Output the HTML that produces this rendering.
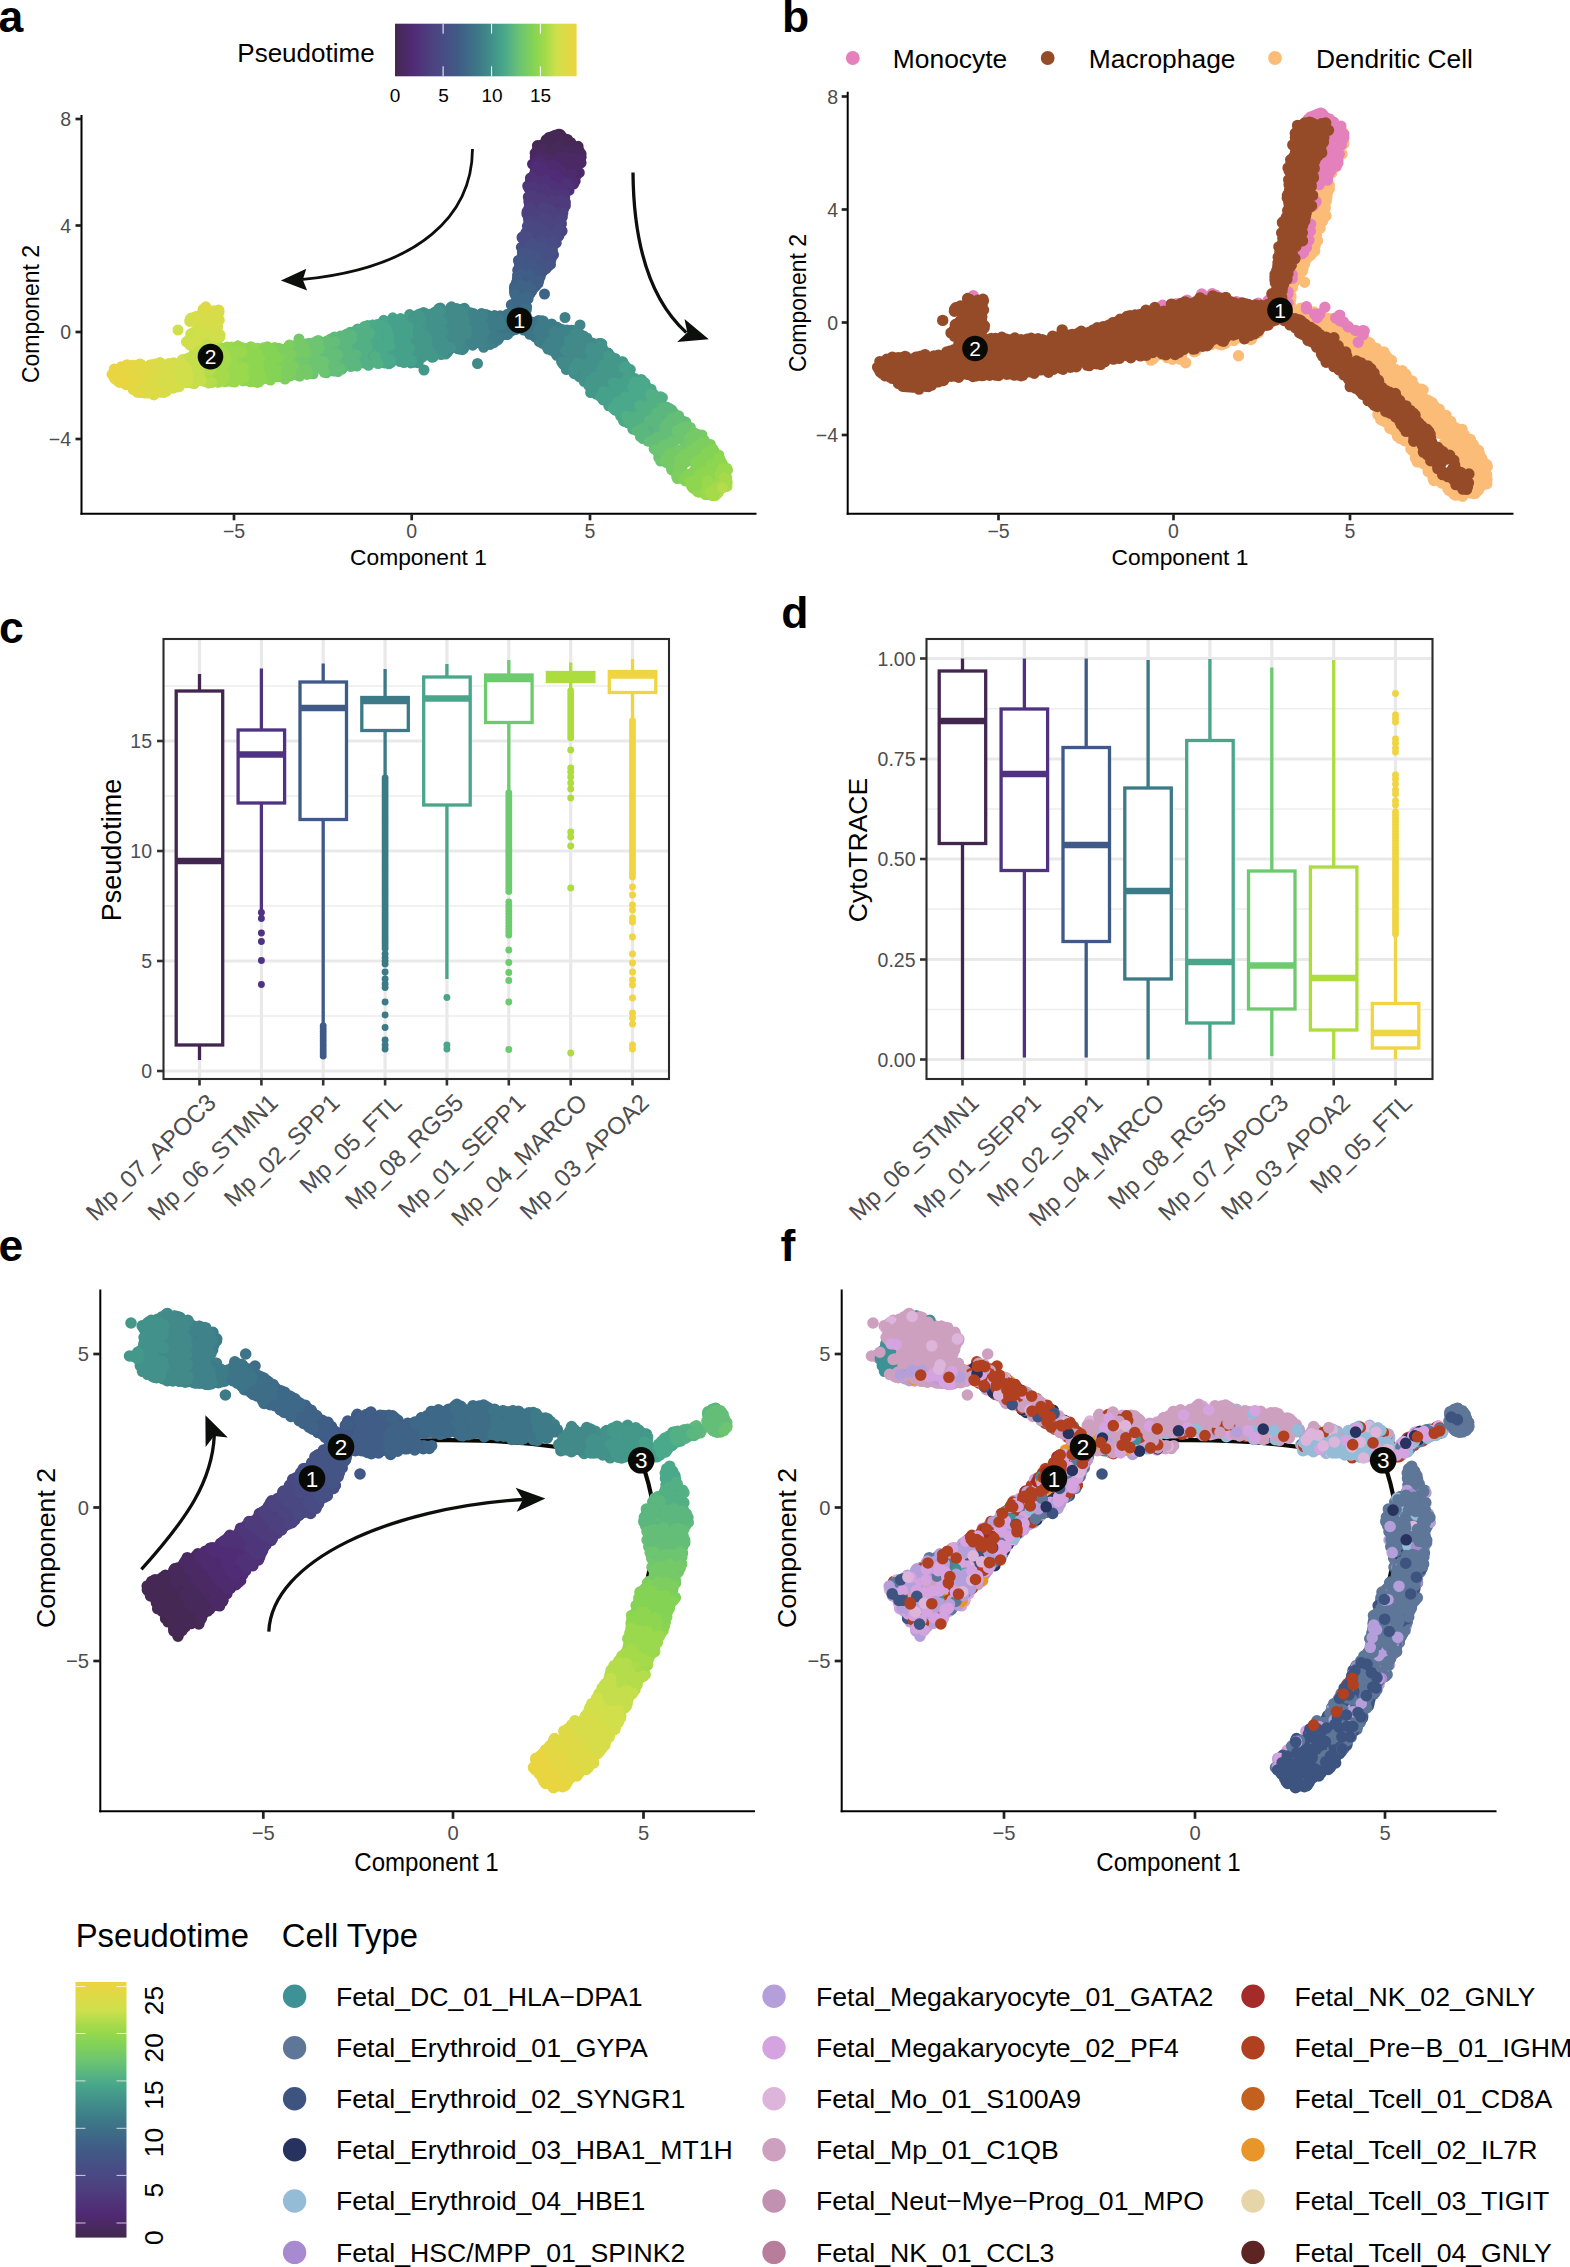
<!DOCTYPE html>
<html lang="en"><head><meta charset="utf-8"><title>Figure</title>
<style>html,body{margin:0;padding:0;background:#fff}svg{display:block}</style></head>
<body>
<svg width="1570" height="2267" viewBox="0 0 1570 2267" font-family="'Liberation Sans', Arial, Helvetica, sans-serif">
<rect width="1570" height="2267" fill="#fff"/>
<text transform="translate(-1.5 32.4)" font-size="44.5" fill="#000" text-anchor="start" font-weight="bold">a</text>
<line x1="81.5" y1="115.0" x2="81.5" y2="514.8" stroke="#000" stroke-width="2"/>
<line x1="80.5" y1="513.8" x2="756.5" y2="513.8" stroke="#000" stroke-width="2"/>
<line x1="75.5" y1="119.0" x2="81.0" y2="119.0" stroke="#222" stroke-width="2.7"/>
<text transform="translate(71.0 126.0)" font-size="19.5" fill="#4D4D4D" text-anchor="end">8</text>
<line x1="75.5" y1="225.5" x2="81.0" y2="225.5" stroke="#222" stroke-width="2.7"/>
<text transform="translate(71.0 232.5)" font-size="19.5" fill="#4D4D4D" text-anchor="end">4</text>
<line x1="75.5" y1="332.0" x2="81.0" y2="332.0" stroke="#222" stroke-width="2.7"/>
<text transform="translate(71.0 339.0)" font-size="19.5" fill="#4D4D4D" text-anchor="end">0</text>
<line x1="75.5" y1="439.0" x2="81.0" y2="439.0" stroke="#222" stroke-width="2.7"/>
<text transform="translate(71.0 446.0)" font-size="19.5" fill="#4D4D4D" text-anchor="end">−4</text>
<line x1="234.0" y1="514.3" x2="234.0" y2="520.3" stroke="#222" stroke-width="2.7"/>
<text transform="translate(234.0 538.0)" font-size="19.5" fill="#4D4D4D" text-anchor="middle">−5</text>
<line x1="411.7" y1="514.3" x2="411.7" y2="520.3" stroke="#222" stroke-width="2.7"/>
<text transform="translate(411.7 538.0)" font-size="19.5" fill="#4D4D4D" text-anchor="middle">0</text>
<line x1="590.0" y1="514.3" x2="590.0" y2="520.3" stroke="#222" stroke-width="2.7"/>
<text transform="translate(590.0 538.0)" font-size="19.5" fill="#4D4D4D" text-anchor="middle">5</text>
<text transform="translate(418.5 565.0)" font-size="22.8" fill="#000" text-anchor="middle">Component 1</text>
<text transform="translate(38.5 314.0) rotate(-90)" font-size="23" fill="#000" text-anchor="middle">Component 2</text>
<text transform="translate(237.3 62.0)" font-size="26" fill="#000" text-anchor="start">Pseudotime</text>
<defs><linearGradient id="gh" x1="0" y1="0" x2="1" y2="0"><stop offset="0.0000" stop-color="#43284E"/><stop offset="0.0950" stop-color="#502A75"/><stop offset="0.2000" stop-color="#4D417F"/><stop offset="0.2650" stop-color="#484C84"/><stop offset="0.3500" stop-color="#3F5C86"/><stop offset="0.4570" stop-color="#3D7888"/><stop offset="0.5500" stop-color="#43968A"/><stop offset="0.6000" stop-color="#48A88B"/><stop offset="0.6900" stop-color="#6CC472"/><stop offset="0.7660" stop-color="#86D453"/><stop offset="0.8300" stop-color="#A5DA4A"/><stop offset="0.8900" stop-color="#CFE04C"/><stop offset="1.0000" stop-color="#ECD43F"/></linearGradient><linearGradient id="gv" x1="0" y1="1" x2="0" y2="0"><stop offset="0.0000" stop-color="#43284E"/><stop offset="0.0950" stop-color="#502A75"/><stop offset="0.2000" stop-color="#4D417F"/><stop offset="0.2650" stop-color="#484C84"/><stop offset="0.3500" stop-color="#3F5C86"/><stop offset="0.4570" stop-color="#3D7888"/><stop offset="0.5500" stop-color="#43968A"/><stop offset="0.6000" stop-color="#48A88B"/><stop offset="0.6900" stop-color="#6CC472"/><stop offset="0.7660" stop-color="#86D453"/><stop offset="0.8300" stop-color="#A5DA4A"/><stop offset="0.8900" stop-color="#CFE04C"/><stop offset="1.0000" stop-color="#ECD43F"/></linearGradient></defs>
<rect x="395" y="23.7" width="181.6" height="52.6" fill="url(#gh)"/>
<line x1="443.1" y1="23.7" x2="443.1" y2="33.7" stroke="#fff" stroke-width="1"/>
<line x1="443.1" y1="66.3" x2="443.1" y2="76.3" stroke="#fff" stroke-width="1"/>
<line x1="491.6" y1="23.7" x2="491.6" y2="33.7" stroke="#fff" stroke-width="1"/>
<line x1="491.6" y1="66.3" x2="491.6" y2="76.3" stroke="#fff" stroke-width="1"/>
<line x1="540.4" y1="23.7" x2="540.4" y2="33.7" stroke="#fff" stroke-width="1"/>
<line x1="540.4" y1="66.3" x2="540.4" y2="76.3" stroke="#fff" stroke-width="1"/>
<text transform="translate(395.0 102.2)" font-size="19" fill="#000" text-anchor="middle">0</text>
<text transform="translate(443.5 102.2)" font-size="19" fill="#000" text-anchor="middle">5</text>
<text transform="translate(492.0 102.2)" font-size="19" fill="#000" text-anchor="middle">10</text>
<text transform="translate(540.5 102.2)" font-size="19" fill="#000" text-anchor="middle">15</text>
<path d="M544.6 143.7h.01M551.5 140.8h.01M558.5 136.3h.01M560.5 139.9h.01M565.9 143.3h.01M561.2 138.9h.01M560.1 137.2h.01M566.1 140.9h.01M563.0 141.4h.01M578.1 146.3h.01M561.6 144.0h.01M558.4 134.2h.01M564.1 138.5h.01M545.1 143.7h.01M552.2 136.4h.01M567.5 139.5h.01" stroke="#452853" stroke-width="11" stroke-linecap="round" fill="none"/>
<path d="M579.2 151.0h.01M537.4 152.8h.01M541.8 149.0h.01M554.5 151.3h.01M540.4 153.5h.01M556.4 154.3h.01M570.6 156.3h.01M555.5 149.4h.01M541.1 145.3h.01M543.2 146.7h.01M579.7 156.2h.01M575.1 155.8h.01M537.9 154.2h.01M557.3 146.2h.01M576.5 154.4h.01M537.6 149.0h.01M540.1 152.1h.01M566.2 150.7h.01M546.1 146.9h.01" stroke="#48295C" stroke-width="11" stroke-linecap="round" fill="none"/>
<path d="M572.4 172.2h.01M556.5 158.5h.01M535.1 153.1h.01M561.5 159.7h.01M557.7 157.5h.01M548.9 159.9h.01M565.3 159.0h.01M541.3 156.0h.01M536.9 152.7h.01M542.6 158.7h.01M562.9 161.0h.01M555.4 165.1h.01M578.2 160.5h.01M535.2 157.3h.01M563.5 161.6h.01M575.3 172.1h.01" stroke="#4B2965" stroke-width="11" stroke-linecap="round" fill="none"/>
<path d="M575.9 176.1h.01M553.1 169.2h.01M546.1 167.0h.01M573.0 176.0h.01M548.7 171.1h.01M564.9 174.9h.01M572.3 173.9h.01M574.1 174.3h.01M563.1 176.6h.01M565.1 176.6h.01M571.1 175.1h.01M557.4 166.3h.01M557.1 164.6h.01M538.2 163.8h.01M572.4 174.1h.01M543.6 160.2h.01M551.1 170.3h.01M540.7 160.8h.01M573.5 179.6h.01" stroke="#4E2A6F" stroke-width="11" stroke-linecap="round" fill="none"/>
<path d="M573.6 184.1h.01M536.6 170.6h.01M536.7 165.7h.01M537.9 166.9h.01M535.6 169.7h.01M559.7 181.3h.01M536.0 175.8h.01M572.2 182.7h.01M541.9 177.6h.01M549.2 172.7h.01M566.8 183.8h.01M564.9 181.7h.01M554.9 176.1h.01M544.5 171.8h.01M557.8 174.6h.01M558.8 181.1h.01M535.6 166.9h.01M548.8 172.2h.01M540.2 177.7h.01M551.1 177.8h.01" stroke="#502C76" stroke-width="11" stroke-linecap="round" fill="none"/>
<path d="M555.5 183.7h.01M561.5 183.3h.01M566.6 185.8h.01M561.9 187.4h.01M550.9 183.1h.01M565.6 185.0h.01M562.9 184.6h.01M569.0 190.4h.01M565.9 189.8h.01M561.9 188.7h.01M531.2 178.1h.01M567.9 188.6h.01M567.3 188.9h.01M548.5 183.3h.01M563.0 185.3h.01" stroke="#4F3178" stroke-width="11" stroke-linecap="round" fill="none"/>
<path d="M539.4 195.8h.01M555.6 192.3h.01M540.9 196.5h.01M540.0 195.5h.01M556.7 191.5h.01M539.1 190.0h.01M555.3 198.8h.01M540.5 188.4h.01M547.4 197.7h.01M542.8 196.0h.01M539.8 190.0h.01M544.3 197.9h.01M535.2 187.0h.01M547.4 194.2h.01M535.6 195.8h.01" stroke="#4E367A" stroke-width="11" stroke-linecap="round" fill="none"/>
<path d="M534.8 201.8h.01M551.2 203.4h.01M536.7 196.7h.01M548.1 207.5h.01M561.1 207.4h.01M545.4 204.8h.01M545.3 202.4h.01M541.2 196.9h.01M559.8 205.2h.01M551.0 204.7h.01M550.6 203.4h.01" stroke="#4E3B7C" stroke-width="11" stroke-linecap="round" fill="none"/>
<path d="M534.1 205.0h.01M555.0 212.9h.01M555.7 216.4h.01M556.1 215.9h.01M548.7 216.0h.01M538.2 214.2h.01M537.2 212.4h.01M533.6 208.8h.01M527.0 212.0h.01M540.9 209.4h.01M535.8 207.7h.01M562.3 217.0h.01M539.4 210.6h.01M561.3 215.3h.01M560.8 210.9h.01M540.8 208.6h.01M561.0 217.9h.01" stroke="#4D407E" stroke-width="11" stroke-linecap="round" fill="none"/>
<path d="M550.2 220.5h.01M537.6 222.5h.01M557.5 228.8h.01M551.5 221.7h.01M541.2 223.2h.01M558.8 221.8h.01M545.4 219.7h.01M547.0 216.9h.01M555.5 219.9h.01M545.4 221.0h.01M559.7 218.9h.01M531.6 217.6h.01M558.7 224.0h.01M539.5 216.8h.01M543.2 218.3h.01M533.0 219.5h.01M555.1 219.8h.01M530.8 219.8h.01M549.0 220.5h.01M547.0 216.9h.01" stroke="#4C4480" stroke-width="11" stroke-linecap="round" fill="none"/>
<path d="M542.9 235.2h.01M549.0 232.7h.01M544.6 235.5h.01M557.3 233.3h.01M558.0 235.3h.01M560.1 232.8h.01M546.1 228.4h.01M558.8 236.0h.01M541.9 231.2h.01M541.9 227.5h.01M526.1 232.3h.01M528.8 224.5h.01M552.8 236.6h.01M557.8 230.8h.01M539.4 229.7h.01M544.1 227.5h.01M556.8 237.7h.01" stroke="#4A4882" stroke-width="11" stroke-linecap="round" fill="none"/>
<path d="M533.6 242.3h.01M556.2 242.9h.01M525.2 234.7h.01M546.6 239.0h.01M553.8 244.5h.01M542.6 244.4h.01M527.6 236.2h.01M529.6 236.2h.01M543.9 236.1h.01M550.5 240.2h.01M543.4 245.1h.01M547.1 244.0h.01M526.1 241.3h.01M539.9 246.8h.01M523.3 239.3h.01" stroke="#484B84" stroke-width="11" stroke-linecap="round" fill="none"/>
<path d="M545.0 253.6h.01M532.7 245.4h.01M537.4 250.0h.01M523.9 251.3h.01M549.2 250.5h.01M532.3 249.1h.01M542.4 254.7h.01M521.3 247.3h.01M550.3 250.0h.01M525.6 241.9h.01M529.8 246.8h.01M548.4 252.1h.01M527.2 247.0h.01M552.4 249.4h.01M527.4 242.7h.01M544.8 254.0h.01M533.2 249.7h.01M531.9 253.5h.01" stroke="#465084" stroke-width="11" stroke-linecap="round" fill="none"/>
<path d="M521.0 258.9h.01M546.9 263.8h.01M548.8 262.2h.01M550.6 258.7h.01M546.9 263.3h.01M539.5 261.0h.01M525.1 255.7h.01M539.2 265.7h.01M530.8 257.4h.01M531.1 258.2h.01M522.4 259.0h.01M546.0 264.8h.01M529.6 260.5h.01" stroke="#445485" stroke-width="11" stroke-linecap="round" fill="none"/>
<path d="M519.5 269.8h.01M539.4 275.9h.01M532.0 271.3h.01M518.4 260.5h.01M526.0 264.0h.01M523.0 271.5h.01M528.4 270.1h.01M532.2 271.8h.01M543.0 271.1h.01M518.8 269.0h.01M531.9 266.2h.01M520.3 265.6h.01M517.7 270.2h.01M536.3 273.6h.01M531.7 270.8h.01" stroke="#415886" stroke-width="11" stroke-linecap="round" fill="none"/>
<path d="M526.4 274.4h.01M536.3 277.4h.01M519.4 271.4h.01M533.8 286.5h.01M524.1 276.7h.01M534.9 285.0h.01M532.3 285.1h.01M521.0 274.8h.01M528.0 281.2h.01M522.1 281.9h.01M535.8 280.2h.01M532.8 287.9h.01" stroke="#3F5D86" stroke-width="11" stroke-linecap="round" fill="none"/>
<path d="M533.3 288.2h.01M524.4 289.0h.01M528.5 290.8h.01M519.7 282.6h.01M524.5 284.0h.01M517.0 289.2h.01M526.0 294.6h.01M514.5 288.9h.01M531.5 289.2h.01M530.2 292.6h.01M514.5 291.8h.01M529.0 292.1h.01M531.9 286.4h.01M528.5 293.6h.01" stroke="#3F6386" stroke-width="11" stroke-linecap="round" fill="none"/>
<path d="M520.2 297.4h.01M522.9 302.9h.01M511.3 304.8h.01M519.0 304.7h.01M522.7 296.7h.01M514.8 302.7h.01M514.4 303.6h.01M526.6 307.0h.01M517.5 297.5h.01M516.5 297.0h.01M518.5 296.4h.01" stroke="#3E6887" stroke-width="11" stroke-linecap="round" fill="none"/>
<path d="M518.3 318.8h.01M515.0 314.6h.01M520.2 317.4h.01M523.6 315.4h.01M513.8 317.1h.01M519.9 324.4h.01M518.0 306.9h.01M518.7 311.0h.01M518.2 308.0h.01M518.9 310.3h.01M524.1 315.6h.01M517.2 321.8h.01M519.5 307.8h.01M517.8 318.0h.01M520.2 313.4h.01M519.2 325.4h.01" stroke="#3E6E87" stroke-width="11" stroke-linecap="round" fill="none"/>
<path d="M522.5 318.3h.01M526.6 325.8h.01M504.4 325.7h.01M534.7 328.3h.01M533.1 335.1h.01M516.5 325.7h.01M527.1 330.9h.01M521.5 325.9h.01M511.1 331.0h.01M531.2 331.9h.01M506.4 327.7h.01M529.1 329.3h.01M525.8 317.7h.01M516.8 327.3h.01M529.7 334.3h.01M526.8 319.7h.01M512.5 316.5h.01" stroke="#3D7488" stroke-width="11" stroke-linecap="round" fill="none"/>
<path d="M542.8 332.3h.01M544.9 326.0h.01M541.4 332.5h.01M497.5 322.6h.01M487.5 317.0h.01M498.6 319.4h.01M498.5 317.4h.01M540.7 330.4h.01M492.7 334.7h.01M493.9 342.7h.01M492.7 320.5h.01M538.1 337.4h.01M494.6 315.4h.01M537.4 330.0h.01M539.3 341.7h.01M496.9 339.2h.01M497.0 316.3h.01M491.3 331.7h.01M542.1 343.2h.01M488.1 333.7h.01M557.2 327.2h.01M534.9 335.3h.01M495.9 336.2h.01M485.5 318.3h.01M489.5 334.6h.01M546.3 341.3h.01M506.0 334.5h.01M493.9 321.7h.01M500.3 315.8h.01M549.6 340.9h.01M539.9 334.7h.01M543.7 340.5h.01M546.5 343.3h.01M487.3 314.9h.01M535.3 337.1h.01M494.4 326.7h.01" stroke="#3E7B88" stroke-width="11" stroke-linecap="round" fill="none"/>
<path d="M487.1 336.2h.01M558.9 333.4h.01M466.9 330.5h.01M483.3 322.2h.01M472.1 331.7h.01M485.5 320.6h.01M476.4 335.0h.01M486.1 332.9h.01M474.9 328.1h.01M561.6 333.2h.01M555.0 337.8h.01M478.6 316.1h.01M559.4 330.7h.01M479.2 318.2h.01M483.6 347.3h.01M551.7 348.8h.01M551.2 348.1h.01M571.4 330.3h.01M560.3 339.1h.01M564.3 332.9h.01M569.1 333.2h.01M560.3 354.3h.01M565.1 331.7h.01M478.9 316.5h.01M472.1 318.8h.01M470.1 314.3h.01M573.0 330.5h.01M478.6 326.4h.01M472.7 345.2h.01M476.0 334.5h.01M553.5 348.5h.01M550.4 338.5h.01M489.2 344.3h.01M554.6 342.9h.01M472.0 342.8h.01M557.7 351.3h.01M556.8 327.7h.01M556.7 355.3h.01M472.2 314.3h.01M486.7 324.1h.01M469.9 321.5h.01M481.3 343.1h.01M566.3 345.8h.01M471.9 323.8h.01M471.7 342.2h.01M555.9 340.1h.01M553.6 349.6h.01M478.7 327.2h.01M559.8 329.5h.01M487.9 336.0h.01M483.6 338.6h.01" stroke="#3F8289" stroke-width="11" stroke-linecap="round" fill="none"/>
<path d="M570.3 363.7h.01M571.2 348.2h.01M467.4 318.3h.01M456.6 334.9h.01M456.1 346.6h.01M576.3 357.6h.01M458.2 343.7h.01M466.6 314.1h.01M584.9 350.0h.01M451.4 319.5h.01M464.2 316.2h.01M580.1 336.0h.01M453.0 311.1h.01M452.7 317.3h.01M458.3 347.3h.01M461.0 325.5h.01M564.1 356.7h.01M442.9 311.0h.01M456.3 310.9h.01M583.2 344.0h.01M561.1 358.3h.01M563.2 351.6h.01M457.0 331.8h.01M575.2 336.0h.01M447.3 329.2h.01M466.5 314.8h.01M461.4 310.5h.01M453.6 338.0h.01M466.9 315.3h.01M569.7 357.0h.01M566.3 369.6h.01M577.8 333.7h.01M463.3 346.1h.01M566.7 349.5h.01M457.1 318.9h.01M580.7 340.7h.01M465.3 328.7h.01M465.9 328.4h.01M457.9 311.4h.01M461.4 333.4h.01M452.6 342.4h.01M449.6 347.4h.01M587.8 340.3h.01M563.5 355.3h.01M579.2 356.9h.01M455.5 337.5h.01M582.7 335.9h.01M450.9 307.7h.01M454.4 341.6h.01M449.8 335.5h.01M460.5 349.3h.01M585.5 339.7h.01M590.6 344.7h.01M477.5 363.5h.01M462.5 349.7h.01M456.4 320.7h.01M460.6 349.2h.01M572.4 357.8h.01" stroke="#418A89" stroke-width="11" stroke-linecap="round" fill="none"/>
<path d="M587.5 376.5h.01M596.7 357.8h.01M600.4 347.5h.01M438.6 308.8h.01M585.7 380.8h.01M435.5 334.5h.01M591.0 361.8h.01M584.6 361.8h.01M602.8 351.3h.01M434.4 355.1h.01M589.6 354.6h.01M450.3 342.2h.01M441.9 350.1h.01M445.6 354.0h.01M426.9 321.0h.01M600.2 343.6h.01M584.3 381.6h.01M581.4 362.3h.01M588.0 369.0h.01M578.6 374.5h.01M598.1 350.9h.01M591.4 359.1h.01M579.2 376.6h.01M423.6 320.2h.01M594.4 346.6h.01M597.2 362.9h.01M589.6 354.8h.01M438.7 323.8h.01M593.5 354.4h.01M441.6 348.3h.01M440.1 323.9h.01M599.2 353.2h.01M438.8 332.8h.01M446.8 352.7h.01M593.2 350.3h.01M597.3 355.2h.01M434.7 320.0h.01M441.5 319.8h.01M601.4 345.4h.01M593.9 350.8h.01M448.8 345.5h.01M598.9 343.4h.01M449.3 345.3h.01M608.1 353.1h.01M597.0 368.4h.01M435.1 311.9h.01M599.7 345.6h.01M597.6 368.4h.01M424.0 314.5h.01M423.8 314.6h.01M584.1 379.9h.01M602.4 347.8h.01M433.3 348.6h.01M440.8 310.7h.01M438.2 334.9h.01M444.7 347.3h.01M442.1 339.2h.01M598.1 364.3h.01M580.9 373.2h.01M436.1 342.4h.01M443.0 334.2h.01M431.9 349.1h.01M441.5 327.0h.01M428.7 315.5h.01M427.6 325.8h.01M599.2 344.4h.01" stroke="#42918A" stroke-width="11" stroke-linecap="round" fill="none"/>
<path d="M427.0 354.7h.01M605.5 369.3h.01M417.3 318.3h.01M418.7 342.8h.01M412.4 351.6h.01M596.5 376.8h.01M416.3 321.0h.01M410.4 321.8h.01M619.2 369.4h.01M415.9 320.2h.01M601.3 372.5h.01M419.2 327.2h.01M433.3 356.9h.01M419.5 314.0h.01M595.1 370.6h.01M424.4 339.9h.01M409.6 314.6h.01M416.6 321.5h.01M418.3 324.6h.01M423.0 343.3h.01M419.5 345.3h.01M605.7 381.2h.01M417.9 324.4h.01M420.7 315.5h.01M408.5 326.0h.01M618.5 369.2h.01M602.9 363.0h.01M604.2 386.4h.01M615.2 374.6h.01M418.7 358.6h.01M595.9 393.1h.01M596.1 394.2h.01M607.5 356.2h.01M601.5 377.4h.01M422.1 318.7h.01M419.7 329.2h.01M591.6 383.8h.01M622.3 364.3h.01M594.2 385.4h.01M413.7 330.9h.01M411.2 323.0h.01M613.9 370.5h.01M600.4 387.6h.01M417.0 329.4h.01M413.1 332.0h.01M419.8 358.7h.01M588.9 385.7h.01M414.7 330.4h.01M592.1 384.4h.01M590.7 384.7h.01M417.1 337.7h.01M418.2 332.0h.01M417.9 318.0h.01M413.5 318.8h.01M608.3 381.0h.01M417.4 360.2h.01M424.9 337.1h.01M608.5 373.2h.01M416.7 317.8h.01M615.2 364.8h.01M411.7 317.7h.01M423.8 326.5h.01M417.7 339.7h.01M410.0 325.0h.01M592.9 385.0h.01M608.4 369.2h.01M420.6 341.8h.01M432.2 356.4h.01M417.0 317.3h.01M410.9 318.6h.01M601.2 365.2h.01M608.6 360.3h.01" stroke="#44988A" stroke-width="11" stroke-linecap="round" fill="none"/>
<path d="M400.3 349.1h.01M401.2 333.4h.01M398.0 322.7h.01M405.8 354.3h.01M602.9 394.3h.01M616.0 377.9h.01M393.6 323.6h.01M621.3 376.5h.01M613.3 393.1h.01M406.9 356.2h.01M402.0 334.2h.01M409.0 342.0h.01M392.4 324.2h.01M404.4 340.7h.01M401.4 328.3h.01M403.5 348.8h.01M600.8 392.6h.01M393.3 349.2h.01M403.8 356.3h.01M411.5 359.3h.01M401.7 349.9h.01M619.1 386.5h.01M604.5 397.0h.01M409.0 340.2h.01M392.5 336.6h.01M609.2 399.8h.01M610.9 403.0h.01M614.7 404.0h.01M601.6 394.4h.01M399.8 324.8h.01M628.3 373.6h.01M404.5 358.7h.01M615.6 401.2h.01M616.1 377.0h.01M405.8 357.4h.01M394.0 352.3h.01M623.2 376.2h.01M397.5 328.0h.01M400.1 361.6h.01M397.9 324.0h.01M609.1 404.4h.01M402.0 321.4h.01M398.6 359.2h.01M401.9 356.9h.01M404.7 338.9h.01M625.2 383.8h.01M401.7 359.0h.01M617.1 398.8h.01M392.4 322.1h.01M408.1 355.9h.01M392.3 338.8h.01M394.5 328.3h.01M631.5 377.2h.01M394.9 321.4h.01M608.8 405.8h.01M620.7 394.2h.01M408.2 320.8h.01M626.0 368.9h.01" stroke="#46A18B" stroke-width="11" stroke-linecap="round" fill="none"/>
<path d="M624.2 401.4h.01M385.0 346.8h.01M378.8 327.6h.01M383.4 357.8h.01M376.2 328.6h.01M379.9 331.4h.01M383.6 324.8h.01M388.1 349.1h.01M630.0 406.8h.01M385.7 337.3h.01M631.8 385.8h.01M378.5 340.3h.01M386.3 327.9h.01M382.3 347.2h.01M635.5 387.3h.01M382.1 361.6h.01M385.1 330.9h.01M638.1 392.2h.01M381.1 337.1h.01M637.1 404.5h.01M626.8 415.3h.01M635.8 382.4h.01M388.4 324.4h.01M388.8 363.8h.01M378.3 339.7h.01M643.4 385.2h.01M627.2 404.5h.01M382.4 352.3h.01M616.1 403.5h.01M623.5 403.4h.01M639.2 384.0h.01M381.8 345.9h.01M636.8 382.1h.01M627.4 407.9h.01M377.2 324.7h.01M621.1 400.1h.01M644.1 382.3h.01M374.0 340.5h.01M383.5 360.1h.01M643.5 382.3h.01M627.6 407.6h.01M646.8 393.6h.01M382.7 354.0h.01M388.1 356.3h.01M629.6 388.9h.01M644.5 398.8h.01M383.5 324.5h.01M384.7 359.0h.01M621.7 412.9h.01M387.6 360.4h.01M643.1 385.1h.01M636.4 383.3h.01M648.5 388.4h.01M629.6 399.4h.01M626.5 391.5h.01M626.4 411.2h.01M388.8 338.2h.01M638.9 381.6h.01M632.3 401.6h.01M624.2 409.1h.01M620.2 409.6h.01M389.2 359.5h.01M382.6 361.0h.01M641.0 390.2h.01M377.1 342.3h.01M627.3 401.3h.01M381.3 352.9h.01" stroke="#49A98A" stroke-width="11" stroke-linecap="round" fill="none"/>
<path d="M659.3 403.2h.01M372.1 359.7h.01M372.5 357.2h.01M364.3 360.1h.01M638.3 406.8h.01M361.3 357.3h.01M648.7 398.3h.01M364.4 354.5h.01M359.9 344.4h.01M656.4 404.5h.01M635.3 426.5h.01M371.1 350.3h.01M362.2 337.6h.01M640.6 405.8h.01M368.0 350.4h.01M363.7 336.7h.01M357.5 349.6h.01M644.9 409.7h.01M656.1 406.6h.01M359.8 354.9h.01M651.1 395.1h.01M366.1 347.3h.01M660.7 396.8h.01M634.5 422.2h.01M650.8 395.5h.01M632.8 429.2h.01M357.0 335.9h.01M633.1 422.4h.01M650.3 402.2h.01M371.9 350.7h.01M641.3 426.4h.01M374.8 356.5h.01M660.4 399.4h.01M641.7 412.9h.01M635.3 423.8h.01M636.6 420.6h.01M362.9 355.8h.01M364.4 348.0h.01M360.1 345.4h.01M624.8 421.6h.01M646.8 413.8h.01M368.4 347.6h.01M651.8 407.3h.01M632.0 419.1h.01M369.5 360.0h.01M364.5 363.2h.01M657.4 397.6h.01M645.1 412.8h.01M657.5 405.6h.01M643.5 407.1h.01M645.7 411.8h.01" stroke="#52B084" stroke-width="11" stroke-linecap="round" fill="none"/>
<path d="M661.1 410.8h.01M657.6 412.3h.01M346.6 358.3h.01M669.0 408.3h.01M650.8 419.9h.01M665.4 408.6h.01M344.5 349.5h.01M645.2 431.8h.01M346.3 364.4h.01M644.4 435.1h.01M346.4 346.6h.01M341.5 342.8h.01M338.5 351.3h.01M349.3 345.6h.01M662.7 409.4h.01M647.8 440.1h.01M660.1 427.0h.01M342.1 355.3h.01M641.7 427.0h.01M350.1 332.3h.01M654.0 413.0h.01M345.3 357.3h.01M654.0 428.1h.01M654.6 431.5h.01M643.2 429.1h.01M345.0 351.8h.01M655.0 413.7h.01M344.4 353.3h.01M651.0 417.3h.01M650.5 437.9h.01M666.9 407.5h.01M354.6 365.6h.01M656.7 427.5h.01M660.9 427.4h.01M339.8 346.2h.01M666.5 418.0h.01M347.3 336.5h.01M340.8 336.9h.01M668.8 409.9h.01M657.2 423.6h.01M646.4 421.4h.01M341.4 361.8h.01M342.0 369.0h.01M649.3 435.1h.01M345.2 346.9h.01M343.5 336.6h.01M663.9 407.6h.01M339.2 352.4h.01M348.4 334.0h.01M346.8 364.3h.01M343.6 351.9h.01" stroke="#5BB77E" stroke-width="11" stroke-linecap="round" fill="none"/>
<path d="M326.9 344.5h.01M323.0 343.9h.01M675.7 420.3h.01M326.9 342.3h.01M652.6 438.2h.01M661.5 444.7h.01M335.7 342.9h.01M336.4 368.1h.01M667.4 437.3h.01M333.2 346.6h.01M670.0 427.8h.01M337.5 350.8h.01M668.5 429.1h.01M682.7 423.7h.01M334.5 356.0h.01M334.0 344.1h.01M329.7 339.7h.01M655.4 441.7h.01M660.0 438.6h.01M667.0 428.9h.01M654.7 442.0h.01M655.2 436.7h.01M655.9 449.7h.01M328.9 351.8h.01M679.4 418.6h.01M328.1 344.1h.01M655.2 441.6h.01M683.2 421.9h.01M656.3 447.2h.01M335.2 360.6h.01M670.1 434.6h.01M324.3 352.3h.01M669.1 435.5h.01M681.5 423.7h.01M336.4 359.0h.01M674.2 419.1h.01M335.6 362.6h.01M340.1 362.0h.01M328.2 371.2h.01M673.0 420.3h.01M683.0 422.9h.01M666.9 438.5h.01M330.6 339.0h.01M677.7 421.8h.01" stroke="#64BE77" stroke-width="11" stroke-linecap="round" fill="none"/>
<path d="M320.4 357.6h.01M318.0 361.6h.01M310.2 349.8h.01M321.0 363.9h.01M305.8 343.9h.01M658.7 457.5h.01M661.8 457.5h.01M314.5 352.3h.01M680.9 436.0h.01M316.2 344.3h.01M313.6 342.8h.01M664.0 448.7h.01M319.0 340.8h.01M321.7 364.0h.01M680.8 432.3h.01M674.2 432.3h.01M318.8 348.9h.01M322.6 349.1h.01M305.9 347.4h.01M673.1 445.1h.01M669.2 441.4h.01M315.8 348.4h.01M683.3 436.0h.01M660.6 461.0h.01M663.9 458.2h.01M658.9 450.0h.01M690.5 430.7h.01M658.5 451.4h.01M683.2 426.0h.01M309.4 359.3h.01M661.6 457.2h.01M672.9 449.3h.01M672.6 444.6h.01M318.3 340.4h.01M658.3 452.7h.01M665.9 454.0h.01M684.1 426.5h.01M311.0 363.4h.01" stroke="#6DC571" stroke-width="11" stroke-linecap="round" fill="none"/>
<path d="M670.5 453.4h.01M692.7 440.4h.01M293.1 366.5h.01M688.7 434.3h.01M298.2 348.3h.01M294.6 352.4h.01M299.9 352.0h.01M692.1 443.9h.01M301.2 371.3h.01M301.0 354.4h.01M302.8 369.3h.01M293.9 360.1h.01M672.2 462.8h.01M299.8 376.2h.01M676.9 454.4h.01M298.8 352.7h.01M305.3 350.4h.01M301.4 360.7h.01M691.0 444.2h.01M300.5 347.8h.01M305.5 362.2h.01M673.2 465.3h.01M300.7 366.3h.01M308.1 359.3h.01M701.9 435.0h.01M303.3 373.9h.01M300.1 363.3h.01M687.5 452.6h.01M308.5 373.5h.01M665.5 460.0h.01M295.3 347.6h.01M671.9 465.2h.01M694.6 438.6h.01M304.2 346.9h.01M296.4 364.3h.01M306.4 344.9h.01M299.3 369.1h.01M686.9 451.5h.01M295.3 353.8h.01M671.6 466.9h.01M667.9 458.4h.01M668.8 455.5h.01M700.4 440.3h.01M302.3 361.8h.01M695.4 443.1h.01M694.3 433.0h.01M307.6 371.9h.01M692.4 443.8h.01M677.5 458.4h.01M299.2 348.4h.01M694.7 436.8h.01M292.3 350.1h.01" stroke="#75C967" stroke-width="11" stroke-linecap="round" fill="none"/>
<path d="M704.0 452.5h.01M284.3 359.5h.01M286.6 367.1h.01M280.4 357.8h.01M289.1 358.7h.01M699.9 440.8h.01M702.8 445.3h.01M693.4 451.0h.01M675.7 467.8h.01M294.3 374.2h.01M290.9 364.9h.01M289.8 353.3h.01M287.8 359.4h.01M284.7 370.9h.01M287.6 373.8h.01M702.5 441.0h.01M282.5 374.6h.01M282.7 349.5h.01M699.5 443.0h.01M285.1 379.0h.01M281.7 375.2h.01M287.7 374.9h.01M699.1 443.4h.01M701.2 453.0h.01M288.8 351.4h.01M707.1 446.6h.01M676.5 472.3h.01M679.3 469.0h.01M282.4 373.4h.01M689.8 451.2h.01M285.8 355.0h.01M682.3 464.9h.01M688.0 458.3h.01M676.5 470.7h.01M290.1 347.2h.01M679.9 474.4h.01M282.0 363.7h.01M684.2 462.5h.01M702.6 454.9h.01M287.0 357.4h.01M288.3 361.7h.01" stroke="#7DCE5E" stroke-width="11" stroke-linecap="round" fill="none"/>
<path d="M267.5 346.8h.01M270.6 380.0h.01M713.6 456.6h.01M278.8 366.5h.01M706.4 455.0h.01M689.6 477.7h.01M269.6 378.2h.01M266.0 368.4h.01M684.2 475.9h.01M705.9 451.0h.01M274.8 365.1h.01M269.6 374.5h.01M708.1 449.6h.01M716.5 456.8h.01M710.1 455.4h.01M704.2 456.2h.01M711.0 450.7h.01M271.0 349.8h.01M274.5 347.4h.01M269.2 377.7h.01M266.1 347.4h.01M701.5 463.1h.01M694.5 471.5h.01M265.6 364.3h.01M695.0 470.3h.01M696.3 466.4h.01M270.7 376.9h.01M706.1 459.0h.01M278.3 375.5h.01M699.6 459.9h.01M278.5 370.5h.01M685.3 480.9h.01M267.7 372.4h.01M263.3 354.5h.01M272.4 366.6h.01M265.3 368.6h.01M715.6 457.0h.01M711.0 458.7h.01M278.4 362.7h.01M267.6 353.4h.01M683.0 479.1h.01M269.6 357.1h.01M269.6 349.2h.01M706.2 454.5h.01M275.6 360.3h.01" stroke="#84D355" stroke-width="11" stroke-linecap="round" fill="none"/>
<path d="M721.5 462.2h.01M697.3 480.6h.01M712.5 474.2h.01M244.2 364.4h.01M245.4 348.5h.01M257.3 382.4h.01M722.4 464.0h.01M690.9 482.8h.01M696.8 490.5h.01M697.3 486.7h.01M260.4 376.4h.01M707.8 468.5h.01M707.7 468.5h.01M244.6 366.0h.01M251.8 352.2h.01M715.8 466.0h.01M245.8 356.6h.01M704.4 469.5h.01M246.4 380.5h.01M695.0 487.0h.01M715.3 458.4h.01M713.4 470.9h.01M712.6 468.0h.01M249.8 362.1h.01M253.1 371.8h.01M694.2 487.3h.01M716.1 472.6h.01M255.0 381.2h.01M713.4 470.1h.01M258.8 353.9h.01M255.2 366.7h.01M698.7 475.0h.01M254.5 377.4h.01M260.7 374.7h.01M257.1 358.3h.01M247.0 358.5h.01M250.3 352.7h.01M715.9 466.3h.01M710.9 475.3h.01M245.9 368.0h.01M254.6 381.5h.01M720.7 466.1h.01M257.4 348.2h.01M702.6 478.7h.01M250.9 346.7h.01M702.5 482.6h.01M694.1 482.8h.01" stroke="#8FD650" stroke-width="11" stroke-linecap="round" fill="none"/>
<path d="M702.0 492.1h.01M231.7 356.0h.01M238.9 363.7h.01M243.3 366.2h.01M228.7 380.5h.01M699.3 492.3h.01M240.2 364.2h.01M227.3 350.5h.01M231.7 353.8h.01M235.4 363.0h.01M724.3 468.2h.01M723.0 470.5h.01M242.8 375.0h.01M227.0 374.7h.01M235.0 365.3h.01M236.6 374.6h.01M240.0 373.3h.01M699.4 487.0h.01M699.6 490.6h.01M233.6 381.2h.01M699.7 492.2h.01M241.9 347.6h.01M231.5 348.2h.01M233.3 372.6h.01M234.7 382.1h.01" stroke="#9AD84D" stroke-width="11" stroke-linecap="round" fill="none"/>
<path d="M213.8 377.9h.01M713.0 492.8h.01M214.6 361.2h.01M220.1 349.0h.01M214.9 356.4h.01M219.9 378.6h.01M214.2 351.2h.01M225.0 362.3h.01M219.9 370.7h.01M222.5 355.5h.01M712.1 495.3h.01M713.0 486.7h.01M214.1 357.5h.01M224.6 375.4h.01M222.7 352.8h.01M719.5 482.6h.01M222.0 377.7h.01M216.8 372.2h.01M718.6 492.1h.01M217.7 355.7h.01M715.9 490.6h.01M219.1 382.0h.01M723.9 479.5h.01M715.1 495.5h.01M222.0 349.1h.01M224.3 363.9h.01M215.4 359.4h.01M219.7 379.3h.01M714.3 488.4h.01M221.9 375.5h.01M214.5 369.7h.01M224.6 362.9h.01M219.7 361.4h.01M718.0 492.8h.01M213.9 351.2h.01M726.8 478.0h.01M221.9 376.5h.01" stroke="#A5DA4A" stroke-width="11" stroke-linecap="round" fill="none"/>
<path d="M208.4 380.2h.01M717.3 493.6h.01M210.3 366.0h.01M204.4 377.8h.01M206.5 359.1h.01M204.7 369.1h.01M204.3 351.8h.01M206.8 369.0h.01M205.9 370.2h.01M208.8 379.2h.01M201.2 355.5h.01M211.1 375.6h.01M208.4 378.4h.01M212.6 372.5h.01M208.7 383.1h.01M211.9 363.1h.01M211.9 378.0h.01M202.8 366.7h.01M212.3 361.8h.01M198.8 355.5h.01" stroke="#B5DC4B" stroke-width="11" stroke-linecap="round" fill="none"/>
<path d="M194.2 383.7h.01M185.8 362.5h.01M215.9 347.4h.01M188.2 362.6h.01M211.0 338.5h.01M196.4 346.6h.01M189.9 381.0h.01M207.8 348.1h.01M194.7 360.9h.01M217.6 345.1h.01M184.8 359.2h.01M194.5 355.7h.01M187.0 365.4h.01M210.2 343.2h.01M199.3 372.5h.01M201.2 346.9h.01M203.4 347.4h.01M193.5 383.4h.01M197.3 372.2h.01M192.0 345.0h.01M200.2 379.0h.01M197.6 364.9h.01M208.6 347.8h.01M192.4 375.2h.01M183.6 359.5h.01M188.1 367.1h.01M209.1 340.0h.01M194.7 359.8h.01M194.6 383.1h.01M189.6 366.9h.01" stroke="#C4DE4C" stroke-width="11" stroke-linecap="round" fill="none"/>
<path d="M180.0 367.7h.01M204.0 328.6h.01M192.6 337.1h.01M178.4 375.2h.01M198.8 339.1h.01M212.6 331.9h.01M198.0 338.9h.01M176.6 380.4h.01M180.5 369.8h.01M217.2 336.3h.01M174.1 374.1h.01M191.9 318.4h.01M181.8 367.3h.01M183.2 371.0h.01M186.4 341.8h.01M173.1 375.3h.01M186.6 375.3h.01M210.5 339.1h.01M180.7 384.3h.01M190.0 319.7h.01M189.7 344.9h.01M177.8 385.1h.01M179.1 386.7h.01M197.3 323.3h.01M172.8 376.6h.01M177.9 386.9h.01M214.2 332.7h.01M176.9 386.2h.01M182.2 359.8h.01" stroke="#D1DF4B" stroke-width="11" stroke-linecap="round" fill="none"/>
<path d="M211.0 326.4h.01M160.3 377.2h.01M158.0 371.3h.01M160.0 362.4h.01M158.4 379.2h.01M155.1 366.9h.01M164.0 374.6h.01M167.8 389.6h.01M157.1 367.4h.01M216.1 332.3h.01M165.4 365.1h.01M165.5 389.8h.01M165.4 381.0h.01M205.0 309.9h.01M214.6 322.5h.01M173.9 385.8h.01M213.1 326.9h.01M170.2 386.0h.01M213.3 327.9h.01M161.8 391.2h.01M203.1 309.3h.01M166.8 365.9h.01M214.4 315.3h.01M204.8 316.2h.01M160.6 392.3h.01M218.6 312.7h.01M163.6 392.5h.01M166.6 391.2h.01M173.2 388.2h.01M169.2 374.7h.01M162.5 382.5h.01M216.0 327.0h.01M205.3 317.0h.01M216.4 329.4h.01M155.9 363.9h.01M167.8 365.7h.01M216.9 316.6h.01M205.4 315.0h.01M171.1 384.1h.01M164.7 383.8h.01M195.8 316.4h.01M165.7 388.4h.01M164.0 388.2h.01M171.4 387.5h.01M163.8 383.3h.01M214.2 311.6h.01M156.6 367.6h.01M216.6 325.7h.01" stroke="#D7DD48" stroke-width="11" stroke-linecap="round" fill="none"/>
<path d="M143.8 390.3h.01M217.4 311.1h.01M143.5 389.2h.01M218.7 310.0h.01M142.2 391.6h.01M155.9 385.7h.01M150.8 364.8h.01M149.5 373.2h.01M140.8 392.6h.01M146.3 378.4h.01M141.0 385.8h.01M147.3 393.1h.01M152.8 365.4h.01M150.2 373.5h.01M151.1 379.3h.01M141.2 389.3h.01M153.0 364.6h.01M141.2 388.5h.01M149.8 374.3h.01" stroke="#DDDA46" stroke-width="11" stroke-linecap="round" fill="none"/>
<path d="M135.8 378.8h.01M132.7 365.2h.01M126.4 384.7h.01M135.9 365.4h.01M133.0 380.6h.01M134.2 386.9h.01M138.4 370.9h.01M139.6 373.0h.01M133.1 378.4h.01M134.3 386.2h.01M132.6 386.7h.01M133.2 389.6h.01M132.9 383.7h.01M139.1 377.3h.01M127.2 376.3h.01M140.5 364.3h.01M136.2 385.1h.01" stroke="#E3D843" stroke-width="11" stroke-linecap="round" fill="none"/>
<path d="M122.4 367.7h.01M113.0 373.8h.01M113.7 376.6h.01M116.7 380.1h.01M121.5 377.6h.01M119.9 374.2h.01M125.7 378.0h.01M116.5 370.4h.01M124.5 383.4h.01M112.0 374.3h.01M118.5 369.9h.01" stroke="#E9D540" stroke-width="11" stroke-linecap="round" fill="none"/>
<path d="M114.9 370.8h.01M119.5 374.1h.01M117.3 373.0h.01M124.9 368.8h.01M128.6 374.1h.01M137.6 365.8h.01M127.0 364.7h.01M130.4 372.1h.01M120.8 381.0h.01M126.1 383.4h.01M118.0 375.1h.01M127.8 373.3h.01M133.2 381.3h.01M126.4 382.3h.01M119.5 382.4h.01M114.3 369.0h.01M127.6 379.4h.01M121.0 369.6h.01M124.0 375.4h.01M134.0 369.3h.01" stroke="#E6D642" stroke-width="11" stroke-linecap="round" fill="none"/>
<path d="M147.3 378.4h.01M151.1 367.2h.01M137.7 379.4h.01M137.4 382.4h.01M133.1 385.0h.01M143.3 372.2h.01M137.6 384.4h.01M144.2 392.9h.01M139.8 364.0h.01M146.8 367.9h.01M140.6 373.1h.01M140.7 364.4h.01M142.9 378.6h.01M146.9 368.2h.01M139.8 372.3h.01M143.7 392.1h.01M145.1 377.9h.01M141.7 374.9h.01M149.8 374.0h.01M143.0 373.0h.01" stroke="#E0D944" stroke-width="11" stroke-linecap="round" fill="none"/>
<path d="M156.0 364.2h.01M207.1 311.4h.01M162.6 383.9h.01M207.9 313.8h.01M219.3 320.1h.01M215.8 311.2h.01M150.0 366.0h.01M155.8 392.1h.01M162.8 369.5h.01M205.6 310.6h.01M161.7 372.2h.01M154.8 371.1h.01M152.5 389.1h.01M158.3 382.4h.01M219.1 311.5h.01M149.5 365.6h.01M153.0 394.1h.01M151.5 366.6h.01M158.2 387.7h.01M150.5 382.0h.01M206.4 311.0h.01M213.8 310.8h.01M145.0 390.0h.01M202.3 313.1h.01M155.2 372.4h.01M153.9 394.9h.01M158.6 371.2h.01M160.9 390.4h.01M161.8 379.1h.01M160.0 386.1h.01" stroke="#DADB47" stroke-width="11" stroke-linecap="round" fill="none"/>
<path d="M217.6 326.7h.01M170.0 364.1h.01M179.4 383.6h.01M215.0 328.9h.01M174.0 364.9h.01M217.0 325.1h.01M189.8 321.4h.01M192.4 318.4h.01M174.2 380.3h.01M202.7 319.7h.01M172.7 386.5h.01M164.9 368.9h.01M180.8 381.8h.01M216.0 321.8h.01M206.7 322.5h.01M171.2 378.4h.01M191.2 333.6h.01M215.7 330.4h.01M167.3 387.3h.01M212.5 337.6h.01M174.8 378.0h.01M204.7 319.1h.01M177.3 365.1h.01M191.1 318.1h.01M177.6 364.8h.01M181.9 379.9h.01M195.5 330.8h.01M180.0 376.2h.01M173.9 381.2h.01M180.6 374.6h.01M216.6 330.9h.01M174.0 373.5h.01M174.4 369.0h.01M166.7 368.7h.01M166.2 366.4h.01M201.8 318.7h.01M207.3 331.8h.01M177.8 367.6h.01M198.1 321.9h.01M197.8 316.3h.01M210.8 325.5h.01M207.4 316.8h.01M177.1 384.2h.01M182.7 379.7h.01M212.1 321.8h.01M179.2 367.0h.01M204.3 332.9h.01M174.3 379.6h.01M207.3 332.5h.01M172.3 369.6h.01M199.2 330.5h.01" stroke="#D4DE4A" stroke-width="11" stroke-linecap="round" fill="none"/>
<path d="M195.8 338.7h.01M191.9 375.5h.01M191.2 380.4h.01M187.8 358.6h.01M207.9 338.6h.01M196.0 378.8h.01M193.3 376.2h.01M203.3 336.0h.01M219.0 335.0h.01M216.5 332.8h.01M218.7 337.3h.01M194.6 347.0h.01M202.7 335.2h.01M183.3 363.2h.01M206.4 347.0h.01M198.8 337.1h.01M186.7 382.8h.01M217.0 337.2h.01M190.7 334.3h.01M189.0 339.7h.01M219.9 337.1h.01M190.5 369.2h.01M183.9 371.2h.01M220.1 335.0h.01M181.8 372.7h.01M190.0 381.8h.01M196.2 338.8h.01M178.6 364.9h.01M214.7 343.0h.01M179.6 364.0h.01M180.2 367.3h.01M216.4 338.5h.01M201.3 346.9h.01M196.2 349.3h.01M179.9 367.1h.01" stroke="#CCE04C" stroke-width="11" stroke-linecap="round" fill="none"/>
<path d="M207.3 378.1h.01M207.6 380.2h.01M198.6 374.8h.01M197.5 360.4h.01M202.6 380.9h.01M209.4 379.1h.01M205.0 374.1h.01M201.1 364.8h.01M207.7 382.3h.01M202.2 362.3h.01M203.6 381.2h.01M199.4 352.6h.01M203.3 376.4h.01M196.1 363.2h.01M203.8 374.6h.01" stroke="#BDDD4B" stroke-width="11" stroke-linecap="round" fill="none"/>
<path d="M214.8 366.8h.01M712.5 492.7h.01M210.4 373.5h.01M217.8 349.8h.01M218.0 350.6h.01M206.5 358.4h.01M716.2 490.0h.01M727.0 486.4h.01M715.6 491.4h.01M214.4 379.8h.01M218.4 349.2h.01M720.2 488.6h.01M210.7 352.9h.01M218.6 379.7h.01M209.5 362.7h.01M217.8 374.8h.01M212.0 360.7h.01M216.4 370.1h.01M218.7 374.5h.01M214.1 380.7h.01M212.5 351.7h.01M214.7 371.1h.01M216.5 362.3h.01M206.9 353.7h.01M215.4 376.8h.01M216.5 369.4h.01M204.7 359.2h.01" stroke="#ADDB4A" stroke-width="11" stroke-linecap="round" fill="none"/>
<path d="M231.0 369.0h.01M221.4 365.3h.01M224.5 353.3h.01M232.1 350.0h.01M225.4 381.8h.01M229.2 352.2h.01M225.1 349.6h.01M222.3 352.2h.01M708.4 489.8h.01M705.4 494.7h.01M234.3 374.1h.01M225.6 354.3h.01M231.8 373.5h.01M225.2 367.7h.01M229.8 366.4h.01M228.3 351.4h.01M231.1 372.5h.01M231.5 347.0h.01M221.5 359.4h.01M230.3 359.8h.01M228.7 355.7h.01M229.7 358.5h.01M226.8 378.3h.01M709.4 494.7h.01M233.5 378.5h.01M220.0 381.1h.01M722.3 477.4h.01M224.6 367.3h.01M226.4 349.2h.01M717.8 482.4h.01M233.7 380.0h.01M230.7 364.3h.01M221.5 362.4h.01M224.1 380.0h.01M227.2 350.3h.01M722.7 476.8h.01M707.3 492.1h.01M710.9 489.1h.01M225.1 356.1h.01M721.7 478.5h.01M233.2 360.8h.01M222.7 348.6h.01M235.6 362.8h.01" stroke="#9FD94C" stroke-width="11" stroke-linecap="round" fill="none"/>
<path d="M726.8 468.4h.01M241.9 362.9h.01M244.5 379.9h.01M243.0 370.8h.01M244.3 374.8h.01M713.2 469.6h.01M245.0 373.5h.01M705.9 477.6h.01M237.0 375.4h.01M251.3 361.1h.01M240.5 376.5h.01M249.7 361.9h.01M244.0 353.4h.01M707.0 485.8h.01M720.9 467.5h.01M244.6 369.3h.01M240.4 369.7h.01M237.4 366.4h.01M710.4 483.7h.01M238.0 346.1h.01M244.2 353.2h.01M243.0 361.8h.01M251.3 381.4h.01M242.5 379.0h.01M250.1 365.5h.01M237.8 345.9h.01M240.3 348.2h.01M709.9 472.0h.01M726.6 468.2h.01M714.7 472.0h.01M245.1 352.4h.01M253.0 374.2h.01M242.0 359.9h.01M701.3 481.5h.01M251.1 353.2h.01M704.7 489.5h.01M253.6 365.9h.01M250.4 363.5h.01M721.4 472.1h.01M703.0 482.6h.01M253.9 348.2h.01M697.6 491.7h.01M235.4 352.2h.01M722.8 471.4h.01M249.7 367.8h.01M699.0 489.9h.01M249.8 360.2h.01M242.9 380.9h.01M695.7 485.7h.01M243.9 350.3h.01" stroke="#94D74F" stroke-width="11" stroke-linecap="round" fill="none"/>
<path d="M697.6 470.9h.01M266.6 360.3h.01M701.9 476.4h.01M258.7 371.0h.01M262.1 378.3h.01M263.2 361.6h.01M258.8 380.8h.01M690.4 482.2h.01M263.4 347.8h.01M693.1 472.3h.01M267.8 353.9h.01M715.6 459.8h.01M714.4 465.9h.01M256.6 362.1h.01M717.4 458.2h.01M698.7 472.8h.01M260.3 362.6h.01M257.2 372.8h.01M255.9 358.9h.01M691.5 486.1h.01M718.7 454.9h.01M269.6 359.6h.01M265.1 348.7h.01M696.4 472.2h.01M269.4 377.2h.01M268.0 378.9h.01M261.7 376.0h.01M271.3 373.6h.01M258.9 370.3h.01M258.9 358.6h.01M714.4 461.6h.01M268.0 375.9h.01M258.7 368.7h.01M690.2 482.6h.01M268.5 354.9h.01M718.2 457.0h.01M704.6 472.4h.01M264.5 354.3h.01M263.0 378.8h.01M262.1 351.3h.01M711.5 467.0h.01M267.3 354.8h.01" stroke="#89D552" stroke-width="11" stroke-linecap="round" fill="none"/>
<path d="M284.6 357.1h.01M278.1 348.6h.01M280.5 363.4h.01M702.7 460.6h.01M681.0 469.3h.01M706.6 444.5h.01M274.2 375.9h.01M684.9 479.6h.01M277.5 376.8h.01M708.6 447.9h.01M704.3 445.5h.01M680.9 469.4h.01M280.1 370.1h.01M275.8 374.0h.01M696.9 454.1h.01M684.9 473.6h.01M701.4 451.9h.01M272.7 355.0h.01M692.9 460.7h.01M698.2 460.9h.01M702.0 451.6h.01M277.6 361.8h.01M277.7 354.3h.01M687.5 474.6h.01M680.5 473.8h.01M705.8 456.0h.01M278.9 350.4h.01M278.8 361.7h.01M282.1 376.9h.01M276.5 358.1h.01M705.6 447.7h.01M279.9 354.5h.01M712.7 452.5h.01M712.2 450.9h.01M677.4 472.8h.01M283.5 354.0h.01M285.1 358.1h.01M279.4 356.4h.01M276.3 348.9h.01M282.5 368.1h.01" stroke="#81D15A" stroke-width="11" stroke-linecap="round" fill="none"/>
<path d="M689.9 442.6h.01M676.3 457.7h.01M679.4 463.5h.01M300.4 374.5h.01M674.2 468.7h.01M293.9 345.7h.01M691.4 457.5h.01M671.7 469.9h.01M297.9 375.4h.01M294.5 346.4h.01M700.2 435.3h.01M685.2 448.1h.01M683.1 464.4h.01M682.3 454.6h.01M297.9 368.6h.01M699.9 443.0h.01M704.3 440.3h.01M297.7 347.8h.01M287.9 348.4h.01M675.0 466.8h.01M289.2 345.7h.01M679.3 457.8h.01M297.6 363.4h.01M293.7 351.6h.01" stroke="#79CC63" stroke-width="11" stroke-linecap="round" fill="none"/>
<path d="M312.8 360.9h.01M316.3 366.4h.01M687.1 437.1h.01M306.2 365.3h.01M669.8 460.4h.01M667.2 448.2h.01M303.2 352.2h.01M687.2 441.8h.01M308.6 371.1h.01M303.1 348.2h.01M301.8 356.1h.01M687.1 443.6h.01M311.4 349.1h.01M679.3 438.7h.01M308.2 348.2h.01M675.2 450.7h.01M669.8 455.2h.01M690.4 427.4h.01M685.3 435.9h.01M684.0 448.0h.01M689.2 429.7h.01M310.2 371.2h.01M666.5 462.5h.01M313.4 343.6h.01M303.4 359.3h.01M680.9 438.4h.01M673.7 454.7h.01M301.4 355.8h.01M311.6 373.5h.01M300.9 355.9h.01M664.5 455.3h.01M672.7 453.8h.01M311.6 371.1h.01M312.3 347.2h.01M305.3 357.3h.01M661.1 458.8h.01M313.6 356.3h.01M668.6 456.9h.01M306.5 358.4h.01M665.3 452.8h.01M689.0 441.6h.01" stroke="#71C76C" stroke-width="11" stroke-linecap="round" fill="none"/>
<path d="M328.2 341.2h.01M658.3 450.7h.01M665.5 440.6h.01M331.2 367.8h.01M675.9 429.2h.01M660.9 453.8h.01M323.2 361.4h.01M319.6 347.3h.01M657.9 450.9h.01M318.7 356.4h.01M654.1 448.8h.01M322.6 360.1h.01M672.2 429.9h.01M671.0 434.3h.01M685.3 423.9h.01M666.5 437.7h.01M326.3 341.3h.01M681.8 429.2h.01M658.8 453.3h.01M660.5 451.4h.01M661.1 444.0h.01M327.2 361.0h.01M326.1 367.9h.01M654.9 444.2h.01M330.6 364.7h.01M671.6 437.7h.01M668.9 441.8h.01M674.4 433.3h.01M321.6 367.5h.01M665.9 447.0h.01M318.8 351.3h.01M322.1 367.6h.01M329.5 370.0h.01M681.4 420.9h.01M318.6 343.0h.01M328.9 342.7h.01M685.7 421.9h.01M328.5 363.5h.01M674.3 433.4h.01" stroke="#69C174" stroke-width="11" stroke-linecap="round" fill="none"/>
<path d="M660.6 428.8h.01M663.1 429.9h.01M651.4 437.8h.01M336.8 367.4h.01M340.0 353.0h.01M677.4 418.5h.01M344.7 356.5h.01M662.2 427.9h.01M335.2 368.9h.01M340.4 347.1h.01M648.4 433.5h.01M332.6 342.4h.01M346.0 355.7h.01M334.5 336.9h.01M344.0 357.7h.01M645.2 436.0h.01M335.6 356.7h.01M681.3 420.2h.01M340.4 336.1h.01M351.3 364.8h.01M341.2 361.1h.01M675.9 420.0h.01M670.6 417.1h.01M668.5 413.2h.01M678.8 417.6h.01M658.3 425.4h.01M333.8 363.2h.01M337.2 362.5h.01M350.9 366.6h.01M647.8 441.0h.01M342.5 337.1h.01M664.2 421.3h.01M678.9 419.5h.01M342.3 355.3h.01M654.6 429.5h.01M663.6 433.1h.01M650.5 435.8h.01M654.3 436.1h.01M670.6 415.3h.01M650.5 434.6h.01M342.8 349.6h.01" stroke="#60BA7B" stroke-width="11" stroke-linecap="round" fill="none"/>
<path d="M644.1 431.6h.01M360.7 355.7h.01M645.6 413.4h.01M650.5 423.7h.01M659.6 397.4h.01M645.0 418.8h.01M654.1 410.5h.01M348.3 334.6h.01M348.2 335.3h.01M356.5 351.6h.01M645.5 415.5h.01M642.8 416.9h.01M347.5 334.0h.01M347.2 339.0h.01M353.2 349.7h.01M366.9 360.8h.01M648.2 426.1h.01M642.5 428.8h.01M347.1 342.8h.01M654.7 412.1h.01M666.5 407.1h.01M648.7 426.8h.01M352.0 350.6h.01M636.7 421.2h.01M354.4 362.7h.01M660.3 407.9h.01M658.6 413.5h.01M644.2 411.4h.01M361.6 339.9h.01M645.3 413.2h.01M662.1 415.4h.01M645.8 421.6h.01M652.5 408.7h.01M660.2 402.4h.01M647.9 422.2h.01M639.1 422.7h.01M358.9 340.9h.01M360.4 359.7h.01M654.9 420.0h.01M636.5 429.4h.01M649.5 430.7h.01M647.2 410.9h.01M651.4 415.2h.01M350.5 341.9h.01M357.0 358.4h.01M361.8 353.5h.01M650.4 424.2h.01M659.5 401.6h.01M355.9 364.8h.01M634.6 422.1h.01M347.0 335.7h.01M641.6 430.5h.01" stroke="#57B381" stroke-width="11" stroke-linecap="round" fill="none"/>
<path d="M638.4 393.8h.01M625.7 409.3h.01M363.8 335.1h.01M378.7 350.8h.01M636.4 399.2h.01M371.1 340.7h.01M380.5 349.4h.01M370.6 363.2h.01M381.3 362.7h.01M635.8 399.7h.01M365.7 329.3h.01M375.5 350.5h.01M375.5 352.4h.01M385.1 361.7h.01M625.3 416.6h.01M646.2 403.8h.01M362.4 339.0h.01M377.4 335.2h.01M644.4 388.6h.01M377.8 324.6h.01M630.3 408.2h.01M382.3 360.3h.01M623.5 420.8h.01M371.5 356.9h.01M364.7 329.7h.01M368.3 362.1h.01M638.4 393.4h.01M372.9 324.9h.01M363.6 336.0h.01M379.3 340.5h.01M376.1 354.3h.01M625.1 412.2h.01M372.4 325.1h.01M367.7 325.5h.01M377.9 359.1h.01M623.8 415.7h.01M362.0 333.4h.01M653.9 394.4h.01M637.4 414.9h.01M372.3 339.7h.01M363.3 335.4h.01M373.8 340.1h.01M651.2 393.9h.01M380.3 354.5h.01M634.8 415.3h.01M371.8 342.0h.01M650.4 391.4h.01M649.5 403.5h.01M367.5 329.9h.01M629.6 401.1h.01M376.0 342.9h.01M378.5 354.3h.01M379.8 335.4h.01M621.5 415.3h.01M627.8 422.8h.01M622.4 415.8h.01M380.6 357.1h.01M629.2 420.0h.01M645.1 406.1h.01M371.0 360.4h.01M623.9 417.2h.01M648.3 390.1h.01M369.6 331.4h.01M363.5 337.4h.01" stroke="#4DAC87" stroke-width="11" stroke-linecap="round" fill="none"/>
<path d="M385.6 338.4h.01M392.6 346.9h.01M619.7 395.5h.01M642.9 383.6h.01M623.1 399.8h.01M626.7 402.9h.01M629.9 379.7h.01M618.1 411.5h.01M620.2 398.8h.01M396.9 326.1h.01M625.8 385.8h.01M387.6 345.7h.01M611.1 395.2h.01M636.8 384.6h.01M389.4 325.3h.01M632.3 381.5h.01M383.7 320.3h.01M626.5 396.2h.01M615.3 408.6h.01M613.2 404.8h.01M633.0 394.4h.01M395.6 322.7h.01M393.7 335.6h.01M393.9 334.3h.01M618.0 408.0h.01M392.9 351.9h.01M634.1 389.7h.01M387.9 325.0h.01M398.7 351.2h.01M641.3 379.4h.01M392.0 334.3h.01M398.7 338.6h.01M614.1 397.7h.01M395.0 333.0h.01M397.0 351.4h.01M397.0 356.4h.01M390.5 343.1h.01M641.2 379.8h.01M389.1 352.8h.01M640.1 382.1h.01M383.8 335.5h.01M396.9 337.7h.01M615.7 394.6h.01M391.2 362.3h.01M625.3 388.8h.01M389.8 353.4h.01M617.5 395.3h.01M379.4 331.5h.01M637.0 388.3h.01M394.0 332.2h.01M629.0 403.6h.01M391.7 359.0h.01M615.1 410.2h.01M644.7 382.9h.01M392.8 317.8h.01M631.3 390.4h.01M382.6 324.7h.01M635.0 385.7h.01M396.1 328.6h.01M392.6 350.7h.01M619.9 399.2h.01" stroke="#47A58B" stroke-width="11" stroke-linecap="round" fill="none"/>
<path d="M597.5 386.4h.01M415.3 351.7h.01M599.5 383.7h.01M418.9 343.4h.01M612.8 387.7h.01M405.0 349.9h.01M421.4 351.7h.01M398.6 323.0h.01M416.6 353.4h.01M417.6 356.8h.01M614.8 379.8h.01M412.8 358.2h.01M406.3 347.0h.01M418.9 355.8h.01M622.8 361.8h.01M608.6 370.7h.01M411.4 335.4h.01M600.1 389.4h.01M625.4 370.2h.01M417.9 336.5h.01M629.9 370.2h.01M600.0 386.1h.01M410.3 317.2h.01M624.6 365.9h.01M413.5 317.3h.01M417.0 357.1h.01M414.0 345.2h.01M608.3 376.4h.01M402.6 323.5h.01M611.1 388.4h.01M620.2 381.9h.01M607.1 376.6h.01M604.6 381.2h.01M601.8 379.4h.01M601.4 379.8h.01M411.0 361.2h.01M619.1 372.7h.01M623.6 376.9h.01M403.6 320.5h.01M603.1 399.9h.01M606.3 388.9h.01M630.3 369.6h.01M626.3 373.4h.01M621.1 368.0h.01M619.6 372.6h.01M412.4 357.3h.01M405.9 336.3h.01M600.2 386.8h.01M415.4 330.0h.01M417.8 356.7h.01M602.1 392.0h.01M400.6 332.9h.01M422.4 357.2h.01M608.0 378.5h.01M604.5 400.2h.01M600.3 387.9h.01M414.5 330.5h.01M417.9 327.4h.01M403.7 360.6h.01M405.9 326.1h.01M410.7 362.9h.01" stroke="#459D8A" stroke-width="11" stroke-linecap="round" fill="none"/>
<path d="M425.5 349.2h.01M583.1 376.9h.01M413.5 318.2h.01M586.0 369.3h.01M430.1 344.6h.01M594.0 387.1h.01M607.9 366.4h.01M612.8 359.8h.01M433.2 353.1h.01M432.9 356.1h.01M606.6 357.2h.01M591.9 386.6h.01M416.4 315.7h.01M425.9 331.5h.01M415.9 317.3h.01M440.3 341.7h.01M425.3 350.2h.01M586.6 379.1h.01M421.5 341.3h.01M424.5 331.9h.01M429.5 348.1h.01M429.8 314.2h.01M430.2 325.8h.01M597.8 360.0h.01M602.1 358.9h.01M597.1 383.8h.01M611.8 358.8h.01M601.0 363.4h.01M435.0 351.1h.01M423.5 320.9h.01M428.6 315.8h.01M593.6 378.2h.01M443.4 352.1h.01M609.8 363.8h.01M589.9 380.5h.01M600.5 359.3h.01M593.0 370.8h.01M433.9 340.4h.01M588.2 380.3h.01M423.5 312.5h.01M426.1 327.2h.01M435.4 329.1h.01M427.3 320.6h.01M601.2 378.0h.01M432.8 347.3h.01M438.7 339.0h.01M432.7 326.1h.01M435.7 324.8h.01M426.6 331.0h.01M427.7 325.0h.01M413.8 317.7h.01M606.9 359.4h.01M426.3 351.7h.01M599.8 351.6h.01M414.7 317.4h.01M611.5 357.0h.01M433.3 316.0h.01M581.2 377.5h.01M600.0 353.8h.01M425.3 347.3h.01M600.7 362.1h.01M600.8 350.1h.01M615.1 358.5h.01M589.3 383.8h.01M434.5 345.1h.01M611.5 359.3h.01M606.3 354.4h.01M425.4 315.1h.01M417.5 327.7h.01M426.6 333.7h.01M614.3 358.9h.01M601.6 360.2h.01M437.1 344.5h.01M584.9 376.5h.01M417.0 323.8h.01M598.9 374.5h.01M596.1 378.4h.01M610.6 358.9h.01M441.1 354.6h.01M601.2 353.5h.01M437.8 345.0h.01M427.4 352.1h.01M584.9 380.6h.01M593.8 382.3h.01" stroke="#43958A" stroke-width="11" stroke-linecap="round" fill="none"/>
<path d="M440.7 312.3h.01M443.1 313.4h.01M450.9 331.2h.01M451.4 338.8h.01M593.0 343.3h.01M456.3 346.7h.01M450.2 333.3h.01M437.5 320.8h.01M433.8 319.1h.01M587.1 363.7h.01M439.3 327.6h.01M582.4 367.1h.01M447.5 338.5h.01M436.2 325.3h.01M447.1 344.8h.01M578.3 373.7h.01M575.6 347.8h.01M453.8 314.2h.01M452.6 322.2h.01M574.1 370.9h.01M569.8 367.2h.01M440.2 316.9h.01M574.0 356.9h.01M573.2 360.1h.01M565.5 366.3h.01M576.3 362.4h.01M436.5 325.4h.01M452.2 338.4h.01M455.7 319.1h.01M568.5 366.1h.01M443.5 347.6h.01M443.9 343.0h.01M591.4 355.8h.01M595.8 354.4h.01M578.7 357.8h.01M450.5 347.0h.01M452.5 312.6h.01M451.1 340.7h.01M586.8 350.6h.01M579.2 349.7h.01M452.8 344.7h.01M586.0 353.1h.01M447.7 344.9h.01M586.1 359.9h.01M456.6 308.6h.01M589.2 350.3h.01M440.0 324.1h.01M583.7 347.7h.01M454.8 309.4h.01M583.7 358.2h.01M574.2 373.7h.01M571.4 357.8h.01M588.4 357.7h.01M445.9 315.5h.01M578.7 374.4h.01M575.9 356.1h.01M599.8 345.5h.01M569.6 365.8h.01M436.5 313.7h.01M575.9 370.2h.01M442.2 326.0h.01M448.1 329.0h.01M565.9 367.3h.01M447.8 351.6h.01M456.5 320.3h.01M582.2 350.3h.01M589.5 349.4h.01M588.1 352.9h.01M571.9 360.1h.01M455.0 311.5h.01M448.0 326.9h.01M450.4 336.8h.01M442.2 341.7h.01" stroke="#418D89" stroke-width="11" stroke-linecap="round" fill="none"/>
<path d="M473.5 330.7h.01M471.7 320.2h.01M462.6 347.1h.01M572.9 347.7h.01M578.0 335.2h.01M461.1 347.2h.01M580.0 325.0h.01M464.5 308.3h.01M558.6 347.2h.01M469.3 330.0h.01M477.7 318.9h.01M461.4 309.2h.01M567.8 340.2h.01M567.7 347.9h.01M466.8 341.8h.01M560.6 342.6h.01M566.9 358.9h.01M461.6 338.4h.01M458.5 312.2h.01M471.6 324.1h.01M569.0 333.4h.01M565.5 334.3h.01M463.5 327.5h.01M472.8 313.2h.01M560.7 358.1h.01M563.1 364.0h.01M458.8 337.1h.01M556.4 346.0h.01M471.3 332.2h.01M464.8 322.6h.01M474.5 343.2h.01M558.5 350.6h.01M476.1 323.4h.01M464.4 346.3h.01M572.9 331.5h.01M464.0 348.0h.01M458.0 348.8h.01M466.7 343.4h.01M464.7 340.3h.01M460.2 340.4h.01M574.7 331.8h.01M468.0 329.6h.01M581.0 335.1h.01M456.4 325.0h.01M571.4 331.3h.01M469.6 312.4h.01M564.3 347.3h.01M456.6 345.4h.01M557.0 347.8h.01M579.4 337.2h.01" stroke="#408689" stroke-width="11" stroke-linecap="round" fill="none"/>
<path d="M485.2 314.5h.01M477.8 342.4h.01M489.4 331.8h.01M495.6 329.5h.01M485.7 323.7h.01M481.5 313.5h.01M478.7 316.9h.01M484.2 317.2h.01M554.3 346.2h.01M490.3 318.0h.01M551.1 350.0h.01M487.8 332.0h.01M548.5 348.1h.01M555.3 327.8h.01M557.0 340.9h.01M487.6 325.7h.01M481.6 335.6h.01M480.1 316.7h.01M547.7 344.5h.01M552.0 331.7h.01M479.1 340.0h.01M555.1 335.8h.01M558.4 336.0h.01M562.0 329.6h.01M548.0 349.0h.01M560.9 335.0h.01M550.1 336.4h.01M560.2 334.2h.01M493.5 338.7h.01M565.0 317.5h.01M545.6 341.4h.01M543.0 343.0h.01M490.9 324.3h.01M554.4 334.2h.01M561.0 330.1h.01M490.1 344.3h.01M548.3 331.5h.01M551.7 347.6h.01M542.0 341.7h.01M562.9 329.8h.01M548.5 342.1h.01M484.7 316.5h.01M482.4 323.0h.01M493.4 323.9h.01M541.2 340.7h.01M490.7 343.9h.01M554.4 327.7h.01" stroke="#3E7F88" stroke-width="11" stroke-linecap="round" fill="none"/>
<path d="M494.3 318.0h.01M538.6 320.4h.01M543.1 324.2h.01M528.6 326.5h.01M529.1 331.2h.01M498.5 338.8h.01M497.5 316.6h.01M497.9 334.7h.01M507.6 334.4h.01M539.2 329.5h.01M498.2 325.6h.01M503.2 326.0h.01M500.1 336.7h.01M504.4 319.8h.01M530.7 331.2h.01M500.4 325.7h.01M529.5 333.3h.01M541.5 321.4h.01M543.6 325.2h.01M503.2 331.5h.01M539.5 327.2h.01M539.1 322.0h.01M504.7 317.2h.01M532.6 326.3h.01M505.8 320.3h.01M537.4 325.4h.01" stroke="#3D7788" stroke-width="11" stroke-linecap="round" fill="none"/>
<path d="M514.5 319.2h.01M513.4 319.2h.01M514.7 319.7h.01M524.2 322.7h.01M521.2 315.2h.01M515.5 329.6h.01M517.3 326.3h.01M515.8 317.0h.01M524.8 317.4h.01M512.7 313.8h.01M532.0 322.1h.01M515.2 327.8h.01M518.3 322.0h.01M521.6 317.5h.01M518.9 325.9h.01M515.7 315.8h.01M513.5 327.4h.01M523.7 330.1h.01M519.0 327.6h.01" stroke="#3D7188" stroke-width="11" stroke-linecap="round" fill="none"/>
<path d="M521.4 311.3h.01M517.3 306.4h.01M523.5 309.1h.01M512.7 310.1h.01M525.0 310.2h.01M524.4 311.6h.01M525.5 309.0h.01M525.7 302.2h.01M523.5 305.1h.01M523.6 303.1h.01M521.9 311.5h.01M521.2 308.4h.01M516.1 313.3h.01" stroke="#3E6B87" stroke-width="11" stroke-linecap="round" fill="none"/>
<path d="M521.8 300.3h.01M524.6 291.0h.01M523.4 295.2h.01M519.0 294.1h.01" stroke="#3E6687" stroke-width="11" stroke-linecap="round" fill="none"/>
<path d="M525.7 279.5h.01M517.1 284.1h.01M519.1 279.5h.01M531.8 289.1h.01M527.7 290.3h.01M519.2 285.0h.01M516.3 282.9h.01M526.7 280.1h.01M517.9 280.1h.01M527.3 283.0h.01M528.3 286.0h.01M514.6 286.4h.01M526.5 284.5h.01M533.6 286.9h.01M517.1 281.5h.01" stroke="#3F6086" stroke-width="11" stroke-linecap="round" fill="none"/>
<path d="M533.7 277.0h.01M538.0 283.4h.01M540.2 276.6h.01M529.3 280.0h.01M536.7 281.1h.01M538.4 280.2h.01M537.2 276.9h.01M529.5 277.5h.01M518.9 276.2h.01M540.1 274.8h.01M531.0 277.7h.01M528.5 279.3h.01M534.6 271.2h.01" stroke="#405A86" stroke-width="11" stroke-linecap="round" fill="none"/>
<path d="M540.7 274.1h.01M538.0 267.0h.01M534.8 259.8h.01M530.1 265.5h.01M545.8 264.0h.01M521.8 265.6h.01M531.2 267.7h.01M534.6 271.5h.01M520.4 264.1h.01M541.1 272.1h.01M542.4 268.6h.01" stroke="#425685" stroke-width="11" stroke-linecap="round" fill="none"/>
<path d="M551.3 254.5h.01M536.0 258.2h.01M549.2 262.8h.01M529.0 251.5h.01M530.0 253.1h.01M523.7 255.4h.01M530.1 256.8h.01M550.5 257.5h.01M551.4 257.9h.01M542.3 260.9h.01M535.9 253.1h.01M526.5 248.2h.01M550.9 259.7h.01M522.4 252.1h.01M535.5 260.1h.01M540.5 250.6h.01" stroke="#455285" stroke-width="11" stroke-linecap="round" fill="none"/>
<path d="M546.2 245.5h.01M535.5 247.2h.01M539.7 251.1h.01M545.4 250.8h.01M522.0 237.5h.01M526.8 244.0h.01M550.0 245.7h.01M539.4 244.2h.01M536.9 241.7h.01M551.0 244.3h.01M543.7 245.1h.01M541.5 246.2h.01M536.5 245.1h.01M553.5 254.7h.01M550.3 252.7h.01M534.3 243.7h.01M534.7 240.8h.01M526.6 241.4h.01M549.7 246.4h.01M544.2 245.7h.01M534.1 248.2h.01M538.5 245.7h.01M552.4 253.0h.01M550.0 246.1h.01" stroke="#474D84" stroke-width="11" stroke-linecap="round" fill="none"/>
<path d="M542.8 236.5h.01M538.7 236.0h.01M543.8 236.8h.01M548.8 233.8h.01M555.6 239.2h.01M542.7 238.1h.01M555.6 240.3h.01M531.4 232.1h.01M542.4 240.4h.01" stroke="#494983" stroke-width="11" stroke-linecap="round" fill="none"/>
<path d="M544.4 225.5h.01M550.6 229.2h.01M552.0 230.2h.01M530.4 222.7h.01M550.1 231.7h.01M540.1 229.3h.01M540.6 226.7h.01M557.7 225.3h.01M528.9 220.9h.01M546.3 231.7h.01M530.4 227.2h.01M560.0 232.1h.01M561.3 223.4h.01M529.4 226.1h.01" stroke="#4B4681" stroke-width="11" stroke-linecap="round" fill="none"/>
<path d="M539.1 217.4h.01M541.6 214.2h.01M542.5 219.3h.01M558.3 221.3h.01M556.3 213.5h.01M545.5 214.5h.01M549.1 221.5h.01M531.7 213.6h.01M545.9 211.8h.01M552.0 217.7h.01M559.6 219.6h.01M541.7 215.8h.01M527.9 210.5h.01M559.7 217.0h.01M526.9 214.2h.01M559.8 221.8h.01M528.5 218.5h.01M557.2 222.9h.01M531.6 217.8h.01M531.7 214.6h.01" stroke="#4D427F" stroke-width="11" stroke-linecap="round" fill="none"/>
<path d="M548.5 204.2h.01M533.5 206.8h.01M529.3 206.6h.01M545.3 210.2h.01M536.8 207.5h.01M530.4 200.5h.01M565.4 205.5h.01M562.8 207.5h.01M554.8 206.0h.01M531.6 207.2h.01M542.9 207.5h.01M533.6 202.5h.01M542.2 209.7h.01M556.3 204.1h.01" stroke="#4E3D7D" stroke-width="11" stroke-linecap="round" fill="none"/>
<path d="M547.5 201.0h.01M551.0 196.0h.01M555.7 197.6h.01M553.2 194.3h.01M563.2 199.2h.01M528.3 197.0h.01M561.5 202.9h.01M559.4 196.2h.01M555.2 201.6h.01M560.9 194.6h.01M550.7 196.6h.01M537.2 197.5h.01" stroke="#4E387B" stroke-width="11" stroke-linecap="round" fill="none"/>
<path d="M553.5 193.1h.01M532.3 185.7h.01M556.2 192.2h.01M546.4 186.5h.01M564.5 192.5h.01M529.9 189.0h.01M532.2 188.8h.01M565.1 192.4h.01M543.2 187.6h.01M532.0 188.5h.01M538.7 183.1h.01M533.2 187.5h.01M557.1 192.4h.01M527.7 185.9h.01M533.9 185.2h.01M531.9 188.8h.01" stroke="#4F3379" stroke-width="11" stroke-linecap="round" fill="none"/>
<path d="M569.8 184.5h.01M535.2 171.3h.01M540.6 178.0h.01M567.5 188.8h.01M565.7 181.4h.01M533.4 177.5h.01M567.4 184.9h.01M552.5 184.2h.01M564.1 184.8h.01M533.6 175.3h.01M535.1 176.2h.01M537.1 170.6h.01M544.7 174.8h.01M547.5 180.2h.01M530.6 180.4h.01M536.8 179.9h.01M538.6 178.4h.01M561.4 180.0h.01M552.1 181.5h.01M547.5 182.9h.01" stroke="#4F2E77" stroke-width="11" stroke-linecap="round" fill="none"/>
<path d="M564.2 177.0h.01M550.4 166.5h.01M548.6 174.8h.01M570.3 183.7h.01M559.7 172.2h.01M545.1 171.0h.01M540.1 167.7h.01M532.5 164.1h.01M538.0 161.5h.01M571.0 183.6h.01M559.5 179.6h.01M538.7 166.1h.01M562.7 178.7h.01M574.7 178.4h.01M568.4 181.6h.01M568.0 178.8h.01M556.3 170.3h.01M568.3 177.7h.01M575.2 181.1h.01M569.1 180.7h.01M570.1 184.5h.01M542.0 165.3h.01M560.5 174.7h.01" stroke="#4F2A73" stroke-width="11" stroke-linecap="round" fill="none"/>
<path d="M546.7 165.3h.01M544.5 159.4h.01M570.6 168.1h.01M535.5 156.4h.01M537.8 159.6h.01M571.2 176.0h.01M562.3 166.7h.01M553.8 165.7h.01M563.9 171.4h.01M579.3 172.6h.01M562.7 171.1h.01M555.3 165.4h.01M557.4 165.9h.01M561.0 165.5h.01M536.0 159.7h.01M539.9 156.0h.01M541.1 154.1h.01M560.8 168.6h.01" stroke="#4C296A" stroke-width="11" stroke-linecap="round" fill="none"/>
<path d="M552.9 159.6h.01M543.9 158.6h.01M554.7 152.8h.01M576.5 152.6h.01M538.2 150.2h.01M540.4 150.2h.01M568.6 157.1h.01M550.1 156.3h.01" stroke="#492961" stroke-width="11" stroke-linecap="round" fill="none"/>
<path d="M553.0 143.9h.01M556.9 146.6h.01M549.3 142.6h.01M556.9 150.6h.01M543.5 144.4h.01M569.8 144.2h.01M558.4 150.4h.01M542.2 149.7h.01M577.8 149.7h.01M537.4 145.6h.01M567.3 140.6h.01M577.1 148.2h.01M551.6 149.0h.01M551.6 141.6h.01M546.1 149.9h.01M566.9 147.2h.01M564.0 147.8h.01M554.3 151.9h.01M549.4 148.4h.01" stroke="#462857" stroke-width="11" stroke-linecap="round" fill="none"/>
<path d="M556.0 139.2h.01M560.2 136.8h.01M559.7 134.2h.01M557.8 135.5h.01M559.4 137.8h.01" stroke="#43284E" stroke-width="11" stroke-linecap="round" fill="none"/>
<path d="M550.5 137.9h.01M567.3 140.0h.01M547.8 140.4h.01M549.4 138.2h.01M548.7 137.6h.01M558.7 138.4h.01M549.2 140.9h.01M546.1 139.8h.01M560.9 135.4h.01M544.7 143.2h.01M545.8 146.2h.01M550.7 142.8h.01M555.0 135.3h.01M569.6 143.5h.01M558.5 136.5h.01M561.5 145.7h.01M558.5 139.7h.01M570.7 142.5h.01" stroke="#452853" stroke-width="11" stroke-linecap="round" fill="none"/>
<path d="M579.0 154.1h.01M558.7 146.4h.01M540.6 152.6h.01M538.5 151.2h.01M553.4 151.6h.01M578.1 155.0h.01M568.6 150.2h.01M571.9 151.4h.01M581.2 157.1h.01M538.4 152.3h.01M549.2 154.7h.01M557.9 147.6h.01M541.4 153.9h.01M581.1 153.9h.01M568.3 151.6h.01M542.9 147.7h.01M573.9 149.3h.01M536.5 153.0h.01M544.1 152.5h.01M576.4 155.9h.01" stroke="#48295C" stroke-width="11" stroke-linecap="round" fill="none"/>
<path d="M579.7 159.3h.01M572.2 157.7h.01M540.3 156.6h.01M545.6 159.5h.01M543.5 157.8h.01M561.1 158.3h.01M568.8 167.5h.01M568.3 159.4h.01M578.4 159.0h.01M581.1 162.8h.01M545.4 161.0h.01M576.5 172.8h.01M563.9 157.2h.01M562.7 157.8h.01M549.9 159.3h.01M552.1 160.3h.01M578.5 164.0h.01M574.5 171.0h.01M560.1 157.3h.01" stroke="#4B2965" stroke-width="11" stroke-linecap="round" fill="none"/>
<path d="M571.8 173.7h.01M539.4 160.6h.01M537.0 163.4h.01M552.9 165.9h.01M556.1 174.5h.01M555.1 166.6h.01M547.9 165.5h.01M573.4 180.9h.01M561.8 171.4h.01M571.8 174.3h.01M555.4 165.4h.01M545.8 170.5h.01M553.4 165.1h.01M542.9 165.8h.01" stroke="#4E2A6F" stroke-width="11" stroke-linecap="round" fill="none"/>
<path d="M536.6 165.8h.01M541.8 171.5h.01M545.6 173.8h.01M554.6 174.7h.01M548.5 176.2h.01M556.6 181.4h.01M559.4 181.2h.01M555.1 178.3h.01M570.2 184.2h.01M542.5 168.5h.01M561.9 180.2h.01M566.1 183.4h.01M554.7 179.5h.01M553.4 175.1h.01" stroke="#502C76" stroke-width="11" stroke-linecap="round" fill="none"/>
<path d="M531.0 183.1h.01M536.5 183.1h.01M531.7 177.4h.01M558.5 187.9h.01M563.1 189.7h.01M536.6 180.4h.01M544.7 183.3h.01M565.6 187.8h.01M530.5 185.0h.01M568.1 185.8h.01M537.0 186.3h.01M545.1 179.7h.01M548.9 184.0h.01M534.3 179.7h.01M567.0 183.7h.01M530.4 178.1h.01M554.2 186.3h.01M534.3 183.0h.01" stroke="#4F3178" stroke-width="11" stroke-linecap="round" fill="none"/>
<path d="M533.8 186.9h.01M542.9 195.3h.01M564.7 197.4h.01M547.3 196.1h.01M559.3 196.8h.01M533.5 188.1h.01M564.5 194.4h.01M545.4 190.9h.01M543.9 188.7h.01M547.3 194.3h.01M533.7 187.1h.01M528.8 188.3h.01M553.4 195.1h.01M556.2 193.7h.01" stroke="#4E367A" stroke-width="11" stroke-linecap="round" fill="none"/>
<path d="M531.7 202.8h.01M545.0 205.5h.01M533.9 199.3h.01M542.3 206.1h.01M565.4 202.1h.01M542.1 199.0h.01M563.6 208.9h.01M534.1 201.9h.01M564.4 204.5h.01M551.8 200.3h.01M546.0 206.0h.01M537.9 203.8h.01M562.2 200.0h.01M541.1 206.3h.01M528.8 201.5h.01M531.2 195.8h.01M534.1 197.3h.01M551.1 201.8h.01" stroke="#4E3B7C" stroke-width="11" stroke-linecap="round" fill="none"/>
<path d="M543.3 207.8h.01M548.0 208.4h.01M537.6 214.3h.01M529.2 213.1h.01M541.0 213.1h.01M542.4 208.4h.01M530.3 210.6h.01M531.6 211.5h.01M543.6 210.3h.01M530.5 208.0h.01M548.0 214.6h.01M562.9 213.1h.01M552.5 211.8h.01M529.3 211.1h.01M547.8 214.0h.01" stroke="#4D407E" stroke-width="11" stroke-linecap="round" fill="none"/>
<path d="M531.4 220.0h.01M544.5 222.9h.01M559.4 222.5h.01M562.1 231.0h.01M558.7 222.0h.01M561.2 224.0h.01M538.2 222.4h.01M552.2 224.1h.01M547.2 218.6h.01M560.0 220.0h.01M543.9 218.3h.01M559.8 225.7h.01M550.3 222.7h.01M541.0 220.1h.01M559.4 220.9h.01" stroke="#4C4480" stroke-width="11" stroke-linecap="round" fill="none"/>
<path d="M528.2 229.8h.01M548.9 236.0h.01M532.4 234.3h.01M544.1 233.0h.01M538.1 234.3h.01M555.8 234.0h.01M538.8 235.1h.01M550.7 236.4h.01M527.4 226.1h.01M545.4 231.6h.01M558.1 229.1h.01M542.2 230.8h.01M538.3 231.0h.01M538.4 227.7h.01M539.6 229.9h.01M541.1 233.1h.01M530.4 225.0h.01M555.2 237.6h.01M557.0 237.0h.01" stroke="#4A4882" stroke-width="11" stroke-linecap="round" fill="none"/>
<path d="M542.1 241.0h.01M528.7 240.3h.01M550.3 243.8h.01M524.0 239.3h.01M538.9 244.4h.01M527.3 235.7h.01M523.2 236.3h.01M553.0 241.7h.01M552.7 243.4h.01M551.3 246.9h.01M552.6 240.7h.01M552.0 245.8h.01" stroke="#484B84" stroke-width="11" stroke-linecap="round" fill="none"/>
<path d="M532.4 243.6h.01M550.2 254.1h.01M546.4 255.2h.01M533.0 247.0h.01M530.5 245.3h.01M549.9 253.3h.01M551.5 250.6h.01M534.8 249.8h.01M533.9 244.5h.01M542.1 247.1h.01M528.8 253.9h.01" stroke="#465084" stroke-width="11" stroke-linecap="round" fill="none"/>
<path d="M536.3 257.2h.01M522.4 255.9h.01M521.0 259.7h.01M523.0 257.1h.01M522.6 252.5h.01M532.9 260.7h.01M545.2 267.8h.01M541.8 269.4h.01M520.5 260.0h.01M525.9 253.4h.01M550.5 264.4h.01M548.1 266.4h.01M546.1 268.7h.01M527.7 260.0h.01M524.3 257.8h.01M530.7 255.3h.01" stroke="#445485" stroke-width="11" stroke-linecap="round" fill="none"/>
<path d="M526.9 270.7h.01M528.9 265.9h.01M521.6 268.8h.01M531.8 265.1h.01M533.0 273.4h.01M539.2 276.9h.01M518.9 268.9h.01M519.5 265.1h.01M537.7 273.0h.01M534.8 276.1h.01M520.6 259.7h.01" stroke="#415886" stroke-width="11" stroke-linecap="round" fill="none"/>
<path d="M538.8 280.5h.01M535.4 286.3h.01M535.3 284.6h.01M520.4 273.9h.01M529.9 274.8h.01M517.3 278.6h.01M517.5 275.4h.01M517.8 276.7h.01M536.0 285.5h.01M531.3 284.6h.01M532.5 283.9h.01" stroke="#3F5D86" stroke-width="11" stroke-linecap="round" fill="none"/>
<path d="M527.9 286.7h.01M544.5 294.0h.01M526.8 295.0h.01M524.4 290.8h.01M531.4 288.7h.01M514.8 289.4h.01M527.3 287.3h.01M523.9 293.7h.01M527.6 285.7h.01M526.5 291.0h.01M519.8 288.6h.01M520.0 284.5h.01M517.9 290.4h.01M530.0 293.6h.01M527.8 291.0h.01M531.8 291.2h.01" stroke="#3F6386" stroke-width="11" stroke-linecap="round" fill="none"/>
<path d="M521.9 298.4h.01M527.5 297.1h.01M518.5 303.5h.01M514.9 294.3h.01M528.1 298.8h.01M520.5 298.4h.01M519.9 302.0h.01M519.0 301.6h.01M521.4 302.5h.01" stroke="#3E6887" stroke-width="11" stroke-linecap="round" fill="none"/>
<path d="M525.5 309.4h.01M521.5 314.5h.01M513.7 316.1h.01M522.9 310.4h.01M526.2 315.8h.01M526.3 310.0h.01M515.7 320.7h.01M518.8 319.3h.01" stroke="#3E6E87" stroke-width="11" stroke-linecap="round" fill="none"/>
<path d="M527.8 324.0h.01M524.8 319.5h.01M507.2 314.9h.01M534.7 333.6h.01M525.3 328.1h.01M535.0 325.7h.01M501.8 322.8h.01M523.0 324.9h.01M535.4 325.9h.01M510.6 320.7h.01M505.3 328.0h.01M515.6 319.4h.01M513.6 329.5h.01M525.4 322.8h.01M507.5 314.2h.01M501.5 317.1h.01M522.9 326.1h.01M530.1 322.9h.01M502.9 320.4h.01M526.6 327.3h.01M532.5 334.1h.01M507.6 319.2h.01M511.0 322.2h.01M515.3 326.5h.01M534.8 334.2h.01" stroke="#3D7488" stroke-width="11" stroke-linecap="round" fill="none"/>
<path d="M491.1 331.5h.01M538.3 330.8h.01M551.2 336.6h.01M548.7 339.7h.01M497.5 338.0h.01M544.7 341.0h.01M554.4 327.9h.01M488.6 317.0h.01M551.4 328.6h.01M544.3 341.2h.01M494.2 320.9h.01M542.4 334.8h.01M542.3 320.8h.01M553.5 327.8h.01M499.7 323.8h.01M496.6 317.3h.01M497.9 319.8h.01M551.5 327.9h.01M498.5 319.7h.01M540.3 334.9h.01M492.5 328.5h.01M489.6 332.1h.01M497.7 322.6h.01M491.3 326.6h.01M493.6 321.5h.01M498.5 319.2h.01M489.1 317.4h.01M543.2 320.9h.01M540.3 326.8h.01M547.9 339.5h.01M545.1 333.6h.01M501.1 324.3h.01M543.3 322.9h.01M493.1 325.8h.01M551.7 324.0h.01M497.5 340.0h.01M489.2 335.4h.01M491.3 326.6h.01M497.0 339.9h.01M553.4 327.9h.01M548.6 328.9h.01M553.2 327.3h.01M553.0 326.3h.01M494.5 325.9h.01" stroke="#3E7B88" stroke-width="11" stroke-linecap="round" fill="none"/>
<path d="M562.6 331.3h.01M469.3 337.7h.01M475.3 315.1h.01M474.8 319.9h.01M553.1 350.8h.01M482.2 337.6h.01M478.2 318.3h.01M476.9 341.2h.01M566.9 330.0h.01M480.1 317.3h.01M478.7 317.1h.01M554.8 352.0h.01M483.2 325.3h.01M483.0 316.0h.01M470.5 325.1h.01M565.8 343.9h.01M554.1 338.8h.01M552.0 350.2h.01M467.7 328.1h.01M471.6 333.5h.01M571.0 339.2h.01M479.7 319.3h.01M563.7 337.7h.01M480.6 337.4h.01M481.2 333.4h.01M471.5 316.7h.01M481.7 334.8h.01M469.8 333.6h.01M472.4 343.8h.01M557.5 354.2h.01M479.2 331.6h.01M550.0 342.5h.01M472.4 315.2h.01M480.4 335.2h.01M567.5 331.6h.01M469.5 324.1h.01M571.0 333.9h.01M556.2 352.9h.01M558.8 335.5h.01M479.2 341.6h.01M476.5 317.8h.01M554.2 331.3h.01M478.3 318.1h.01M547.1 346.8h.01M470.4 315.3h.01M482.7 343.4h.01M549.9 345.5h.01M471.9 331.7h.01M484.6 331.9h.01M472.9 329.9h.01M559.9 343.5h.01M471.7 342.8h.01" stroke="#3F8289" stroke-width="11" stroke-linecap="round" fill="none"/>
<path d="M465.2 327.6h.01M451.5 306.8h.01M451.2 311.6h.01M450.3 345.8h.01M456.6 313.4h.01M451.3 340.6h.01M458.2 347.5h.01M590.0 342.8h.01M580.6 335.2h.01M577.7 344.8h.01M456.7 332.0h.01M581.5 352.5h.01M457.8 328.0h.01M565.6 350.6h.01M584.5 349.2h.01M462.5 313.9h.01M569.6 339.9h.01M458.4 339.6h.01M583.9 345.4h.01M586.7 339.5h.01M579.9 336.5h.01M461.0 331.1h.01M457.8 310.8h.01M449.7 349.1h.01M570.4 366.7h.01M453.2 340.1h.01M453.6 346.1h.01M574.7 334.3h.01M453.7 313.5h.01M577.2 334.2h.01M464.3 319.4h.01M466.1 328.4h.01M561.6 361.8h.01M565.6 362.9h.01M578.4 354.1h.01M460.2 315.2h.01M580.9 338.4h.01M585.5 340.0h.01M574.1 366.9h.01M459.9 340.3h.01M450.1 343.4h.01M453.8 308.8h.01M452.8 347.8h.01M450.3 322.3h.01M586.8 337.9h.01M567.6 365.0h.01M463.2 326.0h.01M440.3 307.9h.01M459.1 315.8h.01M463.4 312.1h.01M569.2 367.3h.01M452.2 310.8h.01M452.7 319.6h.01M462.1 312.7h.01M570.1 360.6h.01M575.3 337.5h.01M457.5 344.0h.01M451.7 323.4h.01M449.7 336.2h.01M583.6 336.0h.01M568.3 362.9h.01M455.0 327.3h.01M584.0 349.6h.01M466.4 333.8h.01M457.9 329.2h.01M569.4 351.7h.01M458.1 322.4h.01M565.5 363.0h.01M462.1 327.9h.01M443.7 320.3h.01M574.2 346.5h.01M457.9 345.1h.01M569.7 342.8h.01M582.0 337.5h.01M584.0 344.4h.01M456.4 315.3h.01" stroke="#418A89" stroke-width="11" stroke-linecap="round" fill="none"/>
<path d="M436.1 331.7h.01M601.8 343.8h.01M424.4 315.9h.01M600.2 347.1h.01M439.8 333.0h.01M596.2 367.2h.01M585.2 375.9h.01M577.3 363.3h.01M585.6 370.8h.01M599.3 357.4h.01M573.6 367.9h.01M433.9 348.9h.01M450.7 347.6h.01M441.9 321.2h.01M608.2 353.2h.01M436.3 325.2h.01M436.3 327.3h.01M587.5 378.9h.01M426.1 314.0h.01M591.0 361.1h.01M573.6 369.5h.01M436.2 325.5h.01M433.2 313.6h.01M591.1 347.7h.01M437.4 328.5h.01M446.9 346.4h.01M439.7 311.5h.01M442.0 349.6h.01M437.9 326.4h.01M436.5 341.0h.01M434.9 349.9h.01M433.6 328.8h.01M445.3 347.2h.01M430.8 344.0h.01M585.6 377.5h.01M588.5 374.0h.01M443.0 331.8h.01M598.6 365.3h.01M434.2 315.6h.01M588.0 369.8h.01M443.7 350.9h.01M597.8 366.3h.01M425.6 313.8h.01M599.3 364.8h.01M580.6 364.7h.01M423.0 313.9h.01M433.9 331.6h.01M592.2 370.4h.01M600.0 362.1h.01M591.1 363.1h.01M601.0 348.8h.01M442.7 340.9h.01M428.9 316.4h.01M581.0 364.8h.01M431.8 325.0h.01M439.2 310.4h.01M590.4 350.4h.01M599.0 352.5h.01M577.3 363.3h.01" stroke="#42918A" stroke-width="11" stroke-linecap="round" fill="none"/>
<path d="M590.4 381.1h.01M589.7 384.1h.01M592.2 382.2h.01M611.3 377.9h.01M431.8 357.2h.01M418.2 362.8h.01M419.3 317.5h.01M600.7 385.3h.01M608.6 356.1h.01M425.6 336.1h.01M418.4 331.7h.01M413.9 361.7h.01M421.1 318.1h.01M416.8 354.1h.01M595.0 387.9h.01M432.2 354.3h.01M590.6 392.6h.01M429.3 355.1h.01M611.7 375.7h.01M596.5 388.4h.01M419.2 319.4h.01M426.6 339.3h.01M426.8 342.0h.01M417.1 323.6h.01M613.1 365.6h.01M597.7 389.0h.01M609.9 384.6h.01M416.1 343.0h.01M601.1 383.1h.01M624.1 364.6h.01M601.5 370.2h.01M603.1 389.6h.01M597.5 377.1h.01M598.6 394.1h.01M598.9 391.2h.01M418.0 315.0h.01M419.3 338.2h.01M596.7 385.4h.01M416.1 324.7h.01M607.0 376.7h.01M595.1 377.5h.01M610.2 363.5h.01M411.7 348.8h.01M617.2 363.6h.01M595.0 377.1h.01M417.5 332.0h.01M417.5 345.6h.01M413.3 362.3h.01M417.7 357.4h.01M610.5 375.1h.01M608.4 373.2h.01M593.9 382.3h.01M617.7 373.1h.01M416.5 358.2h.01M420.2 355.1h.01M599.0 387.9h.01M614.2 362.1h.01M426.6 346.0h.01M603.6 386.3h.01M426.4 342.4h.01M603.5 364.6h.01M416.4 322.7h.01M427.2 338.2h.01M615.3 359.1h.01M421.4 339.0h.01M432.5 355.9h.01M594.3 380.3h.01M416.2 356.9h.01M595.6 386.5h.01M622.0 362.1h.01M611.8 357.5h.01M599.7 392.9h.01M415.3 325.9h.01M418.1 319.2h.01M618.2 363.6h.01M424.0 370.0h.01M603.2 371.3h.01M412.7 320.9h.01M429.5 350.6h.01" stroke="#44988A" stroke-width="11" stroke-linecap="round" fill="none"/>
<path d="M619.4 387.6h.01M634.6 379.1h.01M629.6 385.2h.01M398.1 320.6h.01M616.7 390.7h.01M396.0 353.5h.01M621.9 394.7h.01M390.7 332.1h.01M398.6 340.9h.01M609.0 400.6h.01M626.0 382.8h.01M610.9 398.5h.01M613.8 404.1h.01M395.8 358.9h.01M633.6 378.9h.01M622.5 393.4h.01M618.6 390.7h.01M390.5 329.6h.01M626.0 366.9h.01M409.7 348.4h.01M404.3 325.2h.01M630.1 382.5h.01M407.4 332.4h.01M615.6 383.3h.01M395.3 326.6h.01M400.6 318.6h.01M624.2 367.6h.01M398.9 336.3h.01M398.2 322.9h.01M622.2 385.0h.01M401.6 330.3h.01M397.6 329.7h.01M408.2 327.4h.01M405.4 361.4h.01M609.6 404.3h.01M397.6 354.0h.01M625.4 366.3h.01M609.7 392.5h.01M400.3 321.7h.01M392.6 345.6h.01M406.8 353.5h.01M411.7 360.7h.01M634.9 378.6h.01M392.0 346.8h.01M404.0 362.6h.01M398.8 348.6h.01M625.2 391.1h.01M405.7 342.4h.01M600.7 396.8h.01M401.2 334.4h.01M402.6 324.0h.01M405.3 360.4h.01M401.2 331.2h.01M613.3 382.7h.01M395.3 330.9h.01M611.0 402.7h.01M391.8 326.0h.01M612.2 405.8h.01M625.6 383.9h.01M620.6 395.1h.01M628.6 376.9h.01M603.1 391.6h.01M393.6 320.6h.01M632.3 380.0h.01" stroke="#46A18B" stroke-width="11" stroke-linecap="round" fill="none"/>
<path d="M641.6 382.5h.01M389.8 346.1h.01M635.3 392.7h.01M624.7 408.5h.01M622.4 412.4h.01M651.1 389.2h.01M621.8 413.4h.01M628.2 399.3h.01M386.3 328.1h.01M380.2 326.2h.01M381.4 343.2h.01M625.0 396.8h.01M636.7 405.5h.01M387.4 359.5h.01M620.7 410.0h.01M622.7 402.9h.01M630.6 397.9h.01M639.3 383.2h.01M632.7 387.3h.01M633.9 405.8h.01M623.6 408.4h.01M634.8 382.3h.01M379.8 355.5h.01M379.2 326.2h.01M384.2 327.0h.01M639.3 385.1h.01M387.6 332.2h.01M621.9 412.8h.01M632.1 395.5h.01M642.3 394.8h.01M381.9 347.5h.01M635.1 395.9h.01M635.5 385.4h.01M638.0 403.4h.01M623.0 403.1h.01M375.5 355.3h.01M650.8 390.3h.01M376.8 334.2h.01M378.7 354.4h.01M618.0 409.1h.01M620.7 416.2h.01M380.0 345.6h.01M617.4 401.8h.01M372.6 328.6h.01M384.4 362.9h.01M639.2 381.9h.01M627.8 406.7h.01M381.6 325.5h.01M385.1 359.7h.01M625.9 397.5h.01M382.3 350.3h.01M373.1 335.1h.01M389.3 337.6h.01M390.7 360.4h.01M383.8 359.0h.01M377.5 338.2h.01M645.1 383.7h.01M613.2 408.3h.01M639.7 393.3h.01" stroke="#49A98A" stroke-width="11" stroke-linecap="round" fill="none"/>
<path d="M378.1 363.6h.01M652.5 396.2h.01M654.8 412.3h.01M637.1 429.4h.01M364.5 326.4h.01M362.6 351.9h.01M361.7 347.3h.01M358.3 344.8h.01M367.1 348.2h.01M356.8 340.7h.01M641.5 408.7h.01M649.9 404.4h.01M645.8 414.6h.01M636.6 424.9h.01M662.4 397.7h.01M629.9 419.4h.01M650.1 415.1h.01M369.9 332.8h.01M638.3 417.9h.01M634.7 425.7h.01M354.4 331.5h.01M654.4 396.6h.01M633.1 422.6h.01M626.7 416.1h.01M362.3 340.4h.01M645.2 418.8h.01M646.1 408.1h.01M652.0 412.3h.01M375.2 356.2h.01M638.3 415.9h.01M365.8 345.7h.01M365.7 333.3h.01M639.9 405.7h.01M659.8 399.2h.01M354.9 334.1h.01M650.7 394.6h.01M627.5 416.5h.01M369.1 333.9h.01M363.5 359.2h.01M631.8 421.3h.01M360.9 350.5h.01M633.3 424.3h.01M368.5 365.3h.01M640.6 414.3h.01M628.5 420.3h.01M368.1 335.8h.01M364.6 341.0h.01M654.0 395.5h.01M357.6 328.9h.01M653.3 412.7h.01M365.8 331.5h.01M631.4 417.8h.01M643.4 411.5h.01M355.6 336.9h.01M654.3 410.2h.01" stroke="#52B084" stroke-width="11" stroke-linecap="round" fill="none"/>
<path d="M343.2 350.0h.01M649.4 420.3h.01M347.9 336.9h.01M639.7 430.7h.01M338.3 349.3h.01M642.7 428.2h.01M646.3 438.4h.01M662.8 407.9h.01M670.8 412.1h.01M345.8 344.0h.01M648.6 437.2h.01M673.7 417.7h.01M345.0 357.5h.01M351.7 359.4h.01M345.5 357.4h.01M350.5 337.8h.01M642.8 438.5h.01M341.8 344.1h.01M640.4 436.7h.01M348.4 364.4h.01M356.8 366.0h.01M664.4 425.0h.01M640.0 431.8h.01M665.9 421.7h.01M658.4 428.6h.01M662.1 410.3h.01M336.9 344.7h.01M355.6 364.4h.01M355.9 354.9h.01M642.3 433.2h.01M350.3 334.5h.01M345.8 365.1h.01M351.8 339.1h.01M346.0 353.0h.01M657.4 424.3h.01M673.8 412.9h.01M342.0 338.0h.01M637.1 430.9h.01M669.4 419.0h.01M642.8 433.1h.01M350.2 364.5h.01M664.5 411.0h.01M351.7 335.5h.01M345.6 334.7h.01M647.4 435.0h.01M645.8 435.6h.01M641.7 431.9h.01M341.1 339.3h.01M346.5 341.4h.01M666.0 409.4h.01M347.1 348.8h.01M668.9 408.8h.01M336.3 340.0h.01M664.4 408.4h.01M654.4 417.7h.01M656.3 419.5h.01M657.0 412.7h.01M671.7 409.8h.01M347.2 353.8h.01M337.4 340.3h.01M348.9 358.7h.01M348.3 361.0h.01M342.1 339.2h.01M343.2 339.0h.01M654.3 420.8h.01" stroke="#5BB77E" stroke-width="11" stroke-linecap="round" fill="none"/>
<path d="M672.6 417.4h.01M331.4 363.8h.01M655.6 438.4h.01M664.8 437.1h.01M680.5 422.4h.01M334.8 370.6h.01M664.7 426.4h.01M655.0 444.4h.01M338.0 371.6h.01M649.3 441.2h.01M656.5 437.4h.01M334.1 353.3h.01M668.0 425.4h.01M340.4 368.7h.01M676.5 432.5h.01M334.9 365.7h.01M337.5 355.0h.01M336.3 353.8h.01M655.2 439.9h.01M658.6 437.4h.01M663.6 440.9h.01M656.9 446.5h.01M670.3 432.5h.01M656.1 447.9h.01M328.1 348.4h.01M332.8 369.8h.01M334.9 341.6h.01M333.7 371.0h.01M663.8 442.6h.01M325.7 342.3h.01M324.9 358.3h.01M667.5 423.4h.01M667.2 437.6h.01M670.2 435.2h.01M665.3 431.4h.01M668.2 432.9h.01M326.3 372.8h.01M678.0 416.6h.01M665.1 439.6h.01M677.4 419.5h.01M320.4 342.2h.01M332.8 365.8h.01M328.5 342.1h.01M663.5 439.4h.01M678.6 415.7h.01" stroke="#64BE77" stroke-width="11" stroke-linecap="round" fill="none"/>
<path d="M685.2 426.7h.01M312.1 344.7h.01M657.7 450.1h.01M669.0 449.6h.01M663.9 445.1h.01M313.2 373.8h.01M316.9 345.8h.01M309.1 343.3h.01M316.9 341.2h.01M679.0 438.5h.01M655.6 449.9h.01M324.2 372.3h.01M671.4 448.6h.01M680.3 430.1h.01M678.9 430.1h.01M314.0 360.1h.01M322.6 369.0h.01M323.5 361.7h.01M666.8 452.1h.01M679.5 429.6h.01M324.4 371.3h.01M311.3 371.2h.01M312.0 347.7h.01M321.8 361.0h.01M317.6 341.9h.01M314.5 353.0h.01M310.7 344.8h.01M672.0 441.4h.01M316.8 363.1h.01M306.5 350.4h.01M677.0 431.3h.01M664.8 454.6h.01M310.9 366.7h.01M681.0 428.2h.01M319.3 347.8h.01M670.3 445.4h.01" stroke="#6DC571" stroke-width="11" stroke-linecap="round" fill="none"/>
<path d="M694.3 435.7h.01M698.3 438.3h.01M297.8 374.6h.01M700.7 438.8h.01M669.9 459.7h.01M677.6 456.6h.01M665.5 460.0h.01M695.8 434.1h.01M306.1 371.7h.01M307.6 374.1h.01M671.5 456.9h.01M294.4 351.1h.01M695.7 439.4h.01M697.0 434.2h.01M698.9 436.8h.01M694.6 438.1h.01M296.5 352.7h.01M674.7 453.2h.01M690.2 445.9h.01M293.7 351.1h.01M300.6 346.1h.01M297.1 373.2h.01M295.6 364.5h.01M305.7 352.0h.01M684.5 454.2h.01M305.8 352.7h.01M669.6 453.2h.01M305.4 372.6h.01M681.8 458.1h.01M689.3 438.8h.01M300.0 374.1h.01M303.8 346.0h.01M306.6 369.2h.01M679.0 449.9h.01M295.5 372.7h.01M694.4 434.7h.01M672.2 467.4h.01M303.8 346.6h.01M307.2 371.2h.01M305.6 372.4h.01M298.5 346.5h.01M671.6 467.7h.01M299.0 339.0h.01M681.2 452.2h.01M679.4 453.6h.01M307.1 374.4h.01M695.6 436.6h.01" stroke="#75C967" stroke-width="11" stroke-linecap="round" fill="none"/>
<path d="M289.9 364.2h.01M289.8 373.4h.01M278.7 348.2h.01M289.1 366.7h.01M705.2 443.5h.01M290.1 376.1h.01M677.4 478.6h.01M701.9 442.9h.01M290.6 372.1h.01M710.4 444.5h.01M691.2 450.7h.01M287.3 363.2h.01M679.5 470.2h.01M289.3 345.1h.01M682.7 471.9h.01M684.2 454.8h.01M292.9 366.1h.01M291.0 354.8h.01M676.4 475.1h.01M279.2 360.5h.01M282.4 376.5h.01M679.3 465.1h.01M281.0 376.4h.01M677.8 475.2h.01M696.2 452.6h.01M687.6 461.3h.01M283.4 349.6h.01M282.6 365.8h.01M702.9 442.3h.01M676.8 477.3h.01M695.9 447.0h.01M682.1 461.2h.01M690.2 454.3h.01M680.3 459.1h.01" stroke="#7DCE5E" stroke-width="11" stroke-linecap="round" fill="none"/>
<path d="M264.0 372.4h.01M270.4 371.6h.01M706.6 458.1h.01M271.1 353.9h.01M715.1 456.3h.01M277.9 358.1h.01M707.2 452.7h.01M275.3 375.3h.01M696.5 475.8h.01M710.9 455.7h.01M266.2 368.2h.01M276.9 369.4h.01M273.7 374.6h.01M695.6 462.3h.01M273.1 367.8h.01M276.5 375.6h.01M706.3 453.4h.01M688.8 477.8h.01M265.0 349.1h.01M710.2 451.3h.01M708.8 456.5h.01M264.5 366.1h.01M265.4 373.8h.01M702.0 458.8h.01M270.7 366.1h.01M691.3 477.7h.01M699.8 460.1h.01M688.4 477.8h.01M272.2 349.8h.01M688.2 474.8h.01M704.9 461.3h.01M695.1 469.3h.01M273.2 374.2h.01M266.0 348.8h.01M713.0 449.2h.01M265.4 373.5h.01M713.9 451.0h.01M684.4 479.4h.01M688.1 474.9h.01M698.7 460.8h.01M272.3 356.9h.01M267.2 353.2h.01M269.2 350.1h.01M269.7 363.6h.01" stroke="#84D355" stroke-width="11" stroke-linecap="round" fill="none"/>
<path d="M705.7 471.2h.01M711.9 475.0h.01M702.6 473.8h.01M719.5 464.8h.01M711.4 464.6h.01M258.1 381.0h.01M246.5 373.2h.01M260.5 376.1h.01M693.3 484.3h.01M254.1 358.1h.01M700.2 473.7h.01M253.4 381.2h.01M694.7 479.9h.01M258.5 380.7h.01M251.4 357.1h.01M709.7 474.7h.01M714.9 471.1h.01M690.1 481.4h.01M693.4 486.4h.01M259.5 377.1h.01M246.8 361.8h.01M257.1 353.5h.01M250.6 369.2h.01M255.7 373.1h.01M247.4 359.2h.01M697.7 485.3h.01M256.5 376.7h.01M249.2 349.6h.01M257.3 379.1h.01M247.0 367.3h.01M692.1 483.1h.01M695.4 485.3h.01M711.6 471.4h.01M250.5 381.8h.01M246.4 361.6h.01M257.0 381.8h.01M255.6 358.9h.01M255.3 370.0h.01M693.0 488.1h.01M246.5 354.1h.01M258.1 356.3h.01M259.3 372.7h.01M259.0 381.8h.01M257.4 367.3h.01M697.4 486.5h.01M259.3 357.7h.01M714.8 466.7h.01M258.5 364.8h.01M695.0 484.3h.01M719.6 458.3h.01M261.4 378.8h.01M255.4 373.5h.01M253.2 371.7h.01M719.5 466.1h.01" stroke="#8FD650" stroke-width="11" stroke-linecap="round" fill="none"/>
<path d="M715.6 485.4h.01M243.9 378.0h.01M230.6 362.9h.01M707.5 485.2h.01M706.5 493.4h.01M227.2 347.0h.01M241.6 377.4h.01M706.9 491.1h.01M234.1 367.0h.01M228.8 363.1h.01M231.4 353.4h.01M233.4 364.7h.01M243.3 367.7h.01M239.6 375.6h.01M227.7 353.9h.01M238.1 367.5h.01M724.9 470.2h.01M709.4 487.5h.01M235.7 351.5h.01M232.4 360.3h.01M229.3 360.5h.01M231.7 381.7h.01M243.1 377.9h.01M233.1 369.3h.01M707.7 480.5h.01M228.4 372.2h.01M234.0 379.5h.01M720.2 474.5h.01M705.4 492.4h.01M243.5 368.4h.01M242.0 377.4h.01M241.7 351.9h.01M722.2 469.0h.01M727.5 470.1h.01M228.2 355.2h.01M234.9 376.9h.01M241.2 379.7h.01" stroke="#9AD84D" stroke-width="11" stroke-linecap="round" fill="none"/>
<path d="M225.3 355.5h.01M224.8 375.3h.01M218.1 348.6h.01M716.0 491.2h.01M714.3 488.9h.01M224.4 364.0h.01M720.2 485.6h.01M213.1 367.6h.01M217.6 359.8h.01M216.8 364.1h.01M222.8 360.0h.01M724.4 477.3h.01M213.5 368.5h.01M215.2 364.0h.01M727.2 482.5h.01M713.4 495.6h.01M226.3 359.2h.01M225.1 356.8h.01M217.1 350.6h.01M218.1 379.9h.01M223.4 374.2h.01M217.6 382.2h.01M710.0 492.1h.01M223.0 351.8h.01M710.6 493.2h.01M223.1 380.7h.01M722.2 487.1h.01M218.2 351.5h.01M217.6 378.7h.01M724.6 481.0h.01M220.5 355.2h.01" stroke="#A5DA4A" stroke-width="11" stroke-linecap="round" fill="none"/>
<path d="M211.7 382.5h.01M209.8 370.0h.01M203.1 352.9h.01M198.8 360.3h.01M206.3 352.7h.01M204.5 350.8h.01M722.5 487.8h.01M210.5 369.2h.01" stroke="#B5DC4B" stroke-width="11" stroke-linecap="round" fill="none"/>
<path d="M207.7 349.1h.01M200.6 379.3h.01M190.9 367.0h.01M213.6 347.4h.01M197.0 378.6h.01M194.3 352.7h.01M194.2 381.8h.01M191.9 383.0h.01M194.6 366.5h.01M203.4 346.1h.01M186.0 361.7h.01M196.7 369.3h.01M205.0 351.9h.01M199.2 345.1h.01M201.3 380.6h.01M203.1 345.6h.01M208.8 338.4h.01M197.5 371.7h.01M189.3 358.5h.01M195.6 348.4h.01M198.0 366.0h.01M189.5 357.6h.01M198.8 344.4h.01M198.7 368.2h.01M195.4 371.0h.01M191.8 360.1h.01M198.2 366.4h.01M193.2 369.0h.01M197.0 368.3h.01M199.5 378.3h.01M209.5 342.3h.01M190.0 377.9h.01M191.1 365.3h.01" stroke="#C4DE4C" stroke-width="11" stroke-linecap="round" fill="none"/>
<path d="M186.4 368.7h.01M182.5 374.9h.01M177.2 365.5h.01M184.6 367.1h.01M172.9 366.3h.01M175.7 381.8h.01M182.0 363.9h.01M173.7 362.8h.01M176.7 385.5h.01M178.0 330.0h.01M177.9 370.6h.01M180.3 384.1h.01M188.5 380.3h.01M213.6 334.3h.01M176.4 364.0h.01M214.4 335.9h.01M190.7 344.9h.01M197.8 339.8h.01M188.4 380.6h.01M176.0 365.3h.01M205.7 333.2h.01M217.3 330.8h.01M173.8 363.9h.01M172.9 364.3h.01M208.4 327.0h.01M175.1 371.6h.01M177.9 379.8h.01M214.3 336.2h.01M187.2 375.1h.01M184.7 379.7h.01M174.5 374.1h.01M187.6 374.9h.01M203.8 331.9h.01M201.5 324.8h.01M178.5 368.0h.01" stroke="#D1DF4B" stroke-width="11" stroke-linecap="round" fill="none"/>
<path d="M163.2 366.0h.01M170.9 375.3h.01M203.9 321.9h.01M172.3 385.5h.01M216.7 326.1h.01M157.5 384.6h.01M160.2 367.0h.01M200.6 315.9h.01M167.2 384.4h.01M200.7 321.7h.01M168.9 363.6h.01M201.2 316.4h.01M199.3 317.4h.01M173.5 384.6h.01M167.6 379.9h.01M159.4 369.8h.01M162.1 364.2h.01M161.2 388.6h.01M197.6 319.0h.01M159.7 374.4h.01M163.5 373.8h.01M217.9 316.9h.01M212.1 322.1h.01M210.7 313.0h.01" stroke="#D7DD48" stroke-width="11" stroke-linecap="round" fill="none"/>
<path d="M152.2 370.0h.01M151.0 387.0h.01M153.0 368.8h.01M145.9 368.5h.01M205.8 306.8h.01M146.4 385.5h.01M148.0 366.4h.01M153.1 367.2h.01M148.4 366.7h.01M156.0 390.9h.01M148.9 375.4h.01M150.6 371.3h.01M140.7 388.7h.01M138.8 390.5h.01" stroke="#DDDA46" stroke-width="11" stroke-linecap="round" fill="none"/>
<path d="M128.7 383.9h.01M135.6 373.9h.01M139.9 372.8h.01M140.9 367.1h.01M132.5 375.9h.01M129.1 379.9h.01M139.2 380.1h.01M128.6 373.2h.01M132.6 385.0h.01M129.3 384.8h.01M140.5 366.2h.01M127.7 381.4h.01M137.4 392.3h.01M132.9 385.5h.01M138.6 368.9h.01M136.8 378.5h.01M130.0 384.2h.01" stroke="#E3D843" stroke-width="11" stroke-linecap="round" fill="none"/>
<path d="M125.7 381.3h.01M125.5 383.2h.01M114.2 371.0h.01M121.3 366.7h.01M121.7 381.8h.01M113.8 375.4h.01M125.8 384.2h.01M127.2 379.6h.01M123.4 366.9h.01M117.0 378.6h.01M119.3 368.8h.01M126.6 381.6h.01M114.8 378.7h.01M115.3 370.2h.01" stroke="#E9D540" stroke-width="11" stroke-linecap="round" fill="none"/>
<path d="M472.5 149C472 215 420 268 302.8 279.4" stroke="#0D0F0D" stroke-width="2.8" fill="none"/>
<path d="M280.9 280.5L306.3 268.7L302.8 279.7L307.1 290.5Z" fill="#0D0F0D"/>
<path d="M633 172.4C633.5 235 646 296 686.3 332.6" stroke="#0D0F0D" stroke-width="3.3" fill="none"/>
<path d="M708.8 339.3L677.2 341.9L687.3 332.5L684.5 319.0Z" fill="#0D0F0D"/>
<circle cx="519.4" cy="320.4" r="12.8" fill="#0A0A05"/>
<text transform="translate(519.4 327.9)" font-size="21" fill="#fff" text-anchor="middle">1</text>
<circle cx="210.5" cy="356.6" r="12.8" fill="#0A0A05"/>
<text transform="translate(210.5 364.1)" font-size="21" fill="#fff" text-anchor="middle">2</text>
<text transform="translate(782.0 31.8)" font-size="44.5" fill="#000" text-anchor="start" font-weight="bold">b</text>
<line x1="847.7" y1="91.7" x2="847.7" y2="514.8" stroke="#000" stroke-width="2"/>
<line x1="846.7" y1="513.8" x2="1513.5" y2="513.8" stroke="#000" stroke-width="2"/>
<line x1="841.7" y1="96.5" x2="847.2" y2="96.5" stroke="#222" stroke-width="2.7"/>
<text transform="translate(838.0 103.5)" font-size="19.5" fill="#4D4D4D" text-anchor="end">8</text>
<line x1="841.7" y1="209.5" x2="847.2" y2="209.5" stroke="#222" stroke-width="2.7"/>
<text transform="translate(838.0 216.5)" font-size="19.5" fill="#4D4D4D" text-anchor="end">4</text>
<line x1="841.7" y1="322.5" x2="847.2" y2="322.5" stroke="#222" stroke-width="2.7"/>
<text transform="translate(838.0 329.5)" font-size="19.5" fill="#4D4D4D" text-anchor="end">0</text>
<line x1="841.7" y1="435.0" x2="847.2" y2="435.0" stroke="#222" stroke-width="2.7"/>
<text transform="translate(838.0 442.0)" font-size="19.5" fill="#4D4D4D" text-anchor="end">−4</text>
<line x1="998.5" y1="514.3" x2="998.5" y2="520.3" stroke="#222" stroke-width="2.7"/>
<text transform="translate(998.5 538.0)" font-size="19.5" fill="#4D4D4D" text-anchor="middle">−5</text>
<line x1="1173.5" y1="514.3" x2="1173.5" y2="520.3" stroke="#222" stroke-width="2.7"/>
<text transform="translate(1173.5 538.0)" font-size="19.5" fill="#4D4D4D" text-anchor="middle">0</text>
<line x1="1350.0" y1="514.3" x2="1350.0" y2="520.3" stroke="#222" stroke-width="2.7"/>
<text transform="translate(1350.0 538.0)" font-size="19.5" fill="#4D4D4D" text-anchor="middle">5</text>
<text transform="translate(1180.0 565.0)" font-size="22.8" fill="#000" text-anchor="middle">Component 1</text>
<text transform="translate(805.5 303.0) rotate(-90)" font-size="23" fill="#000" text-anchor="middle">Component 2</text>
<circle cx="852.8" cy="58" r="6.9" fill="#E480BB"/>
<text transform="translate(892.8 67.5)" font-size="26.4" fill="#000" text-anchor="start">Monocyte</text>
<circle cx="1047.7" cy="58" r="6.9" fill="#964B28"/>
<text transform="translate(1088.8 67.5)" font-size="26.4" fill="#000" text-anchor="start">Macrophage</text>
<circle cx="1275.0" cy="58" r="6.9" fill="#FBBC78"/>
<text transform="translate(1316.0 67.5)" font-size="26.4" fill="#000" text-anchor="start">Dendritic Cell</text>
<path d="M1358.2 347.8h.01M1481.4 458.1h.01M1421.8 403.8h.01M1300.5 264.8h.01M1477.2 491.3h.01M1418.3 405.4h.01M1366.9 360.0h.01M1309.1 239.6h.01M1458.1 494.8h.01M1473.6 452.2h.01M1420.0 395.8h.01M1338.7 157.6h.01M1320.8 322.0h.01M1284.9 306.0h.01M1321.5 213.4h.01M1464.2 447.9h.01M1307.0 314.2h.01M1429.6 401.2h.01M1311.0 250.4h.01M1322.8 206.0h.01M1341.8 131.1h.01M1472.5 470.9h.01M1313.1 217.5h.01M1415.4 458.2h.01M1418.5 458.2h.01M1426.0 401.5h.01M1313.2 236.3h.01M1329.5 167.9h.01M1217.3 341.9h.01M1453.0 435.1h.01M1320.1 228.3h.01M1466.5 450.5h.01M1312.9 248.7h.01M1441.3 430.4h.01M1323.6 321.8h.01M1449.0 428.7h.01M1352.5 352.0h.01M1303.6 263.1h.01M1316.9 326.7h.01M1401.3 434.6h.01M1436.2 413.8h.01M1377.2 369.1h.01M1460.1 435.5h.01M1314.6 245.0h.01M1321.3 218.1h.01M1463.0 440.3h.01M1453.7 446.4h.01M1319.0 196.5h.01M1382.4 367.5h.01M1346.5 339.5h.01M1380.4 360.1h.01M1321.4 319.1h.01M1364.2 340.9h.01M1452.4 438.9h.01M1409.4 437.8h.01M1319.7 200.2h.01M1473.0 490.6h.01M1455.5 495.1h.01M1311.0 249.9h.01M1297.6 276.2h.01M1466.0 446.3h.01M1409.5 390.6h.01M1432.2 469.1h.01M1287.3 291.7h.01M1321.9 220.3h.01M1333.1 318.7h.01M1195.9 351.0h.01M1351.2 344.4h.01M1320.1 199.7h.01M1482.3 460.1h.01M1441.2 426.5h.01M1447.2 484.9h.01M1341.8 324.7h.01M1434.7 426.6h.01M1453.0 493.2h.01M1392.8 377.4h.01M1324.0 217.6h.01M1453.5 489.1h.01M1292.8 278.9h.01M1303.7 247.4h.01M1423.3 402.4h.01M1322.2 328.0h.01M1417.1 397.2h.01M1404.6 439.8h.01M1288.0 304.9h.01M1219.5 342.7h.01M1392.3 425.5h.01M1298.1 274.3h.01M1396.5 379.0h.01M1325.1 190.7h.01M1430.5 421.8h.01M1326.2 321.4h.01M1467.9 464.8h.01M1319.5 204.0h.01M1467.7 464.9h.01M1330.9 321.7h.01M1429.1 423.2h.01M1468.1 444.8h.01M1476.4 452.4h.01M1399.1 384.2h.01M1470.2 451.0h.01M1359.5 340.5h.01M1464.3 451.9h.01M1314.4 235.8h.01M1326.9 320.2h.01M1471.1 446.1h.01M1317.8 229.9h.01M1475.8 462.2h.01M1344.9 333.2h.01M1352.9 349.2h.01M1379.7 359.8h.01M1299.2 272.8h.01M1383.9 413.6h.01M1472.1 493.2h.01M1173.3 355.4h.01M1473.0 484.1h.01M1396.7 373.8h.01M1306.7 229.9h.01M1331.8 172.8h.01M1451.3 439.1h.01M1364.3 353.3h.01M1443.1 417.5h.01M1484.1 464.6h.01M1482.9 467.0h.01M1405.8 402.7h.01M1464.5 465.9h.01M1376.4 365.5h.01M1150.9 360.1h.01M1416.8 399.4h.01M1334.8 319.0h.01M1355.9 335.9h.01M1462.7 435.7h.01M1296.6 272.9h.01M1337.0 324.7h.01M1411.9 387.2h.01M1404.3 376.8h.01M1443.7 430.5h.01M1417.3 461.9h.01M1421.4 389.1h.01M1429.7 466.5h.01M1391.5 420.9h.01M1368.8 346.1h.01M1420.6 458.9h.01M1411.6 387.7h.01M1358.7 353.2h.01M1351.2 344.6h.01M1479.4 479.7h.01M1451.3 489.4h.01M1389.8 428.3h.01M1312.5 238.0h.01M1412.2 441.5h.01M1400.1 375.5h.01M1461.6 459.2h.01M1427.6 423.0h.01M1233.7 340.5h.01M1390.1 421.1h.01M1355.0 344.2h.01M1411.1 394.8h.01M1383.4 354.6h.01M1411.5 441.8h.01M1459.6 437.9h.01M1414.7 406.2h.01M1314.6 225.4h.01M1397.8 373.5h.01M1478.6 489.8h.01M1462.0 429.4h.01M1375.2 361.2h.01M1475.2 454.1h.01M1455.6 489.4h.01M1475.9 488.2h.01M1307.1 258.1h.01M1412.6 450.0h.01M1447.8 448.0h.01M1360.7 342.9h.01M1415.6 450.3h.01M1287.1 285.2h.01M1389.4 364.4h.01M1354.7 339.9h.01M1450.7 424.9h.01M1483.7 476.5h.01M1358.7 345.0h.01M1405.0 373.7h.01M1377.3 368.1h.01M1167.7 353.4h.01M1455.7 493.2h.01M1459.3 438.3h.01M1421.1 391.8h.01M1475.1 493.4h.01M1473.4 467.4h.01M1466.1 454.8h.01M1415.7 406.9h.01M1342.4 329.7h.01M1323.7 202.9h.01M1181.5 354.7h.01M1290.4 282.9h.01M1472.6 464.3h.01M1316.5 235.2h.01M1326.3 200.9h.01M1322.7 221.0h.01M1461.3 448.5h.01M1233.1 338.0h.01M1407.3 437.4h.01M1415.2 451.7h.01M1427.5 400.3h.01M1467.2 441.7h.01M1362.8 334.7h.01M1384.4 367.3h.01M1404.4 373.7h.01M1392.3 422.6h.01M1407.6 385.6h.01M1422.1 460.9h.01M1432.9 473.9h.01M1319.2 315.4h.01M1322.6 208.3h.01M1355.4 340.4h.01M1450.4 489.7h.01M1210.1 340.8h.01M1428.4 466.4h.01M1311.2 229.5h.01M1295.8 277.3h.01M1476.1 469.2h.01M1421.5 421.4h.01M1360.4 332.5h.01M1439.8 412.1h.01M1210.6 340.6h.01M1349.4 329.2h.01M1427.1 411.5h.01M1390.7 380.6h.01M1405.3 391.2h.01M1369.5 342.8h.01M1325.2 199.1h.01M1323.8 188.4h.01M1473.4 466.5h.01M1324.7 194.4h.01M1459.7 455.8h.01M1163.9 352.9h.01M1441.6 483.0h.01M1443.6 419.9h.01M1361.1 334.9h.01M1386.4 375.3h.01M1294.5 280.9h.01M1454.8 433.2h.01M1381.9 420.3h.01M1339.2 134.7h.01M1378.9 411.1h.01M1288.2 305.4h.01M1359.1 359.0h.01M1418.3 457.9h.01M1149.7 356.5h.01M1443.6 415.5h.01M1315.1 187.9h.01M1319.1 203.9h.01M1412.6 400.2h.01M1404.0 376.6h.01M1363.8 337.2h.01M1455.9 494.9h.01M1290.9 296.0h.01M1288.5 305.1h.01M1429.4 402.8h.01M1389.0 417.7h.01M1170.0 351.8h.01M1450.1 446.6h.01M1344.3 324.6h.01M1413.0 447.3h.01M1293.3 280.3h.01M1296.2 274.3h.01M1474.3 485.9h.01M1397.3 374.8h.01M1376.5 355.2h.01M1430.7 429.0h.01M1475.9 462.5h.01M1409.3 380.2h.01M1447.3 446.9h.01M1417.9 417.4h.01M1475.6 452.7h.01M1324.9 201.9h.01M1433.0 472.1h.01M1428.1 468.2h.01M1300.1 267.8h.01M1424.5 459.2h.01M1387.6 383.5h.01M1316.8 221.6h.01M1471.0 454.5h.01M1460.5 435.0h.01M1221.7 344.8h.01M1321.8 215.5h.01M1436.4 476.1h.01M1455.6 438.0h.01M1392.5 368.4h.01M1352.1 333.9h.01M1238.5 355.8h.01M1441.9 417.5h.01M1289.1 307.5h.01M1415.0 453.1h.01M1406.1 434.5h.01M1369.7 359.8h.01M1399.8 372.9h.01M1310.1 251.4h.01M1300.5 260.7h.01M1434.7 412.6h.01M1377.4 407.6h.01M1359.5 354.7h.01M1480.6 462.4h.01M1297.1 275.9h.01M1292.8 281.9h.01M1418.1 389.9h.01M1406.0 406.0h.01M1454.5 427.3h.01M1424.5 400.5h.01M1418.2 398.4h.01M1478.0 490.5h.01M1452.6 438.8h.01M1439.3 481.0h.01M1433.5 413.9h.01M1444.4 420.5h.01M1443.3 416.7h.01M1454.9 431.3h.01M1321.8 317.9h.01M1320.7 222.7h.01M1466.2 450.0h.01M1404.3 399.9h.01M1462.7 450.5h.01M1401.9 382.0h.01M1387.1 359.5h.01M1450.3 485.0h.01M1362.6 355.6h.01M1438.1 415.5h.01M1486.6 474.9h.01M1369.9 350.5h.01M1399.4 385.8h.01M1415.0 451.0h.01M1298.0 264.4h.01M1302.3 271.1h.01M1486.7 464.7h.01M1238.8 337.5h.01M1450.2 437.4h.01M1401.0 430.8h.01M1462.9 456.5h.01M1315.4 240.6h.01M1436.3 423.3h.01M1472.5 490.4h.01M1466.7 439.5h.01M1369.2 356.9h.01M1408.2 437.4h.01M1287.9 298.2h.01M1322.3 205.5h.01M1300.8 308.2h.01M1417.6 454.3h.01M1420.3 389.6h.01M1305.2 312.3h.01M1304.4 263.9h.01M1374.1 349.9h.01M1403.8 375.1h.01M1194.7 348.8h.01M1473.2 466.0h.01M1368.0 347.1h.01M1430.7 470.1h.01M1441.3 481.6h.01M1391.0 370.9h.01M1334.7 337.1h.01M1320.3 197.2h.01M1414.9 403.5h.01M1414.6 451.2h.01M1337.4 337.2h.01M1304.9 261.2h.01M1437.8 412.0h.01M1330.3 171.1h.01M1447.5 431.6h.01M1339.7 323.9h.01M1289.4 299.5h.01M1428.2 471.4h.01M1468.6 443.0h.01M1464.4 440.5h.01M1314.7 213.8h.01M1301.0 268.7h.01M1288.7 300.9h.01M1410.9 449.0h.01M1396.8 392.1h.01M1386.9 377.4h.01M1313.3 249.4h.01M1422.8 421.9h.01M1432.7 424.0h.01M1457.1 449.6h.01M1397.7 376.1h.01M1476.2 487.6h.01M1426.4 461.3h.01M1382.4 414.9h.01M1407.0 396.4h.01M1302.6 267.8h.01M1317.3 316.0h.01M1283.6 302.7h.01M1339.3 132.8h.01M1465.5 492.5h.01M1301.5 264.3h.01M1334.0 157.5h.01M1289.9 298.2h.01M1461.5 447.3h.01M1405.3 380.3h.01M1290.0 291.0h.01M1453.1 456.6h.01M1486.8 483.8h.01M1312.9 218.6h.01M1446.7 484.3h.01M1475.5 489.1h.01M1393.4 372.9h.01M1309.5 236.7h.01M1458.4 456.8h.01M1383.9 352.0h.01M1316.0 214.9h.01M1380.7 419.4h.01M1431.5 428.7h.01M1370.0 361.4h.01M1445.6 417.7h.01M1296.1 277.1h.01M1386.5 360.9h.01M1359.3 350.1h.01M1415.4 405.2h.01M1480.8 463.8h.01M1363.5 349.0h.01M1391.0 360.9h.01M1329.6 329.2h.01M1475.5 455.7h.01M1460.3 429.8h.01M1322.5 331.8h.01M1447.5 436.6h.01M1394.0 386.5h.01M1319.6 224.4h.01M1399.3 385.5h.01M1353.0 345.7h.01M1385.8 356.3h.01M1445.6 443.3h.01M1474.4 462.1h.01M1373.1 348.8h.01M1314.0 231.2h.01M1402.1 435.5h.01M1442.2 423.2h.01M1178.8 353.1h.01M1477.4 453.9h.01M1427.0 399.9h.01M1362.4 353.7h.01M1330.8 321.9h.01M1196.5 346.7h.01M1314.1 216.4h.01M1462.2 446.9h.01M1415.5 453.8h.01M1480.1 486.1h.01M1319.6 225.5h.01M1441.7 413.8h.01M1447.8 488.5h.01M1342.0 153.9h.01M1417.1 451.8h.01M1294.3 310.0h.01M1327.4 322.9h.01M1447.4 438.5h.01M1326.1 182.0h.01M1439.7 433.4h.01M1395.1 381.5h.01M1314.1 320.2h.01M1371.1 354.1h.01M1321.6 209.7h.01M1304.3 262.0h.01M1361.9 349.4h.01M1317.1 324.5h.01M1436.4 413.6h.01M1381.4 373.2h.01M1348.4 340.2h.01M1320.4 324.8h.01M1340.9 339.2h.01M1402.2 370.6h.01M1323.9 318.0h.01M1436.9 475.5h.01M1309.9 250.6h.01M1421.0 400.8h.01M1419.3 406.7h.01M1381.0 414.1h.01M1405.1 404.4h.01M1450.7 421.4h.01M1445.7 430.3h.01M1347.6 342.8h.01M1478.6 450.5h.01M1209.0 340.1h.01M1315.1 229.8h.01M1322.8 323.6h.01M1444.4 443.2h.01M1307.8 230.6h.01M1422.7 408.7h.01M1286.0 307.2h.01M1314.5 243.7h.01M1350.8 339.9h.01M1411.6 444.1h.01M1414.7 386.5h.01M1465.9 451.6h.01M1172.8 357.3h.01M1380.3 363.6h.01M1325.4 186.0h.01M1431.2 410.5h.01M1413.3 401.6h.01M1429.0 406.4h.01M1449.5 423.8h.01M1420.9 395.0h.01M1286.4 300.8h.01M1384.7 368.0h.01M1439.2 411.0h.01M1412.0 385.9h.01M1345.3 337.1h.01M1368.2 349.4h.01M1423.1 463.5h.01M1322.1 322.8h.01M1402.1 371.0h.01M1469.4 492.5h.01M1315.4 244.1h.01M1329.3 188.7h.01M1470.0 468.5h.01M1486.5 464.5h.01M1254.2 333.6h.01M1345.3 348.2h.01M1361.2 341.2h.01M1401.1 373.4h.01M1323.6 203.6h.01M1303.7 309.3h.01M1292.6 273.9h.01M1474.7 468.6h.01M1441.3 433.0h.01M1153.3 358.6h.01M1460.1 437.9h.01M1465.7 442.8h.01M1305.7 313.3h.01M1350.0 347.7h.01M1340.5 129.7h.01M1482.2 474.2h.01M1474.4 457.6h.01M1464.4 435.0h.01M1317.5 240.7h.01M1225.1 343.4h.01M1415.6 413.5h.01M1314.3 238.7h.01M1219.2 344.3h.01M1372.8 347.0h.01M1393.4 428.5h.01M1361.3 334.8h.01M1386.4 380.5h.01M1391.4 360.3h.01M1339.8 128.1h.01M1387.4 364.3h.01M1421.2 455.9h.01M1411.2 383.3h.01M1410.3 396.1h.01M1382.2 358.6h.01M1316.4 322.8h.01M1431.5 468.1h.01M1380.8 363.4h.01M1322.9 318.4h.01M1472.8 447.9h.01M1361.4 343.5h.01M1301.7 315.4h.01M1472.2 446.2h.01M1362.2 352.3h.01M1310.4 216.4h.01M1397.9 380.1h.01M1446.5 484.8h.01M1297.9 274.8h.01M1362.3 339.6h.01M1376.4 348.5h.01M1326.7 190.8h.01M1477.8 479.6h.01M1318.8 189.3h.01M1250.9 339.5h.01M1336.4 320.3h.01M1404.7 440.7h.01M1434.9 427.7h.01M1481.3 468.7h.01M1323.6 200.9h.01M1478.1 452.7h.01M1310.3 320.0h.01M1323.7 206.0h.01M1342.6 323.7h.01M1313.8 232.0h.01M1424.9 414.9h.01M1439.3 413.0h.01M1305.3 259.1h.01M1453.8 494.3h.01M1372.8 349.4h.01M1367.7 344.2h.01M1301.3 309.9h.01M1153.7 355.1h.01M1333.2 319.8h.01M1315.0 246.0h.01M1378.7 413.6h.01M1407.3 435.3h.01M1369.3 369.7h.01M1323.9 216.9h.01M1384.9 421.5h.01M1324.8 318.2h.01M1379.6 414.1h.01M1294.9 314.4h.01M1417.7 459.6h.01M1405.6 374.3h.01M1433.9 474.4h.01M1464.7 469.0h.01M1375.5 349.0h.01M1363.0 350.3h.01M1386.2 418.5h.01M1325.2 207.6h.01M1298.9 258.2h.01M1482.7 467.9h.01M1343.8 339.9h.01M1392.3 382.3h.01M1351.0 338.9h.01M1482.6 473.7h.01M1455.2 492.5h.01M1371.9 348.9h.01M1431.1 408.6h.01M1420.2 394.1h.01M1396.0 377.3h.01M1349.7 342.6h.01M1405.9 398.8h.01M1463.4 494.8h.01M1391.5 420.8h.01M1441.8 414.6h.01M1316.4 239.0h.01M1332.9 166.5h.01M1362.6 343.2h.01M1470.9 486.6h.01M1451.9 488.0h.01M1471.5 463.3h.01M1398.5 429.7h.01M1321.2 207.1h.01M1481.6 475.4h.01M1381.1 415.6h.01M1446.1 415.5h.01M1217.8 340.7h.01M1299.6 313.5h.01M1449.3 436.4h.01M1306.6 255.5h.01M1409.1 381.9h.01M1320.3 187.3h.01M1251.5 339.1h.01M1434.8 427.7h.01M1316.4 315.9h.01M1172.5 359.2h.01M1314.0 231.6h.01M1341.1 326.0h.01M1402.5 373.9h.01M1395.6 370.3h.01M1433.1 410.8h.01M1475.5 482.7h.01M1390.7 376.8h.01M1334.6 155.1h.01M1290.1 312.0h.01M1396.6 429.9h.01M1454.6 430.1h.01M1458.5 432.9h.01M1465.8 467.7h.01M1289.9 298.6h.01M1445.6 420.7h.01M1324.5 319.8h.01M1413.3 388.3h.01M1361.6 336.5h.01M1372.6 369.1h.01M1415.5 405.4h.01M1466.6 453.9h.01M1179.9 359.1h.01M1313.2 325.3h.01M1285.9 304.0h.01M1357.6 357.8h.01M1396.3 384.7h.01M1471.9 471.7h.01M1313.0 221.0h.01M1403.2 438.0h.01M1291.9 285.6h.01M1341.7 134.4h.01M1394.0 428.5h.01M1369.9 345.9h.01M1476.0 488.9h.01M1423.4 400.8h.01M1479.4 461.0h.01M1379.6 410.5h.01M1474.3 486.4h.01M1387.1 374.2h.01M1471.4 460.8h.01M1411.9 380.9h.01M1475.1 451.9h.01M1211.6 341.1h.01M1323.3 206.7h.01M1314.2 240.1h.01M1431.3 405.2h.01M1449.5 486.5h.01M1314.4 229.2h.01M1467.3 448.1h.01M1465.3 438.4h.01M1258.3 332.8h.01M1303.0 268.1h.01M1157.8 355.0h.01M1394.6 370.1h.01M1414.4 450.4h.01M1379.0 411.6h.01M1433.9 480.5h.01M1440.9 416.1h.01M1316.4 316.2h.01M1328.8 318.4h.01M1471.0 451.3h.01M1329.3 185.2h.01M1360.7 347.3h.01M1175.7 357.9h.01M1219.4 342.9h.01M1460.8 433.4h.01M1462.1 437.8h.01M1410.7 397.1h.01M1304.6 282.3h.01M1405.4 436.8h.01M1434.2 411.2h.01M1313.4 316.9h.01M1287.2 307.3h.01M1426.4 460.5h.01M1310.5 241.3h.01M1351.6 331.9h.01M1393.5 423.7h.01M1299.7 274.2h.01M1193.7 350.1h.01M1470.4 439.5h.01M1425.3 420.3h.01M1399.7 438.2h.01M1480.1 483.0h.01M1423.1 390.0h.01M1299.5 272.4h.01M1327.5 192.4h.01M1462.6 496.2h.01M1387.1 357.4h.01M1369.5 342.9h.01M1339.4 334.1h.01M1386.9 417.9h.01M1410.9 408.4h.01M1451.5 446.0h.01M1343.2 342.2h.01M1291.1 283.4h.01M1397.4 436.3h.01M1326.0 215.7h.01M1327.7 333.1h.01M1391.2 373.9h.01M1149.5 355.6h.01M1463.0 493.7h.01M1328.3 187.6h.01M1319.7 218.9h.01M1297.2 313.9h.01M1469.8 471.4h.01M1391.7 424.6h.01M1422.1 460.9h.01M1425.0 418.8h.01M1374.4 356.0h.01M1474.8 467.6h.01M1400.2 374.6h.01M1346.1 338.7h.01M1393.7 379.0h.01M1446.4 483.5h.01M1466.4 448.9h.01M1331.4 328.9h.01M1396.9 431.0h.01M1304.4 308.7h.01M1449.7 488.8h.01M1315.5 316.1h.01M1315.9 183.2h.01M1385.3 358.2h.01M1426.5 415.3h.01M1439.5 433.1h.01M1385.3 354.9h.01M1415.1 388.8h.01M1345.5 334.7h.01M1390.2 421.3h.01M1292.4 287.4h.01M1348.3 328.4h.01M1406.2 441.0h.01M1332.8 328.1h.01M1341.6 325.3h.01M1395.8 373.7h.01M1352.5 351.3h.01M1456.0 428.5h.01M1412.3 450.2h.01M1295.7 276.7h.01M1322.7 206.1h.01M1422.8 403.3h.01M1314.0 239.2h.01M1428.6 419.3h.01M1436.9 426.8h.01M1383.4 376.6h.01M1211.0 344.6h.01M1440.8 424.2h.01M1439.3 424.2h.01M1445.1 479.7h.01M1432.9 476.8h.01M1287.3 299.6h.01M1399.1 432.5h.01M1297.6 314.1h.01M1290.6 305.4h.01M1470.3 446.6h.01M1290.7 299.2h.01M1214.9 341.4h.01M1352.6 337.2h.01M1455.9 434.1h.01M1484.7 466.7h.01M1457.2 428.6h.01M1407.0 400.9h.01M1468.9 452.1h.01M1309.3 254.6h.01M1315.5 236.4h.01M1336.4 322.9h.01M1371.5 353.8h.01M1167.2 357.6h.01M1459.1 431.3h.01M1454.8 432.7h.01M1412.8 405.4h.01M1411.9 439.6h.01M1386.5 356.7h.01M1314.7 221.4h.01M1434.3 406.1h.01M1325.1 208.3h.01M1400.2 376.6h.01M1413.6 446.6h.01M1484.2 474.1h.01M1196.4 345.5h.01M1450.5 440.9h.01M1439.9 423.8h.01M1430.9 426.8h.01M1378.5 354.0h.01M1297.3 260.5h.01M1412.8 448.0h.01M1325.6 326.6h.01M1379.0 411.0h.01M1394.1 430.1h.01M1487.0 479.6h.01M1393.2 387.6h.01M1429.9 412.5h.01M1462.1 454.6h.01M1342.6 327.2h.01M1448.3 485.3h.01M1347.2 328.9h.01M1451.7 487.6h.01M1471.6 467.9h.01M1399.7 432.4h.01M1420.5 391.5h.01M1403.2 386.9h.01M1395.9 369.8h.01M1473.4 493.5h.01M1460.0 455.9h.01M1317.0 227.0h.01M1434.2 477.0h.01M1341.1 139.6h.01M1322.0 213.7h.01M1316.7 228.8h.01M1482.4 485.2h.01M1386.3 383.0h.01M1411.5 386.7h.01M1425.2 404.1h.01M1179.4 353.3h.01M1396.1 388.0h.01M1371.8 366.0h.01M1348.4 326.8h.01M1444.7 479.7h.01M1396.5 377.0h.01M1316.2 208.4h.01M1306.0 256.3h.01M1302.5 315.0h.01M1315.3 232.5h.01M1456.4 448.0h.01M1369.8 364.1h.01M1378.9 364.0h.01M1388.8 419.9h.01M1360.0 355.7h.01M1343.8 143.6h.01M1449.2 490.5h.01M1314.6 251.0h.01M1325.1 182.9h.01M1390.3 423.1h.01M1402.6 435.0h.01M1181.9 350.9h.01M1328.9 165.4h.01M1480.1 471.2h.01M1323.9 204.0h.01M1329.3 320.1h.01M1398.6 431.1h.01M1312.1 253.2h.01M1375.5 352.3h.01M1359.2 356.8h.01M1411.6 382.1h.01M1332.8 322.6h.01M1461.5 495.1h.01M1465.0 457.3h.01M1364.9 355.0h.01M1360.7 355.2h.01M1453.6 488.9h.01M1313.7 312.0h.01M1337.0 326.3h.01M1474.8 463.0h.01M1449.6 433.4h.01M1377.9 414.6h.01M1320.8 324.2h.01M1428.1 417.1h.01M1376.5 349.2h.01M1463.0 437.2h.01M1194.1 351.8h.01M1385.6 418.9h.01M1386.7 375.4h.01M1451.3 486.6h.01M1361.4 352.4h.01M1310.2 255.5h.01M1292.4 310.9h.01M1479.5 454.1h.01M1352.6 353.4h.01M1362.4 338.2h.01M1454.7 429.1h.01M1425.9 425.6h.01M1428.7 468.7h.01M1470.1 489.8h.01M1303.4 264.2h.01M1426.6 402.3h.01M1345.3 324.7h.01M1294.3 281.9h.01M1400.1 373.3h.01M1414.8 387.7h.01M1429.5 401.8h.01M1470.7 491.0h.01M1473.0 444.4h.01M1482.1 465.3h.01M1487.3 466.5h.01M1482.1 484.5h.01M1323.8 210.1h.01M1345.7 339.1h.01M1326.8 196.8h.01M1438.5 409.9h.01M1473.9 446.4h.01M1425.0 401.3h.01M1440.8 481.3h.01M1437.9 413.0h.01M1383.1 352.3h.01M1243.6 338.6h.01M1414.1 405.9h.01M1147.2 355.8h.01M1373.1 347.5h.01M1389.6 368.0h.01M1301.9 260.1h.01M1310.7 317.2h.01M1428.1 469.0h.01M1316.6 226.0h.01M1292.1 279.1h.01M1433.3 479.2h.01M1315.2 315.5h.01M1417.7 405.8h.01M1432.2 402.7h.01M1458.9 456.7h.01M1323.3 205.0h.01M1299.0 263.4h.01M1456.1 442.1h.01M1315.0 314.5h.01M1351.9 340.0h.01M1437.5 425.5h.01M1379.4 353.9h.01M1185.6 362.7h.01M1393.3 371.3h.01M1300.2 273.3h.01M1296.1 279.3h.01M1331.5 331.9h.01M1316.0 231.3h.01M1343.6 326.3h.01M1415.0 403.2h.01M1364.5 362.1h.01M1360.4 342.2h.01M1406.0 375.1h.01M1295.6 272.3h.01M1296.7 271.6h.01M1345.6 333.6h.01M1400.6 385.4h.01M1450.4 449.9h.01M1455.8 431.1h.01M1441.4 422.3h.01M1319.2 222.7h.01M1479.4 462.3h.01M1321.0 222.0h.01M1484.5 478.1h.01M1439.1 409.1h.01" stroke="#FBBC78" stroke-width="11.4" stroke-linecap="round" fill="none"/>
<path d="M1362.8 334.9h.01M1318.5 165.7h.01M1179.1 305.0h.01M1160.0 309.7h.01M1324.4 165.2h.01M1335.2 153.6h.01M1318.6 174.7h.01M1324.8 169.6h.01M1336.4 166.1h.01M1313.5 120.4h.01M1320.4 115.6h.01M1227.7 300.6h.01M1335.8 157.5h.01M1239.5 302.7h.01M1177.6 307.0h.01M1319.7 173.9h.01M1310.7 224.2h.01M1225.3 302.8h.01M1327.8 156.4h.01M1335.1 155.3h.01M1328.4 167.0h.01M1214.2 297.4h.01M1362.7 330.7h.01M1336.8 155.7h.01M1318.3 181.6h.01M1322.4 119.4h.01M1303.4 252.4h.01M1333.4 136.7h.01M1328.2 139.6h.01M1217.5 297.2h.01M1239.8 303.1h.01M1326.0 158.1h.01M1325.8 166.6h.01M1183.7 305.4h.01M1327.9 158.2h.01M1333.9 156.6h.01M1328.7 172.2h.01M1323.1 118.3h.01M1322.7 163.1h.01M1324.8 170.9h.01M1322.0 116.5h.01M1307.5 230.6h.01M1334.9 164.6h.01M1342.4 136.6h.01M1340.6 320.3h.01M1337.8 136.2h.01M1329.6 165.7h.01M1327.9 120.4h.01M1335.2 155.5h.01M1319.8 314.0h.01M1327.8 163.5h.01M1324.9 120.9h.01M1185.6 301.0h.01M1185.5 301.1h.01M1175.3 305.5h.01M1340.8 126.1h.01M1308.9 240.1h.01M1330.7 170.8h.01M1330.1 171.2h.01M1173.5 304.4h.01M1320.4 113.3h.01M1212.2 293.8h.01M1326.0 117.8h.01M1321.8 163.0h.01M1340.9 141.2h.01M1348.1 326.7h.01M1336.3 161.4h.01M1178.7 303.9h.01M1338.1 153.4h.01M1314.2 115.6h.01M1361.6 331.6h.01M1325.9 167.4h.01M1329.3 118.9h.01M1332.6 166.5h.01M1175.3 304.9h.01M1355.6 330.5h.01M1333.4 149.1h.01M1310.3 231.1h.01M1316.5 175.6h.01M1177.6 304.0h.01M1327.1 158.6h.01M1328.5 163.3h.01M1330.3 167.0h.01M1160.6 310.0h.01M1302.2 253.7h.01M1318.7 180.4h.01M973.0 299.9h.01M1339.7 315.1h.01M1325.2 147.7h.01M1287.9 294.1h.01M1318.0 118.7h.01M1288.1 303.1h.01M1333.1 165.7h.01M1258.2 303.2h.01M1319.2 174.7h.01M1241.1 303.3h.01M1292.1 278.4h.01M1358.2 342.2h.01M1219.7 298.5h.01M1288.0 291.9h.01M1175.3 304.0h.01M1322.1 116.1h.01M1327.4 174.9h.01M1327.0 166.8h.01M1326.8 152.7h.01M1325.6 152.3h.01M1313.2 205.6h.01M1333.8 165.6h.01M1322.4 161.3h.01M1328.0 174.9h.01M1325.6 160.4h.01M1332.6 123.9h.01M1331.5 137.6h.01M1316.0 201.6h.01M1216.0 295.6h.01M1337.5 160.0h.01M1306.5 247.3h.01M1165.5 307.3h.01M1331.2 163.4h.01M1324.9 307.2h.01M1322.3 178.9h.01M1330.8 160.5h.01M1335.7 318.0h.01M969.7 302.5h.01M1329.1 120.1h.01M1194.8 302.6h.01M1319.2 184.6h.01M1331.1 159.3h.01M1321.6 113.4h.01M1320.1 174.9h.01M1323.9 177.2h.01M1313.7 121.2h.01M1329.8 127.1h.01M1337.9 162.9h.01M1326.9 127.7h.01M1331.9 162.5h.01M1187.0 301.6h.01M1324.3 161.8h.01M1308.3 231.2h.01M1319.8 114.7h.01M1321.4 117.1h.01M1216.2 297.9h.01M1323.4 156.1h.01M1342.4 139.9h.01M1335.0 138.1h.01M1312.6 117.2h.01M1364.2 331.0h.01M1160.0 307.4h.01M1329.2 119.5h.01M1309.9 119.9h.01M1186.0 302.4h.01M1236.3 301.6h.01M1181.0 304.2h.01M1311.5 117.6h.01M1310.8 116.9h.01M1292.2 274.6h.01M1320.6 117.8h.01M1343.3 321.9h.01M1311.3 120.4h.01M1327.5 180.1h.01M1180.9 306.2h.01M1322.2 179.6h.01M1308.2 119.2h.01M1340.8 135.3h.01M1162.6 305.3h.01M1319.6 163.2h.01M1322.3 163.0h.01M1257.3 303.9h.01M1321.5 170.1h.01M1336.2 162.7h.01M1160.2 309.9h.01M1219.0 297.1h.01M1334.7 131.5h.01M1343.8 137.5h.01M1314.6 314.1h.01M973.2 295.8h.01M1326.0 172.0h.01M1340.0 320.8h.01M1291.6 275.2h.01M1333.0 166.2h.01M1322.8 114.6h.01M1331.6 148.5h.01M1331.1 139.9h.01M1327.4 177.0h.01M1334.6 155.7h.01M1215.1 294.9h.01M1306.4 306.8h.01M1317.0 114.5h.01M1332.4 123.2h.01M1268.1 300.7h.01M1201.7 294.0h.01M1306.5 308.9h.01M1328.5 170.0h.01M1324.8 162.0h.01M1320.4 115.8h.01M1343.8 134.1h.01M1339.2 154.2h.01M1331.1 131.7h.01M1187.2 300.3h.01M1330.9 167.9h.01M1329.8 165.7h.01M1336.7 129.3h.01M1317.2 317.8h.01M1190.4 303.0h.01M1316.4 314.1h.01M1341.2 144.9h.01M1320.4 119.2h.01M1179.8 306.0h.01M1337.2 152.2h.01M1339.1 136.2h.01M1333.5 122.1h.01M1319.2 176.3h.01" stroke="#E480BB" stroke-width="11.4" stroke-linecap="round" fill="none"/>
<path d="M1162.3 340.6h.01M1347.1 369.6h.01M1089.8 335.7h.01M1188.6 346.5h.01M1383.3 395.9h.01M1330.1 356.1h.01M1310.2 204.6h.01M1297.8 206.7h.01M1286.7 261.6h.01M1302.9 322.8h.01M972.8 373.4h.01M1085.9 335.1h.01M1281.4 245.1h.01M1031.2 338.2h.01M944.7 360.2h.01M1034.2 373.3h.01M1280.0 256.7h.01M975.3 316.5h.01M1163.2 323.9h.01M968.4 318.9h.01M1247.9 327.0h.01M1109.2 350.4h.01M958.7 377.2h.01M995.8 347.9h.01M1180.4 333.9h.01M1293.9 227.7h.01M1134.4 351.8h.01M1047.7 351.6h.01M925.3 370.2h.01M1050.0 359.7h.01M1311.5 205.8h.01M1331.0 339.7h.01M1228.0 320.9h.01M1174.2 343.3h.01M1244.2 312.2h.01M1083.3 349.5h.01M1303.1 220.1h.01M1080.9 353.8h.01M1073.3 341.3h.01M1002.8 356.1h.01M1083.9 356.3h.01M1356.0 369.9h.01M1200.0 297.9h.01M909.0 384.1h.01M1293.0 231.0h.01M1297.6 235.8h.01M1409.6 415.5h.01M1455.5 479.6h.01M1228.5 308.0h.01M1301.4 207.5h.01M974.6 358.5h.01M1043.9 349.8h.01M1233.1 322.1h.01M968.8 371.0h.01M923.0 364.1h.01M1294.4 188.2h.01M1299.6 178.4h.01M925.0 354.6h.01M1345.3 374.1h.01M1284.3 237.1h.01M1008.1 356.8h.01M1068.9 335.1h.01M1278.7 308.6h.01M1280.6 285.9h.01M1429.0 450.8h.01M1316.5 139.0h.01M1178.0 310.8h.01M1301.1 179.2h.01M1077.5 343.9h.01M950.4 354.8h.01M1246.3 310.4h.01M981.6 300.4h.01M957.2 327.9h.01M1107.1 341.0h.01M1292.6 234.9h.01M1217.8 325.6h.01M1300.2 178.1h.01M1042.3 359.0h.01M943.1 368.1h.01M901.0 371.9h.01M1404.1 428.0h.01M1167.7 346.1h.01M1108.9 356.7h.01M1304.8 123.4h.01M923.4 372.4h.01M1237.4 325.6h.01M1313.1 150.3h.01M1247.0 323.5h.01M920.1 359.4h.01M980.1 338.8h.01M963.3 330.1h.01M952.8 354.9h.01M1295.0 184.9h.01M1147.1 338.1h.01M1362.3 388.4h.01M1310.9 165.0h.01M1297.6 133.0h.01M1056.4 358.9h.01M1197.0 325.2h.01M1235.9 318.3h.01M1141.0 317.9h.01M1145.6 349.7h.01M1301.5 323.1h.01M1258.2 312.5h.01M1007.2 358.6h.01M978.1 371.0h.01M1079.2 335.5h.01M908.7 383.0h.01M1138.5 318.9h.01M1248.3 306.7h.01M1259.4 309.2h.01M1052.5 350.8h.01M1447.9 476.6h.01M1076.7 334.0h.01M1287.0 316.0h.01M928.9 367.6h.01M1279.9 258.4h.01M1304.8 220.5h.01M898.0 357.6h.01M1302.0 129.0h.01M1172.2 311.7h.01M1259.2 307.1h.01M1306.2 148.0h.01M1109.0 337.9h.01M992.8 373.7h.01M891.8 378.2h.01M1134.8 349.2h.01M1336.0 349.6h.01M976.9 322.4h.01M1219.4 334.9h.01M1422.6 445.9h.01M1275.5 304.1h.01M1009.3 340.0h.01M1311.2 186.5h.01M1061.5 339.8h.01M1295.3 133.3h.01M1292.2 258.3h.01M1300.9 320.8h.01M1253.5 325.3h.01M1126.7 352.2h.01M1397.2 401.6h.01M1082.0 331.8h.01M1254.7 333.8h.01M1104.2 333.9h.01M1033.2 371.4h.01M1155.6 313.7h.01M1305.5 203.8h.01M1142.1 321.9h.01M1029.6 360.9h.01M932.7 383.4h.01M1265.0 315.8h.01M1057.8 344.1h.01M1145.8 314.9h.01M1150.2 340.6h.01M1063.1 343.6h.01M962.5 329.8h.01M1021.0 375.8h.01M1089.8 333.3h.01M1344.2 354.1h.01M922.1 359.9h.01M1308.8 152.3h.01M1123.8 349.2h.01M1372.6 387.1h.01M1442.6 474.6h.01M1285.5 219.6h.01M1064.4 364.0h.01M1302.5 240.7h.01M975.4 329.4h.01M1212.7 309.3h.01M1168.7 348.1h.01M960.9 337.9h.01M978.9 353.4h.01M1389.1 401.6h.01M1163.9 324.8h.01M1064.2 346.2h.01M1084.6 356.3h.01M1038.3 357.5h.01M984.3 340.5h.01M1147.8 328.1h.01M1281.7 232.9h.01M1360.8 365.3h.01M1321.4 140.3h.01M1066.0 362.0h.01M1307.1 200.8h.01M1296.9 179.4h.01M1004.2 356.5h.01M1101.2 342.9h.01M1240.1 307.9h.01M1180.9 317.5h.01M1244.5 338.7h.01M980.4 322.8h.01M1057.6 367.1h.01M1311.7 340.2h.01M954.5 374.4h.01M1170.8 333.1h.01M1311.2 339.5h.01M972.2 339.5h.01M983.0 299.2h.01M1194.8 348.9h.01M1057.2 352.2h.01M930.3 357.5h.01M1420.1 441.7h.01M1154.5 314.3h.01M887.9 360.3h.01M959.2 353.1h.01M1430.7 460.8h.01M1111.9 336.9h.01M1181.2 303.4h.01M1278.9 246.9h.01M979.2 348.3h.01M1211.7 333.3h.01M878.6 366.7h.01M907.4 385.5h.01M1166.3 331.7h.01M1354.6 363.4h.01M941.4 373.7h.01M1314.5 131.4h.01M879.2 369.7h.01M920.9 379.3h.01M1098.4 334.1h.01M1284.7 277.0h.01M1295.0 318.6h.01M1063.0 369.3h.01M970.9 351.2h.01M1203.3 341.6h.01M1163.3 318.6h.01M1126.8 346.3h.01M1140.8 331.3h.01M1206.9 345.8h.01M1280.7 307.0h.01M1308.8 199.9h.01M1099.2 360.7h.01M1253.5 310.4h.01M991.4 342.1h.01M1188.5 310.8h.01M1299.3 172.3h.01M1148.4 318.2h.01M1024.1 369.4h.01M1214.0 306.9h.01M1186.1 330.9h.01M1122.3 335.7h.01M1171.4 304.1h.01M1178.4 311.4h.01M1308.2 190.8h.01M1426.0 433.9h.01M1165.4 340.3h.01M1096.0 338.0h.01M1180.1 314.7h.01M1081.8 340.4h.01M1343.9 375.0h.01M1435.3 451.9h.01M984.1 371.8h.01M1062.0 344.4h.01M1033.2 367.4h.01M1144.5 338.6h.01M882.2 373.4h.01M1293.4 325.8h.01M901.2 357.8h.01M1133.4 341.9h.01M1298.4 197.9h.01M1222.2 315.6h.01M1286.4 250.6h.01M1085.5 340.6h.01M915.8 357.2h.01M1124.7 328.4h.01M969.1 361.7h.01M1341.1 354.5h.01M1298.3 328.2h.01M1323.9 348.6h.01M981.9 336.4h.01M1300.5 133.8h.01M1255.3 304.9h.01M1316.4 134.6h.01M1300.7 170.6h.01M1068.4 342.0h.01M1297.6 320.3h.01M945.2 362.5h.01M1347.6 361.6h.01M1284.5 264.0h.01M1277.0 315.8h.01M1317.6 138.0h.01M1184.7 334.5h.01M978.5 342.8h.01M1299.5 332.8h.01M1144.2 353.8h.01M1054.2 357.3h.01M1287.4 321.3h.01M1053.1 345.1h.01M1309.0 140.5h.01M968.7 343.5h.01M1181.2 336.6h.01M1100.2 342.3h.01M1399.6 400.5h.01M930.4 383.6h.01M914.6 366.1h.01M1307.5 180.5h.01M1130.4 342.0h.01M1285.4 241.8h.01M906.0 386.6h.01M1051.2 351.5h.01M989.2 354.5h.01M898.3 373.9h.01M1365.1 374.6h.01M1257.6 330.1h.01M886.9 370.7h.01M1008.5 358.5h.01M1360.3 386.5h.01M1280.1 270.3h.01M1257.7 305.9h.01M981.5 327.0h.01M938.9 367.0h.01M1147.3 321.3h.01M1338.3 367.4h.01M949.4 351.3h.01M1204.3 300.3h.01M1155.3 340.7h.01M1252.1 322.2h.01M1069.0 338.7h.01M995.7 345.5h.01M984.1 363.5h.01M1179.7 314.4h.01M1320.2 346.0h.01M1048.1 363.7h.01M1296.8 151.8h.01M1281.9 316.1h.01M1271.7 321.4h.01M1302.9 178.7h.01M1283.4 258.5h.01M1143.3 327.9h.01M911.4 371.6h.01M1126.1 327.5h.01M1182.4 305.0h.01M1170.3 316.1h.01M1325.7 123.0h.01M930.3 374.3h.01M1418.8 423.0h.01M1431.6 442.1h.01M1015.6 343.8h.01M1271.9 293.7h.01M1034.6 341.3h.01M899.5 380.6h.01M1396.0 399.2h.01M1321.0 350.3h.01M1165.7 348.2h.01M999.4 355.3h.01M986.7 347.4h.01M1233.1 308.6h.01M1297.4 196.0h.01M1051.0 366.7h.01M1064.6 352.8h.01M1104.8 347.1h.01M1400.6 423.0h.01M1150.5 314.5h.01M1296.9 146.7h.01M959.1 347.6h.01M1120.0 341.1h.01M1338.9 369.6h.01M1009.6 348.5h.01M1286.0 227.2h.01M1302.2 334.3h.01M1363.6 380.0h.01M1112.7 322.8h.01M951.7 357.8h.01M971.2 361.7h.01M1163.7 341.5h.01M1427.7 438.2h.01M1231.2 303.8h.01M1185.3 310.0h.01M1006.7 368.0h.01M1298.1 147.9h.01M1180.5 350.7h.01M1323.1 343.2h.01M969.4 299.2h.01M1218.3 322.3h.01M1378.3 380.2h.01M978.4 349.5h.01M1078.8 339.8h.01M1122.2 346.7h.01M1239.6 316.6h.01M1305.5 205.2h.01M1140.5 330.6h.01M1363.8 391.3h.01M1128.5 338.7h.01M1063.7 339.2h.01M974.5 334.3h.01M906.2 379.4h.01M1038.0 338.8h.01M903.6 363.6h.01M1355.4 387.1h.01M963.8 365.3h.01M970.3 362.9h.01M1290.2 232.4h.01M1288.0 221.2h.01M988.7 368.4h.01M1386.3 399.2h.01M1355.5 388.3h.01M1032.8 370.8h.01M1068.6 354.4h.01M1295.8 150.9h.01M986.9 344.5h.01M978.9 312.5h.01M912.4 387.1h.01M1097.2 347.9h.01M1315.5 129.4h.01M1096.8 335.3h.01M1010.3 373.8h.01M1301.4 136.4h.01M938.7 379.4h.01M1170.9 331.1h.01M1144.6 343.9h.01M977.4 317.1h.01M1274.3 306.7h.01M956.5 308.1h.01M1360.9 370.5h.01M1375.3 398.1h.01M935.0 379.6h.01M904.9 365.9h.01M1208.7 319.5h.01M1181.4 319.5h.01M946.5 359.8h.01M1293.9 192.2h.01M1063.9 358.7h.01M1092.6 330.6h.01M965.7 338.3h.01M1119.5 326.7h.01M967.9 338.8h.01M1382.6 398.0h.01M1045.9 367.6h.01M1154.5 327.3h.01M1317.3 147.3h.01M977.6 318.1h.01M947.8 363.7h.01M1029.8 338.8h.01M1368.5 394.2h.01M951.0 332.9h.01M1289.9 221.2h.01M1418.7 435.2h.01M1200.2 313.8h.01M1046.1 341.0h.01M1288.7 257.0h.01M1351.1 377.3h.01M937.9 368.3h.01M1305.5 188.0h.01M1280.3 314.5h.01M951.3 368.3h.01M958.1 376.8h.01M1452.8 470.0h.01M1029.3 356.7h.01M885.4 367.1h.01M917.8 357.8h.01M1144.0 337.2h.01M973.1 372.4h.01M1292.5 258.9h.01M1227.6 304.3h.01M986.2 370.9h.01M926.8 385.1h.01M1453.2 468.8h.01M1222.5 299.8h.01M1071.2 351.3h.01M1237.0 325.1h.01M1214.9 328.8h.01M981.1 365.0h.01M1301.3 125.1h.01M1304.1 221.1h.01M1287.4 195.6h.01M1048.5 372.2h.01M1297.1 132.9h.01M1296.2 157.3h.01M1353.7 379.0h.01M1281.4 262.0h.01M1303.3 126.6h.01M974.8 330.0h.01M1313.5 339.9h.01M967.6 298.5h.01M1291.1 243.6h.01M1279.5 293.6h.01M1228.0 304.8h.01M1454.6 464.7h.01M1175.5 321.3h.01M1173.0 313.0h.01M1134.2 342.3h.01M1107.9 349.3h.01M991.1 367.7h.01M999.0 357.7h.01M1317.1 145.4h.01M891.1 371.2h.01M1203.1 339.7h.01M1000.7 367.5h.01M1306.2 213.0h.01M1066.5 366.8h.01M1412.8 424.1h.01M961.8 365.0h.01M1278.5 295.9h.01M982.0 347.6h.01M1201.6 313.9h.01M1288.3 268.8h.01M956.6 336.3h.01M1249.0 324.3h.01M1370.2 397.6h.01M1284.9 271.7h.01M1359.8 381.3h.01M1004.0 366.1h.01M1305.4 185.4h.01M931.7 358.3h.01M1386.5 402.7h.01M1374.0 398.6h.01M1329.5 348.9h.01M1310.5 329.4h.01M1361.0 388.5h.01M945.4 377.8h.01M978.7 304.8h.01M1287.6 232.7h.01M1326.1 362.3h.01M964.7 372.2h.01M1282.5 269.6h.01M1300.0 172.3h.01M1291.4 244.5h.01M915.3 366.4h.01M983.3 375.4h.01M1161.8 314.9h.01M965.7 347.4h.01M1413.9 433.2h.01M1139.4 314.8h.01M1178.7 319.7h.01M1279.1 300.3h.01M1277.5 277.2h.01M1045.1 368.2h.01M1063.3 355.6h.01M1298.4 144.6h.01M1278.6 297.2h.01M1304.4 180.7h.01M1282.8 245.3h.01M898.4 371.5h.01M1200.2 323.3h.01M1302.1 159.2h.01M1413.4 427.8h.01M1380.3 394.5h.01M1208.1 344.4h.01M1166.4 350.7h.01M1374.9 395.7h.01M1051.1 367.8h.01M1309.3 154.0h.01M1400.2 422.3h.01M1250.0 335.5h.01M882.0 363.1h.01M1224.5 337.4h.01M969.2 305.8h.01M1196.2 309.8h.01M1291.5 159.7h.01M1137.1 348.4h.01M1298.1 134.4h.01M1326.6 341.0h.01M1301.1 192.9h.01M1291.5 322.4h.01M1295.5 169.1h.01M1034.3 370.0h.01M1402.1 425.2h.01M899.6 379.8h.01M1301.4 179.6h.01M1136.3 331.5h.01M1203.0 309.5h.01M1218.3 308.7h.01M1174.8 322.5h.01M1107.7 343.4h.01M1296.0 191.1h.01M954.6 309.5h.01M1107.0 345.0h.01M925.5 386.2h.01M1156.1 344.0h.01M1226.5 319.0h.01M1400.6 408.0h.01M1227.0 318.7h.01M1409.8 412.8h.01M1275.3 291.5h.01M1145.7 352.2h.01M1219.1 300.7h.01M1302.7 139.2h.01M1291.9 201.6h.01M1071.6 366.4h.01M1348.5 379.3h.01M1052.1 343.0h.01M1314.6 334.0h.01M962.1 357.3h.01M986.1 340.6h.01M1299.6 194.1h.01M982.8 302.1h.01M1159.5 318.3h.01M1386.7 402.5h.01M1302.1 215.9h.01M897.9 380.4h.01M1013.7 354.3h.01M1091.7 343.4h.01M1299.6 200.6h.01M1016.9 364.6h.01M1317.7 342.9h.01M1222.6 324.0h.01M1176.5 320.8h.01M1117.2 358.0h.01M1295.1 325.9h.01M1351.6 377.9h.01M1144.9 345.8h.01M1150.2 348.2h.01M975.4 368.6h.01M1350.3 378.2h.01M928.5 386.5h.01M1058.5 339.0h.01M972.8 371.5h.01M1415.4 423.5h.01M916.1 372.5h.01M954.3 336.1h.01M1267.0 318.0h.01M1303.4 202.2h.01M1275.0 277.0h.01M1395.6 416.2h.01M942.5 378.7h.01M931.5 385.1h.01M1256.6 327.0h.01M1213.9 333.5h.01M1041.7 368.5h.01M1125.3 347.7h.01M1162.1 353.8h.01M1102.5 337.5h.01M1302.1 212.0h.01M1289.4 319.6h.01M1210.9 338.8h.01M1316.6 347.1h.01M1233.2 303.8h.01M1279.3 299.6h.01M1247.6 314.1h.01M938.0 381.9h.01M1159.8 314.0h.01M1368.4 399.1h.01M1317.3 126.0h.01M1279.2 255.8h.01M988.4 356.3h.01M1018.7 374.6h.01M1163.9 311.3h.01M1322.8 141.7h.01M1109.9 327.2h.01M1160.5 351.2h.01M1323.4 347.1h.01M1126.8 339.5h.01M1246.3 308.1h.01M1166.6 329.8h.01M1303.7 140.8h.01M1356.4 361.0h.01M1042.0 363.2h.01M1022.6 345.6h.01M1196.6 301.2h.01M1231.0 311.4h.01M1031.3 365.2h.01M1019.0 359.2h.01M1178.8 328.5h.01M1145.7 314.6h.01M943.8 380.3h.01M1307.4 176.7h.01M997.7 374.5h.01M1287.7 228.1h.01M1179.9 322.5h.01M1274.9 292.5h.01M1072.5 351.4h.01M1242.2 334.2h.01M1103.5 327.7h.01M1146.8 351.1h.01M1338.8 348.8h.01M972.9 339.2h.01M957.0 368.2h.01M1027.0 346.3h.01M1122.6 336.7h.01M1456.8 473.7h.01M1216.8 328.3h.01M934.1 367.6h.01M1018.3 370.5h.01M1179.7 307.7h.01M1024.4 367.7h.01M889.9 376.9h.01M1293.2 203.5h.01M1091.0 335.3h.01M1163.6 351.0h.01M1413.9 438.4h.01M979.7 351.4h.01M1376.3 393.1h.01M1321.5 123.7h.01M1036.0 359.1h.01M927.5 375.9h.01M1405.7 409.0h.01M980.3 317.2h.01M1367.6 374.4h.01M1326.1 337.1h.01M1343.7 373.1h.01M969.7 306.6h.01M1292.2 252.9h.01M1275.0 280.0h.01M1437.7 467.4h.01M1179.1 352.3h.01M1029.0 361.2h.01M1020.8 350.3h.01M1130.8 339.0h.01M948.3 351.6h.01M1297.8 129.0h.01M906.4 383.1h.01M1067.3 338.2h.01M976.9 365.3h.01M1010.8 350.5h.01M877.6 367.3h.01M1286.5 217.1h.01M1186.5 327.9h.01M980.7 319.8h.01M898.5 383.4h.01M961.8 313.3h.01M1194.9 340.0h.01M921.0 356.3h.01M1286.4 226.6h.01M1367.9 366.0h.01M1311.1 151.5h.01M1314.9 157.6h.01M1300.8 141.5h.01M1277.3 317.6h.01M898.2 377.2h.01M973.0 376.5h.01M1059.7 356.6h.01M1154.5 312.1h.01M932.7 358.2h.01M1232.9 313.9h.01M983.9 372.6h.01M1202.2 299.9h.01M1278.0 286.0h.01M981.2 306.3h.01M1045.9 366.2h.01M1277.6 311.7h.01M1300.9 192.0h.01M1289.1 208.9h.01M1300.1 232.4h.01M1097.9 352.7h.01M1178.4 307.5h.01M969.8 304.5h.01M1280.7 252.2h.01M904.3 370.4h.01M935.9 377.6h.01M1014.1 344.3h.01M986.1 368.5h.01M1280.0 296.9h.01M1131.9 352.1h.01M1049.2 346.9h.01M1440.7 463.0h.01M1250.4 325.3h.01M1069.5 336.1h.01M1291.1 203.9h.01M1306.4 332.3h.01M1062.5 361.8h.01M1005.8 339.0h.01M937.7 369.7h.01M1446.3 456.1h.01M1058.6 345.6h.01M1468.9 474.0h.01M1278.3 307.7h.01M929.7 377.2h.01M1388.7 393.8h.01M1185.5 316.6h.01M1405.2 417.1h.01M1315.4 146.0h.01M1215.6 332.6h.01M1232.7 333.3h.01M1427.3 453.1h.01M1304.6 153.1h.01M1154.3 329.7h.01M1087.2 344.0h.01M1427.7 431.9h.01M1317.8 156.0h.01M1431.4 446.6h.01M1179.4 330.6h.01M1211.1 326.2h.01M1053.4 338.5h.01M1266.6 325.2h.01M1104.1 354.0h.01M952.8 359.6h.01M976.2 355.3h.01M1300.3 132.2h.01M1156.6 318.6h.01M1065.5 354.0h.01M1431.1 441.6h.01M1171.8 315.1h.01M1254.7 311.6h.01M1261.0 305.4h.01M1295.8 178.4h.01M1315.9 331.1h.01M1295.8 147.9h.01M978.8 362.3h.01M1278.2 257.2h.01M1280.6 302.8h.01M1308.9 153.5h.01M973.5 330.9h.01M1104.7 361.6h.01M1385.5 406.2h.01M918.0 357.0h.01M1290.0 324.9h.01M1276.9 285.5h.01M1279.6 315.5h.01M1045.5 356.0h.01M1308.6 165.2h.01M1352.4 378.6h.01M960.4 306.0h.01M892.6 369.3h.01M1309.7 331.9h.01M1081.3 331.3h.01M1309.1 204.6h.01M1300.4 159.3h.01M1199.7 325.6h.01M1300.1 325.4h.01M1150.9 329.0h.01M959.3 351.8h.01M1223.6 341.2h.01M1303.9 331.5h.01M976.2 371.2h.01M1206.1 338.7h.01M942.6 380.6h.01M905.7 356.7h.01M1299.6 214.3h.01M906.4 382.2h.01M930.6 382.2h.01M1326.0 130.8h.01M1424.5 451.6h.01M928.9 381.9h.01M936.2 381.2h.01M995.6 339.7h.01M1156.9 311.2h.01M1203.5 330.1h.01M1126.9 355.5h.01M1305.2 123.4h.01M1009.8 360.5h.01M1368.1 400.6h.01M1391.3 396.1h.01M1379.8 388.3h.01M1293.4 235.5h.01M1306.6 334.4h.01M1295.4 137.8h.01M914.9 367.2h.01M1283.7 224.4h.01M884.0 362.6h.01M1279.0 284.9h.01M1041.9 354.9h.01M997.4 365.4h.01M1031.2 345.1h.01M1383.3 404.1h.01M978.5 323.2h.01M1170.0 310.6h.01M1099.1 351.1h.01M1098.4 354.9h.01M967.3 359.2h.01M1018.4 374.8h.01M928.7 376.7h.01M1248.2 304.4h.01M976.6 354.0h.01M1151.2 351.6h.01M1292.2 239.4h.01M988.7 355.1h.01M941.6 379.8h.01M1107.9 338.3h.01M1291.9 257.8h.01M1182.2 332.9h.01M1311.1 159.5h.01M1304.3 212.0h.01M1106.1 327.4h.01M1021.2 339.7h.01M1340.6 366.1h.01M1102.8 354.2h.01M1070.7 364.7h.01M998.7 375.5h.01M1101.9 344.1h.01M1193.7 348.3h.01M1144.7 353.1h.01M1197.6 333.4h.01M1307.1 200.8h.01M1204.4 324.9h.01M1091.1 363.9h.01M901.4 378.7h.01M1313.6 341.1h.01M1442.5 460.5h.01M1460.7 477.7h.01M1310.7 186.5h.01M1111.0 324.6h.01M1193.5 340.6h.01M983.9 353.6h.01M1217.6 310.6h.01M1273.0 306.1h.01M1109.4 356.6h.01M1202.9 317.2h.01M1323.4 142.3h.01M946.9 351.9h.01M1435.9 456.1h.01M1221.8 340.7h.01M978.4 301.0h.01M1033.2 349.0h.01M1239.7 317.4h.01M1306.2 126.8h.01M1014.8 338.0h.01M1074.0 355.8h.01M1033.1 340.7h.01M978.2 342.8h.01M1062.4 339.9h.01M1460.6 481.7h.01M1289.9 246.8h.01M1295.6 327.9h.01M1332.2 349.8h.01M1255.2 316.8h.01M1039.1 352.4h.01M1248.7 326.7h.01M1190.3 305.1h.01M1425.5 435.1h.01M1189.2 315.9h.01M1244.5 329.5h.01M1172.7 308.3h.01M1106.2 343.6h.01M959.1 376.5h.01M954.2 359.4h.01M1093.4 329.9h.01M1139.3 333.4h.01M921.6 360.2h.01M1386.4 395.7h.01M980.9 315.9h.01M1050.4 349.3h.01M1404.5 406.9h.01M1051.7 353.9h.01M986.1 369.5h.01M963.3 347.3h.01M1055.6 341.6h.01M1143.5 344.6h.01M1234.5 321.2h.01M1147.8 329.3h.01M1232.7 310.0h.01M1223.8 338.5h.01M1048.0 349.0h.01M1187.2 340.7h.01M981.8 316.9h.01M1041.6 340.0h.01M1306.8 146.3h.01M1091.1 332.2h.01M1202.1 301.7h.01M880.4 363.5h.01M1075.8 353.1h.01M995.1 361.6h.01M1356.9 380.1h.01M1384.8 404.3h.01M1455.8 469.4h.01M1204.5 302.8h.01M1246.1 304.0h.01M1044.0 355.7h.01M1212.2 321.6h.01M1030.2 352.4h.01M1212.7 329.7h.01M1281.8 300.6h.01M1304.6 140.0h.01M1342.8 370.0h.01M1250.3 322.3h.01M1177.1 343.3h.01M1005.8 355.1h.01M1299.3 201.3h.01M1295.5 152.6h.01M1359.0 377.2h.01M1424.1 437.3h.01M1217.6 338.1h.01M979.1 359.3h.01M1419.3 424.8h.01M1277.8 295.5h.01M1286.0 267.0h.01M1211.6 323.9h.01M1303.0 221.6h.01M1301.8 197.9h.01M1123.1 347.5h.01M1298.9 221.0h.01M1094.0 360.3h.01M1126.2 325.8h.01M1434.8 455.4h.01M1256.4 319.9h.01M1277.6 271.8h.01M960.3 329.6h.01M1199.0 310.7h.01M1345.6 361.9h.01M1404.4 408.6h.01M1302.7 203.3h.01M1304.5 209.9h.01M1180.6 334.5h.01M885.0 367.0h.01M1191.7 335.8h.01M1307.6 184.0h.01M1353.5 380.7h.01M1421.8 426.0h.01M1154.6 338.2h.01M921.0 356.6h.01M1195.3 308.8h.01M1437.8 461.6h.01M912.4 371.6h.01M1439.4 467.7h.01M1409.3 419.5h.01M985.6 357.8h.01M1308.6 187.4h.01M1255.1 307.6h.01M971.5 300.8h.01M1275.0 309.0h.01M1246.6 313.7h.01M1346.7 356.1h.01M1140.9 342.4h.01M1099.6 360.0h.01M1378.8 389.7h.01M956.4 368.5h.01M1395.3 393.5h.01M934.8 356.5h.01M882.8 365.9h.01M1008.4 373.2h.01M1300.8 159.7h.01M974.7 366.3h.01M1289.0 316.7h.01M1403.8 414.3h.01M1460.0 475.2h.01M1102.7 344.7h.01M1200.7 317.8h.01M1342.0 359.6h.01M1296.3 244.5h.01M927.5 377.4h.01M1382.2 394.2h.01M1289.6 267.5h.01M1311.0 178.7h.01M982.1 341.4h.01M982.2 342.1h.01M890.3 361.4h.01M1006.9 363.5h.01M955.7 373.7h.01M970.9 350.4h.01M1385.8 397.4h.01M1194.4 348.0h.01M1133.4 331.7h.01M1008.2 367.7h.01M1063.6 367.4h.01M1242.4 302.9h.01M1372.0 381.4h.01M1037.7 368.9h.01M944.2 377.1h.01M1273.9 309.0h.01M1208.8 329.4h.01M1166.9 341.4h.01M1022.5 363.8h.01M979.3 319.2h.01M1086.1 353.6h.01M1197.7 315.5h.01M1208.5 336.0h.01M972.3 303.3h.01M1008.9 366.4h.01M1295.7 232.8h.01M1313.1 123.6h.01M952.4 350.6h.01M1110.9 325.2h.01M1057.2 337.0h.01M1082.5 338.7h.01M972.2 329.5h.01M1377.3 406.5h.01M1142.7 340.9h.01M1040.9 369.9h.01M1132.9 355.5h.01M938.8 357.2h.01M983.5 310.0h.01M981.3 315.2h.01M1338.0 366.6h.01M1239.7 306.5h.01M980.0 300.6h.01M1351.5 380.2h.01M1178.2 305.3h.01M1110.8 326.0h.01M1025.8 371.4h.01M988.6 345.1h.01M1026.9 353.8h.01M1079.3 358.9h.01M960.5 372.0h.01M1107.4 348.4h.01M894.0 367.0h.01M1215.0 303.7h.01M1187.6 322.0h.01M957.8 369.3h.01M1304.0 221.8h.01M954.4 311.3h.01M1273.2 299.3h.01M1379.3 393.2h.01M957.0 308.1h.01M996.2 341.6h.01M1158.9 316.3h.01M1119.0 343.2h.01M1081.7 348.3h.01M1213.9 312.1h.01M1449.7 455.2h.01M1201.7 332.8h.01M1245.1 306.8h.01M1293.7 159.1h.01M1143.5 355.0h.01M1022.5 374.1h.01M939.0 373.5h.01M989.6 375.2h.01M915.1 358.5h.01M1314.3 337.5h.01M967.7 326.8h.01M1464.0 476.5h.01M1295.8 136.8h.01M1183.1 343.3h.01M993.3 343.9h.01M1439.3 467.8h.01M989.2 341.1h.01M1275.2 309.5h.01M1186.9 341.8h.01M1069.3 357.7h.01M1043.5 362.8h.01M1404.4 410.8h.01M1128.1 319.6h.01M1039.3 367.0h.01M1149.7 337.0h.01M967.1 309.5h.01M971.7 371.3h.01M1001.0 368.4h.01M1333.8 363.6h.01M1137.7 342.0h.01M1085.6 352.2h.01M1370.4 389.4h.01M920.8 386.1h.01M1137.8 344.1h.01M937.5 380.2h.01M1147.3 353.9h.01M1251.1 307.7h.01M1178.4 345.2h.01M927.7 362.2h.01M1401.7 412.2h.01M1098.0 361.5h.01M1311.2 341.5h.01M986.5 343.9h.01M1248.6 322.5h.01M1015.2 353.3h.01M1293.8 190.1h.01M1466.5 489.4h.01M1346.2 372.3h.01M1312.9 140.2h.01M1304.0 139.2h.01M1183.1 332.3h.01M1110.1 324.6h.01M1004.5 369.6h.01M1329.6 359.7h.01M916.2 359.7h.01M1201.6 306.5h.01M1103.1 338.4h.01M1314.7 133.0h.01M1179.3 348.8h.01M1284.6 312.6h.01M1282.2 289.0h.01M1109.9 329.9h.01M1308.6 339.6h.01M972.0 373.5h.01M1333.7 348.9h.01M1124.8 329.9h.01M1013.5 354.1h.01M1299.9 236.9h.01M1139.7 325.9h.01M1289.4 321.6h.01M1222.3 338.5h.01M1115.7 341.2h.01M1305.7 198.2h.01M1374.0 373.0h.01M1298.0 140.2h.01M1425.7 445.4h.01M1443.2 472.2h.01M1259.2 329.7h.01M1289.8 264.8h.01M1174.6 350.2h.01M903.0 372.6h.01M926.7 365.1h.01M1310.4 147.5h.01M1225.7 297.4h.01M902.7 375.8h.01M1151.4 315.4h.01M1332.9 352.3h.01M1036.2 346.8h.01M1186.2 322.4h.01M1168.2 338.3h.01M1129.2 353.0h.01M1140.0 314.6h.01M1180.6 347.7h.01M1061.1 368.4h.01M1318.6 338.6h.01M1279.6 267.0h.01M1007.9 345.1h.01M1407.0 422.0h.01M929.8 361.5h.01M998.4 367.0h.01M1325.4 358.7h.01M1276.0 320.0h.01M1230.4 320.3h.01M1336.0 354.6h.01M1198.0 315.6h.01M945.6 375.2h.01M898.4 378.5h.01M902.9 358.3h.01M1027.0 339.2h.01M1213.5 329.2h.01M989.7 346.1h.01M919.9 363.9h.01M1389.3 403.1h.01M1277.8 316.5h.01M1191.1 339.5h.01M1144.5 352.4h.01M1057.8 337.7h.01M1451.3 470.9h.01M1191.4 303.7h.01M1308.7 156.2h.01M1173.2 326.1h.01M1276.3 306.6h.01M1359.5 383.2h.01M1289.3 237.3h.01M892.4 357.1h.01M1312.5 166.2h.01M1401.4 424.8h.01M995.9 366.4h.01M1031.4 345.7h.01M1133.8 348.8h.01M1290.7 207.0h.01M1465.1 485.2h.01M1295.0 246.2h.01M895.7 364.9h.01M1238.6 308.6h.01M1066.3 343.9h.01M983.2 325.7h.01M1425.1 434.2h.01M1216.9 308.8h.01M1145.9 310.2h.01M1385.6 390.4h.01M1191.7 316.0h.01M989.3 360.3h.01M1179.6 327.3h.01M1317.0 332.0h.01M1374.5 403.5h.01M917.6 382.9h.01M1292.6 167.8h.01M1328.3 358.6h.01M1282.4 222.5h.01M1109.7 333.9h.01M1127.1 320.1h.01M1372.4 399.5h.01M980.2 311.7h.01M1222.6 298.4h.01M1248.4 315.8h.01M1089.2 332.3h.01M1407.3 429.8h.01M1359.5 379.7h.01M1327.6 339.3h.01M1095.4 333.5h.01M1204.9 339.0h.01M1242.5 326.3h.01M993.9 358.9h.01M1285.0 279.2h.01M1319.6 153.5h.01M1108.7 347.5h.01M980.7 323.4h.01M1227.9 332.8h.01M1172.1 306.8h.01M971.1 312.4h.01M1130.6 354.3h.01M1289.6 189.9h.01M1356.6 377.2h.01M992.5 343.0h.01M1313.8 146.6h.01M936.0 371.6h.01M1097.2 327.7h.01M923.3 375.8h.01M1205.3 334.1h.01M1258.7 325.4h.01M983.0 328.1h.01M1287.1 229.5h.01M886.3 374.3h.01M995.2 365.3h.01M1302.8 223.2h.01M1326.8 350.9h.01M1008.5 361.9h.01M1135.2 315.0h.01M959.1 338.4h.01M1305.3 152.3h.01M1279.4 263.5h.01M1126.0 326.7h.01M1222.7 329.3h.01M1273.2 303.2h.01M1106.7 349.7h.01M1141.5 331.5h.01M963.1 367.8h.01M891.5 376.8h.01M1071.7 363.9h.01M995.6 338.4h.01M1232.6 314.2h.01M978.7 373.1h.01M1138.4 346.1h.01M1338.4 349.7h.01M1020.3 354.3h.01M1306.5 168.7h.01M1157.6 312.7h.01M1175.7 336.4h.01M1456.9 471.4h.01M1407.5 422.7h.01M1024.1 354.9h.01M962.0 352.6h.01M1367.6 369.5h.01M1021.0 365.6h.01M908.5 365.0h.01M1066.2 339.6h.01M1004.3 362.3h.01M1300.3 148.8h.01M1298.4 130.3h.01M967.1 374.2h.01M1114.5 342.2h.01M1001.4 358.9h.01M1316.9 126.5h.01M1305.4 193.7h.01M955.8 324.2h.01M983.4 300.8h.01M967.1 325.9h.01M1268.2 325.0h.01M1299.6 229.7h.01M1299.4 319.9h.01M1290.3 239.1h.01M948.0 355.5h.01M980.0 320.8h.01M1300.6 130.3h.01M1019.7 350.9h.01M982.6 340.7h.01M1258.9 315.7h.01M1185.2 310.8h.01M1263.8 316.2h.01M902.9 378.0h.01M1098.4 348.6h.01M1300.3 213.9h.01M975.1 344.7h.01M1290.2 171.3h.01M1065.0 348.0h.01M1297.1 190.8h.01M1384.2 407.3h.01M914.6 358.1h.01M1292.8 144.9h.01M1290.7 183.4h.01M1307.8 335.7h.01M1313.3 176.9h.01M1103.1 326.8h.01M1224.6 317.8h.01M1041.1 354.0h.01M1190.2 305.4h.01M1300.8 211.1h.01M970.8 338.4h.01M1468.4 482.9h.01M1395.6 416.9h.01M1155.7 326.3h.01M1002.0 337.5h.01M1275.7 318.0h.01M973.7 372.3h.01M1074.4 340.6h.01M1279.6 272.8h.01M1288.7 179.8h.01M1260.8 327.5h.01M1155.9 324.9h.01M918.0 388.2h.01M909.4 386.9h.01M1353.2 371.4h.01M1298.2 142.2h.01M1113.9 357.2h.01M985.7 351.4h.01M1377.2 402.9h.01M1155.0 343.5h.01M1071.3 339.7h.01M932.2 381.0h.01M1150.0 315.1h.01M969.4 367.0h.01M1164.5 313.5h.01M1008.1 344.9h.01M883.5 368.1h.01M1134.7 315.2h.01M1041.2 346.1h.01M1265.0 309.6h.01M1291.0 321.6h.01M1204.8 343.7h.01M1240.1 331.0h.01M1261.1 315.8h.01M976.8 328.4h.01M939.6 371.1h.01M1103.9 353.3h.01M1349.5 373.8h.01M1309.3 122.2h.01M1211.8 338.3h.01M1213.8 302.0h.01M969.2 308.8h.01M1212.4 331.7h.01M1370.4 382.1h.01M1130.1 315.6h.01M1116.9 355.0h.01M1441.5 462.5h.01M1006.9 354.0h.01M1292.4 171.1h.01M963.3 327.9h.01M1289.8 323.9h.01M1160.7 342.8h.01M994.4 351.9h.01M1290.4 252.2h.01M1293.8 156.8h.01M1433.7 448.0h.01M1233.9 302.6h.01M1297.1 227.1h.01M916.6 359.1h.01M1295.3 157.8h.01M1320.6 350.1h.01M1419.7 440.9h.01M1352.5 363.6h.01M982.8 372.9h.01M1445.8 473.3h.01M1195.4 331.4h.01M1347.8 373.6h.01M1297.3 151.9h.01M1428.3 452.8h.01M1214.0 335.9h.01M1140.2 351.1h.01M1154.0 324.9h.01M923.2 381.4h.01M942.0 357.5h.01M1440.7 452.2h.01M1291.3 265.1h.01M1308.1 340.5h.01M893.2 366.2h.01M1323.0 356.4h.01M1185.2 301.9h.01M1276.8 270.5h.01M1015.1 374.7h.01M1287.1 267.6h.01M965.6 357.1h.01M1090.0 353.2h.01M1160.6 329.5h.01M992.8 347.6h.01M1345.7 352.0h.01M955.7 307.8h.01M1298.9 147.1h.01M1124.4 324.0h.01M1373.3 392.0h.01M1366.4 369.7h.01M1088.9 360.5h.01M1364.0 374.5h.01M1278.8 311.9h.01M1124.1 330.8h.01M905.0 356.4h.01M1187.7 317.4h.01M1404.1 408.4h.01M1157.0 323.6h.01M1361.2 372.6h.01M1033.1 351.6h.01M1292.0 197.3h.01M993.8 350.5h.01M951.4 376.3h.01M990.9 371.4h.01M1196.9 319.4h.01M1284.0 241.5h.01M1188.9 310.4h.01M1220.0 327.9h.01M942.3 357.2h.01M973.8 355.0h.01M1159.0 343.0h.01M1360.6 371.2h.01M1316.9 130.7h.01M1217.8 297.8h.01M1290.4 243.0h.01M1028.7 340.2h.01M982.0 367.7h.01M1301.7 231.8h.01M946.6 373.1h.01M1310.1 327.1h.01M1279.4 316.1h.01M981.3 328.0h.01M960.0 321.3h.01M911.9 360.5h.01M1278.3 267.6h.01M1404.6 417.3h.01M898.5 374.7h.01M1396.4 410.2h.01M1194.4 338.7h.01M1006.4 372.2h.01M1316.4 337.3h.01M1306.0 195.4h.01M1200.1 329.9h.01M1061.2 361.2h.01M976.3 352.9h.01M1360.9 373.0h.01M1194.2 316.3h.01M1134.6 330.6h.01M980.6 362.8h.01M1282.2 252.3h.01M955.3 324.9h.01M905.8 366.0h.01M1197.2 314.8h.01M1454.6 470.8h.01M1033.0 370.3h.01M944.8 369.3h.01M1201.5 314.1h.01M1315.3 146.3h.01M1232.3 322.7h.01M953.6 330.6h.01M1303.3 169.8h.01M1225.9 312.5h.01M1287.6 270.7h.01M1235.5 334.3h.01M982.9 367.5h.01M1042.4 341.9h.01M1031.6 372.1h.01M1013.9 358.0h.01M938.7 374.5h.01M1159.0 348.3h.01M1296.8 230.6h.01M945.3 367.5h.01M1188.2 321.5h.01M1281.7 297.5h.01M980.9 321.3h.01M1125.7 326.1h.01M1136.0 331.1h.01M938.8 366.3h.01M1073.3 363.9h.01M1001.8 337.2h.01M1004.3 339.7h.01M1283.8 283.6h.01M1303.7 124.1h.01M1152.6 334.2h.01M1417.0 421.3h.01M1189.3 315.1h.01M1175.5 307.4h.01M915.6 375.4h.01M1142.5 346.3h.01M1025.4 369.0h.01M1406.7 417.9h.01M984.1 327.9h.01M1276.2 305.3h.01M1398.0 418.4h.01M1318.5 342.1h.01M955.1 361.8h.01M1034.9 366.5h.01M1276.6 302.7h.01M1151.2 344.5h.01M1362.5 394.3h.01M1076.4 334.8h.01M905.9 356.8h.01M1187.9 343.3h.01M972.1 375.7h.01M1042.3 353.9h.01M1393.7 410.5h.01M970.7 300.3h.01M1304.9 156.3h.01M1307.6 162.0h.01M997.6 371.7h.01M1237.1 313.4h.01M1066.6 351.4h.01M1305.7 332.5h.01M1225.6 337.6h.01M1365.6 382.6h.01M1146.0 326.2h.01M939.1 361.6h.01M1333.9 366.6h.01M1096.6 355.4h.01M978.1 300.1h.01M1292.3 170.8h.01M1121.4 331.9h.01M1022.6 363.0h.01M1318.3 130.5h.01M1045.5 370.0h.01M984.2 374.5h.01M1331.2 349.8h.01M1158.8 328.6h.01M1374.9 388.7h.01M1009.0 344.0h.01M910.2 383.9h.01M1432.2 452.3h.01M948.6 364.0h.01M1040.1 350.1h.01M1291.5 254.6h.01M1022.6 350.6h.01M931.6 361.3h.01M1275.1 274.2h.01M1122.8 351.8h.01M1302.3 129.7h.01M1279.4 282.4h.01M891.7 375.6h.01M1016.8 367.1h.01M1290.9 162.2h.01M1005.9 352.0h.01M1099.9 354.7h.01M988.7 359.8h.01M931.1 358.9h.01M1176.5 307.1h.01M978.4 374.0h.01M1297.0 161.7h.01M966.3 308.5h.01M1064.6 347.7h.01M984.4 325.7h.01M1207.3 305.0h.01M1227.8 334.5h.01M1060.9 339.2h.01M1043.4 346.3h.01M1297.6 125.4h.01M908.1 371.8h.01M1113.5 359.1h.01M1274.1 317.6h.01M1298.9 165.0h.01M1074.7 366.4h.01M912.0 360.8h.01M1338.4 367.4h.01M1293.5 169.7h.01M946.5 365.5h.01M1335.6 348.0h.01M1301.8 199.6h.01M1134.1 333.1h.01M1303.2 334.1h.01M971.6 322.3h.01M1317.3 146.9h.01M1329.4 358.2h.01M1251.8 314.4h.01M1294.6 229.1h.01M1151.8 345.2h.01M1051.3 339.8h.01M1064.1 347.8h.01M1286.8 272.3h.01M1340.8 370.6h.01M1459.4 480.6h.01M1376.7 389.5h.01M954.6 375.1h.01M1289.2 205.0h.01M905.0 365.1h.01M1031.7 368.9h.01M942.5 360.2h.01M1408.3 426.9h.01M1263.9 322.0h.01M908.9 386.0h.01M990.6 340.7h.01M976.9 343.3h.01M1014.9 344.9h.01M979.0 363.9h.01M1022.4 361.3h.01M1298.8 160.1h.01M1294.9 258.6h.01M980.8 354.6h.01M1406.0 405.9h.01M1225.8 331.3h.01M1221.4 331.4h.01M1311.6 129.0h.01M1291.7 216.8h.01M1431.2 451.3h.01M1093.4 357.1h.01M885.0 375.8h.01M1174.2 349.2h.01M1430.1 434.3h.01M1141.6 322.0h.01M1462.8 489.1h.01M1316.3 151.5h.01M962.6 311.8h.01M1280.8 250.7h.01M910.2 371.0h.01M1187.0 338.7h.01M962.3 305.9h.01M920.2 365.2h.01M919.0 389.1h.01M1032.1 346.7h.01M960.7 329.7h.01M1288.2 194.0h.01M1427.5 438.6h.01M1017.4 358.4h.01M879.9 361.6h.01M1410.1 410.4h.01M1014.2 355.8h.01M1198.0 303.2h.01M1074.6 363.8h.01M1156.0 322.7h.01M1167.7 327.0h.01M1294.9 226.1h.01M1286.9 226.6h.01M1113.1 333.0h.01M1296.1 239.0h.01M1290.7 211.7h.01M1320.9 146.4h.01M1129.8 320.3h.01M1335.6 362.9h.01M1461.1 481.8h.01M1306.2 129.9h.01M906.9 367.9h.01M1291.9 190.5h.01M1287.3 197.9h.01M1359.6 380.4h.01M966.6 354.5h.01M1229.1 320.0h.01M975.1 315.7h.01M1177.2 320.4h.01M1179.5 348.6h.01M1388.7 395.5h.01M1311.8 339.0h.01M971.3 345.5h.01M1388.0 398.2h.01M1284.1 320.5h.01M1303.0 190.9h.01M968.1 374.5h.01M1052.6 337.0h.01M1017.7 339.6h.01M893.0 372.6h.01M1105.2 327.9h.01M1084.5 360.0h.01M1361.5 386.0h.01M997.7 373.2h.01M1348.9 377.3h.01M1296.3 140.2h.01M1104.9 347.1h.01M1302.2 332.8h.01M1138.2 334.0h.01M1203.6 316.2h.01M979.6 369.9h.01M1196.0 336.3h.01M963.9 344.3h.01M1286.9 233.9h.01M1217.6 315.1h.01M1162.5 323.4h.01M1140.7 346.1h.01M1209.4 319.3h.01M1265.3 306.9h.01M1437.7 455.5h.01M1060.8 355.8h.01M994.7 356.7h.01M1300.1 136.3h.01M943.4 357.3h.01M1230.6 301.8h.01M1075.4 338.5h.01M1413.3 425.6h.01M1424.5 444.1h.01M971.8 306.4h.01M1142.0 326.1h.01M1422.2 429.5h.01M1288.8 266.8h.01M1277.5 269.1h.01M1301.2 134.3h.01M1184.1 349.2h.01M1179.2 318.0h.01M999.5 343.9h.01M1119.5 350.4h.01M979.0 334.1h.01M1413.1 432.6h.01M1288.1 167.9h.01M1081.7 342.9h.01M1124.2 345.2h.01M941.9 377.8h.01M1363.9 394.6h.01M1068.5 349.3h.01M1374.3 405.2h.01M1359.8 381.7h.01M1325.7 359.8h.01M1314.3 132.0h.01M1188.2 324.3h.01M947.4 372.9h.01M923.6 363.9h.01M925.9 384.3h.01M1142.7 349.0h.01M1324.2 338.7h.01M976.4 311.7h.01M1310.7 179.4h.01M1085.0 360.1h.01M1297.4 180.3h.01M1288.8 202.5h.01M1154.8 307.5h.01M1282.8 238.1h.01M944.0 359.5h.01M944.3 356.4h.01M985.7 354.7h.01M1209.2 343.3h.01M1217.8 310.1h.01M1076.6 348.2h.01M944.9 359.8h.01M968.7 323.4h.01M1028.2 346.1h.01M1198.5 335.7h.01M980.7 329.4h.01M1294.4 233.8h.01M914.9 366.9h.01M1320.8 149.7h.01M1427.2 454.6h.01M1409.2 420.1h.01M1344.5 369.5h.01M1176.2 320.9h.01M1026.7 372.0h.01M1178.7 313.8h.01M1310.1 136.7h.01M1358.3 367.4h.01M908.2 365.9h.01M988.3 373.3h.01M926.7 372.3h.01M1057.0 343.3h.01M1308.6 333.1h.01M1013.6 360.4h.01M1245.5 306.1h.01M991.3 341.8h.01M1179.6 317.7h.01M1355.6 371.6h.01M1243.3 313.0h.01M1294.2 167.3h.01M1309.5 128.4h.01M1312.1 163.4h.01M1013.6 352.3h.01M1144.7 314.8h.01M939.1 372.8h.01M1006.9 374.2h.01M1092.4 362.7h.01M971.6 323.1h.01M965.8 338.3h.01M1298.7 231.3h.01M1118.4 357.1h.01M1202.5 346.3h.01M1046.9 345.8h.01M1081.6 334.1h.01M980.8 362.1h.01M960.7 340.8h.01M1133.3 352.5h.01M1266.4 310.2h.01M937.2 362.3h.01M1199.3 336.3h.01M1331.7 352.2h.01M1069.6 350.4h.01M1254.1 314.0h.01M1025.8 342.9h.01M925.0 379.7h.01M1109.6 326.5h.01M1292.2 171.1h.01M1048.5 350.1h.01M1042.9 348.3h.01M989.3 348.0h.01M944.6 359.6h.01M1307.6 164.8h.01M1039.8 340.3h.01M1091.7 333.9h.01M1165.6 352.7h.01M886.5 362.3h.01M1302.2 146.2h.01M1189.0 343.8h.01M1030.9 346.6h.01M1302.6 225.6h.01M1158.1 318.9h.01M889.4 368.4h.01M967.7 369.4h.01M1423.9 450.3h.01M1293.9 185.5h.01M899.3 361.9h.01M1209.3 317.1h.01M1302.4 193.1h.01M1007.8 341.9h.01M1344.5 373.9h.01M1091.3 355.8h.01M1211.7 327.6h.01M997.2 353.0h.01M1301.4 331.7h.01M986.9 340.1h.01M1353.3 375.6h.01M1317.0 339.3h.01M1295.8 246.5h.01M969.1 351.3h.01M1154.7 342.3h.01M1291.9 201.7h.01M1289.7 210.5h.01M963.6 320.9h.01M1409.3 431.0h.01M1105.4 341.1h.01M1131.9 321.9h.01M1379.1 393.6h.01M1292.0 198.3h.01M1046.0 360.7h.01M999.7 355.1h.01M1300.7 236.5h.01M1125.9 328.2h.01M960.6 355.5h.01M1167.7 316.3h.01M1279.4 317.8h.01M1203.6 332.8h.01M968.2 367.5h.01M989.5 347.3h.01M1105.9 341.6h.01M1408.2 415.8h.01M951.0 361.3h.01M1378.6 381.3h.01M1292.0 185.9h.01M1197.6 322.1h.01M1350.0 374.4h.01M1110.5 327.7h.01M1288.5 214.4h.01M947.2 367.9h.01M917.2 362.7h.01M989.0 368.3h.01M1094.2 356.1h.01M1296.9 146.7h.01M1305.2 188.7h.01M1007.8 371.2h.01M1151.9 337.4h.01M1302.2 226.3h.01M1140.4 355.9h.01M1027.6 365.2h.01M1299.6 141.3h.01M928.1 358.4h.01M982.3 340.1h.01M972.1 340.6h.01M916.1 380.7h.01M1301.9 152.8h.01M1414.3 435.0h.01M1300.4 137.1h.01M965.1 372.6h.01M1294.1 169.1h.01M1034.0 364.3h.01M1375.9 384.6h.01M1101.1 340.8h.01M1158.0 345.3h.01M1294.2 182.2h.01M1251.9 322.0h.01M1226.3 317.9h.01M1349.3 377.5h.01M1351.8 375.6h.01M1298.5 321.3h.01M1212.8 295.9h.01M942.0 357.9h.01M1401.6 424.2h.01M1053.2 356.6h.01M1193.3 349.1h.01M949.3 359.6h.01M1381.0 388.8h.01M1282.3 287.0h.01M1230.3 328.5h.01M1292.7 229.0h.01M1053.1 366.3h.01M1152.8 322.6h.01M955.4 359.5h.01M1360.1 378.8h.01M1201.2 323.5h.01M935.7 368.2h.01M937.8 358.7h.01M1423.4 433.7h.01M1075.2 335.9h.01M1042.2 339.6h.01M1052.5 359.1h.01M1160.6 331.9h.01M1303.5 191.1h.01M1383.8 403.4h.01M968.3 311.8h.01M1235.8 309.7h.01M1460.7 472.4h.01M1034.7 345.7h.01M1318.7 126.2h.01M1313.1 342.3h.01M1344.9 369.0h.01M1243.1 328.4h.01M976.0 375.9h.01M1292.7 219.2h.01M894.1 377.4h.01M1300.8 132.8h.01M1289.0 225.6h.01M1187.2 326.9h.01M1126.9 316.5h.01M900.9 366.8h.01M1291.7 204.1h.01M1368.3 395.0h.01M1304.7 207.2h.01M1021.8 374.3h.01M1212.5 300.9h.01M1287.3 257.7h.01M1239.2 308.0h.01M1370.2 392.8h.01M1010.3 366.1h.01M1125.0 343.5h.01M918.0 361.4h.01M1124.2 338.7h.01M1024.2 369.1h.01M974.1 362.7h.01M1041.4 350.1h.01M940.5 375.1h.01M1308.8 330.6h.01M1305.7 155.2h.01M905.1 365.6h.01M1373.1 398.8h.01M1120.8 336.0h.01M1308.1 191.8h.01M994.7 355.2h.01M891.1 374.6h.01M1302.5 189.3h.01M1217.9 302.8h.01M1337.0 355.5h.01M1053.5 369.2h.01M1129.4 339.7h.01M1119.3 331.7h.01M890.9 376.7h.01M937.1 379.0h.01M1381.7 387.4h.01M1038.8 368.2h.01M1304.8 332.1h.01M1279.0 292.4h.01M1017.8 350.1h.01M906.2 359.6h.01M1458.4 472.4h.01M1237.9 332.2h.01M1303.1 177.9h.01M1427.6 446.8h.01M1180.1 322.2h.01M1400.4 403.6h.01M1291.3 165.0h.01M1454.7 474.6h.01M1212.6 331.6h.01M977.9 338.8h.01M1314.6 156.2h.01M1305.7 140.1h.01M879.8 363.7h.01M961.5 371.8h.01M1061.0 367.6h.01M1017.2 374.5h.01M1465.6 484.5h.01M1387.3 393.7h.01M1345.2 363.5h.01M1297.2 144.2h.01M1241.1 306.9h.01M1452.9 478.9h.01M1239.7 306.8h.01M1304.3 217.8h.01M1108.4 335.2h.01M1297.8 198.0h.01M1302.3 181.9h.01M946.7 356.2h.01M1029.9 360.8h.01M938.5 355.1h.01M1333.3 360.4h.01M1296.7 165.1h.01M1377.8 384.6h.01M1274.3 305.6h.01M1148.4 318.4h.01M988.6 356.3h.01M1249.4 306.6h.01M1195.4 340.3h.01M1296.5 243.4h.01M1182.8 307.8h.01M1142.4 316.4h.01M1212.0 339.0h.01M1314.8 343.6h.01M1053.9 364.9h.01M1436.0 454.3h.01M1143.6 334.4h.01M1178.5 345.9h.01M1107.6 349.5h.01M1404.7 409.8h.01M1114.3 351.5h.01M1108.2 349.4h.01M1152.6 319.9h.01M981.0 316.3h.01M1354.5 381.6h.01M1097.6 363.3h.01M1113.0 328.7h.01M1298.7 131.3h.01M1040.4 362.1h.01M1350.2 386.6h.01M1284.4 224.5h.01M1308.6 157.7h.01M1022.2 374.0h.01M1244.1 315.4h.01M958.8 344.4h.01M1267.8 304.4h.01M1203.3 311.1h.01M1384.1 391.1h.01M1037.3 367.6h.01M1294.9 324.2h.01M958.7 375.1h.01M991.3 338.4h.01M956.5 376.4h.01M1293.3 232.7h.01M1243.9 305.6h.01M967.5 344.6h.01M1132.2 323.3h.01M911.0 361.1h.01M1294.4 184.9h.01M1171.5 339.9h.01M1217.9 322.5h.01M1166.1 315.3h.01M1304.4 332.2h.01M1104.5 335.3h.01M1303.7 138.2h.01M941.4 379.1h.01M1395.7 400.2h.01M1190.9 346.9h.01M1275.4 282.7h.01M1282.8 242.1h.01M1313.4 131.7h.01M1413.7 441.3h.01M1231.6 315.2h.01M1307.4 178.8h.01M1291.9 159.0h.01M1015.2 349.0h.01M1312.9 146.9h.01M1111.0 356.8h.01M1397.3 413.4h.01M1005.6 370.6h.01M1197.8 315.3h.01M1314.1 329.7h.01M1285.7 318.3h.01M1169.3 322.9h.01M1422.6 442.1h.01M1379.9 404.9h.01M1197.8 317.5h.01M1050.7 355.5h.01M1381.8 397.4h.01M1281.4 246.0h.01M942.7 320.4h.01M1370.9 368.7h.01M1280.8 261.1h.01M963.3 352.4h.01M1356.0 382.1h.01M1298.3 219.2h.01M1453.8 460.2h.01M959.1 359.0h.01M977.4 360.1h.01M1076.3 366.7h.01M1188.2 330.2h.01M1312.0 341.7h.01M1219.0 318.3h.01M1389.6 392.2h.01M1188.4 333.1h.01M1299.0 220.0h.01M1178.8 313.6h.01M1437.9 468.7h.01M1262.5 312.8h.01M1036.6 360.3h.01M1255.0 310.7h.01M1119.3 358.4h.01M1283.4 315.0h.01M1079.9 337.1h.01M1374.8 376.8h.01M942.7 363.3h.01M1283.4 243.2h.01M1289.5 196.8h.01M1157.3 316.8h.01M1072.2 334.4h.01M1325.4 342.2h.01M1283.0 238.5h.01M1052.6 336.3h.01M1293.2 247.1h.01M922.5 378.1h.01M1223.6 303.4h.01M967.8 337.4h.01M998.1 359.5h.01M1040.0 368.6h.01M970.7 344.4h.01M1289.2 252.6h.01M1357.2 382.8h.01M1316.0 156.0h.01M1299.1 229.9h.01M945.0 377.6h.01M925.1 359.5h.01M1282.0 255.7h.01M1284.7 278.9h.01M1302.5 325.5h.01M1079.9 332.2h.01M1023.2 370.2h.01M992.9 355.4h.01M950.6 353.9h.01M1228.8 318.4h.01M1369.2 378.1h.01M897.8 368.9h.01M1177.8 334.1h.01M1441.1 470.4h.01M1219.6 330.5h.01M1347.1 372.1h.01M1117.0 321.9h.01M1010.7 354.0h.01M1100.7 364.4h.01M1232.6 324.0h.01M1360.5 376.5h.01M1187.8 303.5h.01M1392.9 400.6h.01M1382.7 403.3h.01M1417.1 424.7h.01M1292.1 251.7h.01M965.0 305.5h.01M1020.9 345.2h.01M1260.4 313.9h.01M1361.0 362.9h.01M1328.5 130.3h.01M1442.6 452.4h.01M995.5 345.2h.01M1362.5 383.4h.01M1315.1 147.6h.01M1290.2 262.1h.01M1308.0 146.5h.01M1277.8 266.0h.01M1258.6 309.6h.01M1415.2 434.0h.01M1014.5 361.8h.01M1222.2 321.5h.01M1087.1 365.1h.01M1160.9 327.0h.01M1142.0 347.3h.01M1056.2 358.5h.01M1019.5 366.0h.01M1429.9 445.8h.01M1290.8 230.9h.01M1096.9 345.0h.01M1333.4 362.1h.01M1099.6 335.9h.01M1278.0 262.7h.01M1141.4 316.4h.01M1069.2 364.4h.01M953.1 373.6h.01M961.2 361.9h.01M1259.2 309.5h.01M1103.1 361.3h.01M1054.3 346.6h.01M1011.3 351.3h.01M1070.7 367.1h.01M1300.5 325.5h.01M1197.7 315.7h.01M932.1 377.9h.01M1146.4 317.2h.01M1240.7 309.1h.01M1357.0 370.2h.01M1358.0 388.2h.01M1275.3 277.4h.01M886.8 359.2h.01M1455.9 484.6h.01M977.9 325.0h.01M1118.1 356.7h.01M997.5 357.1h.01M1385.8 411.4h.01M969.4 343.6h.01M1330.2 359.2h.01M1118.4 346.8h.01M1306.1 189.2h.01M1358.4 385.1h.01M1097.7 358.1h.01M1028.6 340.6h.01M1214.5 331.1h.01M887.2 375.1h.01M1430.1 454.6h.01M1057.6 342.7h.01M1301.1 196.7h.01M1163.6 320.7h.01M1124.7 331.4h.01M1179.7 304.5h.01M981.8 351.9h.01M963.7 336.3h.01M1181.0 329.0h.01M1042.7 352.7h.01M1356.1 378.9h.01M1271.1 310.5h.01M1194.8 303.0h.01M879.4 368.4h.01M1159.5 320.1h.01M911.6 379.1h.01M1077.1 352.3h.01M1404.0 414.3h.01M891.2 377.7h.01M1170.1 317.6h.01M1007.3 360.3h.01M941.1 356.3h.01M1253.3 318.8h.01M1003.5 368.6h.01M1198.9 318.8h.01M991.8 345.7h.01M1177.8 314.8h.01M1002.1 360.0h.01M1100.3 346.9h.01M1112.9 325.1h.01M1366.3 369.8h.01M1280.9 287.0h.01M1085.5 361.6h.01M894.4 373.2h.01M978.6 326.6h.01M1354.6 370.6h.01M965.2 311.7h.01M904.5 373.4h.01M1215.0 302.9h.01M1099.1 345.5h.01M1296.8 162.2h.01M968.9 342.4h.01M1467.4 487.0h.01M892.6 372.8h.01M1108.4 357.5h.01M1028.2 358.5h.01M1137.5 348.1h.01M1368.9 399.0h.01M1114.3 330.0h.01M1173.5 340.3h.01M1159.6 345.8h.01M1397.3 411.3h.01M1108.6 344.7h.01M1208.2 337.8h.01M1417.3 434.0h.01M1201.1 300.8h.01M1298.6 132.4h.01M1203.4 341.1h.01M999.7 343.1h.01M1416.1 420.1h.01M1128.2 337.0h.01M1225.5 309.2h.01M955.3 336.1h.01M1227.2 318.7h.01M1086.4 353.9h.01M1059.7 344.4h.01M1321.0 138.8h.01M933.8 356.0h.01M962.3 330.7h.01M981.0 356.4h.01M1265.9 318.2h.01M1321.5 354.1h.01M1029.1 366.7h.01M1293.8 170.3h.01M913.1 358.9h.01M1433.2 450.7h.01M1325.4 355.2h.01M1315.1 160.0h.01M1422.2 437.7h.01M1149.7 322.7h.01M1199.4 316.6h.01M953.0 373.9h.01M1369.0 386.5h.01M1287.6 220.7h.01M1250.4 322.6h.01M888.8 359.4h.01M987.0 352.1h.01M1128.1 323.9h.01M1198.0 332.1h.01M1258.4 312.6h.01M1276.2 310.5h.01M965.8 373.9h.01M1298.1 187.0h.01M1162.2 311.6h.01M1425.4 449.5h.01M977.8 361.1h.01M1338.1 345.8h.01M1302.5 191.8h.01M1195.2 319.2h.01M1252.1 316.8h.01M1221.3 304.7h.01M1284.3 282.0h.01M1295.0 235.6h.01M965.7 306.0h.01M1020.2 369.8h.01M1045.8 369.5h.01M996.5 352.4h.01M1013.1 341.2h.01M979.4 356.4h.01M1057.0 342.7h.01M1063.8 337.4h.01M1206.7 338.6h.01M1021.1 372.3h.01M1321.7 152.7h.01M882.5 371.8h.01M894.0 366.0h.01M1104.7 328.8h.01M967.5 336.9h.01M1090.9 339.9h.01M1154.7 336.9h.01M940.8 357.7h.01M1437.8 463.3h.01M993.4 352.6h.01M1309.3 135.0h.01M970.1 323.7h.01M973.2 329.2h.01M1254.4 311.4h.01M1192.3 335.2h.01M1241.5 328.2h.01M918.2 359.8h.01M1276.0 309.1h.01M963.8 307.0h.01M1278.3 264.0h.01M1317.9 127.5h.01M1305.5 173.3h.01M1010.9 359.8h.01M1354.4 370.2h.01M1034.3 358.6h.01M1242.1 324.0h.01M1304.8 122.9h.01M1290.6 194.1h.01M938.3 378.1h.01M962.0 364.4h.01M1168.7 345.3h.01M1398.8 400.5h.01M1232.5 306.4h.01M981.6 321.2h.01M1280.3 290.8h.01M1179.2 322.5h.01M1173.5 352.8h.01M1333.8 359.4h.01M1221.1 331.3h.01M1211.5 334.6h.01M1294.2 230.0h.01M1345.2 370.6h.01M1287.9 273.5h.01M1274.1 319.8h.01M938.6 356.3h.01M1304.1 171.0h.01M1060.3 366.1h.01M1449.5 476.6h.01M1301.6 134.2h.01M937.7 356.7h.01M995.8 375.1h.01M1154.0 338.2h.01M1259.2 308.9h.01M1179.3 336.9h.01M1165.9 354.8h.01M953.9 350.6h.01M1348.1 367.0h.01M1283.6 221.3h.01M1242.6 325.4h.01M1287.7 210.5h.01M990.4 351.3h.01M1117.5 324.8h.01M1044.4 369.5h.01M1112.8 356.9h.01M1214.0 339.2h.01M989.3 348.7h.01M1160.7 340.1h.01M1305.5 216.3h.01M960.2 339.9h.01M1286.9 279.2h.01M1014.4 375.1h.01M1305.9 126.1h.01M1230.8 324.2h.01M913.5 359.2h.01M1307.4 176.9h.01M972.8 317.2h.01M1095.6 362.4h.01M1211.6 312.3h.01M1144.0 338.9h.01M1175.0 354.5h.01M939.9 364.3h.01M1249.9 307.0h.01M942.6 373.0h.01M1310.7 122.4h.01M1167.5 333.5h.01M1360.1 391.1h.01M1087.3 364.1h.01M921.0 384.8h.01M1074.3 363.9h.01M1298.4 206.6h.01M978.6 327.0h.01M884.7 361.4h.01M1233.4 335.0h.01M1097.6 332.7h.01M1007.0 371.0h.01M1302.7 149.5h.01M997.2 361.9h.01M1327.4 357.4h.01M1010.3 353.8h.01M1058.9 356.8h.01M1386.6 411.8h.01M1020.8 375.2h.01M1317.4 346.0h.01M1096.5 363.7h.01M1240.1 322.1h.01M1307.3 202.6h.01M1465.8 479.5h.01M897.9 378.6h.01M992.5 365.0h.01M932.5 373.2h.01M981.4 342.2h.01M1285.8 312.8h.01M1019.4 350.9h.01M1131.4 324.5h.01M1281.0 246.4h.01M1114.2 326.1h.01M1286.3 239.4h.01M1445.9 459.3h.01M1035.8 341.4h.01M962.5 358.5h.01M1310.0 333.6h.01M1291.9 195.1h.01M1075.1 339.1h.01M1204.4 322.3h.01M1163.1 325.1h.01M1353.4 375.7h.01M894.6 378.4h.01M1125.9 351.2h.01M1307.9 330.4h.01M1108.2 325.4h.01M1315.3 146.3h.01M1422.4 439.4h.01M1019.1 362.6h.01M954.1 349.6h.01M1224.3 316.1h.01M1406.2 431.4h.01M1084.8 353.2h.01M1302.4 215.5h.01M1080.6 333.0h.01M1195.7 305.2h.01M963.3 335.6h.01M963.2 360.8h.01M1305.2 324.2h.01M924.3 362.4h.01M1220.3 305.4h.01M1123.3 342.1h.01M1068.8 343.6h.01M1010.4 345.9h.01M1021.9 348.2h.01M1442.9 451.8h.01M1178.3 350.2h.01M1303.8 193.8h.01M1046.8 341.1h.01M1233.4 304.8h.01M998.0 372.7h.01M1261.7 314.4h.01M1164.5 314.1h.01M1304.8 165.3h.01M1068.9 344.4h.01M1396.9 398.0h.01M1382.1 397.7h.01M905.8 358.7h.01M1347.6 362.5h.01M1130.8 357.7h.01M1241.3 325.9h.01M959.9 363.7h.01M982.3 373.1h.01M1290.8 191.3h.01M1205.1 342.5h.01M892.0 374.9h.01M1358.5 381.6h.01M1428.1 450.7h.01M1137.7 347.2h.01M1294.0 169.2h.01M1301.3 189.6h.01M1167.1 352.5h.01M1298.5 215.7h.01M1446.5 473.5h.01M1163.1 321.7h.01M1224.6 301.4h.01M1305.5 141.6h.01M1023.0 365.6h.01M1372.6 376.2h.01M1329.0 359.9h.01M1188.2 337.4h.01M1103.8 330.2h.01M956.4 352.2h.01M1022.8 375.2h.01M1077.5 344.7h.01M1068.6 365.4h.01M893.1 374.8h.01M987.6 367.1h.01M962.7 358.9h.01M1363.0 379.9h.01M1088.6 333.4h.01M1087.8 350.3h.01M1230.5 314.1h.01M1213.5 300.1h.01M1290.8 167.1h.01M1021.1 359.9h.01M1188.0 333.5h.01M1007.4 361.0h.01M1214.0 309.4h.01M1302.3 232.8h.01M927.0 356.6h.01M957.8 361.7h.01M1223.3 302.0h.01M880.3 371.9h.01M1073.8 336.0h.01M1289.1 170.6h.01M1005.9 370.5h.01M1178.1 312.7h.01M1262.1 306.7h.01M902.7 386.3h.01M1023.0 349.7h.01M1340.3 357.0h.01M1139.1 324.8h.01M1316.2 344.6h.01M1005.6 343.6h.01M1323.8 137.6h.01M914.0 368.4h.01M1298.6 212.2h.01M1253.9 315.9h.01M1140.9 346.2h.01M1440.2 455.8h.01M1297.2 168.4h.01M1305.2 161.5h.01M951.9 368.1h.01M1157.3 321.3h.01M926.2 382.4h.01M1184.7 303.4h.01M1046.1 358.3h.01M1329.9 352.7h.01M1377.2 404.0h.01M1322.6 138.3h.01M1370.3 397.2h.01M949.4 372.9h.01M1310.0 139.8h.01M981.9 375.6h.01M1303.0 127.6h.01M1305.9 151.8h.01M1195.4 322.1h.01M1258.3 330.9h.01M1153.9 316.1h.01M1142.2 336.9h.01M1453.3 467.7h.01M939.3 367.0h.01M1280.2 276.6h.01M1309.0 166.0h.01M1294.5 161.4h.01M1299.7 214.5h.01M1250.0 326.0h.01M1371.4 400.6h.01M880.8 362.9h.01M1188.8 329.0h.01M1399.5 409.5h.01M1063.2 367.1h.01M1109.1 332.4h.01M1036.7 367.1h.01M1283.3 316.3h.01M1376.6 396.4h.01M1022.3 357.2h.01M1240.1 332.7h.01M1290.7 159.7h.01M1066.9 337.3h.01M1029.7 340.3h.01M1069.7 361.9h.01M1304.0 202.2h.01M1218.7 335.2h.01M1351.8 363.1h.01M1308.1 198.4h.01M1183.1 329.9h.01M1134.9 318.9h.01M898.2 379.0h.01M1146.5 355.2h.01M962.1 308.8h.01M1213.0 313.4h.01M961.5 360.9h.01M1353.8 373.6h.01M1280.4 272.3h.01M1289.1 239.9h.01M1278.3 278.5h.01M1211.1 327.0h.01M1425.8 434.1h.01M1252.1 316.7h.01M964.0 371.5h.01M1437.4 447.1h.01M1428.8 431.6h.01M1058.8 365.5h.01M1204.1 331.9h.01M952.3 367.9h.01M1288.0 246.3h.01M1237.5 307.5h.01M924.7 367.4h.01M1066.9 337.9h.01M903.8 361.5h.01M1321.4 125.5h.01M1279.2 309.1h.01M1289.1 184.5h.01M1313.4 146.0h.01M1379.8 389.2h.01M1257.8 330.8h.01M1130.4 326.5h.01M1296.7 133.2h.01M987.2 343.4h.01M1301.3 217.9h.01M1426.8 429.2h.01M1127.0 332.0h.01M1109.8 340.3h.01M902.1 371.6h.01M1279.3 255.8h.01M1328.1 355.2h.01M1216.2 317.5h.01M1386.9 401.5h.01M1070.3 363.9h.01M1089.2 365.6h.01M1279.9 251.8h.01M1068.8 365.2h.01M974.8 361.9h.01M1263.6 310.2h.01M968.2 322.4h.01M928.4 366.7h.01M1314.7 161.2h.01M1178.0 348.8h.01M987.2 374.0h.01M1239.2 307.8h.01M915.7 364.0h.01M1099.1 330.9h.01M1279.5 290.4h.01M992.3 347.0h.01M1029.0 366.4h.01M1120.1 319.2h.01M966.0 314.9h.01M1430.6 438.2h.01M1312.6 195.4h.01M1307.2 338.2h.01M1423.8 436.2h.01M1231.4 304.8h.01M1227.5 324.4h.01M1143.8 315.6h.01M1219.1 319.5h.01M1355.1 380.1h.01M1289.6 194.6h.01M982.2 306.5h.01M1079.8 355.4h.01M1061.7 337.8h.01M905.9 382.5h.01M1413.2 413.1h.01M1069.7 342.0h.01M982.5 343.1h.01M1359.1 386.9h.01M1310.0 336.7h.01M1284.6 244.0h.01M1287.0 317.5h.01M1233.0 322.1h.01M1312.1 140.9h.01M1025.1 372.0h.01M1362.5 385.6h.01M1415.0 415.1h.01M998.9 369.9h.01M1155.6 310.4h.01M976.4 312.0h.01M1446.4 473.7h.01M1329.2 343.3h.01M895.3 377.7h.01M1340.7 357.2h.01M1219.3 312.3h.01M1313.4 177.7h.01M1291.5 178.5h.01M975.1 302.4h.01M1193.4 315.1h.01M1325.3 355.3h.01M1385.0 391.7h.01M1019.2 366.4h.01M1223.3 318.2h.01M1128.1 322.0h.01M1304.3 132.6h.01M1205.1 310.2h.01M1292.7 324.7h.01M1177.0 316.1h.01M1310.3 206.9h.01M1245.5 322.4h.01M1109.8 345.5h.01M1062.2 329.9h.01M1301.1 204.1h.01M943.2 360.5h.01M1294.4 180.0h.01M1333.9 337.8h.01M1311.1 184.8h.01M1144.5 341.9h.01M973.8 333.4h.01M1135.4 325.8h.01M1151.4 328.4h.01M1390.4 413.2h.01M1083.4 333.3h.01M1268.2 309.0h.01M1200.6 299.7h.01M1439.6 449.6h.01M1152.8 352.5h.01M1017.0 364.5h.01M1095.6 358.2h.01M981.8 371.9h.01M1145.9 351.0h.01M1219.1 336.3h.01M1271.6 312.1h.01M1423.4 452.1h.01M1091.4 333.1h.01M1437.8 451.1h.01M1255.3 316.0h.01M1074.0 359.2h.01M1402.2 406.6h.01M1303.1 146.7h.01M1005.1 373.0h.01M1100.1 331.3h.01M1290.7 209.3h.01M1314.2 168.4h.01M1118.1 327.7h.01M904.0 384.4h.01M1111.5 350.8h.01M1035.9 348.8h.01M1030.8 344.9h.01M1110.9 353.2h.01M954.6 371.1h.01M1320.0 137.7h.01M1233.9 320.3h.01M1313.5 156.5h.01M1032.8 341.7h.01M1139.7 329.0h.01M1070.2 367.3h.01M955.7 357.7h.01M1275.8 316.7h.01M1422.1 436.1h.01M1307.9 197.7h.01M1033.3 355.9h.01M1372.5 403.2h.01M1104.8 330.1h.01M1440.4 459.2h.01M1438.7 456.9h.01M1105.8 329.9h.01M1174.5 310.8h.01M1191.1 342.2h.01M1319.8 334.6h.01M1082.3 339.2h.01M1232.8 333.9h.01M984.7 347.1h.01M1281.9 291.3h.01M1337.0 355.6h.01M1428.8 442.4h.01M1291.0 241.4h.01M1295.0 324.8h.01M1281.1 246.0h.01M1413.1 416.5h.01M1294.5 164.9h.01M1217.7 304.8h.01" stroke="#964B28" stroke-width="11.4" stroke-linecap="round" fill="none"/>
<circle cx="1280.0" cy="310.2" r="12.8" fill="#0A0A05"/>
<text transform="translate(1280.0 317.7)" font-size="21" fill="#fff" text-anchor="middle">1</text>
<circle cx="975.0" cy="348.5" r="12.8" fill="#0A0A05"/>
<text transform="translate(975.0 356.0)" font-size="21" fill="#fff" text-anchor="middle">2</text>
<text transform="translate(-1.0 643.0)" font-size="44.5" fill="#000" text-anchor="start" font-weight="bold">c</text>
<rect x="163.5" y="639.0" width="505.5" height="440.0" fill="#fff"/>
<line x1="163.5" y1="686.0" x2="669.0" y2="686.0" stroke="#EDEDED" stroke-width="1.6"/>
<line x1="163.5" y1="796.0" x2="669.0" y2="796.0" stroke="#EDEDED" stroke-width="1.6"/>
<line x1="163.5" y1="906.0" x2="669.0" y2="906.0" stroke="#EDEDED" stroke-width="1.6"/>
<line x1="163.5" y1="1016.0" x2="669.0" y2="1016.0" stroke="#EDEDED" stroke-width="1.6"/>
<line x1="163.5" y1="741.0" x2="669.0" y2="741.0" stroke="#E9E9E9" stroke-width="3.2"/>
<line x1="163.5" y1="851.0" x2="669.0" y2="851.0" stroke="#E9E9E9" stroke-width="3.2"/>
<line x1="163.5" y1="961.0" x2="669.0" y2="961.0" stroke="#E9E9E9" stroke-width="3.2"/>
<line x1="163.5" y1="1071.0" x2="669.0" y2="1071.0" stroke="#E9E9E9" stroke-width="3.2"/>
<line x1="199.5" y1="639.0" x2="199.5" y2="1079.0" stroke="#E9E9E9" stroke-width="3.2"/>
<line x1="261.4" y1="639.0" x2="261.4" y2="1079.0" stroke="#E9E9E9" stroke-width="3.2"/>
<line x1="323.2" y1="639.0" x2="323.2" y2="1079.0" stroke="#E9E9E9" stroke-width="3.2"/>
<line x1="385.1" y1="639.0" x2="385.1" y2="1079.0" stroke="#E9E9E9" stroke-width="3.2"/>
<line x1="446.9" y1="639.0" x2="446.9" y2="1079.0" stroke="#E9E9E9" stroke-width="3.2"/>
<line x1="508.8" y1="639.0" x2="508.8" y2="1079.0" stroke="#E9E9E9" stroke-width="3.2"/>
<line x1="570.7" y1="639.0" x2="570.7" y2="1079.0" stroke="#E9E9E9" stroke-width="3.2"/>
<line x1="632.5" y1="639.0" x2="632.5" y2="1079.0" stroke="#E9E9E9" stroke-width="3.2"/>
<line x1="199.5" y1="674.0" x2="199.5" y2="691.0" stroke="#432650" stroke-width="3.3"/>
<line x1="199.5" y1="1045.0" x2="199.5" y2="1060.0" stroke="#432650" stroke-width="3.3"/>
<rect x="176.2" y="691.0" width="46.5" height="354.0" fill="#fff" stroke="#432650" stroke-width="3.3" stroke-linejoin="miter"/>
<line x1="176.2" y1="861.0" x2="222.8" y2="861.0" stroke="#432650" stroke-width="6.7"/>
<line x1="261.4" y1="668.5" x2="261.4" y2="730.0" stroke="#4F3382" stroke-width="3.3"/>
<line x1="261.4" y1="803.0" x2="261.4" y2="910.0" stroke="#4F3382" stroke-width="3.3"/>
<rect x="238.1" y="730.0" width="46.5" height="73.0" fill="#fff" stroke="#4F3382" stroke-width="3.3" stroke-linejoin="miter"/>
<line x1="238.1" y1="754.5" x2="284.6" y2="754.5" stroke="#4F3382" stroke-width="6.7"/>
<path d="M261.4 912.5h.01M261.4 918.5h.01M261.4 933.0h.01M261.4 941.5h.01M261.4 960.5h.01M261.4 984.5h.01" stroke="#4F3382" stroke-width="6.9" stroke-linecap="round" fill="none"/>
<line x1="323.2" y1="663.5" x2="323.2" y2="682.0" stroke="#3F5A89" stroke-width="3.3"/>
<line x1="323.2" y1="819.5" x2="323.2" y2="1025.0" stroke="#3F5A89" stroke-width="3.3"/>
<rect x="300.0" y="682.0" width="46.5" height="137.5" fill="#fff" stroke="#3F5A89" stroke-width="3.3" stroke-linejoin="miter"/>
<line x1="300.0" y1="708.0" x2="346.5" y2="708.0" stroke="#3F5A89" stroke-width="6.7"/>
<path d="M323.2 1026.0h.01M323.2 1028.5h.01M323.2 1031.0h.01M323.2 1033.5h.01M323.2 1036.0h.01M323.2 1038.5h.01M323.2 1041.0h.01M323.2 1043.5h.01M323.2 1046.0h.01M323.2 1048.5h.01M323.2 1051.0h.01M323.2 1053.5h.01M323.2 1056.0h.01" stroke="#3F5A89" stroke-width="6.9" stroke-linecap="round" fill="none"/>
<line x1="385.1" y1="669.0" x2="385.1" y2="697.5" stroke="#3D7A87" stroke-width="3.3"/>
<line x1="385.1" y1="730.5" x2="385.1" y2="775.0" stroke="#3D7A87" stroke-width="3.3"/>
<rect x="361.8" y="697.5" width="46.5" height="33.0" fill="#fff" stroke="#3D7A87" stroke-width="3.3" stroke-linejoin="miter"/>
<line x1="361.8" y1="701.0" x2="408.3" y2="701.0" stroke="#3D7A87" stroke-width="6.7"/>
<path d="M385.1 778.0h.01M385.1 780.4h.01M385.1 782.8h.01M385.1 785.2h.01M385.1 787.6h.01M385.1 790.0h.01M385.1 792.4h.01M385.1 794.8h.01M385.1 797.2h.01M385.1 799.6h.01M385.1 802.0h.01M385.1 804.4h.01M385.1 806.8h.01M385.1 809.2h.01M385.1 811.6h.01M385.1 814.0h.01M385.1 816.4h.01M385.1 818.8h.01M385.1 821.2h.01M385.1 823.6h.01M385.1 826.0h.01M385.1 828.4h.01M385.1 830.8h.01M385.1 833.2h.01M385.1 835.6h.01M385.1 838.0h.01M385.1 840.4h.01M385.1 842.8h.01M385.1 845.2h.01M385.1 847.6h.01M385.1 850.0h.01M385.1 852.4h.01M385.1 854.8h.01M385.1 857.2h.01M385.1 859.6h.01M385.1 862.0h.01M385.1 864.4h.01M385.1 866.8h.01M385.1 869.2h.01M385.1 871.6h.01M385.1 874.0h.01M385.1 876.4h.01M385.1 878.8h.01M385.1 881.2h.01M385.1 883.6h.01M385.1 886.0h.01M385.1 888.4h.01M385.1 890.8h.01M385.1 893.2h.01M385.1 895.6h.01M385.1 898.0h.01M385.1 900.4h.01M385.1 902.8h.01M385.1 905.2h.01M385.1 907.6h.01M385.1 910.0h.01M385.1 912.4h.01M385.1 914.8h.01M385.1 917.2h.01M385.1 919.6h.01M385.1 922.0h.01M385.1 924.4h.01M385.1 926.8h.01M385.1 929.2h.01M385.1 931.6h.01M385.1 934.0h.01M385.1 936.4h.01M385.1 938.8h.01M385.1 941.2h.01M385.1 943.6h.01M385.1 946.0h.01M385.1 948.4h.01M385.1 954.0h.01M385.1 958.0h.01M385.1 961.0h.01M385.1 964.0h.01M385.1 972.0h.01M385.1 979.0h.01M385.1 984.0h.01M385.1 987.5h.01M385.1 1002.0h.01M385.1 1015.0h.01M385.1 1027.5h.01M385.1 1040.0h.01M385.1 1045.0h.01M385.1 1049.0h.01" stroke="#3D7A87" stroke-width="6.9" stroke-linecap="round" fill="none"/>
<line x1="446.9" y1="664.0" x2="446.9" y2="677.0" stroke="#4AA58B" stroke-width="3.3"/>
<line x1="446.9" y1="805.0" x2="446.9" y2="979.0" stroke="#4AA58B" stroke-width="3.3"/>
<rect x="423.7" y="677.0" width="46.5" height="128.0" fill="#fff" stroke="#4AA58B" stroke-width="3.3" stroke-linejoin="miter"/>
<line x1="423.7" y1="698.5" x2="470.2" y2="698.5" stroke="#4AA58B" stroke-width="6.7"/>
<path d="M446.9 997.5h.01M446.9 1045.0h.01M446.9 1049.0h.01" stroke="#4AA58B" stroke-width="6.9" stroke-linecap="round" fill="none"/>
<line x1="508.8" y1="660.0" x2="508.8" y2="675.0" stroke="#6CCB6F" stroke-width="3.3"/>
<line x1="508.8" y1="722.5" x2="508.8" y2="792.0" stroke="#6CCB6F" stroke-width="3.3"/>
<rect x="485.6" y="675.0" width="46.5" height="47.5" fill="#fff" stroke="#6CCB6F" stroke-width="3.3" stroke-linejoin="miter"/>
<line x1="485.6" y1="679.0" x2="532.0" y2="679.0" stroke="#6CCB6F" stroke-width="6.7"/>
<path d="M508.8 793.0h.01M508.8 795.4h.01M508.8 797.8h.01M508.8 800.2h.01M508.8 802.6h.01M508.8 805.0h.01M508.8 807.4h.01M508.8 809.8h.01M508.8 812.2h.01M508.8 814.6h.01M508.8 817.0h.01M508.8 819.4h.01M508.8 821.8h.01M508.8 824.2h.01M508.8 826.6h.01M508.8 829.0h.01M508.8 831.4h.01M508.8 833.8h.01M508.8 836.2h.01M508.8 838.6h.01M508.8 841.0h.01M508.8 843.4h.01M508.8 845.8h.01M508.8 848.2h.01M508.8 850.6h.01M508.8 853.0h.01M508.8 855.4h.01M508.8 857.8h.01M508.8 860.2h.01M508.8 862.6h.01M508.8 865.0h.01M508.8 867.4h.01M508.8 869.8h.01M508.8 872.2h.01M508.8 874.6h.01M508.8 877.0h.01M508.8 879.4h.01M508.8 881.8h.01M508.8 884.2h.01M508.8 886.6h.01M508.8 889.0h.01M508.8 891.4h.01M508.8 902.0h.01M508.8 905.0h.01M508.8 908.0h.01M508.8 911.0h.01M508.8 914.0h.01M508.8 917.0h.01M508.8 920.0h.01M508.8 923.0h.01M508.8 926.0h.01M508.8 929.0h.01M508.8 932.0h.01M508.8 935.0h.01M508.8 950.0h.01M508.8 962.5h.01M508.8 972.5h.01M508.8 980.5h.01M508.8 1002.0h.01M508.8 1049.5h.01" stroke="#6CCB6F" stroke-width="6.9" stroke-linecap="round" fill="none"/>
<line x1="570.7" y1="662.5" x2="570.7" y2="672.5" stroke="#ADDC3F" stroke-width="3.3"/>
<line x1="570.7" y1="681.5" x2="570.7" y2="690.0" stroke="#ADDC3F" stroke-width="3.3"/>
<rect x="547.4" y="672.5" width="46.5" height="9.0" fill="#fff" stroke="#ADDC3F" stroke-width="3.3" stroke-linejoin="miter"/>
<line x1="547.4" y1="677.0" x2="593.9" y2="677.0" stroke="#ADDC3F" stroke-width="6.7"/>
<path d="M570.7 691.0h.01M570.7 693.6h.01M570.7 696.2h.01M570.7 698.8h.01M570.7 701.4h.01M570.7 704.0h.01M570.7 706.6h.01M570.7 709.2h.01M570.7 711.8h.01M570.7 714.4h.01M570.7 717.0h.01M570.7 719.6h.01M570.7 722.2h.01M570.7 724.8h.01M570.7 727.4h.01M570.7 730.0h.01M570.7 732.6h.01M570.7 735.2h.01M570.7 737.8h.01M570.7 750.0h.01M570.7 768.0h.01M570.7 772.0h.01M570.7 777.0h.01M570.7 783.0h.01M570.7 789.0h.01M570.7 798.0h.01M570.7 832.0h.01M570.7 837.0h.01M570.7 846.0h.01M570.7 888.0h.01M570.7 1053.0h.01" stroke="#ADDC3F" stroke-width="6.9" stroke-linecap="round" fill="none"/>
<line x1="632.5" y1="659.0" x2="632.5" y2="671.5" stroke="#F0D441" stroke-width="3.3"/>
<line x1="632.5" y1="692.5" x2="632.5" y2="720.0" stroke="#F0D441" stroke-width="3.3"/>
<rect x="609.3" y="671.5" width="46.5" height="21.0" fill="#fff" stroke="#F0D441" stroke-width="3.3" stroke-linejoin="miter"/>
<line x1="609.3" y1="675.5" x2="655.8" y2="675.5" stroke="#F0D441" stroke-width="6.7"/>
<path d="M632.5 721.0h.01M632.5 723.4h.01M632.5 725.8h.01M632.5 728.2h.01M632.5 730.6h.01M632.5 733.0h.01M632.5 735.4h.01M632.5 737.8h.01M632.5 740.2h.01M632.5 742.6h.01M632.5 745.0h.01M632.5 747.4h.01M632.5 749.8h.01M632.5 752.2h.01M632.5 754.6h.01M632.5 757.0h.01M632.5 759.4h.01M632.5 761.8h.01M632.5 764.2h.01M632.5 766.6h.01M632.5 769.0h.01M632.5 771.4h.01M632.5 773.8h.01M632.5 776.2h.01M632.5 778.6h.01M632.5 781.0h.01M632.5 783.4h.01M632.5 785.8h.01M632.5 788.2h.01M632.5 790.6h.01M632.5 793.0h.01M632.5 795.4h.01M632.5 797.8h.01M632.5 800.2h.01M632.5 802.6h.01M632.5 805.0h.01M632.5 807.4h.01M632.5 809.8h.01M632.5 812.2h.01M632.5 814.6h.01M632.5 817.0h.01M632.5 819.4h.01M632.5 821.8h.01M632.5 824.2h.01M632.5 826.6h.01M632.5 829.0h.01M632.5 831.4h.01M632.5 833.8h.01M632.5 836.2h.01M632.5 838.6h.01M632.5 841.0h.01M632.5 843.4h.01M632.5 845.8h.01M632.5 848.2h.01M632.5 850.6h.01M632.5 853.0h.01M632.5 855.4h.01M632.5 857.8h.01M632.5 860.2h.01M632.5 862.6h.01M632.5 865.0h.01M632.5 867.4h.01M632.5 869.8h.01M632.5 872.2h.01M632.5 874.6h.01M632.5 877.0h.01M632.5 887.0h.01M632.5 895.0h.01M632.5 905.0h.01M632.5 910.0h.01M632.5 918.0h.01M632.5 922.0h.01M632.5 937.0h.01M632.5 954.0h.01M632.5 963.0h.01M632.5 972.0h.01M632.5 980.0h.01M632.5 985.0h.01M632.5 998.0h.01M632.5 1013.0h.01M632.5 1018.0h.01M632.5 1024.0h.01M632.5 1045.0h.01M632.5 1049.0h.01" stroke="#F0D441" stroke-width="6.9" stroke-linecap="round" fill="none"/>
<rect x="163.5" y="639.0" width="505.5" height="440.0" fill="none" stroke="#2B2B2B" stroke-width="2.1"/>
<line x1="157.0" y1="741.0" x2="163.0" y2="741.0" stroke="#333" stroke-width="2.6"/>
<text transform="translate(152.0 748.0)" font-size="19.5" fill="#4D4D4D" text-anchor="end">15</text>
<line x1="157.0" y1="851.0" x2="163.0" y2="851.0" stroke="#333" stroke-width="2.6"/>
<text transform="translate(152.0 858.0)" font-size="19.5" fill="#4D4D4D" text-anchor="end">10</text>
<line x1="157.0" y1="961.0" x2="163.0" y2="961.0" stroke="#333" stroke-width="2.6"/>
<text transform="translate(152.0 968.0)" font-size="19.5" fill="#4D4D4D" text-anchor="end">5</text>
<line x1="157.0" y1="1071.0" x2="163.0" y2="1071.0" stroke="#333" stroke-width="2.6"/>
<text transform="translate(152.0 1078.0)" font-size="19.5" fill="#4D4D4D" text-anchor="end">0</text>
<line x1="199.5" y1="1079.5" x2="199.5" y2="1085.5" stroke="#333" stroke-width="2.6"/>
<text transform="translate(205.5 1092.0) rotate(-44)" font-size="24.2" fill="#4D4D4D" text-anchor="end" y="17.3">Mp_07_APOC3</text>
<line x1="261.4" y1="1079.5" x2="261.4" y2="1085.5" stroke="#333" stroke-width="2.6"/>
<text transform="translate(267.4 1092.0) rotate(-44)" font-size="24.2" fill="#4D4D4D" text-anchor="end" y="17.3">Mp_06_STMN1</text>
<line x1="323.2" y1="1079.5" x2="323.2" y2="1085.5" stroke="#333" stroke-width="2.6"/>
<text transform="translate(329.2 1092.0) rotate(-44)" font-size="24.2" fill="#4D4D4D" text-anchor="end" y="17.3">Mp_02_SPP1</text>
<line x1="385.1" y1="1079.5" x2="385.1" y2="1085.5" stroke="#333" stroke-width="2.6"/>
<text transform="translate(391.1 1092.0) rotate(-44)" font-size="24.2" fill="#4D4D4D" text-anchor="end" y="17.3">Mp_05_FTL</text>
<line x1="446.9" y1="1079.5" x2="446.9" y2="1085.5" stroke="#333" stroke-width="2.6"/>
<text transform="translate(452.9 1092.0) rotate(-44)" font-size="24.2" fill="#4D4D4D" text-anchor="end" y="17.3">Mp_08_RGS5</text>
<line x1="508.8" y1="1079.5" x2="508.8" y2="1085.5" stroke="#333" stroke-width="2.6"/>
<text transform="translate(514.8 1092.0) rotate(-44)" font-size="24.2" fill="#4D4D4D" text-anchor="end" y="17.3">Mp_01_SEPP1</text>
<line x1="570.7" y1="1079.5" x2="570.7" y2="1085.5" stroke="#333" stroke-width="2.6"/>
<text transform="translate(576.7 1092.0) rotate(-44)" font-size="24.2" fill="#4D4D4D" text-anchor="end" y="17.3">Mp_04_MARCO</text>
<line x1="632.5" y1="1079.5" x2="632.5" y2="1085.5" stroke="#333" stroke-width="2.6"/>
<text transform="translate(638.5 1092.0) rotate(-44)" font-size="24.2" fill="#4D4D4D" text-anchor="end" y="17.3">Mp_03_APOA2</text>
<text transform="translate(120.5 850.0) rotate(-90)" font-size="27" fill="#000" text-anchor="middle">Pseudotime</text>
<text transform="translate(781.3 627.7)" font-size="44.5" fill="#000" text-anchor="start" font-weight="bold">d</text>
<rect x="926.5" y="639.0" width="506.0" height="440.0" fill="#fff"/>
<line x1="926.5" y1="708.7" x2="1432.5" y2="708.7" stroke="#EDEDED" stroke-width="1.6"/>
<line x1="926.5" y1="809.0" x2="1432.5" y2="809.0" stroke="#EDEDED" stroke-width="1.6"/>
<line x1="926.5" y1="909.0" x2="1432.5" y2="909.0" stroke="#EDEDED" stroke-width="1.6"/>
<line x1="926.5" y1="1009.5" x2="1432.5" y2="1009.5" stroke="#EDEDED" stroke-width="1.6"/>
<line x1="926.5" y1="658.5" x2="1432.5" y2="658.5" stroke="#E9E9E9" stroke-width="3.2"/>
<line x1="926.5" y1="759.0" x2="1432.5" y2="759.0" stroke="#E9E9E9" stroke-width="3.2"/>
<line x1="926.5" y1="859.0" x2="1432.5" y2="859.0" stroke="#E9E9E9" stroke-width="3.2"/>
<line x1="926.5" y1="959.5" x2="1432.5" y2="959.5" stroke="#E9E9E9" stroke-width="3.2"/>
<line x1="926.5" y1="1059.5" x2="1432.5" y2="1059.5" stroke="#E9E9E9" stroke-width="3.2"/>
<line x1="962.5" y1="639.0" x2="962.5" y2="1079.0" stroke="#E9E9E9" stroke-width="3.2"/>
<line x1="1024.4" y1="639.0" x2="1024.4" y2="1079.0" stroke="#E9E9E9" stroke-width="3.2"/>
<line x1="1086.2" y1="639.0" x2="1086.2" y2="1079.0" stroke="#E9E9E9" stroke-width="3.2"/>
<line x1="1148.1" y1="639.0" x2="1148.1" y2="1079.0" stroke="#E9E9E9" stroke-width="3.2"/>
<line x1="1209.9" y1="639.0" x2="1209.9" y2="1079.0" stroke="#E9E9E9" stroke-width="3.2"/>
<line x1="1271.8" y1="639.0" x2="1271.8" y2="1079.0" stroke="#E9E9E9" stroke-width="3.2"/>
<line x1="1333.7" y1="639.0" x2="1333.7" y2="1079.0" stroke="#E9E9E9" stroke-width="3.2"/>
<line x1="1395.5" y1="639.0" x2="1395.5" y2="1079.0" stroke="#E9E9E9" stroke-width="3.2"/>
<line x1="962.5" y1="658.5" x2="962.5" y2="671.0" stroke="#432650" stroke-width="3.3"/>
<line x1="962.5" y1="843.5" x2="962.5" y2="1059.5" stroke="#432650" stroke-width="3.3"/>
<rect x="939.2" y="671.0" width="46.5" height="172.5" fill="#fff" stroke="#432650" stroke-width="3.3" stroke-linejoin="miter"/>
<line x1="939.2" y1="721.0" x2="985.8" y2="721.0" stroke="#432650" stroke-width="6.7"/>
<line x1="1024.4" y1="658.5" x2="1024.4" y2="709.0" stroke="#4F3382" stroke-width="3.3"/>
<line x1="1024.4" y1="870.5" x2="1024.4" y2="1057.5" stroke="#4F3382" stroke-width="3.3"/>
<rect x="1001.1" y="709.0" width="46.5" height="161.5" fill="#fff" stroke="#4F3382" stroke-width="3.3" stroke-linejoin="miter"/>
<line x1="1001.1" y1="774.0" x2="1047.6" y2="774.0" stroke="#4F3382" stroke-width="6.7"/>
<line x1="1086.2" y1="658.5" x2="1086.2" y2="747.5" stroke="#3F5A89" stroke-width="3.3"/>
<line x1="1086.2" y1="941.5" x2="1086.2" y2="1057.5" stroke="#3F5A89" stroke-width="3.3"/>
<rect x="1063.0" y="747.5" width="46.5" height="194.0" fill="#fff" stroke="#3F5A89" stroke-width="3.3" stroke-linejoin="miter"/>
<line x1="1063.0" y1="845.0" x2="1109.5" y2="845.0" stroke="#3F5A89" stroke-width="6.7"/>
<line x1="1148.1" y1="660.0" x2="1148.1" y2="788.0" stroke="#3D7A87" stroke-width="3.3"/>
<line x1="1148.1" y1="979.0" x2="1148.1" y2="1059.5" stroke="#3D7A87" stroke-width="3.3"/>
<rect x="1124.8" y="788.0" width="46.5" height="191.0" fill="#fff" stroke="#3D7A87" stroke-width="3.3" stroke-linejoin="miter"/>
<line x1="1124.8" y1="891.0" x2="1171.3" y2="891.0" stroke="#3D7A87" stroke-width="6.7"/>
<line x1="1209.9" y1="659.0" x2="1209.9" y2="740.5" stroke="#4AA58B" stroke-width="3.3"/>
<line x1="1209.9" y1="1023.0" x2="1209.9" y2="1059.5" stroke="#4AA58B" stroke-width="3.3"/>
<rect x="1186.7" y="740.5" width="46.5" height="282.5" fill="#fff" stroke="#4AA58B" stroke-width="3.3" stroke-linejoin="miter"/>
<line x1="1186.7" y1="962.0" x2="1233.2" y2="962.0" stroke="#4AA58B" stroke-width="6.7"/>
<line x1="1271.8" y1="667.5" x2="1271.8" y2="871.0" stroke="#6CCB6F" stroke-width="3.3"/>
<line x1="1271.8" y1="1009.0" x2="1271.8" y2="1056.0" stroke="#6CCB6F" stroke-width="3.3"/>
<rect x="1248.5" y="871.0" width="46.5" height="138.0" fill="#fff" stroke="#6CCB6F" stroke-width="3.3" stroke-linejoin="miter"/>
<line x1="1248.5" y1="965.5" x2="1295.0" y2="965.5" stroke="#6CCB6F" stroke-width="6.7"/>
<line x1="1333.7" y1="660.0" x2="1333.7" y2="867.0" stroke="#ADDC3F" stroke-width="3.3"/>
<line x1="1333.7" y1="1030.0" x2="1333.7" y2="1059.5" stroke="#ADDC3F" stroke-width="3.3"/>
<rect x="1310.4" y="867.0" width="46.5" height="163.0" fill="#fff" stroke="#ADDC3F" stroke-width="3.3" stroke-linejoin="miter"/>
<line x1="1310.4" y1="978.0" x2="1356.9" y2="978.0" stroke="#ADDC3F" stroke-width="6.7"/>
<line x1="1395.5" y1="935.0" x2="1395.5" y2="1003.5" stroke="#F0D441" stroke-width="3.3"/>
<line x1="1395.5" y1="1048.0" x2="1395.5" y2="1059.5" stroke="#F0D441" stroke-width="3.3"/>
<rect x="1372.3" y="1003.5" width="46.5" height="44.5" fill="#fff" stroke="#F0D441" stroke-width="3.3" stroke-linejoin="miter"/>
<line x1="1372.3" y1="1033.0" x2="1418.8" y2="1033.0" stroke="#F0D441" stroke-width="6.7"/>
<path d="M1395.5 693.5h.01M1395.5 715.0h.01M1395.5 718.5h.01M1395.5 722.0h.01M1395.5 739.0h.01M1395.5 743.0h.01M1395.5 748.0h.01M1395.5 752.0h.01M1395.5 775.0h.01M1395.5 779.0h.01M1395.5 784.0h.01M1395.5 790.0h.01M1395.5 794.0h.01M1395.5 801.0h.01M1395.5 805.0h.01M1395.5 812.0h.01M1395.5 815.2h.01M1395.5 818.4h.01M1395.5 821.6h.01M1395.5 824.8h.01M1395.5 828.0h.01M1395.5 831.2h.01M1395.5 834.4h.01M1395.5 837.6h.01M1395.5 840.8h.01M1395.5 844.0h.01M1395.5 847.2h.01M1395.5 850.4h.01M1395.5 853.6h.01M1395.5 856.8h.01M1395.5 860.0h.01M1395.5 862.0h.01M1395.5 864.4h.01M1395.5 866.8h.01M1395.5 869.2h.01M1395.5 871.6h.01M1395.5 874.0h.01M1395.5 876.4h.01M1395.5 878.8h.01M1395.5 881.2h.01M1395.5 883.6h.01M1395.5 886.0h.01M1395.5 888.4h.01M1395.5 890.8h.01M1395.5 893.2h.01M1395.5 895.6h.01M1395.5 898.0h.01M1395.5 900.4h.01M1395.5 902.8h.01M1395.5 905.2h.01M1395.5 907.6h.01M1395.5 910.0h.01M1395.5 912.4h.01M1395.5 914.8h.01M1395.5 917.2h.01M1395.5 919.6h.01M1395.5 922.0h.01M1395.5 924.4h.01M1395.5 926.8h.01M1395.5 929.2h.01M1395.5 931.6h.01M1395.5 934.0h.01" stroke="#F0D441" stroke-width="6.9" stroke-linecap="round" fill="none"/>
<rect x="926.5" y="639.0" width="506.0" height="440.0" fill="none" stroke="#2B2B2B" stroke-width="2.1"/>
<line x1="920.0" y1="658.5" x2="926.0" y2="658.5" stroke="#333" stroke-width="2.6"/>
<text transform="translate(915.5 665.5)" font-size="19.5" fill="#4D4D4D" text-anchor="end">1.00</text>
<line x1="920.0" y1="759.0" x2="926.0" y2="759.0" stroke="#333" stroke-width="2.6"/>
<text transform="translate(915.5 766.0)" font-size="19.5" fill="#4D4D4D" text-anchor="end">0.75</text>
<line x1="920.0" y1="859.0" x2="926.0" y2="859.0" stroke="#333" stroke-width="2.6"/>
<text transform="translate(915.5 866.0)" font-size="19.5" fill="#4D4D4D" text-anchor="end">0.50</text>
<line x1="920.0" y1="959.5" x2="926.0" y2="959.5" stroke="#333" stroke-width="2.6"/>
<text transform="translate(915.5 966.5)" font-size="19.5" fill="#4D4D4D" text-anchor="end">0.25</text>
<line x1="920.0" y1="1059.5" x2="926.0" y2="1059.5" stroke="#333" stroke-width="2.6"/>
<text transform="translate(915.5 1066.5)" font-size="19.5" fill="#4D4D4D" text-anchor="end">0.00</text>
<line x1="962.5" y1="1079.5" x2="962.5" y2="1085.5" stroke="#333" stroke-width="2.6"/>
<text transform="translate(968.5 1092.0) rotate(-44)" font-size="24.2" fill="#4D4D4D" text-anchor="end" y="17.3">Mp_06_STMN1</text>
<line x1="1024.4" y1="1079.5" x2="1024.4" y2="1085.5" stroke="#333" stroke-width="2.6"/>
<text transform="translate(1030.4 1092.0) rotate(-44)" font-size="24.2" fill="#4D4D4D" text-anchor="end" y="17.3">Mp_01_SEPP1</text>
<line x1="1086.2" y1="1079.5" x2="1086.2" y2="1085.5" stroke="#333" stroke-width="2.6"/>
<text transform="translate(1092.2 1092.0) rotate(-44)" font-size="24.2" fill="#4D4D4D" text-anchor="end" y="17.3">Mp_02_SPP1</text>
<line x1="1148.1" y1="1079.5" x2="1148.1" y2="1085.5" stroke="#333" stroke-width="2.6"/>
<text transform="translate(1154.1 1092.0) rotate(-44)" font-size="24.2" fill="#4D4D4D" text-anchor="end" y="17.3">Mp_04_MARCO</text>
<line x1="1209.9" y1="1079.5" x2="1209.9" y2="1085.5" stroke="#333" stroke-width="2.6"/>
<text transform="translate(1215.9 1092.0) rotate(-44)" font-size="24.2" fill="#4D4D4D" text-anchor="end" y="17.3">Mp_08_RGS5</text>
<line x1="1271.8" y1="1079.5" x2="1271.8" y2="1085.5" stroke="#333" stroke-width="2.6"/>
<text transform="translate(1277.8 1092.0) rotate(-44)" font-size="24.2" fill="#4D4D4D" text-anchor="end" y="17.3">Mp_07_APOC3</text>
<line x1="1333.7" y1="1079.5" x2="1333.7" y2="1085.5" stroke="#333" stroke-width="2.6"/>
<text transform="translate(1339.7 1092.0) rotate(-44)" font-size="24.2" fill="#4D4D4D" text-anchor="end" y="17.3">Mp_03_APOA2</text>
<line x1="1395.5" y1="1079.5" x2="1395.5" y2="1085.5" stroke="#333" stroke-width="2.6"/>
<text transform="translate(1401.5 1092.0) rotate(-44)" font-size="24.2" fill="#4D4D4D" text-anchor="end" y="17.3">Mp_05_FTL</text>
<text transform="translate(866.5 850.0) rotate(-90)" font-size="26.5" fill="#000" text-anchor="middle">CytoTRACE</text>
<text transform="translate(-1.5 1260.8)" font-size="44.5" fill="#000" text-anchor="start" font-weight="bold">e</text>
<line x1="100.3" y1="1289.4" x2="100.3" y2="1812.3" stroke="#000" stroke-width="2"/>
<line x1="99.3" y1="1811.3" x2="755.0" y2="1811.3" stroke="#000" stroke-width="2"/>
<line x1="93.3" y1="1354.0" x2="99.8" y2="1354.0" stroke="#222" stroke-width="2.7"/>
<text transform="translate(89.0 1361.3)" font-size="20.2" fill="#4D4D4D" text-anchor="end">5</text>
<line x1="93.3" y1="1507.5" x2="99.8" y2="1507.5" stroke="#222" stroke-width="2.7"/>
<text transform="translate(89.0 1514.8)" font-size="20.2" fill="#4D4D4D" text-anchor="end">0</text>
<line x1="93.3" y1="1661.0" x2="99.8" y2="1661.0" stroke="#222" stroke-width="2.7"/>
<text transform="translate(89.0 1668.3)" font-size="20.2" fill="#4D4D4D" text-anchor="end">−5</text>
<line x1="263.3" y1="1811.8" x2="263.3" y2="1818.8" stroke="#222" stroke-width="2.7"/>
<text transform="translate(263.3 1840.0)" font-size="20.2" fill="#4D4D4D" text-anchor="middle">−5</text>
<line x1="453.0" y1="1811.8" x2="453.0" y2="1818.8" stroke="#222" stroke-width="2.7"/>
<text transform="translate(453.0 1840.0)" font-size="20.2" fill="#4D4D4D" text-anchor="middle">0</text>
<line x1="643.5" y1="1811.8" x2="643.5" y2="1818.8" stroke="#222" stroke-width="2.7"/>
<text transform="translate(643.5 1840.0)" font-size="20.2" fill="#4D4D4D" text-anchor="middle">5</text>
<text transform="translate(426.5 1871.0) scale(0.905 1)" font-size="26.6" fill="#000" text-anchor="middle">Component 1</text>
<text transform="translate(54.5 1548.0) rotate(-90)" font-size="26.7" fill="#000" text-anchor="middle">Component 2</text>
<path d="M228 1375l8 6" stroke="#0A0A05" stroke-width="4" fill="none"/>
<path d="M341 1447C380 1440 480 1436 557 1447L641 1460C652 1490 658 1520 652 1555C646 1595 632 1635 618 1665" stroke="#0A0A05" stroke-width="4.2" fill="none"/>
<path d="M157.5 1589.8h.01M182.6 1626.0h.01M173.4 1598.4h.01M156.4 1602.6h.01M167.6 1577.1h.01M172.3 1585.2h.01M168.5 1577.5h.01M165.1 1586.2h.01M175.8 1590.8h.01M151.9 1589.8h.01M181.2 1602.8h.01M161.4 1610.5h.01M173.9 1630.9h.01M173.3 1620.4h.01M172.3 1619.4h.01M198.7 1623.0h.01M157.7 1608.6h.01M166.9 1608.6h.01M195.8 1616.0h.01M166.9 1609.1h.01M165.9 1613.4h.01M191.4 1623.5h.01M187.9 1618.7h.01M177.1 1627.5h.01M154.4 1592.9h.01M177.4 1626.4h.01M166.0 1594.5h.01M172.2 1596.1h.01M191.9 1615.6h.01M168.1 1603.5h.01M177.9 1607.2h.01M157.1 1592.5h.01M165.4 1575.4h.01M187.1 1624.2h.01M152.8 1582.3h.01M186.0 1624.9h.01M174.0 1629.7h.01M161.7 1585.7h.01M177.7 1612.1h.01M162.5 1611.5h.01M177.4 1605.1h.01M194.5 1619.6h.01M170.5 1608.7h.01M179.3 1631.6h.01M151.4 1588.3h.01M149.4 1590.7h.01M172.9 1621.9h.01M191.5 1614.9h.01M178.5 1596.2h.01M199.4 1618.0h.01M151.6 1581.6h.01M195.1 1609.5h.01M189.5 1621.7h.01M176.1 1588.7h.01M173.4 1596.6h.01M163.0 1585.2h.01M197.6 1617.2h.01M150.8 1590.6h.01M182.0 1612.9h.01M172.1 1622.1h.01M173.9 1614.8h.01M169.4 1617.2h.01M171.3 1615.6h.01M160.0 1608.1h.01M163.8 1609.1h.01M191.9 1606.3h.01M169.4 1603.6h.01M165.0 1597.5h.01M165.0 1605.9h.01M171.4 1611.3h.01M151.4 1594.0h.01M192.1 1613.4h.01M176.5 1609.4h.01M181.2 1628.5h.01M156.1 1596.4h.01M171.8 1591.3h.01" stroke="#452853" stroke-width="11.6" stroke-linecap="round" fill="none"/>
<path d="M185.5 1592.5h.01M184.6 1575.0h.01M184.7 1565.6h.01M193.8 1594.4h.01M190.4 1599.6h.01M183.9 1569.0h.01M200.8 1596.3h.01M196.8 1587.5h.01M201.8 1591.3h.01M190.4 1596.4h.01M205.9 1604.5h.01M182.6 1582.1h.01M194.8 1583.8h.01M208.7 1603.4h.01M181.9 1578.8h.01M203.2 1600.3h.01M189.0 1576.4h.01M196.4 1583.5h.01M201.5 1614.8h.01M209.3 1607.7h.01M207.8 1611.0h.01M178.2 1576.0h.01M197.5 1606.2h.01M175.3 1574.0h.01M182.5 1577.7h.01M202.7 1611.0h.01M186.8 1591.4h.01M209.0 1605.5h.01M180.9 1581.5h.01M174.1 1578.8h.01M191.7 1582.2h.01M178.8 1567.9h.01M209.7 1609.2h.01M186.5 1596.0h.01M203.5 1602.2h.01M198.4 1616.7h.01M191.4 1600.6h.01M173.9 1581.9h.01M203.5 1611.4h.01M188.5 1584.7h.01M190.7 1598.3h.01M205.4 1608.3h.01M209.0 1605.2h.01M187.8 1595.3h.01" stroke="#48295C" stroke-width="11.6" stroke-linecap="round" fill="none"/>
<path d="M199.6 1569.1h.01M215.7 1602.9h.01M200.3 1563.5h.01M222.0 1601.4h.01M222.5 1598.0h.01M219.6 1605.8h.01M189.8 1566.2h.01M199.1 1559.1h.01M212.7 1580.3h.01M206.4 1590.5h.01M214.8 1579.0h.01M221.1 1600.0h.01M210.4 1596.6h.01M205.2 1587.0h.01M214.5 1601.5h.01M212.9 1580.7h.01M189.3 1565.3h.01M222.9 1599.9h.01M221.9 1597.6h.01M206.6 1581.2h.01M196.5 1564.4h.01M216.2 1603.6h.01M205.7 1591.9h.01M219.5 1600.5h.01M210.1 1583.4h.01M223.2 1592.2h.01M205.0 1580.9h.01M215.1 1582.8h.01M196.4 1562.2h.01" stroke="#4B2965" stroke-width="11.6" stroke-linecap="round" fill="none"/>
<path d="M223.1 1579.1h.01M224.2 1568.9h.01M199.6 1557.2h.01M224.0 1588.1h.01M213.5 1553.8h.01M221.1 1576.3h.01M202.5 1559.8h.01M217.1 1577.1h.01M220.7 1567.8h.01M232.3 1582.7h.01M229.8 1587.9h.01M207.5 1560.3h.01M234.7 1580.0h.01M210.8 1558.1h.01M235.9 1584.7h.01M226.3 1589.8h.01M211.6 1551.6h.01M230.3 1579.2h.01M217.1 1574.6h.01" stroke="#4E2A6F" stroke-width="11.6" stroke-linecap="round" fill="none"/>
<path d="M221.9 1543.0h.01M242.9 1574.3h.01M245.6 1570.6h.01M231.7 1553.7h.01M224.9 1542.6h.01M216.9 1555.5h.01M220.3 1548.0h.01M230.2 1563.9h.01M234.4 1569.3h.01M240.7 1567.5h.01M212.9 1547.9h.01M235.4 1556.2h.01M231.7 1565.9h.01M237.6 1574.8h.01M216.4 1548.0h.01M243.6 1573.0h.01M234.1 1558.2h.01M231.1 1560.9h.01M220.1 1552.1h.01M241.0 1573.8h.01M233.8 1565.4h.01M216.9 1549.2h.01M232.2 1560.3h.01M232.7 1557.8h.01M223.5 1562.5h.01" stroke="#502C76" stroke-width="11.6" stroke-linecap="round" fill="none"/>
<path d="M239.7 1553.8h.01M234.2 1551.2h.01M243.7 1554.3h.01M249.7 1558.6h.01M237.9 1538.1h.01M252.0 1553.1h.01M224.9 1541.2h.01M235.3 1549.1h.01M242.7 1559.1h.01M238.8 1545.1h.01M233.2 1542.7h.01M241.7 1550.8h.01M241.7 1551.8h.01M244.5 1556.1h.01M238.5 1552.0h.01M232.5 1541.5h.01M229.9 1535.4h.01M251.3 1559.1h.01M238.8 1540.7h.01M230.5 1537.3h.01M255.4 1556.3h.01M230.9 1542.5h.01" stroke="#4F3178" stroke-width="11.6" stroke-linecap="round" fill="none"/>
<path d="M241.2 1529.9h.01M258.8 1549.2h.01M243.7 1530.9h.01M240.2 1530.9h.01M258.6 1540.7h.01M265.6 1543.7h.01M238.6 1533.5h.01M239.0 1532.5h.01M260.7 1553.7h.01M252.4 1530.8h.01M241.1 1533.2h.01M246.0 1525.9h.01M258.9 1554.4h.01M258.1 1533.6h.01M247.6 1529.0h.01M252.9 1549.6h.01M261.8 1550.5h.01M261.6 1548.3h.01M263.7 1545.4h.01M249.1 1526.9h.01M263.9 1544.8h.01M261.0 1539.7h.01M242.4 1529.9h.01M244.9 1528.1h.01M243.8 1537.1h.01M241.0 1531.8h.01M260.6 1545.7h.01M243.4 1537.1h.01M248.5 1534.5h.01M259.4 1538.4h.01M258.7 1551.1h.01" stroke="#4E367A" stroke-width="11.6" stroke-linecap="round" fill="none"/>
<path d="M260.6 1519.3h.01M265.7 1528.9h.01M260.5 1525.7h.01M271.7 1525.8h.01M248.9 1521.6h.01M271.0 1535.6h.01M261.1 1517.4h.01M263.1 1536.4h.01M268.4 1524.7h.01M272.2 1528.3h.01M262.3 1524.5h.01M277.3 1533.1h.01M261.8 1528.5h.01M258.5 1518.9h.01M265.5 1529.1h.01M271.3 1540.3h.01M269.9 1531.5h.01M248.9 1521.6h.01M274.6 1533.6h.01M273.2 1532.4h.01M276.5 1531.8h.01M268.5 1535.8h.01M253.6 1521.1h.01M264.3 1526.4h.01M265.0 1514.7h.01M267.9 1535.2h.01" stroke="#4E3B7C" stroke-width="11.6" stroke-linecap="round" fill="none"/>
<path d="M275.9 1528.6h.01M287.8 1523.9h.01M274.7 1527.0h.01M267.9 1518.9h.01M265.5 1510.0h.01M284.9 1522.0h.01M263.0 1511.9h.01M285.2 1520.2h.01M269.3 1509.9h.01M272.6 1518.5h.01M266.4 1518.7h.01M282.8 1524.8h.01M277.9 1514.3h.01M272.4 1522.7h.01M279.6 1527.8h.01" stroke="#4D407E" stroke-width="11.6" stroke-linecap="round" fill="none"/>
<path d="M293.8 1518.0h.01M295.9 1512.3h.01M290.5 1518.3h.01M287.8 1504.6h.01M292.0 1522.6h.01M276.3 1501.4h.01M278.4 1509.2h.01M291.6 1514.6h.01M291.2 1521.9h.01M288.6 1522.2h.01M280.0 1497.3h.01M286.7 1515.7h.01M275.3 1501.4h.01M287.7 1517.5h.01M283.5 1503.8h.01M289.4 1513.1h.01M298.2 1512.7h.01" stroke="#4C4480" stroke-width="11.6" stroke-linecap="round" fill="none"/>
<path d="M293.2 1503.8h.01M299.4 1503.5h.01M299.2 1515.0h.01M289.5 1485.4h.01M300.9 1502.1h.01M301.6 1512.9h.01M295.1 1493.8h.01M298.2 1512.8h.01M283.5 1493.8h.01M302.9 1509.4h.01M291.8 1496.0h.01M300.9 1513.3h.01M303.2 1508.7h.01M282.8 1492.0h.01M295.9 1509.0h.01M303.2 1511.3h.01M292.5 1491.2h.01M293.0 1490.1h.01M304.0 1512.3h.01M295.0 1499.3h.01M285.1 1500.2h.01M299.7 1507.0h.01M308.0 1510.2h.01M283.3 1492.1h.01M300.1 1507.5h.01M303.5 1512.3h.01" stroke="#4A4882" stroke-width="11.6" stroke-linecap="round" fill="none"/>
<path d="M305.8 1487.0h.01M299.8 1489.2h.01M294.3 1484.4h.01M296.6 1480.7h.01M296.1 1487.0h.01M301.1 1488.4h.01M303.5 1481.6h.01M317.5 1500.4h.01M302.9 1495.2h.01M308.4 1496.8h.01M297.1 1486.9h.01M297.6 1484.4h.01M294.0 1479.6h.01M299.1 1480.1h.01M317.1 1501.1h.01M314.2 1505.0h.01M319.9 1496.3h.01M303.2 1490.4h.01M311.1 1508.7h.01M313.7 1494.4h.01M293.3 1486.9h.01" stroke="#484B84" stroke-width="11.6" stroke-linecap="round" fill="none"/>
<path d="M303.8 1473.7h.01M333.3 1484.7h.01M327.2 1492.1h.01M305.0 1483.3h.01M324.3 1495.1h.01M306.5 1471.1h.01M313.0 1478.9h.01M325.7 1495.6h.01M305.9 1470.6h.01M327.3 1495.7h.01M300.6 1472.8h.01M335.0 1485.4h.01M324.9 1489.4h.01M331.6 1485.4h.01M317.1 1480.8h.01M299.7 1475.6h.01M317.7 1475.1h.01M307.8 1480.5h.01M318.5 1487.2h.01M312.1 1485.3h.01M308.9 1472.2h.01M317.6 1486.5h.01M307.0 1475.4h.01M328.1 1490.5h.01M333.6 1488.4h.01M327.5 1485.4h.01" stroke="#465084" stroke-width="11.6" stroke-linecap="round" fill="none"/>
<path d="M334.5 1465.5h.01M310.7 1467.5h.01M318.5 1455.1h.01M338.6 1474.2h.01M325.0 1458.0h.01M332.3 1472.4h.01M332.7 1482.0h.01M330.8 1470.8h.01M334.9 1465.3h.01M332.1 1460.3h.01M337.0 1477.1h.01M323.1 1468.1h.01M323.4 1468.8h.01M314.2 1470.4h.01M317.6 1460.3h.01M316.6 1457.7h.01M339.2 1473.3h.01M328.7 1456.7h.01M340.0 1464.5h.01M328.6 1469.1h.01M335.4 1466.0h.01M316.2 1459.6h.01M334.4 1473.5h.01M324.8 1459.8h.01M311.6 1464.5h.01M313.2 1466.0h.01M316.9 1466.8h.01M324.3 1458.4h.01M337.3 1472.0h.01M323.2 1467.4h.01" stroke="#445485" stroke-width="11.6" stroke-linecap="round" fill="none"/>
<path d="M349.2 1439.8h.01M354.9 1442.0h.01M333.1 1442.3h.01M345.1 1457.2h.01M346.3 1452.7h.01M344.7 1437.4h.01M334.0 1433.1h.01M332.3 1447.9h.01M344.7 1460.9h.01M341.8 1433.4h.01M333.6 1432.6h.01M338.3 1446.7h.01M335.7 1432.0h.01M355.1 1446.1h.01M360.0 1474.0h.01M346.2 1427.0h.01M345.1 1436.9h.01M336.9 1435.9h.01M347.9 1452.5h.01M346.3 1456.7h.01M355.4 1446.1h.01M340.8 1436.1h.01M344.4 1448.9h.01M348.1 1443.7h.01M341.3 1450.9h.01" stroke="#415886" stroke-width="11.6" stroke-linecap="round" fill="none"/>
<path d="M376.9 1438.6h.01M356.6 1415.6h.01M375.5 1448.4h.01M376.4 1434.8h.01M369.1 1417.7h.01M365.3 1418.5h.01M380.6 1448.6h.01M360.1 1447.0h.01M360.6 1448.2h.01M364.1 1448.0h.01M366.8 1426.5h.01M358.3 1424.9h.01M376.7 1444.2h.01M357.9 1428.6h.01M379.4 1420.8h.01M378.0 1440.1h.01M357.7 1431.7h.01M357.3 1414.4h.01M370.8 1428.8h.01M365.4 1419.2h.01M357.7 1448.4h.01M367.7 1415.9h.01M376.7 1448.3h.01M362.2 1433.5h.01M352.0 1432.8h.01M367.4 1432.0h.01M387.5 1448.8h.01M331.5 1426.7h.01M357.1 1421.2h.01M382.6 1450.5h.01M359.3 1431.6h.01M328.3 1427.0h.01M358.8 1435.6h.01M360.7 1446.1h.01M323.2 1422.2h.01M370.9 1422.4h.01M369.6 1444.2h.01M366.9 1435.2h.01M374.5 1434.4h.01M362.6 1448.0h.01M323.8 1421.3h.01M370.9 1419.5h.01M331.4 1431.0h.01M318.5 1432.3h.01M356.9 1442.7h.01M367.4 1448.8h.01M365.9 1423.3h.01M318.1 1427.8h.01M360.9 1419.6h.01M359.6 1441.3h.01M322.2 1420.3h.01M377.4 1450.3h.01M367.9 1427.8h.01M331.7 1435.8h.01M367.6 1438.3h.01M326.8 1437.7h.01M378.9 1438.2h.01M367.5 1452.4h.01M359.1 1446.7h.01M368.4 1451.0h.01M365.7 1434.0h.01M328.0 1422.4h.01M384.8 1422.2h.01M360.0 1447.2h.01M326.4 1425.2h.01M360.0 1433.2h.01M376.2 1430.8h.01M374.5 1440.7h.01M373.5 1418.6h.01M382.2 1427.9h.01M369.7 1422.0h.01" stroke="#3F5D86" stroke-width="11.6" stroke-linecap="round" fill="none"/>
<path d="M305.4 1424.0h.01M312.6 1429.1h.01M388.8 1420.4h.01M396.3 1419.2h.01M306.2 1408.3h.01M414.3 1445.2h.01M409.5 1429.7h.01M412.1 1443.9h.01M398.0 1420.4h.01M408.6 1433.1h.01M404.1 1437.1h.01M420.3 1446.1h.01M399.2 1442.3h.01M395.0 1420.6h.01M400.2 1445.0h.01M405.4 1433.7h.01M394.6 1418.9h.01M396.1 1446.7h.01M388.8 1449.0h.01M400.8 1447.2h.01M311.3 1412.4h.01M411.1 1428.2h.01M299.8 1413.3h.01M389.9 1428.2h.01M312.5 1423.8h.01M408.8 1429.5h.01M406.0 1447.7h.01M411.4 1428.4h.01M312.5 1413.2h.01M392.7 1440.6h.01M400.5 1441.1h.01M411.2 1428.9h.01M421.7 1447.9h.01M411.5 1443.5h.01M389.6 1430.9h.01M414.0 1431.2h.01M400.5 1445.1h.01M423.2 1448.7h.01M387.8 1439.1h.01M413.9 1439.0h.01M389.0 1427.8h.01M301.1 1407.5h.01M301.9 1413.9h.01M398.7 1422.7h.01M416.0 1448.0h.01M391.2 1443.4h.01M386.9 1441.3h.01M401.1 1444.4h.01M400.7 1445.3h.01M404.6 1433.8h.01M405.1 1445.5h.01M390.3 1433.1h.01M404.4 1426.8h.01M393.7 1445.6h.01M412.2 1445.4h.01M299.2 1416.4h.01M389.8 1420.7h.01M392.5 1426.1h.01M410.4 1447.3h.01M411.5 1429.8h.01M396.6 1445.3h.01M400.1 1431.6h.01M390.4 1441.4h.01" stroke="#3F6386" stroke-width="11.6" stroke-linecap="round" fill="none"/>
<path d="M433.5 1423.5h.01M449.3 1422.0h.01M428.3 1415.9h.01M440.2 1412.3h.01M296.7 1406.6h.01M451.8 1412.3h.01M432.5 1418.1h.01M284.8 1392.3h.01M439.5 1416.0h.01M441.3 1412.6h.01M281.3 1391.0h.01M437.2 1431.0h.01M419.4 1421.7h.01M444.9 1411.5h.01M421.4 1418.1h.01M454.1 1406.8h.01M436.0 1421.1h.01M274.9 1405.7h.01M441.6 1421.9h.01M288.7 1412.4h.01M424.9 1423.5h.01M436.4 1421.9h.01M291.0 1409.8h.01M281.5 1409.9h.01M295.6 1403.9h.01M431.6 1445.7h.01M289.1 1410.0h.01M428.1 1446.7h.01M280.9 1402.9h.01M292.4 1409.6h.01M429.3 1448.5h.01M299.2 1402.8h.01M423.8 1421.2h.01M438.8 1410.8h.01M423.6 1428.2h.01M447.6 1431.2h.01M454.9 1422.7h.01M443.3 1417.4h.01M437.4 1419.1h.01M441.6 1426.9h.01M430.7 1426.1h.01M280.0 1391.0h.01M293.2 1414.2h.01M279.8 1402.2h.01M284.2 1412.5h.01M441.2 1424.3h.01M416.5 1423.0h.01M456.2 1432.4h.01M443.5 1433.3h.01M287.4 1401.6h.01M279.9 1407.4h.01M289.8 1403.3h.01M431.1 1411.5h.01M444.4 1422.6h.01M455.4 1424.1h.01M427.0 1415.9h.01M450.8 1413.9h.01M276.0 1395.0h.01M417.8 1431.4h.01" stroke="#3E6887" stroke-width="11.6" stroke-linecap="round" fill="none"/>
<path d="M456.9 1404.4h.01M262.8 1400.4h.01M275.1 1387.6h.01M487.4 1434.8h.01M265.5 1397.4h.01M484.0 1432.2h.01M255.2 1390.3h.01M465.6 1421.0h.01M266.1 1380.2h.01M462.9 1422.3h.01M268.8 1402.2h.01M277.6 1391.1h.01M484.7 1414.7h.01M471.4 1433.6h.01M480.7 1420.8h.01M264.4 1390.5h.01M463.8 1420.6h.01M475.3 1427.9h.01M469.8 1426.6h.01M468.4 1434.7h.01M475.7 1417.9h.01M472.1 1433.6h.01M262.5 1378.6h.01M257.0 1388.5h.01M471.3 1428.0h.01M471.4 1418.6h.01M259.0 1391.3h.01M266.5 1392.8h.01M461.7 1425.8h.01M471.4 1432.5h.01M254.6 1379.3h.01M485.6 1407.2h.01M461.7 1430.4h.01M457.2 1412.7h.01M460.0 1416.1h.01M264.6 1381.0h.01M460.8 1435.4h.01M468.4 1427.9h.01M476.6 1417.0h.01M493.2 1419.2h.01M473.0 1405.7h.01M266.7 1402.8h.01M476.2 1426.7h.01M254.1 1394.4h.01M261.0 1395.6h.01M272.2 1391.2h.01M273.3 1389.7h.01M459.1 1426.9h.01M466.2 1411.0h.01M488.1 1407.7h.01M461.7 1431.6h.01M455.1 1416.0h.01M467.7 1413.1h.01M482.1 1428.8h.01M486.9 1428.8h.01M260.4 1394.9h.01M485.3 1413.3h.01M488.8 1432.5h.01M482.4 1423.1h.01M488.6 1416.3h.01M473.8 1408.8h.01M255.0 1366.0h.01M455.9 1410.7h.01" stroke="#3E6E87" stroke-width="11.6" stroke-linecap="round" fill="none"/>
<path d="M513.6 1415.2h.01M244.4 1389.6h.01M528.7 1425.4h.01M495.0 1412.8h.01M514.7 1420.3h.01M498.9 1428.8h.01M495.5 1422.4h.01M513.0 1417.1h.01M250.4 1380.7h.01M244.1 1370.2h.01M526.1 1434.4h.01M534.0 1437.7h.01M511.0 1436.9h.01M530.7 1415.0h.01M254.3 1375.4h.01M524.4 1424.8h.01M505.7 1429.4h.01M513.9 1429.2h.01M520.5 1425.2h.01M509.0 1433.6h.01M495.0 1423.2h.01M245.6 1370.5h.01M238.7 1375.8h.01M502.4 1435.3h.01M522.6 1432.9h.01M504.3 1427.6h.01M234.6 1375.0h.01M528.9 1418.3h.01M510.4 1436.4h.01M247.5 1371.9h.01M237.3 1383.1h.01M503.6 1436.2h.01M518.9 1438.5h.01M500.9 1422.5h.01M239.4 1382.4h.01M249.4 1373.0h.01M501.7 1422.9h.01M499.8 1421.3h.01M522.6 1427.2h.01M245.9 1389.6h.01M518.4 1429.1h.01M519.9 1415.4h.01M241.5 1381.0h.01M498.3 1430.9h.01M245.7 1354.0h.01M228.1 1370.1h.01M533.4 1433.5h.01M505.5 1416.6h.01M232.6 1367.5h.01M503.6 1418.0h.01M228.3 1375.3h.01M520.7 1428.8h.01M233.4 1371.2h.01M505.5 1422.0h.01M518.5 1411.2h.01M519.4 1439.1h.01M234.8 1376.3h.01M226.9 1375.1h.01M525.4 1415.5h.01M242.9 1385.7h.01M254.0 1378.9h.01M501.9 1424.7h.01M513.6 1436.4h.01M510.0 1414.7h.01M523.0 1428.5h.01M520.5 1432.9h.01" stroke="#3D7488" stroke-width="11.6" stroke-linecap="round" fill="none"/>
<path d="M540.2 1431.6h.01M541.0 1418.1h.01M545.5 1418.1h.01M554.0 1429.4h.01M547.8 1434.4h.01M545.3 1427.8h.01M225.4 1395.0h.01M542.1 1423.6h.01M537.0 1424.3h.01M222.7 1376.9h.01M544.6 1436.0h.01M215.7 1367.7h.01M214.1 1341.2h.01M540.2 1418.9h.01M547.0 1438.0h.01M214.0 1379.5h.01M535.8 1435.9h.01M228.8 1370.2h.01M224.6 1381.2h.01M535.5 1420.9h.01M535.7 1416.0h.01M533.2 1412.6h.01M216.5 1363.3h.01M543.5 1423.5h.01M222.0 1372.2h.01M212.8 1374.3h.01M533.7 1416.6h.01M212.3 1339.5h.01M544.2 1419.4h.01M213.1 1372.0h.01M547.4 1418.9h.01M547.3 1435.8h.01M544.7 1434.0h.01M555.1 1431.8h.01M215.4 1371.2h.01" stroke="#3E7B88" stroke-width="11.6" stroke-linecap="round" fill="none"/>
<path d="M204.3 1352.8h.01M204.7 1375.3h.01M203.3 1378.1h.01M195.7 1341.3h.01M208.5 1356.5h.01M202.6 1368.3h.01M190.3 1361.0h.01M205.9 1357.7h.01M197.6 1366.4h.01M190.9 1328.4h.01M189.7 1355.5h.01M199.7 1383.1h.01M205.7 1337.4h.01M210.4 1351.5h.01M195.1 1354.9h.01M191.7 1325.3h.01M207.7 1368.9h.01M188.0 1337.3h.01M189.3 1367.9h.01M210.0 1383.7h.01M198.8 1376.6h.01M207.2 1336.2h.01M201.2 1333.0h.01M188.9 1381.4h.01M192.7 1352.7h.01M203.2 1352.8h.01M191.9 1330.8h.01M209.5 1333.2h.01M192.4 1348.5h.01M196.2 1335.5h.01M209.3 1348.8h.01M203.3 1375.3h.01M195.5 1374.7h.01M188.9 1373.9h.01M199.5 1339.4h.01M203.8 1350.2h.01M202.4 1381.1h.01M198.8 1375.1h.01M199.4 1326.4h.01M204.0 1381.3h.01M195.3 1340.2h.01M190.9 1354.9h.01M205.2 1361.2h.01M196.2 1364.5h.01M204.5 1351.2h.01M204.7 1346.0h.01M206.9 1337.5h.01M197.5 1378.7h.01M209.3 1365.6h.01M204.7 1374.5h.01M193.6 1351.4h.01M201.6 1329.6h.01M189.1 1326.7h.01M198.2 1326.8h.01M208.7 1334.5h.01M188.2 1347.8h.01M188.6 1364.2h.01M202.2 1370.4h.01M200.1 1383.0h.01M202.0 1354.7h.01M197.6 1359.7h.01M192.2 1376.8h.01M206.1 1332.9h.01M197.0 1329.6h.01M202.3 1351.6h.01M193.6 1368.1h.01M199.2 1326.2h.01M188.9 1372.2h.01M192.8 1364.9h.01M200.6 1375.4h.01M190.6 1368.5h.01M208.5 1355.8h.01M192.7 1343.9h.01M207.5 1363.6h.01M211.2 1364.4h.01M190.9 1356.8h.01M202.2 1347.5h.01M194.1 1340.5h.01" stroke="#3F8289" stroke-width="11.6" stroke-linecap="round" fill="none"/>
<path d="M173.7 1334.4h.01M172.0 1343.7h.01M176.4 1333.2h.01M175.9 1361.1h.01M578.5 1444.3h.01M581.0 1442.5h.01M164.7 1364.2h.01M178.9 1332.7h.01M560.1 1446.3h.01M581.1 1446.8h.01M186.6 1379.9h.01M584.5 1446.3h.01M165.3 1342.4h.01M582.9 1450.8h.01M176.0 1322.4h.01M572.1 1440.2h.01M185.5 1325.2h.01M187.3 1329.4h.01M180.4 1350.1h.01M172.0 1360.8h.01M183.7 1355.7h.01M175.4 1363.8h.01M186.1 1331.5h.01M169.2 1335.4h.01M583.5 1445.1h.01M175.4 1333.1h.01M180.2 1326.3h.01M584.5 1452.6h.01M590.1 1434.5h.01M165.4 1338.2h.01M185.1 1361.4h.01M176.1 1349.1h.01M174.5 1321.0h.01M187.3 1335.5h.01M179.4 1381.0h.01M180.5 1346.2h.01M566.9 1446.1h.01M166.1 1360.4h.01M172.0 1338.6h.01M171.4 1345.8h.01M168.4 1353.1h.01M176.5 1371.9h.01M186.7 1380.2h.01M167.3 1371.5h.01M165.8 1355.6h.01M176.7 1357.4h.01M166.3 1314.0h.01M577.9 1438.6h.01M579.8 1441.0h.01M169.8 1327.8h.01M170.1 1347.3h.01M174.1 1352.3h.01M172.7 1381.0h.01M589.5 1429.2h.01M185.8 1368.4h.01M180.0 1377.8h.01M185.9 1369.2h.01M167.2 1314.0h.01M187.0 1347.8h.01M166.4 1374.0h.01M184.7 1326.9h.01M571.4 1447.6h.01M179.0 1351.3h.01M590.1 1429.1h.01M181.5 1376.9h.01M180.0 1339.4h.01M168.4 1375.7h.01M166.1 1369.2h.01M182.8 1323.3h.01M169.4 1319.2h.01M173.3 1320.4h.01M177.8 1324.2h.01M187.4 1377.3h.01M185.3 1382.2h.01M184.9 1356.1h.01M174.0 1364.5h.01M164.8 1365.1h.01M177.9 1379.4h.01M180.6 1377.4h.01M173.7 1349.8h.01M167.4 1316.6h.01M168.1 1317.9h.01M185.2 1320.7h.01M168.3 1351.1h.01M166.8 1359.2h.01M170.7 1343.7h.01M175.3 1331.5h.01M184.7 1366.6h.01M174.7 1340.5h.01M564.5 1443.9h.01M184.7 1341.8h.01M169.5 1341.1h.01M576.8 1449.3h.01M568.7 1438.1h.01M177.7 1318.0h.01M579.3 1436.4h.01M166.8 1354.7h.01M572.0 1450.8h.01M171.9 1378.4h.01M170.8 1341.8h.01M167.8 1345.2h.01M584.1 1448.4h.01M180.2 1317.6h.01M582.2 1433.9h.01M166.8 1356.3h.01M177.3 1357.6h.01M164.7 1363.0h.01" stroke="#418A89" stroke-width="11.6" stroke-linecap="round" fill="none"/>
<path d="M163.0 1327.3h.01M155.1 1328.6h.01M150.2 1332.8h.01M601.0 1445.4h.01M150.5 1347.1h.01M151.8 1353.8h.01M142.5 1371.3h.01M608.0 1455.3h.01M147.5 1357.2h.01M151.8 1338.8h.01M595.7 1444.8h.01M154.5 1368.0h.01M152.4 1345.2h.01M158.7 1322.8h.01M597.8 1444.4h.01M590.0 1442.0h.01M160.0 1319.5h.01M603.0 1447.8h.01M594.3 1436.8h.01M159.0 1375.5h.01M148.8 1325.0h.01M606.7 1430.5h.01M601.2 1439.0h.01M605.1 1453.2h.01M158.4 1325.9h.01M144.2 1342.9h.01M149.0 1362.6h.01M158.9 1343.9h.01M156.6 1335.8h.01M160.7 1376.2h.01M599.0 1439.4h.01M151.0 1368.7h.01M153.7 1336.0h.01M160.2 1359.3h.01M144.3 1326.6h.01M601.7 1438.4h.01M159.7 1328.3h.01M161.5 1334.4h.01M593.8 1442.8h.01M143.4 1347.3h.01M605.9 1442.9h.01M157.2 1341.5h.01M157.5 1366.9h.01M609.8 1450.5h.01M610.3 1454.9h.01M159.8 1360.6h.01M591.2 1443.7h.01M154.5 1353.1h.01M159.7 1340.3h.01M148.2 1373.9h.01M592.8 1436.1h.01M606.2 1450.6h.01M604.0 1446.8h.01M604.6 1447.7h.01M147.5 1327.9h.01M153.9 1326.8h.01M599.9 1440.5h.01M155.2 1347.8h.01M158.1 1340.7h.01M606.7 1452.9h.01M596.9 1445.6h.01M592.2 1438.8h.01M598.5 1437.0h.01M596.5 1451.3h.01M147.4 1361.4h.01M606.0 1431.0h.01M590.1 1441.0h.01M599.4 1436.0h.01M149.5 1351.2h.01M156.5 1340.0h.01M145.2 1370.4h.01M143.9 1328.6h.01M157.7 1347.4h.01M147.1 1356.0h.01M151.3 1320.3h.01M157.3 1319.3h.01M163.2 1357.8h.01M162.3 1316.7h.01M584.6 1452.8h.01M142.1 1359.0h.01M142.2 1325.9h.01M160.5 1324.6h.01M143.7 1358.1h.01M161.5 1376.0h.01M141.5 1354.7h.01M158.2 1368.2h.01M141.0 1350.6h.01M155.3 1358.7h.01M162.7 1334.9h.01M158.2 1358.6h.01M161.4 1367.4h.01M156.6 1377.6h.01M595.4 1431.3h.01M153.0 1324.4h.01M159.8 1364.3h.01M584.1 1453.4h.01M160.4 1323.2h.01M155.5 1347.2h.01" stroke="#42918A" stroke-width="11.6" stroke-linecap="round" fill="none"/>
<path d="M640.3 1434.8h.01M634.0 1452.8h.01M626.8 1450.4h.01M627.6 1425.4h.01M624.7 1452.8h.01M633.8 1453.3h.01M616.7 1453.7h.01M628.0 1432.0h.01M137.5 1353.7h.01M617.7 1455.9h.01M631.7 1452.9h.01M639.7 1433.4h.01M618.5 1453.9h.01M637.4 1446.6h.01M630.9 1441.9h.01M624.5 1452.4h.01M611.7 1440.8h.01M624.0 1454.3h.01M632.8 1430.8h.01M636.3 1439.3h.01M613.5 1443.6h.01M140.2 1355.4h.01M623.8 1445.7h.01M613.0 1445.5h.01M137.6 1358.7h.01M619.7 1454.8h.01M627.9 1445.3h.01M633.5 1452.7h.01M628.7 1436.2h.01M632.4 1451.2h.01M624.2 1443.7h.01M629.5 1451.3h.01M627.6 1431.7h.01M640.5 1452.6h.01M138.7 1359.7h.01M621.9 1449.9h.01M635.8 1427.8h.01M139.9 1360.9h.01M626.0 1454.0h.01M634.7 1431.3h.01M637.5 1440.0h.01M624.3 1455.0h.01M629.7 1428.1h.01M624.2 1451.1h.01M624.6 1447.8h.01M620.1 1435.6h.01M637.4 1444.3h.01M626.8 1427.0h.01M639.1 1431.6h.01M618.2 1446.2h.01M129.5 1356.0h.01M620.1 1454.3h.01M136.6 1357.3h.01M635.5 1445.2h.01M625.7 1456.7h.01M636.3 1452.0h.01M641.3 1434.4h.01M620.8 1436.7h.01M138.9 1352.4h.01M625.8 1455.3h.01M630.5 1439.0h.01M623.6 1456.6h.01M635.1 1447.1h.01M612.4 1447.9h.01" stroke="#44988A" stroke-width="11.6" stroke-linecap="round" fill="none"/>
<path d="M647.6 1436.6h.01M655.0 1447.7h.01M659.9 1454.9h.01M646.5 1434.2h.01M645.0 1443.9h.01M648.3 1450.5h.01M655.3 1455.7h.01M647.2 1443.3h.01" stroke="#46A18B" stroke-width="11.6" stroke-linecap="round" fill="none"/>
<path d="M672.1 1445.4h.01M667.7 1449.2h.01M670.5 1479.8h.01M671.6 1438.7h.01M669.7 1466.2h.01M672.6 1475.5h.01M670.0 1478.2h.01M661.8 1445.4h.01M662.4 1448.1h.01M664.1 1449.9h.01M667.0 1440.3h.01M658.6 1444.4h.01M670.2 1470.1h.01M663.4 1446.8h.01M660.9 1451.4h.01M672.7 1471.4h.01M657.9 1448.3h.01M664.8 1449.7h.01M672.2 1440.0h.01M658.6 1450.6h.01M665.5 1478.3h.01M673.6 1443.3h.01M673.6 1440.9h.01M664.1 1438.8h.01M670.4 1439.4h.01M667.8 1475.1h.01M666.9 1481.2h.01M667.5 1477.8h.01M666.6 1468.9h.01M664.8 1450.5h.01" stroke="#49A98A" stroke-width="11.6" stroke-linecap="round" fill="none"/>
<path d="M682.0 1439.4h.01M675.8 1431.9h.01M684.1 1436.7h.01M679.6 1491.1h.01M661.2 1496.7h.01M665.5 1495.9h.01M665.6 1491.4h.01M687.3 1433.6h.01M676.6 1501.7h.01M668.3 1480.8h.01M683.0 1492.7h.01M664.9 1495.7h.01M676.2 1438.4h.01M686.5 1430.6h.01M666.4 1484.2h.01M687.7 1436.4h.01M685.0 1436.8h.01M674.5 1488.2h.01M682.8 1431.2h.01M680.8 1441.0h.01M668.6 1498.2h.01M678.2 1437.4h.01M682.7 1490.4h.01" stroke="#52B084" stroke-width="11.6" stroke-linecap="round" fill="none"/>
<path d="M662.2 1515.3h.01M651.1 1508.3h.01M690.1 1429.8h.01M683.9 1513.6h.01M665.2 1523.7h.01M659.9 1510.3h.01M644.4 1517.1h.01M669.7 1514.4h.01M659.4 1514.3h.01M663.2 1525.0h.01M712.0 1410.8h.01M667.7 1525.2h.01M673.4 1503.7h.01M692.4 1431.7h.01M694.0 1427.8h.01M664.0 1517.6h.01M687.8 1429.3h.01M701.5 1430.3h.01M683.8 1515.9h.01M657.2 1524.9h.01M667.8 1519.4h.01M680.3 1510.4h.01M652.9 1514.3h.01M697.6 1430.8h.01M683.0 1516.6h.01M646.4 1509.0h.01M650.0 1523.5h.01M697.0 1432.0h.01M667.6 1518.4h.01M645.1 1516.5h.01M677.8 1512.0h.01M712.5 1409.2h.01M679.9 1521.7h.01M694.1 1427.4h.01M677.4 1512.7h.01M676.4 1513.2h.01M682.7 1512.3h.01M660.5 1498.1h.01M708.0 1413.2h.01M686.3 1513.8h.01M659.9 1523.7h.01M685.2 1515.1h.01M682.3 1523.0h.01M696.9 1428.5h.01M648.6 1522.9h.01M686.3 1519.0h.01M686.3 1515.7h.01M650.2 1523.1h.01" stroke="#5BB77E" stroke-width="11.6" stroke-linecap="round" fill="none"/>
<path d="M708.4 1425.1h.01M655.6 1530.4h.01M724.2 1418.2h.01M655.0 1536.0h.01M659.3 1544.4h.01M671.8 1538.2h.01M715.1 1429.9h.01M720.2 1427.2h.01M674.8 1534.7h.01M661.4 1546.8h.01M717.3 1428.1h.01M713.6 1428.8h.01M717.8 1421.5h.01M712.9 1424.3h.01M721.3 1418.0h.01M660.6 1544.2h.01M719.5 1422.0h.01M673.0 1538.8h.01M715.2 1420.2h.01M648.8 1546.6h.01M708.6 1422.5h.01M682.6 1546.6h.01M723.2 1414.7h.01M711.3 1417.1h.01M682.8 1535.6h.01M725.8 1424.9h.01M652.4 1541.7h.01M715.2 1412.7h.01M716.9 1417.5h.01M650.3 1535.9h.01M715.9 1429.6h.01M663.8 1534.9h.01M717.1 1412.4h.01M675.5 1538.5h.01M726.0 1422.0h.01M717.2 1427.0h.01M682.0 1531.8h.01M722.0 1426.6h.01M712.9 1417.0h.01M715.3 1425.4h.01M718.3 1415.5h.01M724.3 1423.9h.01M711.9 1420.5h.01M672.1 1546.3h.01M669.4 1533.2h.01M650.4 1533.7h.01M713.1 1430.3h.01M712.2 1420.3h.01M726.9 1426.3h.01M724.5 1427.2h.01M723.0 1420.1h.01M666.5 1538.1h.01M659.5 1535.3h.01M652.6 1538.9h.01M651.6 1533.9h.01M668.7 1545.0h.01M708.5 1415.3h.01M719.2 1420.3h.01M710.6 1423.1h.01M711.6 1424.1h.01M718.9 1416.7h.01M709.9 1415.7h.01M653.3 1538.0h.01M711.0 1413.9h.01M707.7 1414.4h.01M721.7 1424.0h.01M721.3 1426.7h.01M712.5 1427.5h.01M666.9 1531.3h.01M679.2 1541.2h.01M657.9 1545.7h.01M656.3 1532.5h.01M684.7 1542.8h.01M647.1 1540.0h.01M661.3 1537.8h.01" stroke="#64BE77" stroke-width="11.6" stroke-linecap="round" fill="none"/>
<path d="M654.0 1555.8h.01M719.0 1431.8h.01M675.3 1549.8h.01M655.5 1555.2h.01M679.9 1556.3h.01M658.1 1552.5h.01M680.5 1555.0h.01M653.9 1554.2h.01M717.9 1432.0h.01M673.0 1560.2h.01M651.7 1558.3h.01M666.4 1553.5h.01M654.5 1560.3h.01M675.8 1558.0h.01M673.7 1551.0h.01M679.6 1561.4h.01M652.3 1556.6h.01M656.1 1555.6h.01M681.8 1557.2h.01M679.4 1548.3h.01M661.6 1559.4h.01M675.3 1556.1h.01" stroke="#6DC571" stroke-width="11.6" stroke-linecap="round" fill="none"/>
<path d="M667.7 1576.0h.01M681.6 1564.0h.01M657.1 1564.0h.01M658.5 1568.2h.01M675.1 1579.0h.01M672.5 1577.3h.01M658.6 1570.6h.01M678.2 1572.2h.01M667.1 1576.2h.01M667.6 1578.7h.01M652.0 1567.2h.01" stroke="#75C967" stroke-width="11.6" stroke-linecap="round" fill="none"/>
<path d="M658.8 1590.1h.01M655.5 1589.7h.01M669.2 1594.8h.01M670.1 1589.7h.01M675.4 1582.8h.01M668.3 1583.4h.01M656.7 1590.6h.01M661.8 1590.1h.01M657.1 1588.1h.01M652.3 1585.2h.01M660.6 1587.2h.01M660.8 1577.7h.01M660.7 1580.3h.01M669.2 1586.8h.01M647.6 1582.8h.01M652.4 1585.4h.01M668.0 1589.4h.01M667.6 1586.6h.01M666.7 1584.6h.01M649.1 1581.6h.01M675.3 1597.6h.01M668.8 1584.2h.01M662.5 1585.8h.01M673.6 1598.3h.01M667.6 1596.2h.01M669.9 1595.1h.01" stroke="#7DCE5E" stroke-width="11.6" stroke-linecap="round" fill="none"/>
<path d="M669.7 1605.4h.01M639.6 1596.8h.01M648.2 1592.7h.01M652.2 1604.1h.01M650.7 1611.2h.01M666.7 1601.4h.01M655.1 1598.0h.01M638.9 1597.9h.01M651.9 1601.1h.01M639.9 1605.6h.01M641.1 1593.1h.01M642.7 1598.2h.01M654.5 1604.4h.01M665.9 1599.4h.01M643.3 1601.5h.01M668.8 1607.2h.01M638.4 1606.8h.01M655.5 1602.3h.01M648.5 1598.8h.01M650.9 1599.5h.01M662.8 1603.2h.01M654.1 1610.3h.01M644.0 1599.0h.01M643.6 1590.0h.01M643.9 1591.2h.01" stroke="#84D355" stroke-width="11.6" stroke-linecap="round" fill="none"/>
<path d="M632.2 1620.0h.01M632.0 1626.0h.01M659.0 1628.1h.01M651.7 1628.3h.01M659.6 1633.7h.01M631.5 1615.5h.01M662.8 1625.0h.01M647.5 1617.7h.01M648.9 1615.0h.01M662.5 1619.7h.01M637.2 1630.7h.01M647.0 1621.3h.01M659.3 1622.1h.01M657.2 1620.8h.01M665.5 1618.5h.01M645.7 1624.0h.01M635.4 1616.3h.01M637.9 1623.6h.01M636.1 1624.8h.01M657.5 1619.5h.01M631.6 1621.4h.01M641.9 1614.9h.01M634.4 1615.2h.01M658.0 1617.9h.01" stroke="#8FD650" stroke-width="11.6" stroke-linecap="round" fill="none"/>
<path d="M645.2 1647.2h.01M629.9 1633.0h.01M641.9 1650.4h.01M644.1 1652.8h.01M640.2 1634.6h.01M638.4 1640.5h.01M651.7 1653.3h.01M649.1 1635.5h.01M649.2 1647.3h.01M642.3 1640.1h.01M636.1 1638.3h.01M627.8 1638.6h.01M638.7 1643.3h.01M657.3 1642.5h.01M638.7 1639.4h.01M649.3 1651.3h.01M634.5 1637.6h.01M638.7 1644.7h.01M653.6 1641.9h.01M646.5 1635.4h.01M656.1 1639.2h.01M654.9 1643.6h.01M649.7 1652.8h.01M635.3 1636.2h.01M648.7 1648.2h.01M628.5 1646.4h.01M637.7 1649.0h.01M659.0 1636.9h.01M648.2 1646.1h.01M631.1 1633.5h.01M654.8 1646.1h.01M648.9 1650.9h.01M640.3 1634.8h.01" stroke="#9AD84D" stroke-width="11.6" stroke-linecap="round" fill="none"/>
<path d="M625.5 1658.8h.01M639.3 1652.8h.01M638.2 1653.1h.01M630.6 1661.1h.01M629.4 1648.8h.01M638.3 1653.2h.01M628.3 1649.4h.01M635.5 1654.2h.01M638.2 1670.5h.01M640.1 1667.0h.01M645.9 1657.4h.01M633.2 1660.0h.01M639.4 1659.0h.01M626.0 1652.9h.01M647.5 1664.8h.01M639.5 1668.1h.01M632.8 1663.6h.01M629.8 1650.4h.01M640.1 1652.8h.01M638.3 1670.1h.01M634.7 1664.4h.01M633.2 1658.4h.01M624.4 1657.5h.01M645.0 1658.3h.01" stroke="#A5DA4A" stroke-width="11.6" stroke-linecap="round" fill="none"/>
<path d="M614.0 1665.8h.01M613.3 1668.0h.01M619.9 1670.3h.01M615.2 1678.9h.01M624.1 1663.6h.01M622.5 1678.1h.01M629.6 1680.3h.01M618.8 1660.9h.01M636.5 1680.2h.01M613.5 1670.3h.01M615.5 1667.9h.01M613.6 1672.3h.01M634.1 1678.5h.01M633.4 1685.8h.01M637.9 1676.9h.01M613.3 1668.2h.01M630.4 1681.3h.01M611.1 1670.3h.01M622.8 1674.7h.01M633.8 1685.3h.01M637.7 1680.8h.01" stroke="#B5DC4B" stroke-width="11.6" stroke-linecap="round" fill="none"/>
<path d="M611.3 1693.7h.01M631.5 1692.5h.01M611.8 1684.2h.01M624.0 1696.0h.01M605.1 1685.6h.01M625.8 1690.4h.01M623.2 1691.7h.01M604.1 1700.0h.01M624.4 1707.0h.01M605.4 1685.4h.01M628.4 1691.0h.01M620.3 1699.1h.01M611.4 1692.5h.01M624.9 1706.2h.01M608.6 1680.1h.01M604.6 1685.0h.01M623.5 1690.8h.01M624.4 1689.6h.01M614.3 1697.7h.01M627.0 1702.7h.01M599.1 1693.7h.01M607.2 1699.3h.01M604.2 1689.5h.01M614.2 1683.6h.01M605.6 1683.7h.01M627.7 1700.2h.01M624.0 1702.5h.01" stroke="#C4DE4C" stroke-width="11.6" stroke-linecap="round" fill="none"/>
<path d="M614.1 1719.9h.01M589.9 1718.9h.01M609.4 1720.3h.01M598.6 1720.2h.01M615.2 1710.9h.01M591.8 1712.1h.01M609.4 1720.6h.01M620.1 1717.6h.01M592.5 1712.8h.01M604.7 1720.6h.01M608.1 1711.2h.01M615.0 1714.1h.01M615.7 1716.8h.01M588.9 1711.2h.01M601.9 1714.0h.01M597.9 1699.3h.01M596.7 1702.1h.01M602.7 1717.8h.01M606.6 1721.8h.01M620.3 1712.8h.01M598.8 1704.5h.01M618.3 1722.3h.01M616.0 1712.1h.01M591.4 1707.6h.01M606.3 1716.3h.01M614.8 1729.4h.01M588.5 1713.4h.01M616.6 1715.0h.01M607.0 1705.3h.01" stroke="#D1DF4B" stroke-width="11.6" stroke-linecap="round" fill="none"/>
<path d="M588.2 1749.7h.01M604.3 1733.6h.01M586.0 1717.9h.01M574.2 1724.6h.01M590.0 1754.0h.01M579.4 1728.9h.01M588.4 1743.1h.01M605.3 1735.3h.01M599.4 1751.4h.01M605.1 1742.8h.01M601.5 1745.2h.01M598.8 1741.7h.01M583.6 1719.9h.01M596.0 1749.6h.01M587.1 1720.7h.01M589.1 1737.3h.01M601.4 1726.0h.01M584.4 1720.6h.01M590.4 1734.5h.01M597.8 1751.2h.01M580.9 1730.6h.01M597.4 1750.4h.01M585.9 1747.0h.01M591.3 1738.0h.01M572.4 1726.2h.01M583.0 1740.6h.01M576.6 1728.4h.01M605.0 1736.1h.01M602.5 1740.8h.01M599.7 1741.0h.01M569.7 1730.6h.01M597.7 1750.1h.01M607.2 1735.5h.01M588.9 1722.5h.01M598.5 1742.9h.01" stroke="#D7DD48" stroke-width="11.6" stroke-linecap="round" fill="none"/>
<path d="M578.6 1771.2h.01M580.1 1752.9h.01M577.9 1767.3h.01M589.3 1762.1h.01M588.5 1767.2h.01M562.1 1741.4h.01M565.3 1750.8h.01M591.6 1762.8h.01M562.4 1748.7h.01M558.5 1747.5h.01M564.6 1755.4h.01M578.7 1765.3h.01M582.0 1761.5h.01M583.0 1748.9h.01M565.0 1741.7h.01M579.2 1748.6h.01M567.0 1730.0h.01M584.6 1756.8h.01M563.4 1737.5h.01M563.0 1744.2h.01M585.8 1767.3h.01M577.0 1766.7h.01M581.8 1769.4h.01M571.6 1764.4h.01M571.3 1758.7h.01M561.7 1749.3h.01M573.4 1744.3h.01M585.8 1752.5h.01M563.3 1744.1h.01M593.5 1756.7h.01M586.6 1765.2h.01M565.9 1757.6h.01M555.6 1741.5h.01M588.6 1766.1h.01M564.4 1732.3h.01M586.5 1754.0h.01M587.4 1756.9h.01M579.8 1767.2h.01M575.4 1762.6h.01M578.2 1747.7h.01M588.0 1761.1h.01M553.5 1740.8h.01M587.4 1751.2h.01M566.2 1731.8h.01" stroke="#DDDA46" stroke-width="11.6" stroke-linecap="round" fill="none"/>
<path d="M553.2 1747.5h.01M570.5 1776.6h.01M568.0 1775.7h.01M560.3 1769.4h.01M559.4 1761.6h.01M547.5 1752.4h.01M560.1 1777.4h.01M567.4 1778.1h.01M546.9 1761.9h.01M558.1 1759.7h.01M558.0 1754.1h.01M573.0 1770.9h.01M562.1 1755.8h.01M543.4 1756.0h.01M544.1 1754.1h.01M550.1 1747.7h.01M548.6 1758.8h.01M542.6 1754.2h.01M563.2 1780.8h.01M566.7 1760.6h.01M554.1 1752.7h.01M568.1 1779.4h.01M574.7 1773.9h.01M548.2 1754.2h.01M545.0 1751.4h.01" stroke="#E3D843" stroke-width="11.6" stroke-linecap="round" fill="none"/>
<path d="M541.0 1758.0h.01M554.1 1775.1h.01M541.7 1761.6h.01M539.7 1771.1h.01M538.6 1758.3h.01M555.5 1781.4h.01M544.4 1769.0h.01M557.3 1785.9h.01M547.5 1774.1h.01M541.0 1757.3h.01M536.1 1760.6h.01M541.5 1767.4h.01M538.2 1762.4h.01M545.7 1783.4h.01M542.5 1769.0h.01M545.7 1770.7h.01M562.8 1783.7h.01M545.6 1778.5h.01M548.5 1777.6h.01M542.2 1764.5h.01" stroke="#E9D540" stroke-width="11.6" stroke-linecap="round" fill="none"/>
<path d="M544.9 1751.1h.01M538.9 1760.8h.01M539.4 1773.8h.01M544.2 1781.5h.01M548.8 1782.5h.01M565.3 1781.1h.01M561.1 1783.5h.01M551.8 1784.5h.01M541.8 1774.2h.01M553.9 1786.4h.01M538.2 1759.9h.01M564.4 1786.0h.01M558.5 1766.3h.01M542.3 1772.3h.01M545.4 1750.1h.01M552.0 1762.8h.01M535.8 1758.4h.01M567.3 1781.6h.01M562.4 1786.7h.01M553.9 1762.5h.01M547.4 1752.1h.01M544.4 1770.4h.01M560.4 1766.6h.01M553.5 1787.7h.01M556.2 1762.1h.01M543.3 1769.2h.01M539.1 1770.8h.01M555.1 1772.0h.01M533.5 1767.5h.01" stroke="#E6D642" stroke-width="11.6" stroke-linecap="round" fill="none"/>
<path d="M560.1 1746.9h.01M558.9 1756.0h.01M574.7 1752.7h.01M576.9 1775.9h.01M575.5 1769.5h.01M562.7 1740.6h.01M557.1 1741.0h.01M567.9 1746.1h.01M577.5 1757.4h.01M563.8 1751.0h.01M561.7 1752.0h.01M565.1 1754.2h.01M578.8 1762.0h.01M578.7 1772.1h.01M568.2 1749.3h.01M567.4 1745.8h.01M579.5 1760.2h.01M563.3 1768.7h.01M554.4 1750.8h.01M561.5 1759.6h.01M554.5 1738.6h.01M578.1 1772.4h.01M557.6 1740.5h.01M574.8 1771.5h.01M558.5 1746.8h.01M577.2 1762.1h.01" stroke="#E0D944" stroke-width="11.6" stroke-linecap="round" fill="none"/>
<path d="M573.0 1728.9h.01M586.4 1753.7h.01M581.6 1730.0h.01M565.2 1735.2h.01M594.7 1739.6h.01M593.5 1749.4h.01M585.5 1763.9h.01M589.0 1758.0h.01M593.9 1756.3h.01M586.8 1767.5h.01M591.8 1759.9h.01M566.4 1734.1h.01M596.9 1749.9h.01M592.9 1757.8h.01M575.9 1726.1h.01M578.1 1745.9h.01M575.6 1723.0h.01M587.9 1757.7h.01M573.5 1748.1h.01M563.9 1731.0h.01M575.4 1743.9h.01M574.4 1724.6h.01M579.1 1750.0h.01M602.0 1748.3h.01M568.7 1728.5h.01M580.2 1740.9h.01M587.6 1763.8h.01M585.9 1730.3h.01M570.1 1739.2h.01M589.8 1749.4h.01M597.6 1753.6h.01M592.4 1748.5h.01M573.2 1733.5h.01M574.0 1727.0h.01M591.2 1743.6h.01M585.8 1730.4h.01M575.4 1728.7h.01M581.5 1740.3h.01M574.9 1720.8h.01M569.6 1730.0h.01M582.7 1728.5h.01M586.6 1759.4h.01M573.5 1742.5h.01M599.0 1750.4h.01M599.9 1748.9h.01M583.7 1731.2h.01" stroke="#DADB47" stroke-width="11.6" stroke-linecap="round" fill="none"/>
<path d="M582.3 1727.0h.01M613.9 1724.5h.01M604.7 1734.8h.01M596.6 1716.2h.01M614.2 1727.0h.01M593.7 1728.1h.01M590.0 1717.6h.01M600.7 1730.1h.01M601.0 1730.7h.01M587.6 1718.1h.01M592.1 1713.1h.01M599.6 1742.3h.01M602.6 1736.4h.01M587.8 1728.4h.01M585.5 1715.8h.01M601.3 1728.8h.01M610.3 1733.1h.01M599.0 1724.8h.01M582.8 1726.2h.01M596.5 1725.1h.01M589.9 1707.6h.01M588.5 1718.5h.01M609.6 1720.7h.01M611.6 1730.9h.01M601.3 1714.4h.01M604.8 1745.1h.01" stroke="#D4DE4A" stroke-width="11.6" stroke-linecap="round" fill="none"/>
<path d="M626.9 1703.7h.01M596.5 1698.3h.01M605.2 1705.6h.01M620.7 1715.7h.01M607.8 1707.1h.01M619.9 1702.0h.01M617.3 1696.5h.01M604.8 1697.2h.01M596.2 1702.0h.01M602.3 1700.6h.01M596.9 1702.5h.01M601.1 1694.9h.01M623.6 1700.0h.01M594.6 1708.3h.01M625.9 1705.9h.01M605.3 1707.7h.01M625.2 1703.7h.01M604.3 1691.1h.01M603.8 1705.5h.01M598.1 1704.0h.01M610.8 1698.7h.01M624.0 1701.5h.01M612.7 1695.9h.01M599.6 1710.1h.01M601.5 1702.3h.01M620.5 1717.8h.01M606.2 1713.6h.01M614.0 1704.7h.01M605.0 1697.8h.01M595.6 1701.1h.01" stroke="#CCE04C" stroke-width="11.6" stroke-linecap="round" fill="none"/>
<path d="M634.5 1682.7h.01M611.1 1672.6h.01M629.3 1683.9h.01M611.0 1678.0h.01M636.2 1682.6h.01M619.0 1687.0h.01M614.4 1678.8h.01M611.6 1684.2h.01M634.9 1683.8h.01M611.2 1678.8h.01M604.4 1688.5h.01M634.6 1685.1h.01M633.5 1681.2h.01M618.9 1690.3h.01M623.5 1675.6h.01M616.0 1675.0h.01M604.8 1687.6h.01M631.9 1688.5h.01M625.2 1676.5h.01M625.9 1683.6h.01M615.2 1682.5h.01M635.9 1682.8h.01M622.6 1687.5h.01M610.8 1675.2h.01M611.1 1676.7h.01" stroke="#BDDD4B" stroke-width="11.6" stroke-linecap="round" fill="none"/>
<path d="M628.1 1664.3h.01M625.8 1664.7h.01M618.8 1662.5h.01M627.3 1664.5h.01M634.2 1660.0h.01M630.8 1668.0h.01M630.7 1670.5h.01M645.1 1674.4h.01M635.3 1673.8h.01M632.0 1660.2h.01M634.4 1674.7h.01M626.7 1668.9h.01M641.7 1668.7h.01M628.7 1671.4h.01M621.9 1656.0h.01M627.8 1668.8h.01M639.0 1669.0h.01M623.6 1659.6h.01M627.8 1662.8h.01M644.4 1665.2h.01M638.1 1675.5h.01M633.2 1663.1h.01" stroke="#ADDB4A" stroke-width="11.6" stroke-linecap="round" fill="none"/>
<path d="M636.6 1656.5h.01M629.0 1644.5h.01M633.9 1650.3h.01M648.2 1649.7h.01M649.2 1647.9h.01M632.0 1652.5h.01M652.8 1648.3h.01M635.4 1649.1h.01M632.7 1655.9h.01M632.1 1654.1h.01M641.5 1652.3h.01M639.0 1646.9h.01M643.1 1650.6h.01M649.3 1656.6h.01M646.0 1665.7h.01M628.3 1652.2h.01M627.6 1653.8h.01M626.7 1651.5h.01M632.5 1649.7h.01M648.5 1658.7h.01" stroke="#9FD94C" stroke-width="11.6" stroke-linecap="round" fill="none"/>
<path d="M641.7 1638.3h.01M649.2 1621.5h.01M643.2 1641.1h.01M659.9 1633.2h.01M650.3 1641.3h.01M655.9 1634.7h.01M644.0 1627.7h.01M649.6 1625.0h.01M629.9 1640.4h.01M635.1 1618.3h.01M661.1 1629.3h.01M663.0 1630.5h.01M634.3 1620.0h.01M637.9 1631.0h.01M651.2 1639.9h.01M650.2 1631.3h.01M639.8 1620.2h.01M660.8 1633.5h.01M656.2 1626.6h.01M637.9 1619.7h.01M649.3 1641.0h.01M631.1 1623.6h.01M650.9 1631.4h.01M637.4 1624.0h.01M632.1 1622.0h.01M643.0 1630.5h.01M631.7 1629.0h.01" stroke="#94D74F" stroke-width="11.6" stroke-linecap="round" fill="none"/>
<path d="M662.9 1622.5h.01M638.2 1608.1h.01M641.0 1611.5h.01M646.9 1608.7h.01M644.9 1614.2h.01M653.9 1601.1h.01M664.2 1626.2h.01M661.4 1623.7h.01M639.2 1610.8h.01M651.2 1601.3h.01M646.2 1600.6h.01M655.7 1623.5h.01M665.2 1622.3h.01M657.4 1609.3h.01M659.6 1621.4h.01M664.8 1618.7h.01M664.0 1615.7h.01M652.4 1617.2h.01M638.6 1601.9h.01M652.2 1608.3h.01M654.5 1608.5h.01M647.6 1606.8h.01M639.2 1608.4h.01M646.8 1605.9h.01M635.0 1613.4h.01" stroke="#89D552" stroke-width="11.6" stroke-linecap="round" fill="none"/>
<path d="M662.9 1603.2h.01M640.0 1592.1h.01M669.6 1589.6h.01M645.2 1589.8h.01M659.7 1588.7h.01M654.4 1597.9h.01M645.1 1588.6h.01M673.5 1599.7h.01M652.7 1583.4h.01M646.3 1589.8h.01M661.0 1600.3h.01M652.1 1586.5h.01M669.0 1596.0h.01M658.5 1598.0h.01M665.3 1604.1h.01M647.3 1594.9h.01" stroke="#81D15A" stroke-width="11.6" stroke-linecap="round" fill="none"/>
<path d="M669.4 1573.5h.01M658.4 1575.2h.01M666.5 1581.3h.01M673.0 1571.2h.01M667.6 1584.5h.01M672.9 1588.1h.01M655.7 1573.3h.01M658.8 1572.6h.01M672.5 1590.1h.01M674.1 1580.4h.01M656.1 1571.2h.01M665.9 1571.3h.01M654.3 1571.2h.01M674.4 1572.8h.01M675.4 1582.6h.01M658.0 1570.0h.01M671.3 1572.3h.01M665.6 1579.3h.01M668.3 1576.1h.01M674.5 1579.1h.01" stroke="#79CC63" stroke-width="11.6" stroke-linecap="round" fill="none"/>
<path d="M680.2 1567.6h.01M671.5 1560.7h.01M653.7 1565.3h.01M655.7 1571.2h.01M663.2 1559.0h.01M660.2 1571.2h.01M673.0 1558.3h.01M679.6 1560.4h.01M658.5 1568.0h.01M660.4 1557.9h.01M679.6 1568.8h.01M654.3 1561.2h.01M672.8 1569.3h.01M656.9 1558.3h.01M651.7 1556.5h.01M657.4 1568.3h.01M663.7 1566.4h.01M657.1 1572.0h.01M654.7 1567.8h.01M667.5 1560.7h.01M661.0 1564.0h.01M655.9 1566.5h.01M670.2 1564.9h.01" stroke="#71C76C" stroke-width="11.6" stroke-linecap="round" fill="none"/>
<path d="M718.3 1424.3h.01M717.7 1431.8h.01M720.9 1430.2h.01M655.4 1548.7h.01M678.7 1556.0h.01M719.0 1422.9h.01M682.4 1552.8h.01M649.6 1546.0h.01M651.6 1541.3h.01M667.4 1547.7h.01M717.2 1423.5h.01M656.1 1553.5h.01M723.5 1417.6h.01M720.9 1429.0h.01M667.0 1541.3h.01M720.8 1431.8h.01M712.9 1426.5h.01M663.4 1548.3h.01M651.7 1546.1h.01M717.3 1423.5h.01M725.6 1421.9h.01M659.0 1546.3h.01M726.7 1422.6h.01M671.2 1545.3h.01M718.3 1426.6h.01M679.7 1552.7h.01M684.7 1540.1h.01M723.8 1419.0h.01M676.4 1552.1h.01M655.1 1547.4h.01M653.1 1546.7h.01M718.1 1429.6h.01M666.3 1552.9h.01M670.9 1548.6h.01M712.1 1429.4h.01M673.1 1538.0h.01M722.5 1425.4h.01M723.8 1426.1h.01M678.2 1549.2h.01M672.8 1547.2h.01M680.9 1549.8h.01M714.2 1429.8h.01M717.4 1423.0h.01M671.2 1538.9h.01M718.6 1424.8h.01M665.5 1544.8h.01M714.8 1425.0h.01M720.0 1429.5h.01" stroke="#69C174" stroke-width="11.6" stroke-linecap="round" fill="none"/>
<path d="M685.6 1525.5h.01M647.2 1526.8h.01M679.9 1537.3h.01M719.8 1413.1h.01M650.5 1525.1h.01M712.8 1411.4h.01M708.4 1419.1h.01M715.9 1408.5h.01M721.2 1412.0h.01M684.2 1527.1h.01M675.1 1528.7h.01M682.0 1523.7h.01M658.5 1537.2h.01M679.4 1534.5h.01M697.4 1433.5h.01M656.0 1530.7h.01M680.5 1523.6h.01M711.4 1415.2h.01M699.0 1432.6h.01M673.2 1533.8h.01M665.2 1535.6h.01M656.7 1518.2h.01M654.1 1537.5h.01M651.9 1514.7h.01M654.3 1530.5h.01M708.4 1412.2h.01M652.9 1522.7h.01M684.4 1527.6h.01M697.8 1428.0h.01M714.3 1419.2h.01M709.3 1424.3h.01M696.4 1425.9h.01M713.3 1414.1h.01M707.0 1421.0h.01M643.9 1521.8h.01M650.8 1514.2h.01M675.4 1526.9h.01M708.5 1418.8h.01M661.0 1525.5h.01M708.4 1421.6h.01M700.2 1430.3h.01M651.4 1529.0h.01M649.1 1525.4h.01M710.5 1418.4h.01M672.0 1532.7h.01M677.0 1532.8h.01M709.1 1423.7h.01M671.7 1518.2h.01M698.0 1431.7h.01M672.9 1531.1h.01M718.2 1419.4h.01M672.6 1526.1h.01M666.9 1517.2h.01M657.2 1537.7h.01M646.7 1523.6h.01M658.7 1524.5h.01M656.8 1526.6h.01M647.4 1531.2h.01M676.7 1532.7h.01M651.8 1524.1h.01M657.8 1529.4h.01M650.2 1516.3h.01M664.9 1535.7h.01M674.3 1527.3h.01M707.9 1423.0h.01M709.0 1420.1h.01M671.3 1528.6h.01M682.1 1529.2h.01M712.5 1413.5h.01M700.3 1432.8h.01M714.8 1409.0h.01M671.8 1523.5h.01M688.2 1522.4h.01M717.6 1417.6h.01" stroke="#60BA7B" stroke-width="11.6" stroke-linecap="round" fill="none"/>
<path d="M667.8 1499.6h.01M660.9 1513.2h.01M686.9 1430.7h.01M670.2 1511.4h.01M677.0 1516.3h.01M658.5 1504.2h.01M652.8 1501.9h.01M665.9 1498.4h.01M683.2 1509.5h.01M677.0 1502.6h.01M691.2 1435.5h.01M682.1 1436.2h.01M657.8 1496.9h.01M663.3 1494.1h.01M647.0 1513.1h.01M680.7 1500.6h.01M688.2 1430.2h.01M669.4 1494.1h.01M675.5 1499.1h.01M684.3 1429.7h.01M665.0 1494.7h.01M680.4 1502.5h.01M669.2 1507.4h.01M680.6 1505.0h.01M683.9 1492.6h.01M681.0 1433.4h.01M687.3 1431.2h.01M659.1 1511.1h.01M659.2 1499.2h.01M694.0 1435.5h.01M681.5 1431.4h.01M665.6 1494.0h.01M688.6 1435.6h.01M669.0 1505.7h.01M671.5 1494.0h.01M663.5 1494.2h.01M654.9 1498.2h.01M685.3 1434.0h.01M668.9 1502.7h.01M680.1 1515.9h.01" stroke="#57B381" stroke-width="11.6" stroke-linecap="round" fill="none"/>
<path d="M680.8 1434.9h.01M668.8 1479.0h.01M670.3 1469.3h.01M672.5 1438.0h.01M671.2 1484.1h.01M670.0 1490.3h.01M680.4 1438.5h.01M666.1 1486.5h.01M672.0 1483.6h.01M665.6 1437.8h.01M677.9 1441.6h.01M675.7 1438.3h.01M668.5 1436.4h.01M665.3 1473.1h.01M678.1 1437.9h.01M679.7 1435.6h.01M672.4 1477.4h.01M677.2 1490.5h.01M672.8 1432.3h.01M669.1 1475.1h.01M673.8 1433.8h.01M665.7 1492.7h.01M666.2 1484.8h.01M677.9 1431.3h.01M669.1 1442.2h.01M670.8 1436.0h.01" stroke="#4DAC87" stroke-width="11.6" stroke-linecap="round" fill="none"/>
<path d="M650.1 1453.9h.01M653.0 1452.0h.01M655.2 1456.0h.01M661.0 1453.5h.01M665.2 1450.3h.01M658.8 1452.0h.01M653.8 1455.9h.01M657.2 1456.6h.01M659.8 1447.4h.01M654.3 1456.8h.01M664.1 1449.5h.01" stroke="#47A58B" stroke-width="11.6" stroke-linecap="round" fill="none"/>
<path d="M646.6 1439.3h.01M634.7 1451.6h.01M626.3 1439.4h.01M636.8 1452.2h.01M645.2 1450.1h.01M638.4 1444.6h.01M645.8 1444.4h.01M641.8 1449.0h.01M631.4 1429.5h.01M647.5 1445.8h.01M645.0 1435.6h.01M632.5 1444.2h.01M628.9 1442.7h.01M627.5 1455.7h.01M637.5 1445.8h.01M636.2 1431.9h.01M641.9 1450.7h.01M635.8 1429.0h.01M644.7 1435.3h.01M633.2 1447.9h.01M629.4 1451.6h.01M646.1 1448.5h.01M646.4 1444.7h.01M646.4 1447.3h.01M636.6 1441.6h.01M629.7 1446.1h.01M634.8 1433.1h.01M647.5 1438.9h.01M633.6 1454.3h.01M634.4 1434.0h.01M632.2 1446.6h.01" stroke="#459D8A" stroke-width="11.6" stroke-linecap="round" fill="none"/>
<path d="M620.9 1454.6h.01M152.1 1325.5h.01M619.4 1447.4h.01M620.3 1454.0h.01M610.4 1448.4h.01M143.9 1346.4h.01M601.8 1453.6h.01M147.6 1339.5h.01M143.9 1344.6h.01M609.6 1448.5h.01M610.2 1457.8h.01M624.4 1446.8h.01M624.5 1442.7h.01M147.4 1323.0h.01M151.5 1326.6h.01M606.7 1447.1h.01M606.5 1441.4h.01M150.9 1325.8h.01M602.1 1437.8h.01M624.9 1437.0h.01M604.5 1454.1h.01M610.7 1441.2h.01M625.7 1454.5h.01M150.1 1369.2h.01M615.8 1441.2h.01M601.1 1439.7h.01M599.3 1445.4h.01M604.5 1449.0h.01M614.0 1453.9h.01M625.1 1449.2h.01M602.3 1452.5h.01M621.3 1435.3h.01M609.3 1455.0h.01M614.9 1436.2h.01M611.4 1437.8h.01M149.6 1333.0h.01M607.2 1433.0h.01M150.0 1337.7h.01M623.1 1438.3h.01M150.2 1346.6h.01M149.5 1346.3h.01M603.0 1436.0h.01M612.6 1428.2h.01M598.7 1451.9h.01M604.1 1434.9h.01M146.3 1329.3h.01M151.2 1327.7h.01M606.5 1439.4h.01M621.0 1449.1h.01M148.9 1362.8h.01M614.7 1428.4h.01M627.5 1434.2h.01M148.7 1334.6h.01M603.8 1451.9h.01M150.1 1348.1h.01M609.3 1446.7h.01M148.4 1347.6h.01M141.7 1362.4h.01M147.1 1338.0h.01M617.0 1426.2h.01M617.8 1455.5h.01M151.9 1342.0h.01M142.6 1366.3h.01M148.2 1371.2h.01M626.8 1426.6h.01M614.5 1452.8h.01M148.4 1354.3h.01M150.2 1364.4h.01" stroke="#43958A" stroke-width="11.6" stroke-linecap="round" fill="none"/>
<path d="M163.7 1354.5h.01M174.4 1353.6h.01M577.0 1439.8h.01M174.9 1316.1h.01M581.4 1443.8h.01M581.4 1435.8h.01M161.5 1334.8h.01M174.7 1361.1h.01M172.3 1350.4h.01M170.0 1365.2h.01M172.3 1365.4h.01M156.8 1360.3h.01M173.5 1367.8h.01M571.7 1432.5h.01M163.7 1341.7h.01M165.7 1335.0h.01M587.9 1430.0h.01M160.8 1370.4h.01M163.7 1339.9h.01M594.0 1435.0h.01M154.5 1359.4h.01M581.9 1448.4h.01M170.8 1359.3h.01M579.2 1448.4h.01M588.0 1439.6h.01M577.8 1442.3h.01M155.2 1352.4h.01M164.7 1372.5h.01M601.7 1438.0h.01M575.9 1441.3h.01M172.6 1375.6h.01M165.2 1323.2h.01M170.3 1354.6h.01M164.2 1337.1h.01M596.7 1436.0h.01M173.0 1330.8h.01M172.5 1334.1h.01M167.4 1316.2h.01M174.6 1370.3h.01M154.0 1349.4h.01M578.5 1440.4h.01M171.1 1369.5h.01M576.1 1442.6h.01M168.9 1368.4h.01M169.4 1334.4h.01M153.4 1356.4h.01M167.8 1350.1h.01M162.7 1367.6h.01M162.7 1378.7h.01M157.5 1336.1h.01M574.3 1429.7h.01M587.8 1452.2h.01M172.9 1330.7h.01M164.3 1326.3h.01M169.4 1345.3h.01M166.3 1378.9h.01M581.7 1444.9h.01M582.9 1444.6h.01M171.3 1319.4h.01M174.0 1340.2h.01M162.7 1368.2h.01M595.1 1451.9h.01M594.0 1432.7h.01M594.7 1447.4h.01M164.2 1346.0h.01M591.2 1452.7h.01M163.8 1325.0h.01M167.8 1342.6h.01M161.9 1329.7h.01M593.9 1442.4h.01M175.1 1336.3h.01M175.2 1318.4h.01M167.9 1355.4h.01M173.9 1331.8h.01M154.4 1361.4h.01M595.7 1437.4h.01M166.4 1368.8h.01M158.3 1347.8h.01M168.2 1328.9h.01M169.8 1368.8h.01M167.4 1367.6h.01M586.9 1440.7h.01M174.9 1326.2h.01M585.5 1450.3h.01M172.6 1324.3h.01M591.1 1429.6h.01M174.2 1316.0h.01M596.4 1437.0h.01M175.9 1332.7h.01M175.0 1340.5h.01M152.3 1376.1h.01M167.5 1313.5h.01M162.2 1374.2h.01M168.2 1315.9h.01M172.3 1335.4h.01M171.7 1363.8h.01M165.0 1320.1h.01M578.8 1444.7h.01M166.7 1326.2h.01M162.3 1318.4h.01M155.6 1365.5h.01M569.9 1430.8h.01M162.4 1342.0h.01M572.7 1435.4h.01M594.0 1446.6h.01M165.2 1354.1h.01M175.1 1374.9h.01M589.3 1452.4h.01M171.3 1321.8h.01M170.8 1318.2h.01M157.7 1337.9h.01M172.1 1349.4h.01" stroke="#418D89" stroke-width="11.6" stroke-linecap="round" fill="none"/>
<path d="M197.4 1333.4h.01M194.9 1342.5h.01M187.8 1327.0h.01M187.7 1325.2h.01M185.2 1326.0h.01M184.6 1322.8h.01M179.1 1329.9h.01M566.9 1437.1h.01M571.3 1437.4h.01M180.5 1378.1h.01M199.5 1376.4h.01M193.0 1359.8h.01M184.7 1346.3h.01M565.9 1446.8h.01M184.1 1330.0h.01M176.3 1358.4h.01M575.4 1447.8h.01M188.7 1342.0h.01M178.0 1355.1h.01M199.2 1378.6h.01M191.8 1365.9h.01M196.0 1382.3h.01M193.8 1368.5h.01M194.1 1345.3h.01M195.7 1349.1h.01M188.0 1351.0h.01M199.8 1374.5h.01M572.9 1446.8h.01M560.9 1450.7h.01M195.6 1349.4h.01M196.3 1379.6h.01M188.4 1350.8h.01M191.1 1328.0h.01M192.2 1344.7h.01M181.6 1348.1h.01M188.5 1328.9h.01M177.9 1316.8h.01M178.8 1334.7h.01M184.3 1343.8h.01M177.0 1378.9h.01M186.0 1345.1h.01M572.0 1442.1h.01M185.4 1326.8h.01M188.3 1342.9h.01M187.9 1332.3h.01M566.4 1445.2h.01M179.0 1321.5h.01M177.7 1355.5h.01M182.5 1366.9h.01M190.8 1352.7h.01M567.1 1445.7h.01M182.2 1351.9h.01M186.4 1330.6h.01M198.5 1358.7h.01M182.3 1323.7h.01M179.0 1377.9h.01M190.9 1353.8h.01M190.0 1329.7h.01M180.2 1328.2h.01M572.9 1438.9h.01M186.9 1326.7h.01M181.4 1322.2h.01M180.0 1327.0h.01M566.1 1435.4h.01M191.9 1356.4h.01M182.5 1368.5h.01M577.2 1446.8h.01M183.9 1331.9h.01M177.9 1358.4h.01M575.5 1449.5h.01M195.8 1360.1h.01M187.0 1358.3h.01M185.5 1332.6h.01M198.6 1347.3h.01M183.7 1336.4h.01M563.3 1438.4h.01M181.9 1357.5h.01M183.3 1358.2h.01M580.4 1450.0h.01M198.6 1380.8h.01M198.6 1361.2h.01M561.7 1444.2h.01M558.8 1444.5h.01M196.0 1355.9h.01M194.2 1332.2h.01M176.8 1340.0h.01M197.3 1380.1h.01M567.3 1442.1h.01M183.0 1322.5h.01M177.5 1352.0h.01M182.0 1334.1h.01M198.1 1338.6h.01M185.3 1366.5h.01M189.7 1347.8h.01M196.6 1361.6h.01M186.6 1333.7h.01M196.1 1382.8h.01M196.7 1331.9h.01M195.5 1355.4h.01M183.6 1379.6h.01M187.4 1339.0h.01M180.5 1371.2h.01M182.3 1333.4h.01" stroke="#408689" stroke-width="11.6" stroke-linecap="round" fill="none"/>
<path d="M207.9 1352.3h.01M207.0 1379.7h.01M204.9 1328.6h.01M215.7 1371.9h.01M208.5 1383.7h.01M215.9 1339.5h.01M215.8 1375.2h.01M200.3 1351.8h.01M208.0 1348.7h.01M211.9 1368.7h.01M204.9 1383.5h.01M208.6 1333.7h.01M204.1 1355.1h.01M213.1 1366.6h.01M205.5 1351.6h.01M203.9 1348.8h.01M207.5 1362.2h.01M214.5 1363.3h.01M206.9 1356.8h.01M205.9 1377.5h.01M219.8 1370.9h.01M207.6 1348.7h.01M204.1 1351.2h.01M199.9 1337.3h.01M548.1 1419.3h.01M203.7 1345.7h.01M210.5 1342.1h.01M203.9 1330.4h.01M206.2 1384.3h.01M201.7 1376.6h.01M210.2 1374.6h.01M207.6 1360.2h.01M208.0 1356.3h.01M203.4 1360.4h.01M213.4 1345.6h.01M211.2 1366.9h.01M205.9 1359.4h.01M209.5 1332.8h.01M206.8 1347.5h.01M550.5 1421.6h.01M223.2 1372.5h.01M214.2 1382.3h.01M213.2 1339.3h.01M554.2 1424.5h.01M215.6 1364.0h.01M208.2 1382.3h.01M206.6 1335.0h.01M200.9 1331.6h.01M555.2 1429.6h.01M219.0 1371.3h.01M207.6 1378.2h.01M554.8 1430.4h.01M210.8 1342.0h.01M206.5 1353.8h.01" stroke="#3E7F88" stroke-width="11.6" stroke-linecap="round" fill="none"/>
<path d="M235.3 1365.6h.01M523.8 1438.5h.01M526.7 1422.9h.01M521.0 1438.4h.01M531.7 1433.4h.01M234.8 1361.9h.01M518.2 1438.1h.01M545.3 1435.3h.01M539.8 1437.8h.01M531.1 1436.8h.01M529.7 1414.6h.01M524.6 1424.1h.01M515.1 1436.7h.01M528.3 1415.3h.01M537.4 1438.2h.01M543.2 1429.4h.01M530.0 1422.8h.01M531.6 1438.0h.01M538.7 1417.9h.01M519.1 1423.4h.01M234.3 1378.4h.01M241.7 1364.4h.01M528.8 1412.9h.01M537.7 1423.0h.01M539.9 1434.1h.01M512.8 1434.8h.01M513.4 1431.6h.01M537.5 1440.3h.01M524.4 1423.4h.01M515.5 1423.8h.01M526.9 1414.6h.01M532.6 1416.7h.01M517.3 1430.6h.01M521.0 1429.1h.01M521.0 1436.5h.01M528.7 1418.2h.01M533.3 1439.6h.01M514.7 1438.7h.01M242.6 1365.2h.01M545.6 1423.8h.01" stroke="#3D7788" stroke-width="11.6" stroke-linecap="round" fill="none"/>
<path d="M482.0 1412.6h.01M243.7 1374.4h.01M507.8 1427.2h.01M512.0 1411.2h.01M501.4 1419.3h.01M248.0 1382.7h.01M507.6 1414.0h.01M254.1 1379.9h.01M263.3 1381.2h.01M482.8 1411.9h.01M476.0 1415.7h.01M504.1 1421.0h.01M258.8 1386.7h.01M507.2 1415.0h.01M498.5 1424.3h.01M259.4 1377.7h.01M259.9 1384.4h.01M248.8 1372.6h.01M486.6 1408.9h.01M513.4 1424.7h.01M480.1 1430.9h.01M263.3 1378.0h.01M476.0 1429.7h.01M510.8 1437.5h.01M263.4 1380.5h.01M486.2 1409.3h.01M248.2 1370.6h.01M476.2 1432.3h.01M257.1 1395.9h.01M491.1 1427.2h.01M247.4 1368.8h.01M477.1 1419.2h.01M495.9 1412.9h.01M262.9 1389.6h.01M504.5 1419.3h.01M508.4 1412.1h.01M256.3 1379.5h.01M510.6 1435.8h.01M257.2 1381.7h.01M238.8 1380.2h.01M505.1 1412.7h.01M245.3 1388.4h.01M486.2 1432.9h.01M494.5 1409.2h.01M483.9 1412.6h.01M260.7 1378.2h.01M479.7 1408.1h.01M482.8 1405.6h.01M512.8 1412.3h.01M263.9 1378.0h.01M507.7 1418.7h.01M253.2 1394.4h.01M247.4 1373.7h.01M475.3 1430.1h.01M490.8 1425.4h.01M505.9 1435.6h.01M500.2 1419.6h.01M482.4 1416.6h.01M483.6 1405.0h.01M253.7 1382.9h.01M241.5 1385.6h.01M485.6 1410.6h.01M255.6 1385.1h.01M481.5 1432.1h.01M254.2 1388.1h.01M256.1 1394.7h.01M507.5 1412.1h.01M245.1 1372.7h.01M489.6 1409.5h.01M514.1 1425.0h.01M485.3 1406.0h.01M484.2 1412.0h.01" stroke="#3D7188" stroke-width="11.6" stroke-linecap="round" fill="none"/>
<path d="M443.4 1417.6h.01M264.0 1391.5h.01M438.3 1411.4h.01M473.5 1432.9h.01M457.4 1430.8h.01M271.0 1391.6h.01M273.1 1400.9h.01M461.4 1425.4h.01M278.2 1390.4h.01M438.1 1427.3h.01M459.6 1408.5h.01M268.7 1383.5h.01M460.9 1415.3h.01M471.3 1418.0h.01M467.2 1411.5h.01M473.0 1417.0h.01M445.3 1422.9h.01M472.4 1426.9h.01M449.5 1426.0h.01M456.2 1422.8h.01M263.8 1400.5h.01M441.5 1420.5h.01M268.5 1381.8h.01M476.7 1420.9h.01M439.4 1410.9h.01M473.0 1408.5h.01M437.4 1419.5h.01M440.1 1434.3h.01M460.9 1406.3h.01M268.4 1384.5h.01M440.1 1415.8h.01M457.5 1428.0h.01M443.9 1411.8h.01M438.7 1421.6h.01M449.7 1418.4h.01M280.8 1409.8h.01M453.1 1417.3h.01M448.0 1411.2h.01M282.4 1392.1h.01M279.8 1407.3h.01M264.1 1403.4h.01M438.5 1409.9h.01M459.6 1426.9h.01M278.2 1390.0h.01M275.9 1401.7h.01M448.6 1409.2h.01M466.2 1428.1h.01M444.3 1422.3h.01M447.5 1432.0h.01M456.6 1415.1h.01M435.4 1415.7h.01M442.6 1412.2h.01M452.9 1428.4h.01M279.5 1408.1h.01M440.1 1417.1h.01M474.6 1425.2h.01M282.6 1393.1h.01M455.5 1405.5h.01M446.3 1412.7h.01M473.9 1422.0h.01M461.0 1421.4h.01M460.5 1419.0h.01" stroke="#3E6B87" stroke-width="11.6" stroke-linecap="round" fill="none"/>
<path d="M430.9 1428.1h.01M289.5 1410.2h.01M293.5 1406.7h.01M303.6 1414.9h.01M304.0 1417.1h.01M295.0 1398.9h.01M422.1 1431.3h.01M299.2 1420.6h.01M419.5 1429.4h.01M426.8 1416.6h.01M417.5 1447.7h.01M421.0 1419.7h.01M294.0 1398.7h.01M414.7 1440.3h.01M292.2 1409.7h.01M433.5 1432.5h.01M283.5 1409.8h.01M297.0 1406.6h.01M407.7 1442.8h.01M429.9 1430.1h.01M415.3 1424.6h.01M409.0 1444.6h.01M414.7 1450.0h.01M415.7 1448.9h.01M305.1 1420.3h.01M414.1 1430.6h.01M403.0 1446.8h.01M403.7 1447.0h.01M425.8 1422.0h.01M296.7 1405.4h.01M421.4 1423.3h.01M415.8 1448.0h.01M423.9 1445.7h.01M426.0 1446.4h.01M412.4 1440.7h.01M421.6 1428.5h.01M301.4 1419.6h.01M424.4 1433.5h.01M292.0 1408.0h.01M419.0 1431.8h.01M431.6 1427.1h.01M430.1 1414.8h.01M294.3 1399.0h.01M425.4 1428.9h.01M412.8 1435.9h.01M301.0 1410.6h.01M292.0 1412.3h.01M417.8 1433.4h.01M298.3 1405.5h.01M408.6 1428.1h.01M424.6 1426.0h.01M296.1 1409.0h.01M429.3 1432.2h.01M296.6 1415.5h.01M305.3 1407.6h.01M424.3 1418.1h.01M307.0 1420.3h.01M295.7 1399.9h.01M414.9 1422.1h.01M298.7 1405.5h.01M406.4 1443.2h.01M420.1 1432.0h.01M302.7 1417.8h.01M295.0 1415.7h.01M413.8 1443.7h.01M290.1 1401.8h.01M307.5 1408.3h.01" stroke="#3E6687" stroke-width="11.6" stroke-linecap="round" fill="none"/>
<path d="M382.6 1416.6h.01M397.4 1446.0h.01M315.3 1415.9h.01M408.4 1437.0h.01M384.1 1427.8h.01M398.6 1444.9h.01M402.0 1435.4h.01M386.9 1439.0h.01M403.4 1434.7h.01M373.2 1443.4h.01M394.8 1428.5h.01M368.6 1426.0h.01M382.5 1440.2h.01M368.5 1428.2h.01M316.5 1417.7h.01M374.0 1450.9h.01M394.9 1445.5h.01M376.2 1424.3h.01M380.9 1425.9h.01M370.7 1448.0h.01M381.4 1437.3h.01M412.3 1432.2h.01M393.7 1444.0h.01M379.0 1436.8h.01M404.7 1432.3h.01M383.9 1426.6h.01M324.7 1430.0h.01M388.9 1415.4h.01M390.6 1443.6h.01M382.6 1415.6h.01M318.6 1426.0h.01M383.1 1417.8h.01M370.9 1412.0h.01M407.8 1423.2h.01M322.3 1434.1h.01M384.2 1449.6h.01M305.2 1423.7h.01M397.4 1438.0h.01M401.8 1439.9h.01M396.7 1421.1h.01M309.1 1420.1h.01M381.6 1445.3h.01M387.0 1419.5h.01M391.9 1446.2h.01M401.3 1434.5h.01M371.3 1453.7h.01M392.5 1415.9h.01M388.1 1428.2h.01M391.7 1444.0h.01M375.9 1443.6h.01M406.1 1435.4h.01M316.8 1429.3h.01M397.0 1425.4h.01M310.6 1417.7h.01M373.4 1438.5h.01M373.0 1448.6h.01M396.4 1441.2h.01M390.6 1417.9h.01M378.5 1422.1h.01M311.7 1427.7h.01M380.2 1429.8h.01M377.1 1449.1h.01M390.6 1454.5h.01M320.6 1428.1h.01M387.3 1446.9h.01M384.8 1435.3h.01M387.1 1433.5h.01M371.2 1452.7h.01M316.9 1427.3h.01M384.7 1415.9h.01M397.8 1447.7h.01M368.9 1432.8h.01M372.6 1436.5h.01M390.1 1433.6h.01M380.0 1415.4h.01M387.6 1421.4h.01M368.9 1440.6h.01M380.3 1444.6h.01M371.8 1427.4h.01M393.9 1417.0h.01M390.1 1423.8h.01M368.5 1417.1h.01M382.8 1435.6h.01M399.6 1448.1h.01M400.4 1431.7h.01M313.3 1415.2h.01M377.6 1419.6h.01M316.8 1415.9h.01M370.8 1436.7h.01M317.5 1432.1h.01" stroke="#3F6086" stroke-width="11.6" stroke-linecap="round" fill="none"/>
<path d="M360.7 1437.4h.01M351.6 1445.7h.01M345.3 1450.9h.01M325.0 1437.1h.01M365.6 1447.1h.01M344.6 1440.0h.01M357.9 1426.0h.01M341.1 1435.3h.01M363.8 1430.8h.01M347.7 1421.1h.01M360.3 1417.4h.01M335.0 1434.9h.01M333.1 1430.1h.01M360.6 1419.8h.01M357.5 1417.9h.01M351.3 1447.7h.01M365.7 1427.6h.01M345.6 1441.2h.01M346.4 1425.3h.01M361.9 1431.4h.01M365.2 1437.6h.01M366.6 1443.1h.01M357.5 1444.2h.01M365.3 1443.7h.01M329.8 1425.5h.01M335.8 1431.8h.01M330.6 1430.8h.01M363.5 1447.5h.01M354.4 1430.8h.01M334.1 1431.9h.01M363.1 1434.4h.01M356.1 1445.7h.01M367.6 1450.5h.01M357.4 1449.6h.01M346.3 1435.7h.01M360.5 1450.2h.01M361.0 1419.1h.01M334.7 1439.5h.01M362.0 1417.2h.01M347.1 1439.7h.01M331.6 1438.5h.01M347.8 1431.9h.01M337.5 1438.4h.01M326.7 1430.7h.01M360.4 1447.2h.01M365.8 1423.3h.01M361.9 1440.3h.01M331.4 1442.4h.01M345.3 1425.4h.01M360.1 1449.3h.01M359.0 1437.7h.01M356.7 1424.7h.01" stroke="#405A86" stroke-width="11.6" stroke-linecap="round" fill="none"/>
<path d="M339.4 1466.5h.01M338.7 1467.8h.01M345.6 1454.2h.01M317.1 1455.5h.01M343.6 1456.2h.01M337.9 1470.4h.01M333.8 1447.1h.01M339.7 1455.6h.01M317.5 1455.3h.01M335.9 1463.7h.01M330.5 1448.5h.01M343.5 1455.4h.01M335.8 1462.5h.01M335.3 1448.0h.01M333.7 1459.1h.01M325.3 1453.3h.01M336.8 1463.0h.01M336.3 1450.1h.01M328.1 1447.7h.01M333.8 1465.2h.01" stroke="#425685" stroke-width="11.6" stroke-linecap="round" fill="none"/>
<path d="M327.7 1481.7h.01M337.7 1472.1h.01M310.9 1469.5h.01M316.4 1481.2h.01M332.9 1481.5h.01M325.1 1472.7h.01M305.1 1468.5h.01M321.9 1468.8h.01M335.7 1476.5h.01M324.8 1482.6h.01M314.9 1481.9h.01M321.2 1462.8h.01M329.4 1475.4h.01M337.8 1475.2h.01M312.9 1466.5h.01M313.4 1479.4h.01M327.7 1483.9h.01M304.3 1468.9h.01M322.9 1472.5h.01M322.6 1466.6h.01M334.2 1480.5h.01M309.7 1468.4h.01M327.2 1482.2h.01M323.7 1482.7h.01M328.3 1481.6h.01M307.3 1470.8h.01" stroke="#455285" stroke-width="11.6" stroke-linecap="round" fill="none"/>
<path d="M296.6 1480.8h.01M308.5 1480.1h.01M323.2 1495.9h.01M318.9 1494.3h.01M306.0 1486.9h.01M322.7 1497.2h.01M324.8 1491.7h.01M297.4 1482.9h.01M299.7 1484.7h.01M320.1 1493.0h.01M305.2 1473.1h.01M316.0 1491.9h.01M298.0 1481.8h.01M312.1 1497.7h.01M296.5 1477.5h.01M300.8 1477.1h.01M319.5 1489.8h.01M302.4 1482.9h.01M318.5 1503.7h.01M324.5 1497.1h.01M303.6 1470.7h.01M305.0 1489.7h.01M321.1 1498.8h.01M320.8 1497.9h.01M300.1 1477.0h.01M301.8 1475.0h.01" stroke="#474D84" stroke-width="11.6" stroke-linecap="round" fill="none"/>
<path d="M311.0 1512.2h.01M306.0 1509.8h.01M290.9 1488.2h.01M294.9 1481.3h.01M308.3 1509.7h.01M294.0 1483.0h.01M315.1 1502.8h.01M291.3 1485.8h.01M292.7 1479.3h.01M306.4 1506.1h.01M316.1 1508.3h.01M304.3 1498.5h.01M292.5 1480.5h.01M295.4 1487.0h.01M292.7 1496.4h.01M288.5 1492.3h.01M308.5 1501.0h.01" stroke="#494983" stroke-width="11.6" stroke-linecap="round" fill="none"/>
<path d="M290.7 1509.7h.01M288.0 1510.3h.01M296.1 1503.7h.01M298.8 1513.6h.01M289.2 1506.7h.01M288.8 1495.6h.01M286.4 1496.6h.01M286.8 1504.5h.01M283.1 1503.2h.01M283.2 1498.3h.01M296.1 1516.3h.01M293.6 1510.0h.01M292.1 1507.6h.01M289.9 1501.1h.01M293.6 1506.9h.01M283.2 1507.0h.01M283.6 1491.1h.01M298.7 1515.4h.01M288.1 1505.9h.01M280.9 1499.4h.01M285.8 1502.5h.01" stroke="#4B4681" stroke-width="11.6" stroke-linecap="round" fill="none"/>
<path d="M293.2 1517.3h.01M271.7 1500.9h.01M278.8 1509.3h.01M277.2 1498.9h.01M270.9 1502.0h.01M274.3 1517.8h.01M268.4 1508.6h.01M291.9 1517.6h.01M275.2 1503.6h.01M287.8 1521.9h.01M280.0 1505.5h.01M278.6 1516.1h.01M273.4 1504.9h.01M269.2 1510.2h.01M285.4 1524.9h.01M285.1 1525.6h.01M271.5 1507.8h.01M273.3 1512.0h.01M282.8 1522.4h.01M282.1 1516.5h.01M288.4 1523.8h.01M283.7 1522.2h.01M291.1 1520.2h.01" stroke="#4D427F" stroke-width="11.6" stroke-linecap="round" fill="none"/>
<path d="M266.8 1524.8h.01M259.4 1513.5h.01M266.0 1517.8h.01M263.7 1520.1h.01M258.1 1517.0h.01M269.7 1531.9h.01M274.0 1533.4h.01M280.0 1529.4h.01M262.4 1520.1h.01M275.2 1533.7h.01M271.4 1513.3h.01M272.4 1530.2h.01M262.3 1521.9h.01M268.4 1515.8h.01M268.9 1518.4h.01" stroke="#4E3D7D" stroke-width="11.6" stroke-linecap="round" fill="none"/>
<path d="M257.1 1521.2h.01M252.1 1521.8h.01M264.0 1529.9h.01M254.9 1538.6h.01M259.7 1525.1h.01M257.2 1523.3h.01M266.9 1539.9h.01M268.4 1539.9h.01M249.2 1531.4h.01M271.2 1535.9h.01M264.4 1538.3h.01M259.3 1523.6h.01M270.8 1533.8h.01M271.1 1537.4h.01M268.7 1538.0h.01M248.0 1527.9h.01M244.3 1528.0h.01M270.3 1539.6h.01" stroke="#4E387B" stroke-width="11.6" stroke-linecap="round" fill="none"/>
<path d="M257.9 1556.8h.01M249.5 1548.2h.01M262.4 1550.8h.01M243.9 1544.3h.01M236.4 1540.8h.01M254.7 1549.6h.01M242.8 1548.1h.01M258.2 1552.6h.01M244.6 1531.6h.01M229.8 1537.1h.01M259.6 1557.3h.01M240.5 1528.3h.01M256.4 1543.6h.01M262.6 1550.3h.01M233.6 1538.0h.01M254.7 1556.7h.01M245.7 1545.7h.01M233.9 1537.0h.01M246.0 1554.8h.01M242.6 1533.6h.01M239.0 1546.9h.01M240.2 1531.6h.01M240.7 1529.3h.01" stroke="#4F3379" stroke-width="11.6" stroke-linecap="round" fill="none"/>
<path d="M222.0 1543.4h.01M221.1 1544.6h.01M252.8 1565.7h.01M234.3 1559.8h.01M220.4 1543.6h.01M228.7 1549.2h.01M234.3 1556.7h.01M229.5 1544.5h.01M231.6 1548.5h.01M225.8 1544.1h.01M229.4 1543.7h.01M226.2 1543.1h.01M244.7 1562.2h.01M222.2 1543.0h.01M230.7 1547.6h.01M243.1 1555.5h.01M227.1 1541.1h.01M235.1 1548.9h.01M241.5 1555.6h.01M240.4 1563.7h.01M223.8 1549.2h.01M231.4 1555.6h.01M229.8 1550.4h.01" stroke="#4F2E77" stroke-width="11.6" stroke-linecap="round" fill="none"/>
<path d="M228.5 1581.2h.01M210.1 1552.5h.01M210.0 1548.3h.01M209.3 1556.3h.01M212.5 1553.9h.01M238.3 1582.5h.01M233.4 1569.0h.01M220.1 1553.4h.01M222.7 1552.9h.01M220.1 1553.2h.01M212.8 1556.1h.01M221.6 1571.1h.01M208.3 1550.3h.01M213.2 1560.5h.01M235.7 1582.0h.01M221.6 1561.4h.01M228.3 1576.0h.01M235.2 1583.4h.01M240.6 1580.4h.01M217.7 1549.7h.01M233.9 1577.3h.01M215.8 1554.5h.01M218.2 1562.5h.01" stroke="#4F2A73" stroke-width="11.6" stroke-linecap="round" fill="none"/>
<path d="M223.2 1576.0h.01M218.7 1595.4h.01M203.8 1556.7h.01M217.7 1585.9h.01M223.8 1592.2h.01M221.1 1591.9h.01M212.6 1580.1h.01M217.0 1573.4h.01M218.2 1575.6h.01M217.5 1592.9h.01M198.2 1562.8h.01M198.7 1557.3h.01M229.2 1588.2h.01M209.1 1558.9h.01M205.0 1568.6h.01M195.8 1556.3h.01M212.9 1573.1h.01M226.8 1593.7h.01M211.8 1568.5h.01M204.8 1552.4h.01M219.8 1576.9h.01M210.0 1564.9h.01M216.2 1581.1h.01M230.2 1588.4h.01M226.1 1587.5h.01M201.5 1562.1h.01M217.6 1580.6h.01M229.6 1587.9h.01M208.5 1564.8h.01M221.1 1596.4h.01M226.6 1590.4h.01M228.7 1588.5h.01M221.6 1596.5h.01M225.0 1585.4h.01M200.1 1571.3h.01M215.7 1571.5h.01M221.2 1576.1h.01M219.3 1593.3h.01M221.3 1600.1h.01M210.9 1571.5h.01" stroke="#4C296A" stroke-width="11.6" stroke-linecap="round" fill="none"/>
<path d="M198.2 1582.4h.01M193.5 1563.4h.01M198.6 1569.3h.01M203.9 1599.3h.01M183.8 1563.6h.01M181.7 1567.1h.01M193.1 1561.2h.01M200.3 1576.4h.01M205.6 1588.9h.01M201.2 1578.2h.01M199.1 1572.4h.01M205.1 1609.7h.01M222.6 1601.1h.01M209.0 1599.7h.01M186.8 1566.3h.01M205.6 1608.3h.01M189.5 1559.6h.01M208.3 1605.2h.01M213.6 1599.2h.01M198.5 1584.2h.01M180.2 1568.3h.01M188.5 1571.8h.01M188.6 1562.2h.01M187.3 1557.7h.01M179.8 1570.8h.01M186.4 1581.6h.01M193.1 1589.9h.01M206.1 1600.4h.01M217.3 1604.5h.01M211.9 1593.1h.01M184.2 1569.6h.01M197.3 1581.1h.01M179.5 1571.1h.01M202.8 1599.4h.01M198.3 1572.6h.01M175.7 1568.5h.01M179.5 1568.7h.01M184.1 1573.9h.01M191.2 1580.8h.01M191.0 1583.3h.01M187.6 1573.4h.01M196.2 1568.2h.01M186.2 1569.2h.01M214.0 1596.2h.01" stroke="#492961" stroke-width="11.6" stroke-linecap="round" fill="none"/>
<path d="M173.9 1585.6h.01M173.2 1592.4h.01M167.1 1576.2h.01M161.8 1579.3h.01M162.7 1577.3h.01M190.1 1621.1h.01M171.3 1587.7h.01M195.6 1601.6h.01M175.3 1568.7h.01M174.1 1589.2h.01M164.8 1582.6h.01M199.7 1612.2h.01M179.0 1609.9h.01M175.2 1601.8h.01M193.7 1595.4h.01M172.2 1601.0h.01M166.7 1586.7h.01M199.3 1609.6h.01M163.8 1584.7h.01M161.1 1578.9h.01M199.3 1600.3h.01M181.5 1594.6h.01M189.9 1598.5h.01M177.0 1598.0h.01M183.6 1598.8h.01M168.5 1597.0h.01M168.7 1588.5h.01M189.4 1593.1h.01M187.7 1611.4h.01M172.1 1594.4h.01M176.9 1603.2h.01M165.9 1580.8h.01M174.9 1584.6h.01M181.9 1584.7h.01M202.6 1614.5h.01M188.2 1612.4h.01M179.0 1595.7h.01M182.7 1595.4h.01M183.6 1607.6h.01M201.2 1612.5h.01M173.1 1588.4h.01M186.4 1620.2h.01M195.9 1621.9h.01M170.9 1575.2h.01M170.1 1581.5h.01M171.8 1596.2h.01M185.7 1611.7h.01M192.8 1615.9h.01" stroke="#462857" stroke-width="11.6" stroke-linecap="round" fill="none"/>
<path d="M147.4 1589.8h.01M170.8 1606.4h.01M156.0 1581.0h.01M158.3 1588.5h.01M155.1 1581.2h.01M185.5 1626.3h.01M166.8 1598.6h.01M150.1 1589.1h.01M172.4 1610.0h.01M159.0 1592.0h.01M165.0 1600.2h.01M152.8 1590.0h.01M157.0 1583.1h.01M178.5 1634.0h.01M168.1 1621.8h.01M174.5 1606.6h.01M159.8 1588.9h.01M165.5 1605.2h.01M178.4 1621.5h.01M167.4 1615.2h.01M178.0 1636.1h.01M162.8 1608.2h.01M166.1 1613.9h.01M165.6 1618.4h.01M155.0 1585.6h.01M182.1 1621.4h.01M174.0 1628.1h.01M152.8 1589.9h.01M155.8 1587.9h.01M181.5 1623.1h.01M155.2 1588.9h.01M171.8 1615.0h.01M151.4 1591.9h.01M177.9 1622.6h.01" stroke="#43284E" stroke-width="11.6" stroke-linecap="round" fill="none"/>
<path d="M193.3 1612.4h.01M166.4 1577.7h.01M176.2 1598.4h.01M161.7 1601.2h.01M173.7 1580.8h.01M150.0 1591.9h.01M175.7 1592.3h.01M175.9 1619.7h.01M164.6 1604.0h.01M182.9 1619.8h.01M175.3 1614.0h.01M185.5 1607.0h.01M182.2 1607.4h.01M164.8 1612.2h.01M155.1 1579.7h.01M159.9 1596.2h.01M153.0 1583.4h.01M157.7 1599.4h.01M174.9 1613.6h.01M182.1 1599.9h.01M173.1 1599.1h.01M195.1 1618.7h.01M183.7 1624.6h.01M170.7 1595.7h.01M191.3 1622.1h.01M183.1 1628.6h.01M171.6 1620.4h.01M169.0 1589.5h.01M160.0 1600.1h.01M178.9 1628.3h.01M161.0 1600.3h.01M165.9 1577.1h.01M168.3 1604.0h.01M179.1 1620.2h.01M157.0 1600.5h.01M176.5 1604.7h.01M160.9 1607.0h.01M175.7 1626.9h.01M168.7 1577.4h.01M172.8 1606.3h.01M173.5 1612.0h.01M192.7 1617.7h.01M165.8 1609.2h.01M158.6 1579.8h.01M152.6 1582.5h.01M177.5 1624.1h.01M168.7 1586.4h.01M150.2 1593.9h.01M179.0 1631.7h.01M150.8 1591.8h.01M171.2 1615.5h.01M168.1 1602.7h.01M166.6 1578.1h.01M174.8 1596.4h.01M172.0 1611.4h.01M165.6 1586.0h.01M184.4 1612.9h.01M168.9 1612.5h.01M198.8 1624.0h.01M160.5 1590.7h.01M153.0 1589.8h.01M173.9 1628.5h.01M185.1 1611.3h.01M150.6 1596.0h.01M182.2 1603.3h.01M182.1 1630.3h.01M174.3 1590.5h.01M147.2 1586.1h.01M166.7 1578.3h.01" stroke="#452853" stroke-width="11.6" stroke-linecap="round" fill="none"/>
<path d="M176.9 1581.0h.01M173.8 1570.5h.01M192.8 1600.7h.01M193.0 1587.4h.01M196.5 1595.5h.01M203.9 1606.2h.01M191.9 1589.5h.01M200.4 1616.2h.01M178.9 1578.9h.01M191.3 1585.4h.01M176.6 1583.1h.01M177.5 1579.6h.01M196.9 1600.7h.01M192.1 1594.3h.01M203.2 1608.3h.01M202.8 1612.7h.01M188.9 1600.4h.01M206.2 1608.4h.01M183.6 1571.1h.01M197.5 1590.9h.01M188.2 1583.6h.01M185.9 1569.2h.01M179.9 1572.4h.01M184.0 1580.1h.01M174.3 1571.6h.01M197.4 1603.4h.01M185.1 1594.9h.01M193.6 1607.3h.01M189.8 1603.7h.01M183.5 1580.3h.01M204.7 1610.3h.01M207.5 1604.2h.01M184.4 1569.1h.01M210.4 1600.1h.01M203.3 1609.3h.01M174.3 1569.5h.01M178.3 1571.4h.01M190.0 1591.0h.01M184.3 1578.0h.01M190.5 1597.2h.01M183.0 1574.5h.01M184.8 1567.1h.01M173.7 1573.1h.01M201.4 1618.3h.01M185.1 1570.0h.01" stroke="#48295C" stroke-width="11.6" stroke-linecap="round" fill="none"/>
<path d="M196.8 1578.0h.01M204.1 1586.7h.01M223.4 1593.2h.01M201.3 1582.2h.01M212.6 1580.2h.01M210.8 1577.2h.01M221.9 1590.8h.01M191.1 1562.0h.01M216.4 1605.3h.01M199.5 1556.0h.01M203.5 1568.3h.01M195.7 1579.6h.01M188.5 1569.8h.01M211.0 1586.2h.01M220.9 1589.1h.01M199.3 1567.9h.01M220.6 1591.7h.01M185.9 1563.0h.01M220.2 1601.2h.01M197.0 1566.6h.01M221.3 1595.4h.01M195.6 1560.2h.01M216.5 1594.1h.01M196.1 1570.7h.01M213.9 1601.1h.01M197.9 1553.9h.01M206.3 1582.8h.01M204.8 1576.5h.01M197.8 1569.7h.01M213.4 1592.0h.01M202.0 1565.9h.01M215.3 1582.6h.01M194.9 1576.1h.01M207.9 1576.6h.01M202.3 1563.5h.01M189.0 1568.5h.01M185.4 1561.1h.01M203.2 1571.8h.01M223.9 1592.0h.01" stroke="#4B2965" stroke-width="11.6" stroke-linecap="round" fill="none"/>
<path d="M201.1 1559.2h.01M228.6 1574.0h.01M204.6 1555.6h.01M232.5 1581.8h.01M227.4 1572.2h.01M206.3 1562.2h.01M223.7 1577.5h.01M210.3 1559.9h.01M223.4 1566.0h.01M202.3 1559.7h.01M212.8 1571.5h.01M215.8 1566.7h.01M210.2 1552.7h.01M201.4 1554.4h.01M203.2 1555.9h.01M211.5 1566.5h.01M233.5 1579.5h.01M228.4 1587.9h.01M214.3 1574.3h.01M226.4 1578.9h.01M223.2 1573.4h.01M214.2 1558.1h.01M228.5 1589.1h.01M218.5 1580.6h.01M207.6 1557.4h.01M235.9 1579.8h.01M205.4 1551.2h.01M200.6 1558.7h.01M218.3 1577.5h.01M229.7 1580.2h.01M205.9 1564.0h.01M231.3 1576.8h.01M223.6 1574.1h.01M225.7 1586.9h.01M213.7 1569.0h.01M200.7 1554.5h.01" stroke="#4E2A6F" stroke-width="11.6" stroke-linecap="round" fill="none"/>
<path d="M227.0 1566.0h.01M219.7 1548.9h.01M222.0 1553.5h.01M243.4 1572.2h.01M241.5 1570.4h.01M229.8 1554.0h.01M223.6 1543.5h.01M233.7 1560.6h.01M227.8 1561.9h.01M243.9 1571.3h.01M223.2 1546.7h.01M239.7 1561.8h.01M210.7 1548.4h.01M229.9 1570.8h.01M222.1 1553.2h.01M213.7 1552.2h.01M224.1 1551.9h.01M231.1 1555.8h.01M235.4 1575.8h.01M223.4 1542.1h.01M236.5 1556.8h.01" stroke="#502C76" stroke-width="11.6" stroke-linecap="round" fill="none"/>
<path d="M253.6 1556.6h.01M252.0 1554.1h.01M248.2 1557.7h.01M234.4 1537.8h.01M234.2 1541.3h.01M236.4 1537.8h.01M245.0 1557.5h.01M226.6 1539.0h.01M251.5 1562.7h.01M241.7 1561.1h.01M248.0 1566.5h.01M243.4 1543.0h.01M246.5 1567.4h.01M248.4 1562.0h.01M237.2 1541.2h.01M258.4 1560.0h.01M244.7 1544.2h.01M250.0 1552.0h.01M229.3 1539.5h.01M231.2 1541.8h.01M247.4 1562.6h.01M250.0 1547.8h.01M234.9 1539.6h.01M223.8 1541.1h.01M228.6 1537.2h.01M236.0 1536.1h.01" stroke="#4F3178" stroke-width="11.6" stroke-linecap="round" fill="none"/>
<path d="M260.3 1550.4h.01M266.3 1544.3h.01M255.8 1541.5h.01M246.1 1534.7h.01M242.8 1529.6h.01M250.7 1541.5h.01M259.5 1545.6h.01M244.7 1529.2h.01M264.0 1546.8h.01M261.9 1537.9h.01M243.2 1530.7h.01M258.7 1542.1h.01M255.8 1553.7h.01M250.6 1547.7h.01M251.9 1538.2h.01M258.7 1553.8h.01" stroke="#4E367A" stroke-width="11.6" stroke-linecap="round" fill="none"/>
<path d="M272.7 1533.8h.01M250.9 1524.2h.01M265.5 1521.0h.01M260.0 1518.4h.01M266.1 1518.0h.01M267.8 1529.7h.01M258.9 1521.5h.01M250.9 1525.2h.01M270.0 1534.7h.01M265.3 1535.3h.01M251.1 1521.7h.01M257.1 1522.0h.01M260.6 1513.4h.01M260.0 1531.9h.01M251.7 1523.4h.01M263.3 1520.5h.01M270.8 1538.2h.01M257.2 1527.6h.01M275.1 1529.1h.01M275.0 1531.8h.01M265.5 1534.0h.01M267.6 1536.5h.01M272.3 1538.4h.01M253.8 1523.4h.01" stroke="#4E3B7C" stroke-width="11.6" stroke-linecap="round" fill="none"/>
<path d="M278.4 1519.1h.01M265.1 1514.0h.01M269.4 1518.2h.01M281.6 1529.9h.01M280.5 1523.9h.01M269.4 1504.9h.01M281.0 1529.1h.01M281.0 1529.7h.01M268.4 1506.4h.01M264.0 1511.6h.01M270.7 1507.0h.01M278.0 1520.7h.01M274.1 1524.2h.01M269.7 1519.3h.01M268.1 1507.3h.01M274.1 1525.2h.01M282.0 1523.6h.01" stroke="#4D407E" stroke-width="11.6" stroke-linecap="round" fill="none"/>
<path d="M288.6 1523.7h.01M286.2 1500.9h.01M292.7 1514.9h.01M294.8 1520.0h.01M284.0 1513.3h.01M292.2 1509.4h.01M274.2 1503.3h.01M290.2 1522.4h.01M281.0 1497.0h.01M288.5 1510.4h.01M283.1 1497.7h.01M288.3 1505.9h.01M293.5 1518.9h.01M276.1 1506.5h.01" stroke="#4C4480" stroke-width="11.6" stroke-linecap="round" fill="none"/>
<path d="M296.2 1495.6h.01M306.0 1508.8h.01M298.8 1514.9h.01M307.1 1510.4h.01M299.5 1513.1h.01M299.4 1496.8h.01M304.2 1506.8h.01M306.6 1507.2h.01M287.0 1500.8h.01M303.0 1508.1h.01M282.5 1496.4h.01M287.8 1501.6h.01M287.6 1496.8h.01M298.1 1514.1h.01M288.8 1492.4h.01M301.4 1513.1h.01M300.3 1499.0h.01M296.4 1509.0h.01M285.0 1491.8h.01M288.2 1498.9h.01M310.6 1513.4h.01" stroke="#4A4882" stroke-width="11.6" stroke-linecap="round" fill="none"/>
<path d="M308.2 1502.2h.01M301.1 1488.4h.01M311.3 1498.4h.01M313.8 1507.6h.01M315.2 1501.0h.01M300.3 1492.8h.01M302.5 1485.3h.01M317.5 1504.8h.01M300.3 1483.9h.01M316.6 1496.9h.01M299.0 1477.1h.01M302.2 1488.9h.01M302.8 1480.0h.01M298.7 1480.1h.01M316.4 1501.5h.01M314.7 1501.1h.01M298.4 1491.2h.01" stroke="#484B84" stroke-width="11.6" stroke-linecap="round" fill="none"/>
<path d="M315.6 1481.7h.01M322.1 1475.2h.01M327.6 1492.1h.01M303.2 1468.8h.01M308.3 1469.0h.01M319.8 1497.2h.01M323.7 1483.1h.01M323.4 1494.6h.01M307.8 1468.4h.01M308.3 1469.2h.01M304.0 1477.2h.01M313.9 1484.3h.01M315.6 1484.1h.01M310.3 1472.2h.01M335.3 1485.2h.01M315.3 1484.6h.01M310.4 1478.0h.01M307.3 1473.4h.01M314.5 1472.4h.01M318.5 1493.1h.01M329.8 1487.7h.01M305.2 1471.6h.01M302.9 1477.9h.01M322.6 1487.7h.01M316.4 1483.7h.01M301.1 1477.7h.01M332.3 1487.9h.01M330.9 1483.0h.01M310.3 1485.4h.01M309.6 1480.5h.01M316.2 1474.1h.01M317.6 1488.4h.01M317.5 1484.2h.01M306.1 1472.3h.01M304.0 1472.0h.01" stroke="#465084" stroke-width="11.6" stroke-linecap="round" fill="none"/>
<path d="M334.5 1479.0h.01M331.2 1479.7h.01M340.0 1460.6h.01M342.2 1468.0h.01M326.7 1471.4h.01M311.7 1462.7h.01M321.6 1462.6h.01M332.2 1483.2h.01M318.4 1472.3h.01M328.0 1454.3h.01M326.7 1468.9h.01M322.7 1470.3h.01M333.8 1482.8h.01M322.5 1470.5h.01M341.5 1465.0h.01M316.6 1460.6h.01M318.9 1455.7h.01M339.5 1468.8h.01M317.3 1458.3h.01M335.7 1478.3h.01M318.0 1472.2h.01M337.6 1472.8h.01M334.9 1471.2h.01M326.1 1466.7h.01M316.7 1470.9h.01M319.4 1464.8h.01M323.4 1450.1h.01M314.3 1463.2h.01M322.1 1454.3h.01M324.6 1470.7h.01M318.2 1454.9h.01M334.0 1463.8h.01M330.3 1470.5h.01M338.1 1476.7h.01M318.9 1469.0h.01M330.1 1454.4h.01M314.7 1459.6h.01M340.5 1463.5h.01M326.3 1472.9h.01M314.9 1456.9h.01M339.0 1470.5h.01" stroke="#445485" stroke-width="11.6" stroke-linecap="round" fill="none"/>
<path d="M354.7 1446.7h.01M340.3 1435.1h.01M352.7 1441.7h.01M334.5 1443.4h.01M345.6 1459.4h.01M335.4 1444.7h.01M343.7 1461.0h.01M347.8 1432.0h.01M330.4 1448.3h.01M336.8 1453.2h.01M340.7 1446.8h.01M342.0 1454.5h.01M350.9 1445.3h.01M339.5 1435.3h.01M337.8 1438.8h.01M335.5 1446.0h.01M337.0 1436.3h.01M339.1 1434.0h.01M341.8 1455.4h.01M342.9 1457.0h.01" stroke="#415886" stroke-width="11.6" stroke-linecap="round" fill="none"/>
<path d="M365.6 1443.5h.01M366.2 1414.6h.01M330.5 1435.1h.01M379.8 1444.8h.01M374.4 1430.6h.01M362.6 1442.9h.01M375.6 1436.1h.01M358.5 1444.4h.01M361.5 1418.7h.01M385.7 1420.5h.01M367.7 1441.3h.01M376.7 1425.0h.01M366.6 1420.4h.01M362.9 1446.8h.01M355.3 1450.7h.01M357.7 1449.4h.01M356.4 1438.4h.01M373.1 1416.6h.01M360.0 1439.6h.01M320.7 1433.2h.01M377.7 1445.5h.01M325.7 1427.4h.01M362.6 1450.8h.01M321.9 1421.1h.01M379.3 1422.5h.01M370.0 1449.9h.01M377.7 1418.0h.01M373.1 1423.4h.01M374.5 1427.6h.01M329.3 1440.6h.01M360.7 1438.2h.01M363.6 1448.7h.01M367.1 1418.2h.01M360.4 1438.0h.01M381.0 1437.8h.01M386.5 1433.8h.01M373.2 1425.8h.01M380.7 1445.9h.01M370.5 1412.7h.01M361.1 1432.8h.01M318.3 1432.4h.01M377.2 1421.4h.01M333.6 1434.4h.01M362.6 1427.5h.01M380.1 1445.2h.01M360.1 1420.5h.01M371.3 1425.6h.01M372.5 1446.9h.01M384.6 1431.7h.01M347.5 1425.1h.01M383.4 1425.5h.01M323.1 1421.6h.01M358.5 1431.6h.01M319.8 1426.0h.01M324.9 1428.6h.01M378.6 1453.0h.01M358.7 1442.5h.01M370.8 1447.0h.01M378.0 1447.2h.01M321.3 1420.9h.01M371.6 1432.9h.01M372.0 1428.5h.01M326.4 1423.8h.01M383.8 1437.9h.01M369.4 1450.8h.01M376.8 1429.5h.01M326.4 1433.4h.01M358.8 1418.6h.01M319.3 1425.2h.01" stroke="#3F5D86" stroke-width="11.6" stroke-linecap="round" fill="none"/>
<path d="M404.3 1448.6h.01M313.7 1427.3h.01M398.2 1437.4h.01M311.3 1410.4h.01M300.6 1417.2h.01M413.1 1423.9h.01M412.4 1437.3h.01M411.0 1427.2h.01M388.7 1439.7h.01M398.8 1442.6h.01M410.9 1443.8h.01M391.3 1451.1h.01M305.5 1422.7h.01M312.6 1427.3h.01M298.0 1407.9h.01M418.2 1445.1h.01M402.8 1433.0h.01M415.7 1444.8h.01M392.1 1417.4h.01M298.9 1413.3h.01M303.2 1423.1h.01M306.5 1421.1h.01M395.5 1433.8h.01M390.6 1432.4h.01M393.2 1440.1h.01M305.2 1405.2h.01M394.3 1447.7h.01M415.8 1429.8h.01M308.5 1416.8h.01M305.1 1421.7h.01M299.4 1420.1h.01M406.3 1436.0h.01M407.5 1426.1h.01M415.2 1428.9h.01M309.1 1427.2h.01M306.2 1424.0h.01M408.5 1447.9h.01M315.4 1415.4h.01M406.8 1448.8h.01M397.6 1451.1h.01M388.9 1435.9h.01M394.1 1450.6h.01M388.0 1447.6h.01M392.8 1432.5h.01M301.2 1419.3h.01M407.7 1430.9h.01M404.9 1430.6h.01M301.6 1412.4h.01M415.8 1428.9h.01M296.0 1416.6h.01M398.0 1426.9h.01M312.1 1413.7h.01M411.2 1440.9h.01M409.1 1439.8h.01M313.6 1414.2h.01M393.5 1439.8h.01" stroke="#3F6386" stroke-width="11.6" stroke-linecap="round" fill="none"/>
<path d="M288.5 1411.0h.01M423.4 1428.3h.01M273.8 1398.7h.01M432.2 1411.5h.01M454.8 1422.6h.01M421.6 1423.9h.01M415.4 1423.4h.01M445.7 1411.5h.01M438.1 1416.6h.01M430.0 1429.9h.01M435.0 1428.0h.01M439.2 1431.0h.01M280.1 1409.6h.01M424.5 1428.7h.01M281.4 1398.3h.01M453.0 1411.4h.01M434.4 1421.4h.01M290.1 1413.4h.01M432.5 1421.8h.01M290.9 1416.4h.01M432.5 1431.7h.01M437.9 1418.3h.01M439.3 1429.5h.01M440.6 1419.4h.01M446.5 1430.6h.01M300.4 1403.6h.01M444.9 1428.9h.01M449.3 1410.5h.01M282.2 1393.3h.01M291.5 1397.0h.01M422.3 1418.0h.01M439.5 1411.1h.01M270.2 1404.7h.01M285.9 1402.2h.01M290.0 1411.0h.01M420.8 1425.8h.01M454.1 1427.3h.01M432.9 1411.7h.01M421.4 1417.8h.01M429.2 1430.8h.01M437.7 1413.0h.01M418.4 1421.6h.01M298.1 1405.3h.01M444.6 1422.5h.01M447.5 1430.8h.01M436.5 1430.8h.01M289.6 1408.6h.01M448.8 1432.3h.01M294.3 1407.5h.01M280.8 1406.9h.01M434.6 1431.7h.01M428.5 1426.2h.01M441.6 1415.1h.01M297.8 1402.4h.01M288.0 1410.1h.01M292.8 1401.3h.01M456.0 1423.6h.01M299.0 1406.6h.01M282.1 1393.8h.01M446.7 1421.3h.01M453.8 1429.1h.01M431.5 1428.7h.01M289.0 1403.2h.01M450.3 1418.6h.01M279.8 1391.0h.01M294.4 1407.1h.01M289.7 1396.1h.01M445.5 1427.5h.01" stroke="#3E6887" stroke-width="11.6" stroke-linecap="round" fill="none"/>
<path d="M262.4 1400.1h.01M487.7 1434.4h.01M273.2 1384.6h.01M475.6 1430.1h.01M472.1 1410.3h.01M488.6 1411.8h.01M266.3 1383.1h.01M457.2 1422.5h.01M265.0 1399.7h.01M462.7 1413.9h.01M472.7 1432.4h.01M253.3 1385.0h.01M492.6 1416.2h.01M481.4 1416.8h.01M484.3 1436.6h.01M483.9 1425.3h.01M460.2 1431.5h.01M483.7 1423.0h.01M250.8 1392.3h.01M262.0 1384.0h.01M458.0 1414.0h.01M266.8 1395.6h.01M261.5 1382.8h.01M466.7 1410.0h.01M486.7 1423.9h.01M473.1 1422.3h.01M478.0 1432.4h.01M460.5 1427.3h.01M479.1 1406.1h.01M256.7 1394.9h.01M264.9 1390.0h.01M272.1 1395.4h.01M263.9 1383.9h.01M470.8 1417.5h.01M488.9 1412.8h.01M257.0 1376.5h.01M257.4 1375.2h.01M254.4 1385.1h.01M487.0 1408.1h.01M474.6 1412.6h.01M260.4 1376.5h.01M463.0 1435.6h.01M486.1 1422.7h.01M272.8 1386.7h.01M455.4 1408.2h.01" stroke="#3E6E87" stroke-width="11.6" stroke-linecap="round" fill="none"/>
<path d="M528.3 1432.3h.01M528.5 1416.8h.01M528.7 1414.8h.01M514.8 1418.8h.01M524.1 1418.0h.01M246.1 1373.5h.01M496.5 1422.8h.01M497.5 1425.7h.01M502.1 1411.1h.01M248.2 1373.7h.01M524.9 1417.9h.01M249.2 1379.4h.01M535.5 1436.4h.01M528.7 1432.5h.01M507.4 1421.9h.01M236.7 1363.3h.01M516.2 1432.4h.01M528.5 1422.4h.01M510.4 1435.3h.01M494.1 1410.9h.01M245.4 1383.6h.01M503.4 1427.0h.01M496.1 1425.3h.01M239.2 1380.9h.01M242.6 1380.0h.01M229.1 1373.8h.01M519.7 1418.5h.01M497.6 1436.0h.01M521.8 1435.1h.01M531.8 1430.6h.01M510.9 1430.5h.01M518.0 1427.7h.01M533.8 1428.3h.01M515.9 1436.9h.01M522.8 1431.2h.01M235.3 1381.3h.01M230.1 1376.4h.01M503.3 1410.8h.01M232.7 1380.6h.01M506.2 1430.6h.01M524.6 1416.7h.01M229.5 1376.6h.01M512.7 1437.9h.01M495.7 1419.6h.01M513.1 1410.8h.01M522.7 1414.1h.01M235.1 1373.5h.01M239.4 1374.5h.01M239.2 1365.5h.01M242.5 1369.9h.01M251.7 1377.0h.01M232.1 1380.0h.01M513.2 1426.8h.01M494.8 1431.9h.01M521.4 1439.4h.01M492.8 1434.5h.01M508.6 1435.6h.01M510.6 1413.7h.01M235.3 1366.3h.01M495.7 1411.1h.01M510.2 1435.9h.01M511.8 1439.4h.01M499.0 1424.5h.01M250.9 1380.5h.01M513.4 1428.0h.01M242.0 1385.5h.01M242.7 1387.0h.01M521.0 1427.4h.01M521.2 1429.1h.01M242.8 1366.7h.01M518.2 1422.9h.01M526.4 1425.5h.01M505.5 1425.4h.01M522.3 1418.1h.01M530.3 1429.0h.01M239.9 1365.9h.01" stroke="#3D7488" stroke-width="11.6" stroke-linecap="round" fill="none"/>
<path d="M223.8 1371.2h.01M215.5 1341.1h.01M213.7 1375.1h.01M221.4 1369.6h.01M537.8 1427.8h.01M213.9 1381.7h.01M212.9 1332.3h.01M216.7 1338.9h.01M218.4 1382.7h.01M220.8 1382.0h.01M213.0 1334.6h.01M214.6 1343.2h.01M222.1 1376.0h.01M213.6 1343.6h.01M213.0 1379.5h.01M551.2 1430.4h.01M557.3 1429.7h.01M541.3 1435.6h.01M218.4 1375.4h.01M536.3 1413.8h.01M219.9 1374.3h.01M216.5 1340.6h.01M212.6 1349.9h.01M552.6 1431.5h.01M546.3 1419.6h.01M547.5 1435.1h.01M217.6 1377.3h.01M541.7 1436.2h.01M214.1 1340.7h.01M536.0 1419.6h.01M217.9 1374.0h.01M547.1 1437.9h.01M544.8 1424.8h.01M213.2 1366.3h.01M215.4 1338.9h.01M555.2 1430.1h.01M536.8 1415.5h.01" stroke="#3E7B88" stroke-width="11.6" stroke-linecap="round" fill="none"/>
<path d="M205.2 1355.2h.01M197.0 1375.9h.01M205.5 1368.3h.01M193.8 1357.6h.01M211.7 1340.6h.01M197.0 1360.5h.01M204.3 1347.6h.01M195.8 1372.2h.01M188.6 1322.7h.01M192.7 1327.1h.01M205.5 1328.8h.01M207.3 1332.6h.01M201.9 1337.1h.01M200.1 1344.6h.01M205.9 1363.9h.01M191.6 1381.2h.01M189.9 1333.9h.01M188.7 1358.4h.01M207.9 1382.9h.01M188.6 1328.2h.01M196.9 1357.9h.01M199.1 1331.1h.01M195.1 1378.7h.01M205.1 1332.5h.01M210.4 1375.7h.01M193.8 1382.6h.01M190.1 1363.7h.01M210.1 1376.4h.01M201.6 1327.3h.01M195.1 1371.4h.01M194.6 1361.7h.01M205.9 1340.5h.01M204.6 1327.6h.01M205.9 1383.2h.01M205.7 1327.7h.01M211.5 1338.3h.01M207.3 1384.1h.01M200.9 1347.1h.01M200.1 1371.5h.01M210.9 1379.4h.01M205.5 1340.8h.01M203.2 1369.9h.01M210.4 1337.0h.01M195.2 1375.8h.01M196.8 1350.6h.01M203.3 1383.2h.01M188.8 1380.6h.01M202.5 1382.4h.01M189.8 1345.8h.01M207.1 1371.8h.01M205.1 1381.8h.01M196.6 1379.2h.01M188.1 1377.2h.01M195.7 1382.9h.01M210.0 1333.6h.01M201.8 1368.0h.01M198.5 1330.4h.01M206.3 1382.8h.01M198.8 1363.9h.01M201.9 1331.6h.01M192.1 1353.8h.01M210.0 1339.8h.01M200.3 1370.2h.01M211.7 1383.4h.01M189.8 1341.2h.01M198.1 1364.8h.01M194.5 1355.8h.01M207.9 1384.5h.01M203.9 1381.1h.01M203.4 1338.1h.01M204.6 1335.6h.01M202.3 1379.0h.01M196.7 1348.2h.01M210.0 1371.4h.01M195.0 1354.0h.01M206.9 1377.3h.01M196.1 1376.0h.01M196.8 1369.2h.01M201.8 1379.7h.01M198.3 1357.2h.01M192.0 1373.1h.01M194.1 1326.6h.01M210.6 1337.8h.01M200.7 1368.1h.01M210.8 1382.8h.01M208.5 1344.4h.01M199.0 1327.8h.01M206.1 1357.4h.01M210.8 1353.9h.01M198.4 1357.0h.01M211.2 1383.8h.01M189.2 1357.5h.01" stroke="#3F8289" stroke-width="11.6" stroke-linecap="round" fill="none"/>
<path d="M175.3 1376.1h.01M571.6 1434.2h.01M171.3 1325.8h.01M175.9 1334.1h.01M570.9 1450.5h.01M169.5 1358.0h.01M576.2 1446.3h.01M178.2 1345.5h.01M182.9 1374.9h.01M184.8 1374.9h.01M564.9 1449.6h.01M165.4 1350.6h.01M172.1 1379.7h.01M167.3 1380.7h.01M584.2 1446.4h.01M589.3 1435.0h.01M165.1 1375.4h.01M173.7 1355.2h.01M180.5 1325.8h.01M164.3 1368.7h.01M173.0 1337.8h.01M569.2 1432.7h.01M563.0 1439.6h.01M168.7 1362.6h.01M171.5 1326.6h.01M167.0 1345.6h.01M560.0 1445.5h.01M187.4 1377.6h.01M579.8 1448.4h.01M169.3 1332.6h.01M177.1 1328.8h.01M167.1 1367.7h.01M186.5 1355.1h.01M164.8 1331.5h.01M566.2 1435.3h.01M168.4 1343.4h.01M183.7 1368.1h.01M579.6 1436.4h.01M590.2 1430.1h.01M581.3 1432.4h.01M173.2 1354.4h.01M168.9 1344.3h.01M560.2 1444.3h.01M164.2 1366.6h.01M584.8 1449.2h.01M187.3 1379.1h.01M561.9 1446.3h.01M173.2 1373.3h.01M170.1 1316.5h.01M586.7 1427.6h.01M579.0 1441.2h.01M170.9 1377.2h.01M168.2 1372.2h.01M169.6 1359.5h.01M571.6 1426.6h.01M178.7 1375.1h.01M170.1 1370.0h.01M574.1 1435.2h.01M573.4 1440.5h.01M183.9 1328.3h.01M175.3 1318.4h.01M184.3 1349.8h.01M564.5 1441.0h.01M584.8 1445.0h.01M187.6 1376.7h.01M180.7 1320.9h.01M180.0 1370.9h.01M564.2 1440.1h.01M177.4 1344.5h.01M186.0 1339.1h.01M177.1 1318.8h.01M561.8 1442.7h.01M177.1 1359.6h.01M181.1 1356.2h.01M185.7 1338.1h.01M178.3 1365.8h.01M182.3 1326.1h.01M567.7 1435.7h.01M187.0 1346.0h.01M176.0 1371.2h.01M176.0 1349.1h.01M582.1 1445.7h.01M172.1 1348.6h.01M563.1 1438.6h.01M166.0 1370.7h.01M581.1 1446.4h.01M569.4 1433.9h.01M174.1 1374.7h.01M176.6 1323.3h.01M172.3 1378.4h.01M577.5 1449.2h.01M565.5 1448.2h.01M167.3 1326.5h.01M179.2 1344.6h.01M570.6 1447.7h.01M187.6 1364.8h.01M179.0 1325.6h.01M182.0 1357.9h.01M166.3 1317.9h.01M165.7 1364.5h.01M583.5 1447.9h.01M174.8 1331.3h.01M576.0 1447.4h.01M187.9 1320.3h.01M169.9 1355.4h.01M179.5 1381.3h.01M571.3 1451.7h.01M180.4 1328.8h.01M172.2 1322.2h.01M173.3 1354.5h.01M186.2 1322.4h.01M176.4 1334.2h.01M581.2 1445.9h.01M177.2 1320.1h.01M176.1 1375.8h.01M576.2 1435.2h.01M171.4 1379.4h.01M179.7 1370.5h.01M176.3 1365.0h.01M175.0 1338.2h.01" stroke="#418A89" stroke-width="11.6" stroke-linecap="round" fill="none"/>
<path d="M608.3 1452.3h.01M148.8 1330.6h.01M146.4 1337.4h.01M163.1 1334.7h.01M159.0 1328.8h.01M602.4 1444.3h.01M155.7 1327.3h.01M157.1 1330.0h.01M152.4 1354.0h.01M610.5 1445.1h.01M154.6 1339.7h.01M152.1 1361.7h.01M147.8 1347.4h.01M149.3 1321.7h.01M163.8 1325.9h.01M152.2 1329.7h.01M149.5 1333.4h.01M147.9 1343.5h.01M156.9 1343.0h.01M160.6 1375.5h.01M595.7 1451.4h.01M163.6 1367.2h.01M152.8 1372.5h.01M147.9 1330.5h.01M155.4 1359.0h.01M157.4 1360.1h.01M155.5 1333.6h.01M160.0 1326.4h.01M144.5 1327.5h.01M146.5 1359.9h.01M609.0 1439.6h.01M158.2 1371.4h.01M164.1 1325.1h.01M159.3 1375.2h.01M157.0 1339.2h.01M156.2 1366.3h.01M159.4 1322.6h.01M157.5 1377.1h.01M602.8 1454.9h.01M156.3 1336.1h.01M140.3 1365.6h.01M158.3 1374.6h.01M604.9 1448.5h.01M160.1 1376.5h.01M149.7 1365.0h.01M152.6 1359.1h.01M607.4 1454.8h.01M154.2 1377.1h.01M144.1 1337.3h.01M151.1 1359.5h.01M156.9 1338.7h.01M148.4 1351.6h.01M601.3 1443.5h.01M598.4 1440.7h.01M154.3 1344.5h.01M149.2 1343.8h.01M609.8 1447.2h.01M162.6 1364.1h.01M596.6 1447.4h.01M146.0 1347.5h.01M147.6 1374.3h.01M590.2 1452.7h.01M590.7 1441.4h.01M143.6 1359.2h.01M592.3 1442.0h.01M163.3 1348.0h.01M592.9 1439.1h.01M146.5 1339.9h.01M156.6 1343.2h.01M155.7 1372.4h.01M157.2 1375.9h.01M150.7 1331.5h.01M593.9 1453.0h.01M595.9 1452.8h.01M140.9 1350.6h.01M162.7 1361.5h.01M160.2 1328.9h.01M162.8 1331.1h.01M146.7 1369.6h.01M144.3 1366.4h.01M591.6 1445.6h.01M158.6 1335.7h.01M606.6 1432.2h.01M589.9 1451.8h.01M604.0 1440.5h.01M148.6 1360.9h.01M150.7 1338.3h.01M594.8 1451.5h.01M157.8 1330.2h.01M155.8 1332.3h.01M160.9 1345.9h.01M147.6 1371.2h.01" stroke="#42918A" stroke-width="11.6" stroke-linecap="round" fill="none"/>
<path d="M640.3 1451.7h.01M615.8 1434.6h.01M625.1 1445.1h.01M135.7 1354.9h.01M618.3 1427.4h.01M614.6 1443.0h.01M625.8 1451.9h.01M641.3 1432.6h.01M627.9 1430.6h.01M637.7 1443.3h.01M133.2 1356.2h.01M628.4 1440.4h.01M615.1 1444.7h.01M630.5 1445.5h.01M614.9 1449.8h.01M639.1 1448.3h.01M645.8 1434.0h.01M618.7 1442.7h.01M621.6 1458.0h.01M631.2 1438.7h.01M633.8 1445.3h.01M631.5 1451.3h.01M612.3 1431.1h.01M615.7 1427.2h.01M131.0 1323.0h.01M635.8 1445.9h.01M634.0 1432.0h.01M623.2 1447.2h.01M138.4 1358.4h.01M614.0 1428.4h.01M626.8 1451.7h.01M634.4 1448.1h.01M639.0 1430.3h.01M638.3 1441.8h.01M618.1 1457.2h.01M610.7 1444.6h.01M626.5 1439.8h.01M622.2 1448.8h.01M634.6 1446.4h.01M137.9 1352.2h.01M611.6 1443.8h.01M615.9 1455.2h.01M613.6 1432.1h.01M631.0 1442.9h.01M618.2 1442.2h.01M635.1 1444.9h.01M633.3 1429.9h.01M634.7 1429.4h.01M629.8 1456.7h.01" stroke="#44988A" stroke-width="11.6" stroke-linecap="round" fill="none"/>
<path d="M644.6 1442.0h.01M645.3 1449.5h.01M654.8 1455.1h.01" stroke="#46A18B" stroke-width="11.6" stroke-linecap="round" fill="none"/>
<path d="M674.9 1475.6h.01M667.5 1439.7h.01M664.7 1450.1h.01M674.2 1441.2h.01M663.6 1440.7h.01M659.0 1447.2h.01M668.0 1475.3h.01M668.4 1441.4h.01M670.1 1469.4h.01M668.6 1440.7h.01M669.9 1443.6h.01M666.7 1438.5h.01M666.4 1472.0h.01M673.9 1478.5h.01M665.4 1444.4h.01M673.3 1478.4h.01M665.8 1443.9h.01M672.6 1441.1h.01M665.6 1452.0h.01M663.7 1443.3h.01M675.5 1479.1h.01M665.9 1478.9h.01M661.5 1441.5h.01M671.8 1472.7h.01M672.9 1438.0h.01M672.7 1435.8h.01M661.8 1452.9h.01" stroke="#49A98A" stroke-width="11.6" stroke-linecap="round" fill="none"/>
<path d="M676.0 1482.3h.01M670.0 1495.3h.01M686.4 1434.4h.01M683.6 1435.9h.01M683.1 1438.3h.01M677.2 1483.9h.01M676.8 1501.3h.01M669.3 1487.4h.01M676.2 1439.9h.01M663.9 1493.3h.01M681.7 1491.6h.01M685.6 1431.0h.01M665.2 1490.3h.01M681.7 1431.5h.01M663.9 1495.3h.01M683.8 1502.7h.01M674.8 1435.6h.01M669.4 1494.3h.01M675.5 1436.8h.01M685.5 1438.2h.01M674.9 1505.0h.01M675.9 1433.3h.01M666.8 1499.1h.01M672.2 1497.2h.01M684.8 1436.0h.01M680.9 1505.9h.01" stroke="#52B084" stroke-width="11.6" stroke-linecap="round" fill="none"/>
<path d="M708.9 1412.2h.01M671.1 1526.6h.01M648.1 1526.8h.01M684.4 1522.1h.01M666.8 1518.3h.01M674.0 1508.9h.01M663.6 1516.5h.01M675.4 1523.4h.01M675.0 1514.1h.01M682.5 1511.1h.01M649.3 1513.3h.01M652.2 1512.9h.01M645.9 1522.5h.01M645.7 1525.9h.01M687.9 1517.4h.01M694.8 1433.6h.01M659.9 1500.9h.01M682.7 1515.8h.01M710.5 1411.9h.01M697.9 1429.0h.01M666.4 1510.3h.01M680.7 1522.1h.01M708.0 1411.8h.01M673.6 1511.4h.01M683.7 1514.7h.01M684.6 1515.6h.01M654.1 1509.4h.01M654.7 1526.4h.01M697.6 1430.9h.01M649.4 1522.5h.01M680.9 1520.3h.01M650.6 1520.9h.01M683.3 1522.4h.01M692.2 1433.3h.01M644.1 1520.6h.01M655.9 1499.8h.01M680.6 1513.2h.01M651.0 1510.1h.01M683.4 1512.8h.01M674.2 1514.9h.01M663.1 1524.7h.01M715.5 1408.3h.01M648.1 1526.5h.01" stroke="#5BB77E" stroke-width="11.6" stroke-linecap="round" fill="none"/>
<path d="M716.2 1428.3h.01M716.4 1426.3h.01M711.9 1418.0h.01M678.1 1542.2h.01M709.4 1419.5h.01M710.2 1422.7h.01M655.1 1529.8h.01M654.3 1548.0h.01M663.6 1529.8h.01M717.2 1429.2h.01M714.7 1429.0h.01M712.7 1419.3h.01M721.4 1412.8h.01M721.5 1425.5h.01M713.3 1411.9h.01M682.7 1535.6h.01M718.6 1419.2h.01M682.6 1534.4h.01M723.8 1419.9h.01M649.1 1539.7h.01M720.1 1410.7h.01M655.6 1542.1h.01M720.9 1416.7h.01M718.8 1421.1h.01M680.4 1532.8h.01M651.7 1530.2h.01M680.3 1542.3h.01M714.3 1429.3h.01M714.0 1416.1h.01M718.5 1420.0h.01M663.4 1531.4h.01M711.4 1414.3h.01M719.6 1413.8h.01M725.5 1424.5h.01M684.0 1540.4h.01M716.6 1432.0h.01M718.9 1420.8h.01M719.0 1421.5h.01M682.2 1541.7h.01M709.2 1417.1h.01M715.5 1411.9h.01M650.9 1541.1h.01M669.9 1536.5h.01M674.5 1546.3h.01M663.6 1527.7h.01M714.8 1431.5h.01M715.0 1426.8h.01M653.2 1537.8h.01M713.0 1413.9h.01M664.2 1539.8h.01M678.7 1528.5h.01M721.5 1413.0h.01M720.6 1414.3h.01M720.5 1414.9h.01M714.9 1418.7h.01M652.2 1543.6h.01M683.3 1530.3h.01M647.1 1531.7h.01M666.0 1545.8h.01M682.3 1542.6h.01M660.5 1531.0h.01M715.4 1419.6h.01M718.5 1414.7h.01M716.1 1415.4h.01M721.3 1416.3h.01M649.8 1537.7h.01M715.6 1421.8h.01M717.1 1419.3h.01M684.3 1543.0h.01M714.4 1410.7h.01M708.5 1424.5h.01M718.2 1420.6h.01M680.1 1536.1h.01M710.2 1414.1h.01M708.5 1420.2h.01M721.5 1414.6h.01M719.0 1423.5h.01M715.1 1418.6h.01M708.1 1420.7h.01M713.5 1421.4h.01M677.0 1541.3h.01M710.1 1418.1h.01M675.4 1529.4h.01" stroke="#64BE77" stroke-width="11.6" stroke-linecap="round" fill="none"/>
<path d="M653.5 1551.7h.01M671.9 1561.6h.01M660.6 1563.7h.01M665.2 1554.8h.01M674.8 1557.8h.01M680.0 1552.6h.01M725.3 1428.7h.01M681.9 1553.5h.01M666.8 1561.0h.01M670.3 1554.5h.01M724.1 1430.3h.01M679.5 1558.3h.01M680.5 1552.2h.01M672.7 1557.8h.01M664.1 1555.6h.01M659.7 1561.7h.01M663.6 1562.3h.01M663.7 1563.2h.01M726.3 1427.7h.01M650.2 1552.6h.01M673.6 1555.3h.01" stroke="#6DC571" stroke-width="11.6" stroke-linecap="round" fill="none"/>
<path d="M669.0 1566.2h.01M658.4 1568.6h.01M659.1 1570.3h.01M655.4 1573.1h.01M660.5 1569.3h.01M655.3 1570.1h.01M658.6 1567.4h.01M659.2 1575.4h.01M665.2 1569.8h.01M672.5 1574.2h.01M669.9 1564.1h.01M671.4 1582.7h.01M661.7 1566.9h.01M670.6 1565.7h.01M674.4 1577.2h.01M664.3 1576.0h.01M680.6 1566.1h.01M664.0 1574.6h.01M654.4 1575.3h.01M656.0 1570.4h.01M673.2 1578.5h.01" stroke="#75C967" stroke-width="11.6" stroke-linecap="round" fill="none"/>
<path d="M672.9 1585.3h.01M663.2 1590.6h.01M666.5 1582.8h.01M658.6 1582.1h.01M665.1 1594.4h.01M666.8 1583.5h.01M657.0 1586.2h.01M668.7 1594.0h.01M669.6 1594.1h.01" stroke="#7DCE5E" stroke-width="11.6" stroke-linecap="round" fill="none"/>
<path d="M651.8 1591.4h.01M640.9 1598.9h.01M660.7 1599.0h.01M668.1 1606.8h.01M636.2 1605.5h.01M660.6 1598.7h.01M658.4 1602.2h.01M645.7 1601.0h.01M646.6 1594.9h.01M660.1 1596.6h.01M653.5 1611.6h.01M665.4 1596.1h.01M640.8 1595.1h.01M642.3 1599.5h.01M665.0 1604.6h.01M662.0 1609.6h.01M672.5 1601.0h.01M652.0 1610.2h.01M662.6 1598.8h.01M647.0 1598.7h.01M646.0 1599.7h.01M649.2 1596.8h.01M654.2 1596.4h.01M642.8 1600.1h.01M641.2 1601.8h.01M649.1 1608.7h.01M667.8 1610.9h.01M669.3 1608.3h.01M666.7 1616.9h.01M650.4 1590.5h.01M643.5 1605.8h.01" stroke="#84D355" stroke-width="11.6" stroke-linecap="round" fill="none"/>
<path d="M638.8 1622.3h.01M644.9 1612.7h.01M656.8 1622.0h.01M636.3 1627.0h.01M655.5 1618.0h.01M632.0 1620.9h.01M650.8 1620.0h.01M642.7 1619.2h.01M653.4 1626.5h.01M656.5 1629.4h.01M631.8 1625.1h.01M640.7 1612.0h.01M641.2 1624.4h.01M634.5 1629.7h.01M636.5 1616.4h.01M642.1 1625.0h.01M647.5 1632.8h.01M641.1 1613.7h.01M641.0 1612.9h.01" stroke="#8FD650" stroke-width="11.6" stroke-linecap="round" fill="none"/>
<path d="M632.1 1636.9h.01M658.0 1636.0h.01M654.2 1648.9h.01M639.9 1639.3h.01M653.7 1640.8h.01M631.0 1628.3h.01M644.4 1651.7h.01M634.8 1643.6h.01M634.7 1631.3h.01M652.0 1649.1h.01M651.2 1646.0h.01M637.3 1631.0h.01M649.4 1646.7h.01M635.5 1643.1h.01M650.1 1651.7h.01M659.0 1635.7h.01M656.4 1637.6h.01M649.4 1641.4h.01M641.8 1638.8h.01M645.9 1645.3h.01M647.2 1631.5h.01M655.6 1638.2h.01M628.3 1647.3h.01M655.8 1637.4h.01M633.4 1637.4h.01M640.9 1631.6h.01M630.2 1637.6h.01M654.6 1651.6h.01" stroke="#9AD84D" stroke-width="11.6" stroke-linecap="round" fill="none"/>
<path d="M642.7 1660.3h.01M643.5 1659.4h.01M639.5 1672.3h.01M638.2 1657.7h.01M627.5 1660.0h.01M636.8 1655.6h.01M631.3 1649.3h.01M630.4 1653.8h.01M627.3 1662.0h.01M631.0 1652.5h.01M625.4 1655.5h.01M623.3 1658.7h.01M629.0 1653.3h.01M631.5 1649.2h.01M624.9 1654.0h.01M646.7 1661.4h.01" stroke="#A5DA4A" stroke-width="11.6" stroke-linecap="round" fill="none"/>
<path d="M634.5 1680.9h.01M630.8 1688.7h.01M637.0 1684.8h.01M612.5 1671.2h.01M626.2 1663.7h.01M643.1 1676.4h.01M639.5 1678.4h.01M624.2 1668.3h.01M610.2 1674.7h.01M621.0 1668.6h.01M634.9 1689.6h.01M630.5 1679.1h.01M610.4 1678.3h.01M634.5 1682.9h.01M609.8 1675.8h.01M629.5 1672.7h.01M637.0 1678.8h.01M626.8 1677.3h.01M630.8 1687.0h.01M615.3 1668.7h.01M612.8 1670.9h.01M635.0 1677.6h.01M617.1 1674.6h.01M616.5 1674.4h.01M619.1 1680.9h.01M619.2 1662.8h.01M635.5 1678.3h.01M620.4 1679.3h.01M634.2 1687.9h.01M614.4 1666.7h.01M625.1 1664.3h.01M636.4 1681.7h.01" stroke="#B5DC4B" stroke-width="11.6" stroke-linecap="round" fill="none"/>
<path d="M601.6 1692.4h.01M617.4 1703.4h.01M614.5 1693.8h.01M610.1 1699.7h.01M631.6 1694.1h.01M619.2 1694.3h.01M622.9 1700.5h.01M601.6 1692.4h.01M606.3 1692.1h.01M621.7 1701.2h.01M610.3 1688.8h.01M626.3 1705.9h.01M617.0 1698.9h.01M610.0 1695.8h.01M630.1 1693.6h.01M625.4 1697.5h.01M624.4 1695.6h.01M606.2 1684.9h.01M601.5 1694.0h.01M602.1 1688.2h.01M623.7 1705.1h.01M599.2 1696.7h.01M627.5 1690.9h.01M610.4 1678.3h.01M611.2 1684.8h.01M623.0 1692.8h.01M624.6 1707.9h.01M632.7 1693.0h.01M606.9 1694.9h.01M627.0 1691.0h.01M619.3 1703.5h.01M622.2 1696.6h.01" stroke="#C4DE4C" stroke-width="11.6" stroke-linecap="round" fill="none"/>
<path d="M596.9 1704.2h.01M594.9 1709.2h.01M612.8 1716.8h.01M610.6 1724.2h.01M615.6 1725.4h.01M608.3 1716.2h.01M600.4 1709.9h.01M611.9 1711.5h.01M590.1 1708.6h.01M619.0 1710.9h.01M588.1 1713.1h.01M615.3 1726.5h.01M619.1 1716.8h.01M619.3 1718.2h.01M610.8 1726.5h.01M595.4 1717.2h.01M604.4 1726.4h.01M593.2 1703.6h.01M612.7 1717.4h.01M609.4 1729.4h.01M605.1 1726.4h.01M611.0 1711.7h.01M604.5 1715.0h.01M597.6 1716.1h.01M616.0 1712.5h.01M591.8 1703.7h.01M597.6 1698.4h.01M593.1 1705.8h.01M589.3 1715.7h.01M599.3 1719.4h.01M594.3 1711.8h.01" stroke="#D1DF4B" stroke-width="11.6" stroke-linecap="round" fill="none"/>
<path d="M603.4 1730.4h.01M595.0 1736.5h.01M602.2 1732.3h.01M570.6 1727.9h.01M600.9 1730.1h.01M576.4 1722.4h.01M606.5 1729.9h.01M597.1 1747.1h.01M585.1 1718.2h.01M590.8 1737.1h.01M593.6 1722.2h.01M590.4 1731.6h.01M590.3 1738.9h.01M597.7 1738.3h.01M581.9 1722.5h.01M581.6 1735.2h.01M593.0 1724.0h.01M604.3 1733.9h.01M608.2 1737.0h.01M581.4 1734.1h.01M579.0 1732.1h.01M599.9 1736.9h.01M608.1 1730.0h.01M574.7 1728.5h.01M577.2 1726.5h.01M592.3 1720.1h.01M605.1 1740.7h.01M605.6 1737.0h.01M583.4 1741.6h.01M597.4 1727.4h.01M586.0 1738.4h.01M571.5 1725.1h.01M584.5 1728.0h.01M600.3 1727.9h.01M570.2 1731.2h.01M570.8 1728.2h.01M600.1 1748.9h.01M609.1 1737.2h.01" stroke="#D7DD48" stroke-width="11.6" stroke-linecap="round" fill="none"/>
<path d="M554.3 1741.5h.01M583.6 1755.5h.01M592.8 1758.7h.01M570.6 1743.9h.01M582.1 1768.5h.01M570.4 1733.6h.01M561.2 1754.4h.01M585.2 1762.0h.01M572.9 1737.5h.01M587.1 1761.9h.01M579.0 1747.4h.01M582.2 1757.5h.01M582.1 1767.2h.01M569.1 1731.0h.01M560.9 1752.1h.01M554.6 1742.4h.01M583.6 1761.8h.01M580.0 1742.9h.01M567.9 1729.0h.01M588.6 1761.3h.01M572.0 1748.7h.01M570.3 1757.6h.01M567.5 1756.3h.01M569.2 1731.4h.01M578.3 1759.5h.01M588.5 1756.0h.01M579.2 1772.7h.01M554.4 1741.5h.01M568.2 1736.7h.01M586.2 1769.5h.01M574.6 1741.3h.01M593.6 1763.0h.01M553.7 1742.1h.01M579.8 1771.6h.01" stroke="#DDDA46" stroke-width="11.6" stroke-linecap="round" fill="none"/>
<path d="M562.0 1753.6h.01M546.8 1755.4h.01M550.6 1748.6h.01M566.1 1778.0h.01M564.0 1784.6h.01M559.1 1778.9h.01M545.2 1756.1h.01M554.8 1752.7h.01M551.0 1764.1h.01M567.9 1775.4h.01M567.3 1778.0h.01M559.6 1768.0h.01M574.2 1775.2h.01M554.7 1753.3h.01M570.9 1777.6h.01M567.8 1768.4h.01M565.5 1785.0h.01M566.7 1782.8h.01M566.5 1760.4h.01M564.9 1764.4h.01M573.0 1769.0h.01M558.6 1762.3h.01M549.7 1746.1h.01M558.0 1773.4h.01M570.8 1774.9h.01" stroke="#E3D843" stroke-width="11.6" stroke-linecap="round" fill="none"/>
<path d="M551.3 1772.6h.01M544.3 1770.0h.01M546.3 1780.3h.01M545.7 1762.7h.01M540.9 1755.3h.01M535.5 1766.5h.01M542.5 1764.9h.01M555.7 1777.1h.01M546.6 1764.9h.01M551.0 1783.9h.01M537.9 1764.4h.01M564.2 1784.5h.01M552.8 1786.5h.01M542.2 1773.4h.01M542.7 1778.4h.01M540.1 1762.7h.01M535.5 1770.0h.01M539.0 1771.3h.01M537.1 1758.4h.01M550.9 1778.9h.01M541.7 1759.2h.01M545.6 1775.7h.01M537.2 1767.3h.01" stroke="#E9D540" stroke-width="11.6" stroke-linecap="round" fill="none"/>
<path d="M141.4 1569.4C188.2 1517.4 212 1481 214.3 1435.7" stroke="#0D0F0D" stroke-width="3.3" fill="none"/>
<path d="M205.4 1415.2L227.8 1437.6L214.1 1436.0L205.6 1446.9Z" fill="#0D0F0D"/>
<path d="M268.8 1631.6C272 1560 390 1508 522.9 1499.5" stroke="#0D0F0D" stroke-width="3.3" fill="none"/>
<path d="M545.4 1498.5L516.7 1511.8L522.9 1499.5L515.6 1487.7Z" fill="#0D0F0D"/>
<circle cx="312.0" cy="1478.5" r="13.3" fill="#0A0A05"/>
<text transform="translate(312.0 1486.5)" font-size="22.5" fill="#fff" text-anchor="middle">1</text>
<circle cx="341.0" cy="1447.0" r="13.3" fill="#0A0A05"/>
<text transform="translate(341.0 1455.0)" font-size="22.5" fill="#fff" text-anchor="middle">2</text>
<circle cx="641.2" cy="1460.3" r="13.3" fill="#0A0A05"/>
<text transform="translate(641.2 1468.3)" font-size="22.5" fill="#fff" text-anchor="middle">3</text>
<text transform="translate(780.5 1260.8)" font-size="44.5" fill="#000" text-anchor="start" font-weight="bold">f</text>
<line x1="841.7" y1="1289.4" x2="841.7" y2="1812.3" stroke="#000" stroke-width="2"/>
<line x1="840.7" y1="1811.3" x2="1496.5" y2="1811.3" stroke="#000" stroke-width="2"/>
<line x1="834.7" y1="1354.0" x2="841.2" y2="1354.0" stroke="#222" stroke-width="2.7"/>
<text transform="translate(830.5 1361.3)" font-size="20.2" fill="#4D4D4D" text-anchor="end">5</text>
<line x1="834.7" y1="1507.5" x2="841.2" y2="1507.5" stroke="#222" stroke-width="2.7"/>
<text transform="translate(830.5 1514.8)" font-size="20.2" fill="#4D4D4D" text-anchor="end">0</text>
<line x1="834.7" y1="1661.0" x2="841.2" y2="1661.0" stroke="#222" stroke-width="2.7"/>
<text transform="translate(830.5 1668.3)" font-size="20.2" fill="#4D4D4D" text-anchor="end">−5</text>
<line x1="1004.0" y1="1811.8" x2="1004.0" y2="1818.8" stroke="#222" stroke-width="2.7"/>
<text transform="translate(1004.0 1840.0)" font-size="20.2" fill="#4D4D4D" text-anchor="middle">−5</text>
<line x1="1195.0" y1="1811.8" x2="1195.0" y2="1818.8" stroke="#222" stroke-width="2.7"/>
<text transform="translate(1195.0 1840.0)" font-size="20.2" fill="#4D4D4D" text-anchor="middle">0</text>
<line x1="1385.0" y1="1811.8" x2="1385.0" y2="1818.8" stroke="#222" stroke-width="2.7"/>
<text transform="translate(1385.0 1840.0)" font-size="20.2" fill="#4D4D4D" text-anchor="middle">5</text>
<text transform="translate(1168.5 1871.0) scale(0.905 1)" font-size="26.6" fill="#000" text-anchor="middle">Component 1</text>
<text transform="translate(796.0 1548.0) rotate(-90)" font-size="26.7" fill="#000" text-anchor="middle">Component 2</text>
<path d="M228 1375l8 6" transform="translate(742 0)" stroke="#0A0A05" stroke-width="4" fill="none"/>
<path d="M341 1447C380 1440 480 1436 557 1447L641 1460C652 1490 658 1520 652 1555C646 1595 632 1635 618 1665" transform="translate(742 0)" stroke="#0A0A05" stroke-width="4.2" fill="none"/>
<path d="M1076.5 1465.5h.01M1424.0 1439.4h.01M1041.2 1515.0h.01M1411.7 1514.4h.01M1397.0 1536.0h.01M1397.0 1447.7h.01M1069.2 1492.1h.01M1120.0 1440.1h.01M1076.9 1465.3h.01M1142.2 1445.0h.01M1255.9 1429.2h.01M980.7 1375.8h.01M1404.4 1448.1h.01M1244.4 1435.3h.01M1400.1 1552.5h.01M1118.7 1448.3h.01M1203.7 1425.8h.01M989.5 1371.9h.01M1210.4 1427.9h.01M1408.4 1484.2h.01M1439.0 1432.0h.01" stroke="#27325E" stroke-width="11.6" stroke-linecap="round" fill="none"/>
<path d="M1295.2 1747.5h.01M1041.4 1503.5h.01M1017.9 1528.6h.01M899.5 1589.8h.01M1229.4 1434.8h.01M924.6 1626.0h.01M1421.6 1491.1h.01M926.6 1575.0h.01M1002.5 1525.7h.01M1013.7 1525.8h.01M983.2 1529.9h.01M945.3 1378.1h.01M1283.0 1758.0h.01M1407.2 1523.7h.01M1381.3 1652.8h.01M926.7 1565.6h.01M1060.5 1455.1h.01M909.6 1577.1h.01M914.3 1585.2h.01M1013.0 1535.6h.01M910.5 1577.5h.01M1326.5 1446.3h.01M1087.1 1457.2h.01M1080.6 1474.2h.01M1405.2 1525.0h.01M1413.8 1538.2h.01M1003.1 1517.4h.01M917.8 1590.8h.01M1355.3 1668.0h.01M932.4 1599.6h.01M957.7 1602.9h.01M965.1 1579.1h.01M1333.8 1712.1h.01M1036.3 1484.4h.01M1000.6 1540.7h.01M966.2 1568.9h.01M1334.5 1712.8h.01M958.9 1555.5h.01M964.0 1601.4h.01M941.6 1557.2h.01M915.9 1630.9h.01M1280.6 1758.3h.01M1346.7 1720.6h.01M914.3 1619.4h.01M941.7 1383.1h.01M1072.8 1470.8h.01M976.2 1551.2h.01M940.7 1623.0h.01M1067.7 1495.6h.01M994.0 1553.1h.01M1407.5 1495.9h.01M966.0 1588.1h.01M1424.6 1546.6h.01M1407.6 1491.4h.01M932.4 1596.4h.01M1086.7 1460.9h.01M1330.9 1711.2h.01M924.6 1582.1h.01M1402.8 1577.7h.01M966.9 1541.2h.01M1402.7 1580.3h.01M1384.3 1640.1h.01M1014.2 1528.3h.01M1043.1 1488.4h.01M955.5 1553.8h.01M1366.4 1707.0h.01M940.8 1376.6h.01M936.8 1583.8h.01M1283.0 1757.3h.01M923.9 1578.8h.01M1099.7 1448.4h.01M988.0 1525.9h.01M944.5 1559.8h.01M919.1 1627.5h.01M1307.0 1741.7h.01M914.2 1596.1h.01M933.9 1615.6h.01M931.0 1576.4h.01M910.1 1603.5h.01M948.4 1590.5h.01M919.9 1607.2h.01M1252.4 1436.4h.01M962.7 1567.8h.01M974.3 1582.7h.01M1414.1 1546.3h.01M1142.5 1441.1h.01M907.4 1575.4h.01M1260.9 1438.5h.01M1387.9 1657.4h.01M994.9 1549.6h.01M1285.4 1756.0h.01M1344.7 1717.8h.01M1003.8 1550.5h.01M956.0 1379.5h.01M1013.3 1540.3h.01M916.0 1629.7h.01M1124.6 1450.5h.01M903.7 1585.7h.01M1375.5 1452.7h.01M949.8 1611.0h.01M985.6 1573.0h.01M1392.4 1533.7h.01M904.5 1611.5h.01M890.2 1373.9h.01M973.1 1560.9h.01M939.5 1606.2h.01M1408.7 1584.6h.01M1278.1 1760.6h.01M912.5 1608.7h.01M921.3 1631.6h.01M983.0 1573.8h.01M917.3 1574.0h.01M1058.2 1459.6h.01" stroke="#B49FDB" stroke-width="11.6" stroke-linecap="round" fill="none"/>
<path d="M1047.9 1470.6h.01M1045.5 1481.6h.01M1005.0 1511.9h.01M1000.1 1533.6h.01M989.6 1529.0h.01" stroke="#A52A2A" stroke-width="11.6" stroke-linecap="round" fill="none"/>
<path d="M1035.2 1503.8h.01M927.5 1592.5h.01M1002.6 1519.3h.01M905.0 1327.3h.01M1432.1 1429.8h.01M1091.2 1439.8h.01M898.4 1602.6h.01M981.7 1553.8h.01M893.8 1353.8h.01M1118.4 1434.8h.01M893.9 1589.8h.01M1237.0 1412.8h.01M1029.8 1523.9h.01M941.6 1569.1h.01M1088.3 1452.7h.01M1016.7 1527.0h.01M1075.3 1484.7h.01M1102.6 1448.2h.01M1401.9 1454.9h.01M1066.3 1495.1h.01M1074.3 1472.4h.01M1222.7 1420.8h.01M923.2 1602.8h.01M1005.1 1536.4h.01M1106.1 1448.0h.01M1276.0 1437.7h.01M1436.0 1427.8h.01M1086.7 1437.4h.01M903.4 1610.5h.01M966.9 1542.6h.01M1006.4 1390.5h.01M1253.0 1436.9h.01M1179.2 1431.0h.01M1210.4 1434.7h.01M1332.1 1434.5h.01M899.7 1608.6h.01M979.9 1538.1h.01M1443.5 1430.3h.01M1043.6 1512.9h.01M1214.1 1433.6h.01M1074.1 1460.3h.01M961.6 1605.8h.01M1079.0 1477.1h.01M954.9 1547.9h.01M908.9 1608.6h.01M931.8 1566.2h.01M1251.0 1433.6h.01M1004.5 1378.6h.01M1130.8 1449.0h.01M1033.6 1514.6h.01M1353.7 1440.8h.01M933.7 1325.3h.01M1056.2 1470.4h.01M900.9 1343.9h.01M937.8 1616.0h.01M898.6 1335.8h.01M1016.9 1405.7h.01M950.7 1603.4h.01M929.9 1618.7h.01M1030.6 1522.2h.01M1044.9 1509.4h.01M1000.9 1554.4h.01M919.4 1626.4h.01M928.7 1380.2h.01M956.1 1341.2h.01M1400.6 1444.4h.01M938.4 1583.5h.01M979.6 1574.8h.01M1148.0 1447.7h.01M1019.3 1533.1h.01M941.5 1339.4h.01M1213.4 1432.5h.01M1042.9 1513.3h.01M958.4 1548.0h.01M1007.5 1529.1h.01M1282.2 1418.9h.01M1439.6 1430.8h.01M1050.4 1496.8h.01M1102.7 1446.1h.01M1011.9 1531.5h.01M920.2 1576.0h.01M1077.4 1466.0h.01M956.8 1579.0h.01M909.2 1314.0h.01M1066.9 1489.4h.01M1189.6 1431.2h.01M1116.5 1434.4h.01M893.4 1588.3h.01M1165.2 1448.7h.01" stroke="#D4A3E0" stroke-width="11.6" stroke-linecap="round" fill="none"/>
<path d="M1382.3 1434.8h.01M1404.2 1515.3h.01M1417.8 1431.9h.01M1320.5 1444.3h.01M1426.1 1436.7h.01M1376.0 1452.8h.01M1035.8 1518.0h.01M1323.0 1442.5h.01M1226.0 1432.2h.01M1302.1 1446.3h.01M1389.6 1436.6h.01M1369.6 1425.4h.01M1358.7 1453.7h.01M1370.0 1432.0h.01M1314.1 1440.2h.01M1337.7 1444.8h.01M1102.1 1447.0h.01M1388.5 1434.2h.01M1296.0 1429.4h.01M1332.0 1442.0h.01M1359.7 1455.9h.01M1345.0 1447.8h.01M1118.7 1444.2h.01M1325.5 1445.1h.01M1336.3 1436.8h.01M1381.7 1433.4h.01M1217.3 1427.9h.01M1348.7 1430.5h.01M1347.1 1453.2h.01M1034.0 1522.6h.01M1247.7 1429.4h.01M1379.4 1446.6h.01M1429.3 1433.6h.01M1366.5 1452.4h.01M1010.4 1524.7h.01M1410.3 1480.8h.01M1366.0 1454.3h.01M1378.3 1439.3h.01M1341.0 1439.4h.01M1308.9 1446.1h.01M1142.8 1447.2h.01M1355.5 1443.6h.01M1059.5 1500.4h.01M1335.8 1442.8h.01M1409.0 1440.3h.01M1361.7 1454.8h.01M1081.2 1473.3h.01M1347.9 1442.9h.01M1351.8 1450.5h.01M1129.5 1448.8h.01M1333.2 1443.7h.01M1369.9 1445.3h.01M1319.9 1438.6h.01M1370.7 1436.2h.01M1331.5 1429.2h.01M1366.2 1443.7h.01M1369.6 1431.7h.01M1401.5 1535.3h.01M1382.5 1452.6h.01M1313.4 1447.6h.01" stroke="#95BCD6" stroke-width="11.6" stroke-linecap="round" fill="none"/>
<path d="M1004.8 1400.4h.01M1052.7 1467.5h.01M1017.1 1387.6h.01M1007.5 1397.4h.01M1282.2 1431.6h.01M1054.6 1429.1h.01M1368.8 1450.4h.01M1414.1 1445.4h.01M990.9 1521.6h.01M1000.8 1549.2h.01M1031.5 1485.4h.01M1138.3 1419.2h.01M1375.8 1453.3h.01M985.7 1530.9h.01M1042.9 1502.1h.01M997.2 1390.3h.01M1047.8 1487.0h.01M1041.8 1489.2h.01M1328.0 1717.9h.01M982.2 1530.9h.01M973.7 1553.7h.01M1122.6 1448.6h.01M1434.4 1431.7h.01M1047.0 1483.3h.01M1339.8 1444.4h.01M1067.0 1458.0h.01M992.4 1380.7h.01M986.1 1370.2h.01M1146.1 1437.1h.01M1048.5 1471.1h.01M1038.6 1480.7h.01M1029.8 1504.6h.01M1373.7 1452.9h.01M1099.9 1428.6h.01M901.0 1375.5h.01M915.3 1620.4h.01M980.6 1533.5h.01M981.0 1532.5h.01M1023.3 1391.0h.01M1211.8 1426.6h.01M1055.0 1478.9h.01M972.2 1563.9h.01M1076.0 1433.1h.01M1037.1 1493.8h.01M947.9 1604.5h.01M1018.3 1501.4h.01M1020.4 1509.2h.01M1065.4 1468.8h.01M1007.5 1510.0h.01M999.0 1388.5h.01M1325.6 1719.9h.01M1213.3 1428.0h.01M977.3 1549.1h.01M983.1 1533.2h.01M1042.6 1472.8h.01M1026.9 1522.0h.01M963.1 1576.3h.01M1329.1 1720.7h.01M1041.8 1413.3h.01M1387.0 1443.9h.01M1008.5 1392.8h.01M1326.4 1720.6h.01M1054.5 1423.8h.01M1022.0 1497.3h.01M918.5 1371.9h.01M908.0 1594.5h.01M1004.3 1524.5h.01M1030.7 1412.4h.01M1080.3 1446.7h.01M1033.8 1496.0h.01M1059.6 1460.3h.01M1104.2 1433.5h.01M959.1 1577.1h.01M980.8 1545.1h.01M1054.5 1413.2h.01M975.2 1542.7h.01M1000.5 1518.9h.01M1070.7 1456.7h.01M979.3 1383.1h.01M899.1 1592.5h.01M1034.4 1409.6h.01M1245.6 1436.2h.01M944.4 1381.1h.01M1045.2 1508.7h.01M1097.1 1446.1h.01M1044.9 1495.2h.01M1277.8 1435.9h.01M1153.5 1443.5h.01M981.4 1382.4h.01M1321.8 1441.0h.01M1041.2 1402.8h.01M919.7 1612.1h.01M1070.3 1427.0h.01M1374.4 1451.2h.01M1429.7 1436.4h.01M1008.4 1518.7h.01M1390.3 1450.5h.01M971.8 1587.9h.01M1156.0 1431.2h.01M1371.5 1451.3h.01M1350.6 1680.1h.01M990.9 1521.6h.01M1397.3 1455.7h.01M1108.9 1435.2h.01M908.4 1374.0h.01" stroke="#B04020" stroke-width="11.6" stroke-linecap="round" fill="none"/>
<path d="M1393.1 1508.3h.01M1374.0 1626.0h.01M1416.8 1534.7h.01M1382.2 1634.6h.01M1366.1 1663.6h.01M1372.6 1661.1h.01M1406.0 1517.6h.01M1380.3 1653.2h.01M1381.6 1596.8h.01M1425.8 1515.9h.01M1405.8 1534.9h.01M1395.9 1554.2h.01M1393.9 1601.1h.01M1384.7 1598.2h.01M1419.8 1512.0h.01" stroke="#A88AD0" stroke-width="11.6" stroke-linecap="round" fill="none"/>
<path d="M1045.8 1473.7h.01M915.4 1598.4h.01M884.5 1371.3h.01M889.5 1357.2h.01M879.5 1353.7h.01M1074.3 1447.9h.01M900.4 1325.9h.01M886.2 1342.9h.01M891.0 1362.6h.01M941.1 1559.1h.01M1025.5 1493.8h.01M984.7 1559.1h.01M1053.3 1412.4h.01M977.4 1556.2h.01M882.2 1355.4h.01M879.6 1358.7h.01M1058.6 1457.7h.01M885.4 1347.3h.01M930.9 1373.9h.01M1073.5 1426.7h.01M951.3 1607.7h.01M1011.3 1509.9h.01M1014.6 1518.5h.01M880.7 1359.7h.01" stroke="#3E9296" stroke-width="11.6" stroke-linecap="round" fill="none"/>
<path d="M1400.8 1590.1h.01M1320.6 1771.2h.01M1322.1 1752.9h.01M1356.1 1719.9h.01M1319.9 1767.3h.01M1312.5 1776.6h.01M1331.9 1718.9h.01M1330.2 1749.7h.01M1466.2 1418.2h.01M1331.3 1762.1h.01M1351.4 1720.3h.01M1310.0 1775.7h.01M1346.3 1733.6h.01M1340.6 1720.2h.01M1400.5 1568.2h.01M1302.3 1769.4h.01M1398.7 1590.6h.01M1330.5 1767.2h.01M1373.5 1692.5h.01M1301.4 1761.6h.01M1296.1 1775.1h.01M1283.7 1761.6h.01M1304.1 1741.4h.01M1289.5 1752.4h.01M1307.3 1750.8h.01M1032.5 1518.3h.01M1281.7 1771.1h.01M1302.1 1777.4h.01M1332.0 1754.0h.01M1309.4 1778.1h.01M1321.4 1728.9h.01M1393.7 1653.3h.01M1362.1 1717.6h.01M1364.5 1678.1h.01M1297.5 1781.4h.01M1304.4 1748.7h.01M1350.1 1711.2h.01M1300.5 1747.5h.01M1002.7 1553.7h.01M1288.9 1761.9h.01M1371.6 1680.3h.01M985.7 1554.3h.01M991.7 1558.6h.01M1300.1 1759.7h.01M1390.9 1615.0h.01M943.8 1591.3h.01M1347.1 1685.6h.01M1341.4 1751.4h.01M1357.0 1714.1h.01M1286.4 1769.0h.01M1320.7 1765.3h.01M1299.3 1785.9h.01M1289.5 1774.1h.01M1340.8 1741.7h.01M1069.3 1495.7h.01M1343.9 1714.0h.01M1365.2 1691.7h.01M1346.1 1700.0h.01M1300.0 1754.1h.01M1325.0 1748.9h.01M1338.0 1749.6h.01M1331.1 1737.3h.01M1315.0 1770.9h.01M1378.5 1680.2h.01M1343.4 1726.0h.01M896.4 1592.9h.01M954.7 1580.3h.01M1380.2 1670.5h.01M1338.7 1702.1h.01M1326.6 1756.8h.01M1332.4 1734.5h.01M1401.3 1622.1h.01M1370.4 1691.0h.01M1362.3 1699.1h.01M1353.4 1692.5h.01M1339.8 1751.2h.01M1322.9 1730.6h.01M1102.0 1474.0h.01M1305.4 1737.5h.01M1348.6 1721.8h.01M1305.0 1744.2h.01M1327.8 1767.3h.01M1340.8 1704.5h.01M1409.6 1586.6h.01M1070.6 1469.1h.01M936.5 1619.6h.01M1319.0 1766.7h.01M1339.4 1750.4h.01M1327.9 1747.0h.01M1323.8 1769.4h.01M1391.1 1581.6h.01M1283.5 1767.4h.01M1280.2 1762.4h.01M1287.7 1783.4h.01M1313.6 1764.4h.01M1313.3 1758.7h.01M1358.0 1712.1h.01" stroke="#3E5480" stroke-width="11.6" stroke-linecap="round" fill="none"/>
<path d="M1396.0 1555.8h.01M1409.7 1576.0h.01M1353.3 1693.7h.01M1461.0 1431.8h.01M1387.2 1647.2h.01M1371.9 1633.0h.01M1383.9 1650.4h.01M1425.9 1513.6h.01M1367.5 1658.8h.01M1423.6 1564.0h.01M1409.7 1449.2h.01M1374.2 1620.0h.01M1401.9 1510.3h.01M1450.4 1425.1h.01M1386.4 1517.1h.01M1397.6 1530.4h.01M1401.4 1514.3h.01M907.1 1586.2h.01M1401.3 1544.4h.01M1401.0 1628.1h.01M1399.1 1564.0h.01M1412.5 1479.8h.01M1397.5 1589.7h.01M1356.0 1665.8h.01M1411.2 1594.8h.01M1412.1 1589.7h.01M1357.2 1710.9h.01M1457.1 1429.9h.01M1417.4 1582.8h.01M1454.0 1410.8h.01M1393.7 1628.3h.01M1409.7 1525.2h.01M1410.3 1583.4h.01M1417.1 1579.0h.01M1380.2 1653.1h.01M1462.2 1427.2h.01M1413.6 1438.7h.01M1361.9 1670.3h.01M1411.7 1466.2h.01M1415.4 1503.7h.01M1357.2 1678.9h.01M1386.1 1652.8h.01M1403.4 1546.8h.01M1351.4 1720.6h.01M1459.3 1428.1h.01M1455.6 1428.8h.01M1316.2 1724.6h.01M1459.8 1421.5h.01M1454.9 1424.3h.01M925.9 1569.0h.01M942.3 1563.5h.01M1403.8 1590.1h.01M1353.8 1684.2h.01M1007.6 1543.7h.01M1401.6 1633.7h.01M1380.4 1640.5h.01M1463.3 1418.0h.01M1373.5 1615.5h.01M1366.0 1696.0h.01M1403.2 1496.7h.01M1333.6 1762.8h.01M1074.7 1482.0h.01M1402.6 1544.2h.01M1461.5 1422.0h.01M1399.1 1588.1h.01M1391.1 1635.5h.01M1415.0 1538.8h.01M1457.2 1420.2h.01M1330.4 1743.1h.01M1417.3 1549.8h.01M1347.3 1735.3h.01M1390.8 1546.6h.01M1450.6 1422.5h.01M1414.6 1475.5h.01M1404.8 1625.0h.01M1414.5 1577.3h.01M1394.3 1585.2h.01M1391.2 1647.3h.01M1429.8 1429.3h.01M1389.5 1617.7h.01M1397.5 1555.2h.01M1400.6 1570.6h.01M1411.7 1605.4h.01M1371.4 1648.8h.01M1404.5 1619.7h.01M1390.2 1592.7h.01M1465.2 1414.7h.01M1306.6 1755.4h.01M1453.3 1417.1h.01M1370.3 1649.4h.01M1424.8 1535.6h.01M1394.2 1604.1h.01M1467.8 1424.9h.01M1394.4 1541.7h.01M1420.2 1572.2h.01M1418.6 1501.7h.01M1402.6 1587.2h.01M1347.1 1742.8h.01M1367.8 1690.4h.01M1357.7 1716.8h.01M1421.9 1556.3h.01M1399.2 1524.9h.01M1412.0 1478.2h.01M1379.2 1630.7h.01M1457.2 1412.7h.01M1458.9 1417.5h.01M1343.5 1745.2h.01M1411.2 1586.8h.01M1040.2 1512.8h.01M1392.3 1535.9h.01M1377.5 1654.2h.01M1360.8 1660.9h.01M1324.0 1761.5h.01M1403.8 1445.4h.01M1406.1 1449.9h.01M1378.1 1638.3h.01M908.9 1609.1h.01M1389.6 1582.8h.01M1339.9 1699.3h.01M1457.9 1429.6h.01M1369.8 1638.6h.01M1459.1 1412.4h.01M1392.7 1611.2h.01M1417.5 1538.5h.01M1408.7 1601.4h.01M1409.8 1519.4h.01M1425.0 1492.7h.01M1397.1 1598.0h.01M1394.4 1585.4h.01M1468.0 1422.0h.01M1422.3 1510.4h.01M1380.7 1643.3h.01M973.7 1565.9h.01M1459.2 1427.0h.01M1394.9 1514.3h.01M1304.1 1755.8h.01M1424.0 1531.8h.01M1321.2 1748.6h.01M1389.0 1621.3h.01M1464.0 1426.6h.01M1309.0 1730.0h.01M1406.9 1495.7h.01M1454.9 1417.0h.01M1409.1 1576.2h.01M1457.3 1425.4h.01M1418.2 1438.4h.01M1382.1 1667.0h.01M1347.4 1685.4h.01M1003.8 1528.5h.01M1460.3 1415.5h.01M1380.9 1597.9h.01M1466.3 1423.9h.01M1453.9 1420.5h.01M1459.9 1432.0h.01M1415.0 1560.2h.01M1425.0 1516.6h.01M1393.7 1558.3h.01M1399.3 1642.5h.01M1077.0 1485.4h.01M929.1 1624.2h.01M1388.4 1509.0h.01M1399.2 1620.8h.01M1381.9 1605.6h.01M1366.9 1706.2h.01M1380.7 1639.4h.01M1355.5 1670.3h.01M1375.2 1660.0h.01M1391.3 1651.3h.01M1410.0 1589.4h.01M1411.4 1533.2h.01M1428.5 1430.6h.01M1407.5 1618.5h.01M1383.1 1593.1h.01M976.1 1558.2h.01M1362.3 1712.8h.01M1392.0 1523.5h.01M1455.1 1430.3h.01M1003.6 1548.3h.01M1408.4 1553.5h.01M1005.7 1545.4h.01M1454.2 1420.3h.01M1468.9 1426.3h.01M1409.6 1518.4h.01M1412.2 1470.1h.01M1466.5 1427.2h.01M1387.1 1516.5h.01M1396.5 1604.4h.01M1407.9 1599.4h.01M1387.7 1624.0h.01M1465.0 1420.1h.01M1360.3 1722.3h.01M1376.5 1637.6h.01M1377.4 1616.3h.01M1405.4 1446.8h.01M1357.5 1667.9h.01M1408.5 1538.1h.01M1454.5 1409.2h.01M1355.6 1672.3h.01M1385.3 1601.5h.01M1381.4 1659.0h.01M1073.6 1485.4h.01" stroke="#5E7697" stroke-width="11.6" stroke-linecap="round" fill="none"/>
<path d="M1038.7 1406.6h.01M994.4 1530.8h.01M982.7 1567.5h.01M1422.5 1555.0h.01M1077.7 1432.0h.01" stroke="#E8952A" stroke-width="11.6" stroke-linecap="round" fill="none"/>
<path d="M1198.9 1404.4h.01M1255.6 1415.2h.01M915.7 1334.4h.01M1047.4 1424.0h.01M914.0 1343.7h.01M918.4 1333.2h.01M917.9 1361.1h.01M897.1 1328.6h.01M963.9 1543.0h.01M1175.5 1423.5h.01M946.3 1352.8h.01M984.9 1574.3h.01M1191.3 1422.0h.01M946.7 1375.3h.01M892.2 1332.8h.01M1130.8 1420.4h.01M1096.9 1442.0h.01M906.7 1364.2h.01M937.7 1341.3h.01M1343.0 1445.4h.01M920.9 1332.7h.01M892.5 1347.1h.01M950.5 1356.5h.01M1075.1 1442.3h.01M1323.1 1446.8h.01M928.6 1379.9h.01M1118.9 1438.6h.01M986.4 1389.6h.01M932.3 1361.0h.01M1170.3 1415.9h.01M907.3 1342.4h.01M1098.6 1415.6h.01M1117.5 1448.4h.01M1207.6 1421.0h.01M1182.2 1412.3h.01M918.0 1322.4h.01M1008.1 1380.2h.01M1270.7 1425.4h.01M1156.3 1445.2h.01M947.9 1357.7h.01M1151.5 1429.7h.01M1204.9 1422.3h.01M1350.0 1455.3h.01M987.6 1570.6h.01M1154.1 1443.9h.01M1283.0 1418.1h.01M1111.1 1417.7h.01M927.5 1325.2h.01M1140.0 1420.4h.01M1174.5 1418.1h.01M1256.7 1420.3h.01M1026.8 1392.3h.01M1107.3 1418.5h.01M1240.9 1428.8h.01M1010.8 1402.2h.01M1019.6 1391.1h.01M1287.5 1418.1h.01M1226.7 1414.7h.01M896.5 1368.0h.01M929.3 1329.4h.01M894.4 1345.2h.01M1181.5 1416.0h.01M1237.5 1422.4h.01M922.4 1350.1h.01M1255.0 1417.1h.01M900.7 1322.8h.01M1150.6 1433.1h.01M1213.4 1433.6h.01M939.6 1366.4h.01M914.0 1360.8h.01M925.7 1355.7h.01M1009.9 1518.9h.01M1108.8 1426.5h.01M1289.8 1434.4h.01M1100.3 1424.9h.01M1268.1 1434.4h.01M917.4 1363.8h.01M928.1 1331.5h.01M911.2 1335.4h.01M1162.3 1446.1h.01M1141.2 1442.3h.01M1205.8 1420.6h.01M932.9 1328.4h.01M1183.3 1412.6h.01M1121.4 1420.8h.01M890.8 1325.0h.01M1287.3 1427.8h.01M931.7 1355.5h.01M1137.0 1420.6h.01M917.4 1333.1h.01M922.2 1326.3h.01M967.4 1395.0h.01M964.5 1598.0h.01M1038.1 1487.0h.01M1217.7 1417.9h.01M907.4 1338.2h.01M1272.7 1415.0h.01M996.3 1375.4h.01M1266.4 1424.8h.01M947.7 1337.4h.01M1161.4 1421.7h.01M1147.4 1433.7h.01M927.1 1361.4h.01M1284.1 1423.6h.01M1186.9 1411.5h.01M918.1 1349.1h.01M952.4 1351.5h.01M1099.7 1431.7h.01M1136.6 1418.9h.01M1065.1 1468.1h.01M1279.0 1424.3h.01M916.5 1321.0h.01M1262.5 1425.2h.01M937.1 1354.9h.01M1163.4 1418.1h.01M1138.1 1446.7h.01M1099.3 1414.4h.01M929.3 1335.5h.01M1112.8 1428.8h.01M949.7 1368.9h.01M1196.1 1406.8h.01M930.0 1337.3h.01M931.3 1367.9h.01M964.7 1376.9h.01M1083.8 1433.4h.01M1075.6 1432.6h.01M952.0 1383.7h.01M921.4 1381.0h.01M987.6 1370.5h.01M1286.6 1436.0h.01M1178.0 1421.1h.01M922.5 1346.2h.01M1107.4 1419.2h.01M902.7 1376.2h.01M957.7 1367.7h.01M949.2 1336.2h.01M1264.6 1432.9h.01M943.2 1333.0h.01M1153.1 1428.2h.01M1213.4 1418.6h.01M1183.6 1421.9h.01M908.1 1360.4h.01M930.9 1381.4h.01M933.4 1623.5h.01M1109.7 1415.9h.01M914.0 1338.6h.01M1246.3 1427.6h.01M934.7 1352.7h.01M893.0 1368.7h.01M945.2 1352.8h.01M1365.8 1445.7h.01M933.9 1330.8h.01M976.6 1375.0h.01M913.4 1345.8h.01M895.7 1336.0h.01M910.4 1353.1h.01M951.5 1333.2h.01M934.4 1348.5h.01M1131.9 1428.2h.01M902.2 1359.3h.01M886.3 1326.6h.01M1270.9 1418.3h.01M938.2 1335.5h.01M1150.8 1429.5h.01M901.7 1328.3h.01M903.5 1334.4h.01M1166.9 1423.5h.01M951.3 1348.8h.01M1178.4 1421.9h.01M945.3 1375.3h.01M1033.0 1409.8h.01M937.5 1374.7h.01M1023.5 1409.9h.01M899.2 1341.5h.01M1153.4 1428.4h.01M943.5 1614.8h.01M899.5 1366.9h.01M1037.6 1403.9h.01M909.3 1371.5h.01M1173.6 1445.7h.01M907.8 1355.6h.01M1031.1 1410.0h.01M1109.4 1432.0h.01M1134.7 1440.6h.01M996.6 1379.3h.01M1170.1 1446.7h.01M1022.9 1402.9h.01M1227.6 1407.2h.01M1099.1 1421.2h.01M901.8 1360.6h.01M1289.0 1438.0h.01M1242.9 1422.5h.01M1153.2 1428.9h.01M1203.7 1430.4h.01M1163.7 1447.9h.01M918.7 1357.4h.01M1199.2 1412.7h.01M940.8 1375.1h.01M1202.0 1416.1h.01M1006.6 1381.0h.01M896.5 1353.1h.01M1202.8 1435.4h.01M908.3 1314.0h.01M941.4 1326.4h.01M928.0 1624.9h.01M1171.3 1448.5h.01M901.7 1340.3h.01M1101.3 1431.6h.01M911.8 1327.8h.01M912.1 1347.3h.01M1131.6 1430.9h.01M1100.8 1435.6h.01M914.7 1381.0h.01M1165.8 1421.2h.01M1334.8 1436.1h.01M927.8 1368.4h.01M970.8 1370.2h.01M962.1 1552.1h.01M922.0 1377.8h.01M991.4 1373.0h.01M927.9 1369.2h.01M946.0 1381.3h.01M1142.5 1445.1h.01M937.3 1340.2h.01M1088.2 1427.0h.01M1243.7 1422.9h.01M1111.6 1444.2h.01M1241.8 1421.3h.01M1180.8 1410.8h.01M1165.6 1428.2h.01M1087.1 1436.9h.01M929.0 1347.8h.01M932.9 1354.9h.01M1215.0 1405.7h.01M926.7 1326.9h.01M1264.6 1427.2h.01M921.0 1351.3h.01" stroke="#CDA0C0" stroke-width="11.6" stroke-linecap="round" fill="none"/>
<path d="M1007.7 1528.9h.01M935.8 1594.4h.01M1048.2 1408.3h.01M944.6 1368.3h.01M1366.7 1452.8h.01M1324.9 1450.8h.01M893.8 1338.8h.01M1193.8 1412.3h.01M1037.9 1512.3h.01M942.8 1596.3h.01M902.0 1319.5h.01M962.3 1548.0h.01M1326.5 1452.6h.01M1343.2 1439.0h.01M1360.5 1453.9h.01M938.8 1587.5h.01M976.4 1569.3h.01M1372.9 1441.9h.01M1237.0 1423.2h.01M1374.8 1430.8h.01M1033.2 1521.9h.01M907.9 1613.4h.01M1001.0 1391.3h.01M1355.0 1445.5h.01M1343.7 1438.4h.01M945.2 1600.3h.01M1027.2 1520.2h.01M945.8 1350.2h.01M1094.0 1432.8h.01M1352.3 1454.9h.01M894.8 1582.3h.01M1218.6 1417.0h.01M916.1 1352.3h.01M1065.2 1422.2h.01M919.4 1605.1h.01M1082.0 1464.5h.01M1112.9 1422.4h.01M1348.2 1450.6h.01M1235.2 1419.2h.01" stroke="#DDB5DA" stroke-width="11.6" stroke-linecap="round" fill="none"/>
<path d="M947.2 1361.2h.01M923.5 1376.9h.01M922.0 1339.4h.01M1346.6 1447.7h.01M938.2 1364.5h.01M987.9 1389.6h.01M910.4 1375.7h.01M1179.4 1419.1h.01M908.1 1369.2h.01M1017.3 1501.4h.01M946.5 1351.2h.01M924.8 1323.3h.01M1155.9 1439.0h.01M889.5 1327.9h.01M1260.4 1429.1h.01M1172.7 1426.1h.01M1131.0 1427.8h.01M911.4 1319.2h.01M1363.9 1449.9h.01M966.6 1381.2h.01M895.9 1326.8h.01M1060.5 1432.3h.01M881.9 1360.9h.01M1261.9 1415.4h.01M915.3 1320.4h.01M897.2 1347.8h.01M1277.5 1420.9h.01M900.1 1340.7h.01M1277.7 1416.0h.01M1078.9 1435.9h.01M1107.9 1423.3h.01M946.7 1346.0h.01M1102.9 1419.6h.01M919.8 1324.2h.01M929.4 1377.3h.01M927.3 1382.2h.01M948.9 1337.5h.01M889.4 1361.4h.01M1140.7 1422.7h.01M1101.6 1441.3h.01M951.3 1365.6h.01M1158.0 1448.0h.01M926.9 1356.1h.01M916.0 1364.5h.01M906.8 1365.1h.01M935.6 1351.4h.01M943.6 1329.6h.01M931.1 1326.7h.01M940.2 1326.8h.01M950.7 1334.5h.01M930.2 1347.8h.01M891.5 1351.2h.01M930.6 1364.2h.01M898.5 1340.0h.01M1119.4 1450.3h.01M1183.2 1424.3h.01M1147.1 1445.5h.01M987.7 1354.0h.01M1015.3 1389.7h.01M922.6 1377.4h.01M1208.2 1411.0h.01M958.5 1363.3h.01M1230.1 1407.7h.01M1197.1 1416.0h.01M1132.3 1433.1h.01M942.1 1383.0h.01M899.7 1347.4h.01M1146.4 1426.8h.01M1209.7 1413.1h.01M915.7 1349.8h.01M909.4 1316.6h.01M893.3 1320.3h.01M1247.5 1416.6h.01M1158.5 1423.0h.01M899.3 1319.3h.01M1285.5 1423.5h.01M1109.9 1427.8h.01M1224.1 1428.8h.01M910.1 1317.9h.01M905.2 1357.8h.01M904.3 1316.7h.01M986.9 1528.1h.01M1109.6 1438.3h.01M910.3 1351.1h.01M908.8 1359.2h.01M1381.1 1431.6h.01M884.2 1325.9h.01M939.6 1359.7h.01M1027.1 1500.2h.01M1245.6 1418.0h.01M1120.9 1438.2h.01M934.2 1376.8h.01M902.5 1324.6h.01M948.1 1332.9h.01M912.7 1343.7h.01M917.3 1331.5h.01M995.6 1521.1h.01M871.5 1356.0h.01M926.7 1366.6h.01M1109.5 1452.4h.01M1110.4 1451.0h.01M1029.4 1401.6h.01M1154.2 1445.4h.01M964.0 1372.2h.01M939.0 1329.6h.01M944.3 1351.6h.01M1230.8 1432.5h.01M1107.7 1434.0h.01M1262.7 1428.8h.01M935.6 1368.1h.01M941.2 1326.2h.01M954.8 1374.3h.01M926.7 1341.8h.01M975.4 1371.2h.01M1275.7 1416.6h.01M1247.5 1422.0h.01M1031.8 1403.3h.01M1173.1 1411.5h.01M1310.7 1438.1h.01M1131.8 1420.7h.01M1134.5 1426.1h.01M1260.5 1411.2h.01M1126.8 1422.2h.01M900.2 1368.2h.01M954.3 1339.5h.01M1286.2 1419.4h.01M897.3 1358.7h.01M932.6 1368.5h.01M904.7 1334.9h.01M1102.0 1433.2h.01M1049.0 1475.4h.01M919.7 1318.0h.01M1224.4 1423.1h.01M900.2 1358.6h.01M1267.4 1415.5h.01M1118.2 1430.8h.01M908.8 1354.7h.01M977.9 1584.7h.01M903.4 1367.4h.01M898.6 1377.6h.01M950.5 1355.8h.01M912.8 1341.8h.01M1115.5 1418.6h.01M996.0 1378.9h.01M909.8 1345.2h.01M1186.4 1422.6h.01M918.5 1609.4h.01M1289.4 1418.9h.01M895.0 1324.4h.01M934.7 1343.9h.01M1289.3 1435.8h.01M949.5 1363.6h.01M922.2 1317.6h.01M1243.9 1424.7h.01M1252.0 1414.7h.01M1090.1 1443.7h.01M1215.8 1408.8h.01M1324.2 1433.9h.01M1124.2 1427.9h.01M1153.5 1429.8h.01M901.8 1364.3h.01M1372.5 1439.0h.01M1377.1 1447.1h.01M1111.7 1422.0h.01M990.5 1534.5h.01M1169.0 1415.9h.01M932.9 1356.8h.01M908.8 1356.3h.01M1265.0 1428.5h.01M902.4 1323.2h.01M1192.8 1413.9h.01M1197.9 1410.7h.01M1262.5 1432.9h.01M919.3 1357.6h.01M944.2 1347.5h.01M897.5 1347.2h.01M936.1 1340.5h.01M906.7 1363.0h.01M1102.7 1437.4h.01M1224.0 1412.6h.01M949.9 1352.3h.01M1185.4 1417.6h.01M1038.6 1480.8h.01M905.7 1354.5h.01M1093.6 1445.7h.01M939.4 1333.4h.01M1172.9 1428.1h.01M936.9 1342.5h.01M916.4 1353.6h.01M1006.0 1391.5h.01M916.9 1316.1h.01M1031.5 1410.2h.01M929.7 1325.2h.01M927.2 1326.0h.01M1124.6 1416.6h.01M946.9 1328.6h.01M957.7 1371.9h.01M1249.8 1427.2h.01M1180.3 1411.4h.01M1268.7 1422.9h.01M1045.6 1414.9h.01M903.5 1334.8h.01M916.7 1361.1h.01M1215.5 1432.9h.01M914.3 1350.4h.01M912.0 1365.2h.01M914.3 1365.4h.01M1139.4 1446.0h.01M898.8 1360.3h.01M915.5 1367.8h.01M1057.3 1415.9h.01M1067.0 1437.1h.01M1041.2 1420.6h.01M1243.4 1419.3h.01M921.1 1329.9h.01M1199.4 1430.8h.01M923.7 1567.1h.01M957.9 1339.5h.01M1168.8 1416.6h.01M905.7 1341.7h.01M1107.6 1447.1h.01M907.7 1335.0h.01M1329.9 1430.0h.01M922.5 1378.1h.01M1163.0 1419.7h.01M941.5 1376.4h.01M935.0 1359.8h.01M926.7 1346.3h.01M902.8 1370.4h.01M905.7 1339.9h.01M1015.1 1400.9h.01M1086.6 1440.0h.01M926.1 1330.0h.01M896.5 1359.4h.01M918.3 1358.4h.01M1145.4 1434.7h.01M1249.6 1414.0h.01M1260.2 1438.1h.01M942.3 1351.8h.01M1287.3 1435.3h.01M916.1 1589.2h.01M930.7 1342.0h.01M1203.4 1425.4h.01M1020.2 1390.4h.01M920.0 1355.1h.01M1156.7 1440.3h.01M950.0 1348.7h.01M1099.9 1426.0h.01M912.8 1359.3h.01M953.9 1368.7h.01M1224.8 1411.9h.01M933.8 1365.9h.01M938.0 1382.3h.01M1034.2 1409.7h.01M946.9 1383.5h.01M1218.0 1415.7h.01M1246.1 1421.0h.01M1249.2 1415.0h.01M1136.8 1428.5h.01M935.8 1368.5h.01M917.2 1601.8h.01M1175.5 1432.5h.01M946.1 1355.1h.01" stroke="#CDA0C0" stroke-width="11.6" stroke-linecap="round" fill="none"/>
<path d="M1019.9 1514.3h.01M1050.5 1480.1h.01M1008.0 1517.8h.01" stroke="#A52A2A" stroke-width="11.6" stroke-linecap="round" fill="none"/>
<path d="M963.1 1600.0h.01M920.5 1596.2h.01M1043.1 1407.5h.01M931.5 1621.7h.01M928.8 1591.4h.01M944.2 1370.4h.01M887.2 1370.4h.01M889.1 1356.0h.01M884.1 1359.0h.01M1101.1 1446.7h.01M885.7 1358.1h.01M1135.7 1445.6h.01M1021.9 1407.4h.01M920.8 1567.9h.01M878.6 1357.3h.01M883.5 1354.7h.01M883.0 1350.6h.01M913.9 1378.4h.01M880.9 1352.4h.01M915.9 1585.6h.01M985.7 1374.4h.01M952.1 1552.5h.01M885.9 1346.4h.01M906.8 1582.6h.01M947.6 1588.9h.01M950.6 1333.7h.01M935.7 1595.4h.01" stroke="#3E9296" stroke-width="11.6" stroke-linecap="round" fill="none"/>
<path d="M914.9 1621.9h.01M983.7 1550.8h.01M1015.2 1532.4h.01M1389.5 1664.8h.01M941.4 1618.0h.01M1379.9 1623.6h.01M1396.9 1643.6h.01M1410.7 1545.0h.01M915.4 1596.6h.01M905.0 1585.2h.01M958.9 1549.2h.01M939.5 1378.7h.01M924.0 1612.9h.01M914.1 1622.1h.01M915.9 1614.8h.01M1284.6 1754.2h.01M1371.8 1650.4h.01M1311.7 1730.6h.01M902.0 1608.1h.01M980.5 1552.0h.01M916.1 1578.8h.01M1046.0 1512.3h.01M911.4 1603.6h.01M907.0 1597.5h.01M1014.4 1522.7h.01M1379.4 1444.3h.01M907.0 1605.9h.01M938.5 1564.4h.01M1058.9 1466.8h.01M913.4 1611.3h.01M1306.4 1732.3h.01M1037.0 1499.3h.01M1041.7 1507.0h.01M1408.9 1481.2h.01M1025.3 1492.1h.01M930.9 1372.2h.01M1409.6 1596.2h.01M965.5 1562.5h.01M928.5 1596.0h.01M945.5 1602.2h.01M903.5 1376.0h.01M961.5 1600.5h.01M942.6 1375.4h.01M915.9 1581.9h.01M972.9 1542.5h.01M945.5 1611.4h.01M1059.6 1486.5h.01M1390.9 1650.9h.01M930.5 1584.7h.01M1337.4 1431.3h.01M1387.0 1658.3h.01M968.3 1589.8h.01M1053.1 1508.7h.01M947.4 1608.3h.01M1428.3 1515.7h.01M1286.7 1434.0h.01M1055.7 1494.4h.01M1426.7 1542.8h.01M1364.8 1674.7h.01M1389.1 1540.0h.01M898.1 1596.4h.01M1365.6 1456.6h.01M1035.3 1486.9h.01M1001.4 1538.4h.01M951.0 1605.2h.01M929.8 1595.3h.01M1069.7 1481.7h.01M964.0 1543.4h.01M1371.0 1644.5h.01M1013.7 1500.9h.01M949.0 1379.7h.01M945.8 1556.7h.01M940.6 1569.3h.01M909.1 1576.2h.01M1338.5 1698.3h.01M912.8 1606.4h.01M1392.5 1525.1h.01M925.8 1563.6h.01M1391.2 1647.9h.01M963.1 1591.9h.01M1030.0 1510.3h.01M1038.1 1503.7h.01M957.8 1375.2h.01M951.3 1556.3h.01M962.4 1543.6h.01M1115.2 1443.4h.01M959.0 1573.4h.01M941.7 1612.2h.01M921.0 1609.9h.01M959.5 1592.9h.01M943.2 1578.2h.01" stroke="#B49FDB" stroke-width="11.6" stroke-linecap="round" fill="none"/>
<path d="M1039.1 1486.9h.01M976.7 1580.0h.01M955.1 1372.0h.01M957.4 1371.2h.01M913.8 1591.3h.01M1132.4 1441.4h.01M952.0 1548.3h.01M945.9 1599.3h.01M990.0 1382.7h.01" stroke="#E8952A" stroke-width="11.6" stroke-linecap="round" fill="none"/>
<path d="M1028.7 1515.7h.01M1185.3 1417.4h.01M1059.1 1480.8h.01M1037.9 1509.0h.01M1183.6 1426.9h.01M944.7 1611.0h.01M1218.2 1426.7h.01M1109.4 1448.8h.01M1029.7 1517.5h.01M918.1 1588.7h.01M983.7 1551.8h.01M947.2 1587.0h.01M1406.8 1449.7h.01M1021.8 1402.2h.01M1003.0 1395.6h.01M1025.5 1503.8h.01M956.5 1601.5h.01M939.6 1617.2h.01M1420.2 1437.4h.01M1275.2 1412.6h.01M946.7 1374.5h.01M1143.1 1444.4h.01M951.0 1605.5h.01M911.4 1617.2h.01M1005.9 1544.8h.01M919.9 1379.4h.01M1142.7 1445.3h.01M1003.0 1539.7h.01M1201.1 1426.9h.01M1275.4 1433.5h.01M931.3 1565.3h.01M1089.9 1452.5h.01M964.9 1599.9h.01M1056.2 1505.0h.01M1198.2 1432.4h.01M974.5 1541.5h.01M1406.1 1438.8h.01M933.7 1582.2h.01M948.6 1581.2h.01M1185.5 1433.3h.01M1031.4 1513.1h.01M993.3 1559.1h.01M1060.5 1487.2h.01M1007.0 1514.7h.01M947.7 1591.9h.01M974.2 1560.3h.01M1021.6 1527.8h.01M911.5 1341.1h.01M940.4 1616.7h.01M933.4 1600.6h.01M965.2 1592.2h.01M1002.6 1545.7h.01M953.6 1551.6h.01M953.2 1364.4h.01M1086.4 1448.9h.01M1069.5 1485.4h.01M923.2 1628.5h.01M957.1 1582.8h.01M938.4 1562.2h.01M1138.6 1445.3h.01M1308.2 1731.8h.01M1287.0 1751.4h.01M1142.1 1431.6h.01M1081.4 1466.5h.01M970.5 1581.2h.01M1035.2 1517.3h.01M1265.8 1438.5h.01M929.8 1327.0h.01M1286.9 1751.1h.01M1065.2 1495.9h.01M991.5 1548.2h.01M1060.9 1494.3h.01M915.2 1592.4h.01M959.7 1585.9h.01M965.8 1592.2h.01M1376.7 1451.6h.01M1080.7 1467.8h.01M903.8 1579.3h.01M1307.2 1735.2h.01M926.6 1322.8h.01M898.0 1581.0h.01M1087.3 1450.9h.01M1362.3 1454.0h.01M1032.7 1509.7h.01M950.5 1383.7h.01M942.3 1576.4h.01M1263.0 1438.4h.01M1087.6 1454.2h.01M963.1 1544.6h.01M1273.7 1433.4h.01M1126.1 1427.8h.01M1064.7 1497.2h.01M1140.6 1444.9h.01M1066.8 1491.7h.01M937.6 1601.6h.01M954.6 1580.1h.01M917.3 1568.7h.01M941.2 1378.6h.01M1395.0 1452.0h.01M1006.0 1529.9h.01M1321.2 1448.4h.01M940.2 1562.8h.01M1020.8 1509.3h.01M980.3 1582.5h.01M1019.2 1498.9h.01M975.4 1569.0h.01" stroke="#D4A3E0" stroke-width="11.6" stroke-linecap="round" fill="none"/>
<path d="M891.4 1590.7h.01M1409.6 1578.7h.01M1396.5 1560.3h.01M1368.0 1652.9h.01M1417.8 1558.0h.01M1421.9 1521.7h.01M1394.6 1538.9h.01M1315.4 1744.3h.01M1380.7 1644.7h.01M1393.6 1533.9h.01M1415.7 1551.0h.01M1414.7 1471.4h.01M1376.1 1678.5h.01M1419.4 1512.7h.01M1381.5 1668.1h.01M1416.5 1488.2h.01M1388.5 1635.4h.01M1375.4 1685.8h.01M1421.6 1561.4h.01M1374.8 1663.6h.01M1398.1 1639.2h.01M1398.1 1555.6h.01M1391.7 1652.8h.01M1378.1 1624.8h.01M1356.3 1697.7h.01M1379.9 1676.9h.01M1423.8 1557.2h.01M1045.2 1511.3h.01M1377.3 1636.2h.01M1418.4 1513.2h.01M1421.4 1548.3h.01M1410.6 1498.2h.01M1417.3 1597.6h.01M1424.7 1512.3h.01M1410.8 1607.2h.01M1424.7 1490.4h.01M1450.5 1415.3h.01M1402.5 1498.1h.01M1461.2 1420.3h.01M1344.5 1740.8h.01M1452.6 1423.1h.01M1380.4 1606.8h.01M1414.2 1440.0h.01M1450.0 1413.2h.01M1390.7 1648.2h.01M1453.6 1424.1h.01M1460.9 1416.7h.01M1355.3 1668.2h.01M1451.9 1415.7h.01M1407.5 1478.3h.01M1399.5 1619.5h.01M1373.6 1621.4h.01M1401.9 1523.7h.01M963.9 1597.6h.01M1415.6 1443.3h.01M1453.0 1413.9h.01M1339.7 1750.1h.01M1370.5 1646.4h.01M1390.5 1598.8h.01M1379.7 1649.0h.01M1449.7 1414.4h.01M1463.7 1424.0h.01M1341.1 1693.7h.01M1427.2 1515.1h.01M1394.0 1567.2h.01M1383.9 1614.9h.01M1463.3 1426.7h.01M1380.3 1670.1h.01M1349.2 1699.3h.01M1454.5 1427.5h.01M1392.9 1599.5h.01M1088.3 1456.7h.01M1409.8 1475.1h.01M1404.5 1585.8h.01M1404.8 1603.2h.01M1372.4 1681.3h.01M1376.7 1664.4h.01M1408.9 1531.3h.01M1401.0 1636.9h.01M1409.5 1477.8h.01M1390.2 1646.1h.01M974.7 1557.8h.01M1373.1 1633.5h.01M1329.4 1756.9h.01M1054.1 1485.3h.01M1396.1 1610.3h.01M1415.6 1598.3h.01M1396.8 1646.1h.01M1356.8 1729.4h.01M951.7 1609.2h.01M934.1 1613.4h.01M1421.2 1541.2h.01M1376.4 1615.2h.01M947.0 1580.9h.01M1399.9 1545.7h.01M1070.1 1490.5h.01M1366.4 1657.5h.01M1411.9 1595.1h.01M1386.0 1599.0h.01M1408.6 1468.9h.01M1385.6 1590.0h.01M1403.6 1559.4h.01M1428.3 1519.0h.01M1398.3 1532.5h.01M1406.8 1450.5h.01M1075.6 1488.4h.01M1356.2 1683.6h.01M1400.0 1617.9h.01M1375.8 1685.3h.01M1385.9 1591.2h.01M1379.7 1680.8h.01M1392.2 1523.1h.01M1340.5 1742.9h.01M1403.3 1537.8h.01M1409.8 1499.6h.01M1411.4 1573.5h.01M1404.9 1622.5h.01M1404.9 1603.2h.01M1422.2 1567.6h.01M1422.8 1434.9h.01M1383.7 1638.3h.01M1427.6 1525.5h.01M1328.4 1753.7h.01M965.2 1576.0h.01M1378.6 1656.5h.01M1380.2 1608.1h.01M1389.2 1526.8h.01M1413.5 1560.7h.01M1395.7 1565.3h.01M1323.6 1730.0h.01M1421.9 1537.3h.01M960.7 1595.4h.01M1385.2 1641.1h.01M1461.8 1413.1h.01M1397.7 1571.2h.01M1392.3 1641.3h.01M1460.3 1424.3h.01M1370.1 1664.3h.01M1459.7 1431.8h.01M1347.2 1705.6h.01M1405.2 1559.0h.01M1462.9 1430.2h.01M932.1 1621.1h.01M1454.8 1411.4h.01M1375.9 1650.3h.01M1408.5 1581.3h.01M1390.2 1649.7h.01M1397.4 1548.7h.01M1450.4 1419.1h.01M1367.8 1664.7h.01M1420.7 1556.0h.01M1360.8 1662.5h.01M1410.8 1479.0h.01M1412.2 1511.4h.01M1457.9 1408.5h.01M1397.9 1634.7h.01M1300.9 1756.0h.01M1362.7 1715.7h.01M1412.3 1469.3h.01M1369.3 1664.5h.01M1419.0 1516.3h.01M897.1 1581.2h.01M1461.0 1422.9h.01M1415.0 1558.3h.01M1376.5 1682.7h.01M1400.5 1504.2h.01M1463.2 1412.0h.01M1414.5 1438.0h.01M1388.9 1608.7h.01M954.5 1553.9h.01M1424.4 1552.8h.01M1421.6 1560.4h.01M1426.2 1527.1h.01M1400.5 1568.0h.01M1386.9 1614.2h.01M1353.1 1672.6h.01M1402.4 1557.9h.01M1391.6 1546.0h.01M1374.0 1652.5h.01M1415.0 1571.2h.01M1393.6 1541.3h.01M960.2 1575.6h.01M1409.6 1584.5h.01M1400.5 1537.2h.01M1421.4 1534.5h.01M1386.0 1627.7h.01M1396.3 1561.2h.01M1382.0 1592.1h.01M1394.8 1501.9h.01" stroke="#5E7697" stroke-width="11.6" stroke-linecap="round" fill="none"/>
<path d="M1346.6 1685.0h.01M1333.3 1738.0h.01M1314.4 1726.2h.01M1303.7 1749.3h.01M1333.4 1707.6h.01M975.8 1565.4h.01M1284.5 1769.0h.01M1365.5 1690.8h.01M1395.6 1641.9h.01M1286.1 1754.1h.01M1366.4 1689.6h.01M1035.2 1414.2h.01M1292.1 1747.7h.01M1325.0 1740.6h.01M1290.6 1758.8h.01M1318.6 1728.4h.01M1287.7 1770.7h.01M1327.8 1752.5h.01M954.9 1580.7h.01M1305.3 1744.1h.01M1335.5 1756.7h.01M1347.0 1736.1h.01M1328.6 1765.2h.01M1341.7 1741.0h.01M986.5 1556.1h.01M1307.9 1757.6h.01M1304.8 1783.7h.01M1369.0 1702.7h.01M1287.6 1778.5h.01M1305.2 1780.8h.01M1297.6 1741.5h.01M1348.3 1716.3h.01M1410.8 1584.2h.01M1349.2 1735.5h.01M1330.6 1766.1h.01M1308.7 1760.6h.01M1330.9 1722.5h.01M1328.5 1754.0h.01M1353.1 1670.3h.01M1079.3 1472.0h.01M1321.8 1767.2h.01M952.1 1583.4h.01M1290.5 1777.6h.01M1296.1 1752.7h.01M1330.5 1713.4h.01M1317.4 1762.6h.01M1042.1 1507.5h.01M1358.6 1715.0h.01M1320.2 1747.7h.01M1310.1 1779.4h.01M1284.2 1764.5h.01M1330.0 1761.1h.01M1295.5 1740.8h.01M972.3 1579.2h.01M1349.0 1705.3h.01M1316.7 1773.9h.01M1369.7 1700.2h.01M1290.2 1754.2h.01M1329.4 1751.2h.01M1366.0 1702.5h.01M1315.0 1728.9h.01M940.2 1582.4h.01M1368.9 1703.7h.01M1391.2 1621.5h.01M1324.3 1727.0h.01M1302.1 1746.9h.01M1336.7 1739.6h.01M1280.9 1760.8h.01M1400.4 1575.2h.01M1053.0 1512.2h.01M1355.9 1724.5h.01M1402.2 1571.2h.01M1383.0 1611.5h.01M1335.5 1749.4h.01M900.3 1588.5h.01M1346.7 1734.8h.01M1327.5 1763.9h.01M913.3 1587.7h.01M1331.0 1758.0h.01M976.3 1559.8h.01M1335.9 1756.3h.01M1316.7 1752.7h.01M1281.4 1773.8h.01M1318.9 1775.9h.01M1286.2 1781.5h.01M1338.6 1716.2h.01M1349.8 1707.1h.01M1317.5 1769.5h.01M1421.6 1568.8h.01M1328.8 1767.5h.01" stroke="#3E5480" stroke-width="11.6" stroke-linecap="round" fill="none"/>
<path d="M1065.8 1421.3h.01M1112.9 1419.5h.01M924.5 1577.7h.01M1024.8 1492.0h.01M1436.1 1427.4h.01M1008.7 1402.8h.01M1073.4 1431.0h.01M1022.0 1391.0h.01M893.6 1581.6h.01M1098.9 1442.7h.01M937.1 1609.5h.01M1422.8 1441.0h.01M983.5 1381.0h.01M1039.6 1484.4h.01M1060.1 1427.8h.01M949.5 1560.3h.01M1041.7 1475.6h.01M1036.0 1479.6h.01M1389.2 1443.3h.01M1041.1 1480.1h.01M991.1 1526.9h.01M1059.7 1475.1h.01M1018.5 1531.8h.01M1066.8 1459.8h.01M1034.5 1491.2h.01M1133.2 1443.4h.01M1128.9 1441.3h.01M1053.6 1464.5h.01M913.3 1615.6h.01M1366.3 1455.0h.01M1400.6 1450.6h.01M1035.0 1490.1h.01M905.8 1609.1h.01M1146.6 1433.8h.01M970.1 1370.1h.01M984.4 1529.9h.01M1203.7 1431.6h.01M1055.2 1466.0h.01M971.9 1535.4h.01M985.8 1537.1h.01M1068.8 1437.7h.01M1049.8 1480.5h.01M1412.4 1439.4h.01M1066.3 1458.4h.01M970.3 1375.3h.01M1002.4 1394.9h.01M1346.2 1689.5h.01M1041.2 1416.4h.01M952.8 1558.1h.01M980.8 1540.7h.01M972.5 1537.3h.01M1050.9 1472.2h.01M1082.8 1436.1h.01M1377.5 1445.2h.01M1070.0 1422.4h.01M1040.2 1512.7h.01M1065.2 1467.4h.01M1152.4 1447.3h.01M1045.2 1490.4h.01M983.0 1531.8h.01M1068.4 1425.2h.01M968.9 1375.1h.01M984.9 1385.7h.01M932.7 1598.3h.01M985.4 1537.1h.01M1255.6 1436.4h.01M959.1 1574.6h.01M1045.5 1512.3h.01M1347.6 1683.7h.01M997.0 1366.0h.01M1159.8 1431.4h.01M999.1 1521.2h.01M1323.4 1435.8h.01M1035.5 1406.7h.01M1046.0 1417.1h.01M1037.0 1398.9h.01M1008.8 1524.8h.01M1079.7 1472.1h.01M994.1 1521.8h.01M1048.0 1486.9h.01M1161.5 1429.4h.01M1052.9 1469.5h.01M1001.4 1513.5h.01M1013.0 1391.6h.01M976.8 1361.9h.01M1128.9 1439.0h.01M996.1 1379.9h.01M1036.0 1398.7h.01M1005.3 1381.2h.01M1040.8 1513.6h.01M1058.4 1481.2h.01M1059.1 1455.5h.01M1030.8 1495.6h.01M996.9 1538.6h.01M1000.8 1386.7h.01" stroke="#B04020" stroke-width="11.6" stroke-linecap="round" fill="none"/>
<path d="M1332.1 1429.1h.01M933.5 1614.9h.01M952.4 1596.6h.01M996.1 1394.4h.01M1043.9 1413.9h.01M1334.2 1438.8h.01M1024.8 1524.8h.01M892.8 1590.6h.01M1014.2 1391.2h.01M922.9 1581.5h.01M933.9 1606.3h.01M1366.6 1447.8h.01M885.9 1328.6h.01M944.0 1354.7h.01M927.2 1320.7h.01M1073.7 1435.8h.01M958.2 1603.6h.01M1061.9 1496.3h.01M1360.2 1446.2h.01M893.4 1594.0h.01M916.7 1340.5h.01M1362.1 1454.3h.01M1227.3 1413.3h.01M934.8 1364.9h.01M1318.8 1449.3h.01M1367.7 1456.7h.01M1230.6 1416.3h.01M1326.1 1453.4h.01M1009.9 1535.2h.01M1354.4 1447.9h.01M1402.9 1513.2h.01M935.5 1563.4h.01M977.3 1365.6h.01M889.4 1589.8h.01M894.1 1325.5h.01M904.7 1577.3h.01M1150.4 1437.0h.01M935.1 1561.2h.01M1313.3 1437.4h.01M1159.5 1447.7h.01M1336.0 1435.0h.01M1144.0 1435.4h.01M1323.9 1448.4h.01M1079.9 1470.4h.01M1240.5 1424.3h.01M1319.8 1442.3h.01M970.7 1549.2h.01" stroke="#DDB5DA" stroke-width="11.6" stroke-linecap="round" fill="none"/>
<path d="M1129.8 1439.1h.01M1016.6 1533.6h.01M1076.4 1473.5h.01M1402.9 1451.4h.01M1424.8 1431.2h.01M1026.2 1412.5h.01M1059.1 1501.1h.01M1064.2 1420.3h.01M1010.5 1535.8h.01M974.6 1367.5h.01M1228.9 1428.8h.01M1050.0 1510.2h.01M1006.3 1526.4h.01M1424.3 1523.0h.01M976.8 1376.3h.01M1321.3 1436.4h.01M1116.5 1440.7h.01M1390.6 1522.9h.01M1018.0 1395.0h.01M1000.7 1551.1h.01M1361.4 1447.4h.01M1164.1 1431.3h.01M994.8 1565.7h.01M1085.6 1456.2h.01" stroke="#27325E" stroke-width="11.6" stroke-linecap="round" fill="none"/>
<path d="M1104.6 1448.0h.01M1346.0 1446.8h.01M1427.0 1436.8h.01M1196.9 1422.7h.01M1377.8 1427.8h.01M1399.9 1448.3h.01M1341.9 1440.5h.01M1394.3 1556.6h.01M1348.7 1452.9h.01M1338.9 1445.6h.01M1340.5 1437.0h.01M1240.3 1430.9h.01M1368.0 1454.0h.01M1376.7 1431.3h.01M1338.5 1451.3h.01M1348.0 1431.0h.01M1379.5 1440.0h.01M1332.1 1441.0h.01M1341.4 1436.0h.01M1371.7 1428.1h.01M1366.2 1451.1h.01M1362.1 1435.6h.01M1415.6 1440.9h.01M1368.8 1427.0h.01M1326.6 1452.8h.01M1306.5 1443.9h.01M1097.4 1446.1h.01M997.4 1556.3h.01M1261.4 1439.1h.01M1438.9 1428.5h.01M1102.0 1447.2h.01M1378.3 1452.0h.01M1314.0 1450.8h.01M1383.3 1434.4h.01M1362.8 1436.7h.01M1326.1 1448.4h.01M1367.8 1455.3h.01M1083.3 1450.9h.01M1197.4 1424.1h.01M1297.1 1431.8h.01M1428.9 1430.7h.01M1392.1 1453.9h.01M999.9 1556.8h.01M1388.6 1439.3h.01M1362.9 1454.6h.01M1319.0 1439.8h.01M1323.4 1443.8h.01M1254.0 1411.2h.01M1313.7 1432.5h.01M1352.4 1448.4h.01M1308.9 1437.1h.01M1368.3 1439.4h.01M1378.8 1452.2h.01M1307.9 1446.8h.01M1343.8 1453.6h.01M1317.4 1447.8h.01M1424.0 1523.7h.01M1031.2 1506.7h.01M1330.0 1439.6h.01" stroke="#95BCD6" stroke-width="11.6" stroke-linecap="round" fill="none"/>
<path d="M1428.3 1513.8h.01M1395.3 1538.0h.01M1397.5 1602.3h.01M1382.1 1652.8h.01M1375.2 1658.4h.01M1417.3 1556.1h.01M1382.3 1634.8h.01M1401.9 1633.2h.01M1417.1 1528.7h.01" stroke="#A88AD0" stroke-width="11.6" stroke-linecap="round" fill="none"/>
<path d="M906.7 1372.5h.01M914.2 1601.0h.01M1074.9 1481.5h.01M1317.9 1441.3h.01M1180.1 1427.3h.01M940.7 1557.3h.01M1353.0 1678.0h.01M914.4 1610.0h.01M947.1 1609.7h.01M1281.8 1437.8h.01M1408.1 1486.5h.01M1398.9 1558.3h.01M938.3 1379.6h.01M1407.2 1535.6h.01M1332.0 1717.6h.01M1191.5 1426.0h.01M1406.2 1626.2h.01M1008.9 1539.9h.01M1405.4 1548.3h.01M973.6 1548.5h.01M1121.0 1436.8h.01M963.6 1571.1h.01M1000.1 1517.0h.01M947.0 1568.6h.01M1222.1 1430.9h.01M967.8 1544.1h.01M920.5 1634.0h.01M971.4 1543.7h.01M910.1 1621.8h.01M954.9 1573.1h.01M1062.1 1493.0h.01M904.7 1378.7h.01M955.2 1560.5h.01M1422.7 1500.6h.01M1077.9 1463.7h.01M1085.5 1455.4h.01M950.3 1605.2h.01M1421.7 1552.7h.01M955.6 1599.2h.01M1374.0 1660.2h.01M943.7 1376.6h.01M1392.2 1631.3h.01M908.3 1378.9h.01M1347.3 1707.7h.01M1277.8 1758.4h.01M910.7 1588.5h.01M931.4 1593.1h.01M977.7 1582.0h.01M943.5 1562.1h.01M930.6 1562.2h.01M1013.1 1537.4h.01M1345.8 1705.5h.01M1310.7 1728.5h.01M1077.8 1462.5h.01M1098.1 1445.7h.01M907.5 1605.2h.01M1048.4 1506.1h.01M1419.2 1490.5h.01M935.1 1589.9h.01M1031.9 1501.1h.01M1343.3 1728.8h.01M1058.1 1508.3h.01M944.6 1614.5h.01M964.2 1543.0h.01M971.6 1587.9h.01M926.2 1569.6h.01M1061.5 1489.8h.01M1412.9 1548.6h.01M985.1 1555.5h.01M1289.4 1752.1h.01M1324.8 1726.2h.01M969.1 1541.1h.01M1034.5 1480.5h.01M1403.0 1600.3h.01M1075.7 1459.1h.01M963.6 1561.4h.01M1102.5 1450.2h.01M1392.9 1631.4h.01M1025.2 1507.0h.01M1425.9 1492.6h.01M970.3 1576.0h.01M956.2 1382.3h.01M920.0 1636.1h.01M1078.8 1463.0h.01M1132.6 1454.5h.01M1013.4 1513.3h.01M963.6 1596.5h.01M894.3 1376.1h.01M1014.4 1530.2h.01M1040.7 1515.4h.01" stroke="#B49FDB" stroke-width="11.6" stroke-linecap="round" fill="none"/>
<path d="M1116.0 1450.9h.01M1028.8 1504.5h.01M1005.7 1520.1h.01M1010.5 1381.8h.01M1072.5 1448.5h.01M1126.2 1449.6h.01M916.9 1584.6h.01M921.5 1571.1h.01M944.8 1599.4h.01M915.1 1588.4h.01M928.4 1620.2h.01" stroke="#E8952A" stroke-width="11.6" stroke-linecap="round" fill="none"/>
<path d="M1025.5 1409.8h.01M892.1 1589.1h.01M941.3 1609.6h.01M1075.8 1447.1h.01M1081.7 1455.6h.01M976.3 1556.7h.01M1004.4 1550.8h.01M964.6 1601.1h.01M941.3 1600.3h.01M923.5 1594.6h.01M1112.7 1448.0h.01M985.9 1544.3h.01M901.0 1592.0h.01M907.0 1600.2h.01M1077.7 1476.5h.01M1156.7 1450.0h.01M1279.4 1438.2h.01M931.9 1598.5h.01M1145.7 1447.0h.01M1198.2 1422.8h.01M894.8 1590.0h.01M1033.9 1517.6h.01M1183.5 1420.5h.01M1032.9 1488.2h.01M950.3 1550.3h.01M1287.4 1750.1h.01M968.8 1593.7h.01M1010.4 1539.9h.01M1430.2 1430.2h.01M1000.2 1552.6h.01M1305.9 1731.0h.01M948.2 1384.3h.01M1410.5 1436.4h.01M919.0 1598.0h.01M986.6 1531.6h.01M1005.4 1380.5h.01M1038.1 1516.3h.01M953.8 1568.5h.01M1071.4 1475.4h.01M1036.0 1483.0h.01M946.8 1552.4h.01M1057.1 1502.8h.01M1079.8 1475.2h.01M940.5 1584.2h.01M961.8 1576.9h.01M1438.4 1425.9h.01M1343.1 1439.7h.01M1029.8 1521.9h.01M958.2 1581.1h.01M1202.9 1406.3h.01M1058.0 1491.9h.01M968.1 1587.5h.01M1161.0 1431.8h.01M1421.7 1435.6h.01M914.1 1594.4h.01M959.6 1580.6h.01M1377.8 1429.0h.01M945.4 1360.4h.01M1034.7 1479.3h.01M1012.8 1533.8h.01M1034.1 1507.6h.01M932.9 1353.8h.01M1011.2 1510.2h.01M1027.4 1524.9h.01M1105.1 1434.4h.01M1199.5 1428.0h.01M923.9 1584.7h.01M1143.3 1434.5h.01M1035.6 1506.9h.01M1027.1 1525.6h.01M982.5 1528.3h.01M1042.8 1477.1h.01M915.9 1331.8h.01M998.4 1543.6h.01M972.7 1547.6h.01M1046.3 1498.5h.01M950.5 1564.8h.01M930.2 1612.4h.01M1414.8 1432.3h.01M1069.7 1483.9h.01M909.4 1615.2h.01M977.1 1548.9h.01M1440.0 1431.7h.01M963.1 1596.4h.01M1138.4 1441.2h.01M1034.7 1496.4h.01M1060.5 1503.7h.01M1022.0 1529.4h.01M968.6 1590.4h.01M940.3 1572.6h.01M1348.5 1439.4h.01M943.2 1612.5h.01M970.7 1588.5h.01M942.9 1331.6h.01M917.7 1568.5h.01M1274.6 1416.7h.01" stroke="#D4A3E0" stroke-width="11.6" stroke-linecap="round" fill="none"/>
<path d="M1413.2 1484.1h.01M1411.6 1589.6h.01M1409.4 1547.7h.01M1414.8 1569.3h.01M1459.2 1423.5h.01M1333.8 1759.9h.01M1391.6 1625.0h.01M1407.9 1498.4h.01M1371.9 1640.4h.01M1377.1 1618.3h.01M1048.0 1509.8h.01M903.1 1578.9h.01M1372.8 1668.0h.01M1371.3 1683.9h.01M1303.1 1783.5h.01M1403.1 1629.3h.01M1422.4 1438.5h.01M1405.0 1630.5h.01M1425.2 1509.5h.01M1398.0 1530.7h.01M1419.0 1502.6h.01M1387.1 1674.4h.01M1465.5 1417.6h.01M1462.9 1429.0h.01M1414.0 1483.6h.01M1433.2 1435.5h.01M1378.2 1682.6h.01M1359.3 1696.5h.01M1422.5 1523.6h.01M1397.7 1573.3h.01M1453.4 1415.2h.01M1394.8 1648.3h.01M1409.0 1541.3h.01M1462.8 1431.8h.01M971.2 1588.2h.01M1441.0 1432.6h.01M1317.9 1726.1h.01M1415.2 1533.8h.01M1393.7 1556.5h.01M1454.9 1426.5h.01M1387.2 1589.8h.01M1403.4 1623.7h.01M1361.0 1687.0h.01M1398.7 1518.2h.01M1396.1 1537.5h.01M1381.2 1610.8h.01M1393.9 1514.7h.01M1393.7 1546.1h.01M1376.3 1620.0h.01M1419.9 1441.6h.01M937.8 1556.3h.01M1396.3 1530.5h.01M1399.8 1496.9h.01M1379.9 1631.0h.01M1405.3 1494.1h.01M1376.9 1683.8h.01M1450.4 1412.2h.01M1401.7 1588.7h.01M1394.9 1522.7h.01M1338.2 1702.0h.01M1426.4 1527.6h.01M1393.2 1639.9h.01M1011.7 1531.9h.01M1459.3 1423.5h.01M1389.0 1513.1h.01M1377.4 1649.1h.01M1317.6 1723.0h.01M1467.6 1421.9h.01M1414.5 1590.1h.01M1365.6 1700.0h.01M1401.0 1546.3h.01M1468.7 1422.6h.01M1303.7 1752.0h.01M931.5 1559.6h.01M1374.7 1655.9h.01M1413.2 1545.3h.01M1343.0 1730.7h.01M1460.3 1426.6h.01M1396.4 1597.9h.01M1407.3 1473.1h.01M1426.7 1540.1h.01M1416.1 1580.4h.01M1374.1 1654.1h.01M1353.2 1678.8h.01M1456.3 1419.2h.01M1465.8 1419.0h.01M1316.4 1724.6h.01M1387.1 1588.6h.01M1393.2 1601.3h.01M1399.4 1568.3h.01M1451.3 1424.3h.01M1417.5 1499.1h.01M1398.1 1571.2h.01M1381.8 1620.2h.01M1383.5 1652.3h.01M1455.3 1414.1h.01M1376.4 1674.7h.01M1449.0 1421.0h.01M1385.9 1521.8h.01M1367.2 1703.7h.01M1426.3 1429.7h.01M1006.4 1538.3h.01M1368.7 1668.9h.01M1341.6 1742.3h.01M1415.5 1599.7h.01M1344.0 1748.3h.01M1417.4 1526.9h.01M1450.5 1418.8h.01M1397.1 1547.4h.01M1397.7 1623.5h.01M1381.0 1646.9h.01M1346.3 1691.1h.01M1395.1 1546.7h.01M1403.0 1525.5h.01M1016.0 1533.4h.01M1407.2 1622.3h.01M1399.4 1609.3h.01M1402.8 1633.5h.01M1329.8 1728.4h.01M1450.4 1421.6h.01M1416.4 1572.8h.01M901.8 1588.9h.01M929.3 1557.7h.01M1414.4 1477.4h.01M1442.2 1430.3h.01M1398.2 1626.6h.01M1365.5 1675.6h.01M1405.7 1566.4h.01M1327.9 1730.3h.01M1460.1 1429.6h.01M1399.1 1572.0h.01M1408.3 1552.9h.01M1363.9 1656.0h.01M1393.4 1529.0h.01M1391.1 1525.4h.01M1379.9 1619.7h.01M1352.3 1733.1h.01M1352.8 1698.7h.01M1395.8 1455.9h.01M1366.0 1701.5h.01M1406.0 1615.7h.01M1394.7 1583.4h.01M1452.5 1418.4h.01M1414.0 1532.7h.01M1411.2 1507.4h.01M1369.8 1668.8h.01M1295.9 1762.5h.01M1358.0 1675.0h.01M1451.1 1423.7h.01M1341.0 1724.8h.01M1391.3 1641.0h.01M1388.3 1589.8h.01M1373.1 1623.6h.01M1422.6 1505.0h.01M1400.0 1570.0h.01M1454.1 1429.4h.01M1354.7 1695.9h.01M1302.4 1766.6h.01M983.5 1555.6h.01M1385.1 1650.6h.01M1407.6 1579.3h.01M1381.0 1669.0h.01M1394.4 1617.2h.01M1409.5 1560.7h.01M1331.8 1749.4h.01M1414.9 1531.1h.01M1460.2 1419.4h.01M1414.6 1526.1h.01M1379.4 1624.0h.01M1415.1 1538.0h.01M1429.3 1431.2h.01M1365.6 1659.6h.01M1464.5 1425.4h.01M1403.0 1564.0h.01M1411.1 1475.1h.01M1465.8 1426.1h.01M1415.8 1433.8h.01M1341.6 1710.1h.01M1066.5 1497.1h.01M1394.1 1586.5h.01M1414.8 1547.2h.01M1408.9 1517.2h.01M1369.8 1662.8h.01M1380.6 1601.9h.01M1399.2 1537.7h.01M1401.2 1499.2h.01M988.0 1554.8h.01M1411.0 1596.0h.01M1388.7 1523.6h.01M1388.0 1665.7h.01M1367.2 1676.5h.01M1400.7 1524.5h.01M1398.8 1526.6h.01M1408.2 1484.8h.01" stroke="#5E7697" stroke-width="11.6" stroke-linecap="round" fill="none"/>
<path d="M1398.1 1553.5h.01M1149.7 1442.8h.01M1067.1 1472.7h.01M1397.2 1456.0h.01M1157.7 1448.9h.01M1156.1 1430.6h.01M1411.4 1494.1h.01M1392.8 1514.2h.01M1020.6 1516.1h.01M1309.1 1445.7h.01M1105.5 1447.5h.01M1133.9 1446.2h.01M1407.0 1494.7h.01M1419.0 1532.8h.01M1413.7 1518.2h.01M1004.6 1550.3h.01M1010.7 1538.0h.01M1076.7 1439.5h.01M1020.2 1390.0h.01M1050.5 1501.0h.01M1305.3 1438.4h.01" stroke="#27325E" stroke-width="11.6" stroke-linecap="round" fill="none"/>
<path d="M885.9 1344.6h.01M1151.0 1444.6h.01M896.0 1349.4h.01M951.0 1599.7h.01M899.0 1583.1h.01M1017.2 1503.6h.01M1108.6 1443.1h.01M952.0 1564.9h.01M930.5 1571.8h.01M1001.3 1523.6h.01M1123.6 1445.3h.01M928.4 1581.6h.01M920.4 1621.5h.01M891.5 1346.3h.01M910.2 1328.9h.01M916.2 1316.0h.01M950.2 1382.3h.01M890.9 1362.8h.01" stroke="#3E9296" stroke-width="11.6" stroke-linecap="round" fill="none"/>
<path d="M1380.4 1444.6h.01M1387.8 1444.4h.01M1209.2 1411.5h.01M1314.9 1446.8h.01M1273.1 1436.8h.01M1338.7 1436.0h.01M1302.9 1450.7h.01M1383.8 1449.0h.01M1271.7 1414.6h.01M1373.4 1429.5h.01M1228.6 1408.9h.01M1320.5 1440.4h.01M1366.4 1446.8h.01M1389.5 1445.8h.01M1066.8 1482.6h.01M1348.7 1447.1h.01M1318.1 1442.6h.01M1348.5 1441.4h.01M996.7 1549.6h.01M1403.0 1453.5h.01M1374.5 1444.2h.01M1344.1 1437.8h.01M1366.9 1437.0h.01M1087.6 1441.2h.01M1370.9 1442.7h.01M1352.7 1441.2h.01M1316.3 1429.7h.01M1369.5 1455.7h.01M1417.7 1438.3h.01M1367.7 1454.5h.01M1400.8 1452.0h.01M1314.0 1442.1h.01M1420.1 1437.9h.01M1379.5 1445.8h.01M1357.8 1441.2h.01M1308.4 1445.2h.01M1341.3 1445.4h.01M1323.7 1444.9h.01M1378.2 1431.9h.01M1324.9 1444.6h.01M1346.5 1449.0h.01M1383.9 1450.7h.01M1356.0 1453.9h.01M1166.4 1433.5h.01M1367.1 1449.2h.01M1344.3 1452.5h.01M1001.6 1557.3h.01M1336.0 1432.7h.01M1363.3 1435.3h.01M1336.7 1447.4h.01M1333.2 1452.7h.01M1292.5 1421.6h.01M1356.9 1436.2h.01M1308.1 1435.4h.01M1167.4 1428.9h.01M1349.2 1433.0h.01M1375.2 1447.9h.01M1371.4 1451.6h.01M1099.4 1449.6h.01M1319.2 1446.8h.01M1337.7 1437.4h.01M1365.1 1438.3h.01M1345.0 1436.0h.01M1401.8 1447.4h.01M1354.6 1428.2h.01M1388.4 1444.7h.01M1328.9 1440.7h.01M1423.0 1433.4h.01M1340.7 1451.9h.01M1159.8 1433.4h.01M1317.5 1449.5h.01M1115.0 1448.6h.01M1327.5 1450.3h.01M1346.1 1434.9h.01M1333.1 1429.6h.01M1388.4 1447.3h.01M1228.2 1432.9h.01M1378.6 1441.6h.01M1236.5 1409.2h.01M1119.1 1449.1h.01M1338.4 1437.0h.01M1401.1 1511.1h.01M1420.2 1549.2h.01M1129.3 1446.9h.01M1363.0 1449.1h.01M1356.7 1428.4h.01M1254.8 1412.3h.01M1376.8 1433.1h.01M1389.5 1438.9h.01" stroke="#95BCD6" stroke-width="11.6" stroke-linecap="round" fill="none"/>
<path d="M908.8 1598.6h.01M1124.5 1440.2h.01M908.7 1586.7h.01M1439.4 1433.5h.01M1001.9 1384.4h.01M1058.5 1417.7h.01M1010.7 1383.5h.01M941.1 1572.4h.01M1047.1 1468.5h.01M999.2 1523.3h.01M1075.1 1430.1h.01M1102.6 1419.8h.01M1012.9 1502.0h.01M990.8 1372.6h.01M1039.4 1482.9h.01M1041.7 1484.7h.01M1059.5 1455.3h.01M1352.2 1457.8h.01M964.7 1552.9h.01M1016.3 1517.8h.01M1093.3 1447.7h.01M1047.1 1420.3h.01M1407.6 1437.8h.01M978.4 1540.8h.01M962.1 1553.2h.01M971.5 1544.5h.01M1038.7 1405.4h.01M1273.6 1438.0h.01M1135.7 1444.0h.01M1005.8 1400.5h.01M1387.0 1435.6h.01M1025.1 1503.2h.01M1424.1 1436.2h.01M984.8 1548.1h.01M1407.2 1450.3h.01M968.2 1543.1h.01M1154.4 1440.7h.01M1343.1 1694.9h.01M991.2 1531.4h.01M986.7 1562.2h.01M1107.2 1437.6h.01M1336.6 1708.3h.01M1329.6 1718.1h.01M1025.2 1498.3h.01M1047.2 1473.1h.01M1060.6 1426.0h.01M1439.8 1428.0h.01M971.8 1537.1h.01M1163.6 1428.5h.01M1334.1 1713.1h.01M1182.1 1434.3h.01M1099.5 1444.2h.01M1013.2 1535.9h.01M922.2 1568.3h.01M1071.8 1425.5h.01M1077.8 1431.8h.01M972.2 1588.4h.01M1022.0 1505.5h.01M1043.4 1419.6h.01M1034.0 1408.0h.01M989.4 1368.8h.01M976.3 1378.4h.01M1346.4 1688.5h.01M1035.6 1510.0h.01M1047.2 1423.7h.01M1072.6 1430.8h.01M1040.0 1481.8h.01M1033.3 1485.8h.01M1143.8 1439.9h.01M1051.1 1420.1h.01M1015.4 1504.9h.01M1054.1 1497.7h.01M921.0 1377.9h.01M1076.1 1431.9h.01M921.8 1570.8h.01M1386.7 1435.3h.01M948.1 1600.4h.01M1036.3 1399.0h.01M1055.4 1479.4h.01M1113.3 1453.7h.01M1038.5 1477.5h.01M953.9 1593.1h.01M1022.8 1409.8h.01M1399.2 1456.6h.01M1117.9 1443.6h.01M939.3 1581.1h.01M1046.3 1468.9h.01M990.0 1527.9h.01M1058.8 1429.3h.01M1013.5 1507.8h.01M1254.8 1434.8h.01M1252.6 1435.8h.01M1043.0 1410.6h.01M980.8 1380.2h.01M1067.3 1453.3h.01M1052.6 1417.7h.01M1346.8 1687.6h.01M986.3 1528.0h.01M1044.4 1482.9h.01M996.7 1556.7h.01M987.7 1545.7h.01M975.9 1537.0h.01M1132.6 1417.9h.01M1015.3 1512.0h.01M1201.6 1426.9h.01M1396.3 1456.8h.01M1004.4 1520.1h.01M1371.7 1446.1h.01M1126.8 1435.3h.01M1030.5 1492.3h.01M1045.6 1470.7h.01M1064.9 1472.5h.01M1005.9 1378.0h.01M1004.3 1521.9h.01M921.5 1568.7h.01M1064.6 1466.6h.01M982.4 1563.7h.01M1038.6 1415.5h.01M995.2 1394.4h.01" stroke="#B04020" stroke-width="11.6" stroke-linecap="round" fill="none"/>
<path d="M1304.7 1740.6h.01M1290.8 1782.5h.01M1376.2 1660.0h.01M1356.2 1727.0h.01M1299.1 1741.0h.01M1307.3 1781.1h.01M905.8 1584.7h.01M1361.9 1702.0h.01M1335.7 1728.1h.01M1308.4 1734.1h.01M1338.9 1749.9h.01M1414.9 1588.1h.01M1309.9 1746.1h.01M1334.9 1757.8h.01M1293.8 1784.5h.01M1319.5 1757.4h.01M1283.8 1774.2h.01M1305.8 1751.0h.01M1342.7 1730.1h.01M1295.9 1786.4h.01M1346.8 1697.2h.01M1280.2 1759.9h.01M1356.4 1678.8h.01M1306.4 1786.0h.01M1300.5 1766.3h.01M1400.8 1572.6h.01M1284.3 1772.3h.01M1050.3 1509.7h.01M1353.6 1684.2h.01M928.8 1566.3h.01M1320.1 1745.9h.01M1344.3 1700.6h.01M1294.0 1762.8h.01M1338.9 1702.5h.01M1377.3 1673.8h.01M1329.9 1757.7h.01M1315.5 1748.1h.01M1307.1 1754.2h.01M1367.9 1705.9h.01M1317.4 1743.9h.01M1320.8 1762.0h.01M1320.7 1772.1h.01M1388.2 1600.6h.01M1309.3 1781.6h.01M1407.9 1571.3h.01M1321.1 1750.0h.01M1310.2 1749.3h.01M1396.3 1571.2h.01M1344.6 1736.4h.01M1304.4 1786.7h.01M1376.6 1685.1h.01M1360.9 1690.3h.01M1327.5 1715.8h.01M1340.1 1704.0h.01M1322.2 1740.9h.01M1329.6 1763.8h.01M1370.7 1671.4h.01M1401.6 1621.4h.01M1309.4 1745.8h.01M1321.5 1760.2h.01M1406.8 1618.7h.01M1305.3 1768.7h.01M1296.4 1750.8h.01M1286.4 1770.4h.01M1303.5 1759.6h.01M1312.1 1739.2h.01M1338.5 1725.1h.01M1339.6 1753.6h.01M1374.1 1622.0h.01M1295.5 1787.7h.01M1017.2 1533.7h.01M1373.9 1688.5h.01M1334.4 1748.5h.01M1296.5 1738.6h.01" stroke="#3E5480" stroke-width="11.6" stroke-linecap="round" fill="none"/>
<path d="M1083.1 1435.3h.01M907.2 1323.2h.01M1089.7 1421.1h.01M962.1 1553.4h.01M1213.3 1418.0h.01M1285.2 1429.4h.01M1366.5 1442.7h.01M1056.9 1481.9h.01M954.8 1556.1h.01M1168.0 1446.4h.01M909.8 1350.1h.01M947.6 1608.3h.01M1066.7 1430.0h.01M1005.3 1378.0h.01M1329.8 1452.2h.01M926.3 1343.8h.01M928.0 1345.1h.01M910.5 1597.0h.01M928.4 1330.6h.01M947.9 1359.4h.01M1337.1 1451.9h.01M918.9 1603.2h.01M1314.9 1438.9h.01M907.9 1580.8h.01M1004.9 1389.6h.01M1351.3 1455.0h.01M948.8 1347.5h.01M1335.9 1442.4h.01M1353.4 1437.8h.01M1250.4 1412.1h.01M1154.8 1435.9h.01M1388.1 1448.5h.01M1247.1 1412.7h.01M921.0 1595.7h.01M904.8 1608.2h.01M924.7 1595.4h.01M948.6 1335.0h.01M1038.1 1409.0h.01M937.9 1621.9h.01" stroke="#DDB5DA" stroke-width="11.6" stroke-linecap="round" fill="none"/>
<path d="M1372.7 1670.5h.01M1412.0 1490.3h.01M1395.9 1601.1h.01M1418.4 1552.1h.01M1383.7 1668.7h.01M1375.5 1681.2h.01M1422.4 1502.5h.01M1417.4 1582.6h.01M1396.7 1567.8h.01M1413.3 1572.3h.01M1391.3 1656.6h.01M1407.7 1492.7h.01" stroke="#A88AD0" stroke-width="11.6" stroke-linecap="round" fill="none"/>
<path d="M1387.2 1450.1h.01M955.1 1366.6h.01M897.2 1352.4h.01M1110.6 1426.0h.01M1343.7 1438.0h.01M927.5 1626.3h.01M947.5 1351.6h.01M1001.4 1377.7h.01M1039.0 1406.6h.01M1110.5 1428.2h.01M914.6 1375.6h.01M945.9 1348.8h.01M936.1 1345.3h.01M1201.6 1408.5h.01M1105.8 1430.8h.01M1202.9 1415.3h.01M937.7 1349.1h.01M1171.9 1430.1h.01M1028.4 1496.6h.01M889.6 1339.5h.01M1136.9 1445.5h.01M949.5 1362.2h.01M930.0 1351.0h.01M1102.3 1417.4h.01M1157.3 1424.6h.01M941.8 1374.5h.01M1077.0 1434.9h.01M956.5 1363.3h.01M912.3 1354.6h.01M906.2 1337.1h.01M1351.6 1448.5h.01M1118.2 1424.3h.01M1122.9 1425.9h.01M915.0 1330.8h.01M948.9 1356.8h.01M1266.6 1424.1h.01M914.5 1334.1h.01M947.9 1377.5h.01M1215.0 1417.0h.01M1187.3 1422.9h.01M909.4 1316.2h.01M1257.1 1436.7h.01M916.6 1370.3h.01M1270.3 1415.3h.01M1099.5 1417.9h.01M1123.4 1437.3h.01M937.6 1349.4h.01M913.1 1369.5h.01M961.8 1370.9h.01M1107.7 1427.6h.01M930.4 1350.8h.01M1145.0 1446.8h.01M1214.4 1426.9h.01M951.1 1558.9h.01M1154.3 1432.2h.01M1272.0 1422.8h.01M949.6 1348.7h.01M889.4 1323.0h.01M1167.8 1422.0h.01M946.1 1351.2h.01M933.1 1328.0h.01M893.5 1326.6h.01M1255.4 1424.7h.01M1163.4 1423.3h.01M941.9 1337.3h.01M934.2 1344.7h.01M1290.1 1419.3h.01M923.6 1348.1h.01M945.7 1345.7h.01M1157.8 1448.0h.01M1165.9 1445.7h.01M910.9 1368.4h.01M1280.7 1417.9h.01M892.9 1325.8h.01M911.4 1334.4h.01M895.4 1356.4h.01M1218.7 1420.9h.01M930.5 1328.9h.01M1146.7 1432.3h.01M904.7 1367.6h.01M1125.9 1426.6h.01M919.9 1316.8h.01M1346.5 1454.1h.01M1181.4 1410.9h.01M1215.0 1408.5h.01M952.5 1342.1h.01M1130.9 1415.4h.01M1088.4 1425.3h.01M899.5 1336.1h.01M1132.6 1443.6h.01M1103.9 1431.4h.01M945.9 1330.4h.01M920.8 1334.7h.01M914.9 1330.7h.01M906.3 1326.3h.01M1063.2 1462.8h.01M1124.6 1415.6h.01M916.5 1606.6h.01M919.0 1378.9h.01M1218.0 1429.7h.01M1179.4 1419.5h.01M927.4 1326.8h.01M1252.8 1437.5h.01M925.6 1598.8h.01M930.3 1342.9h.01M892.1 1369.2h.01M1228.2 1409.3h.01M911.4 1345.3h.01M952.2 1374.6h.01M1125.1 1417.8h.01M1112.9 1412.0h.01M929.9 1332.3h.01M1261.1 1423.4h.01M949.6 1360.2h.01M921.0 1321.5h.01M919.7 1355.5h.01M1107.3 1443.7h.01M990.2 1370.6h.01M1149.8 1423.2h.01M1064.3 1434.1h.01M913.3 1319.4h.01M929.7 1611.4h.01M924.5 1366.9h.01M1218.2 1432.3h.01M999.1 1395.9h.01M1233.1 1427.2h.01M1010.4 1384.5h.01M916.0 1340.2h.01M983.7 1364.4h.01M932.8 1352.7h.01M950.0 1356.3h.01M924.2 1351.9h.01M1139.4 1438.0h.01M904.7 1368.2h.01M1219.1 1419.2h.01M1138.7 1421.1h.01M955.4 1345.6h.01M1237.9 1412.9h.01M1270.8 1412.9h.01M953.2 1366.9h.01M1173.6 1427.1h.01M1096.4 1430.8h.01M940.5 1358.7h.01M1172.1 1414.8h.01M924.3 1323.7h.01M932.0 1329.7h.01M922.2 1328.2h.01M1129.0 1419.5h.01M951.5 1332.8h.01M928.9 1326.7h.01M923.4 1322.2h.01M1246.5 1419.3h.01M922.0 1327.0h.01M1182.1 1415.8h.01M906.2 1346.0h.01M1109.6 1450.5h.01M1185.9 1411.8h.01M1279.7 1423.0h.01M905.8 1325.0h.01M909.8 1342.6h.01M903.9 1329.7h.01M1180.7 1421.6h.01M1191.7 1418.4h.01M959.3 1604.5h.01M917.1 1336.3h.01M933.9 1356.4h.01M891.6 1333.0h.01M1077.3 1448.0h.01M924.5 1368.5h.01M917.2 1318.4h.01M909.9 1355.4h.01M892.0 1337.7h.01M896.4 1361.4h.01M1134.5 1415.9h.01M1130.1 1428.2h.01M925.9 1331.9h.01M908.4 1368.8h.01M1133.7 1444.0h.01M1148.1 1435.4h.01M1088.3 1435.7h.01M998.3 1379.5h.01M1195.1 1417.3h.01M892.2 1346.6h.01M1190.0 1411.2h.01M1024.4 1392.1h.01M1281.9 1434.1h.01M900.3 1347.8h.01M1021.8 1407.3h.01M911.8 1368.8h.01M909.4 1367.6h.01M965.2 1372.5h.01M1255.4 1431.6h.01M1139.0 1425.4h.01M975.6 1538.0h.01M999.2 1381.7h.01M1279.5 1440.3h.01M1006.1 1403.4h.01M1180.5 1409.9h.01M919.9 1358.4h.01M1034.0 1412.3h.01M1115.4 1438.5h.01M1103.0 1419.1h.01M1037.4 1487.0h.01M955.2 1339.3h.01M916.9 1326.2h.01M914.6 1324.3h.01M937.8 1360.1h.01M987.3 1388.4h.01M1120.5 1422.1h.01M929.0 1358.3h.01M1296.2 1424.5h.01M957.6 1364.0h.01M1053.7 1427.7h.01M1122.2 1429.8h.01M1225.9 1412.6h.01M927.5 1332.6h.01M1040.3 1405.5h.01M1002.7 1378.2h.01M1266.4 1423.4h.01M940.6 1347.3h.01M888.3 1329.3h.01M1017.9 1401.7h.01M1150.6 1428.1h.01M1104.0 1417.2h.01M925.6 1607.6h.01M1062.6 1428.1h.01M893.2 1327.7h.01M1166.6 1426.0h.01M1190.6 1409.2h.01M1257.5 1423.8h.01M1221.7 1408.1h.01M1129.1 1433.5h.01M1224.8 1405.6h.01M925.7 1336.4h.01M917.9 1332.7h.01M917.0 1340.5h.01M1089.1 1439.7h.01M1113.2 1452.7h.01M1268.9 1414.6h.01M1249.7 1418.7h.01M1171.3 1432.2h.01M1058.9 1427.3h.01M923.9 1357.5h.01" stroke="#CDA0C0" stroke-width="11.6" stroke-linecap="round" fill="none"/>
<path d="M1001.7 1525.1h.01M1063.9 1468.8h.01M1010.4 1508.6h.01M1036.9 1481.3h.01M1054.9 1466.5h.01M1025.6 1491.1h.01" stroke="#A52A2A" stroke-width="11.6" stroke-linecap="round" fill="none"/>
<path d="M1343.5 1702.3h.01M1331.9 1707.6h.01M1315.2 1733.5h.01M1333.2 1743.6h.01M1362.5 1717.8h.01M907.6 1618.4h.01M1317.4 1728.7h.01M1348.2 1713.6h.01M1316.8 1771.5h.01M1298.2 1762.1h.01M1367.9 1683.6h.01M1396.5 1608.5h.01M1285.3 1769.2h.01M1412.2 1564.9h.01M1311.6 1730.0h.01M1330.5 1718.5h.01M1351.6 1720.7h.01M1353.6 1730.9h.01M1300.5 1746.8h.01M1328.6 1759.4h.01M1356.0 1704.7h.01M1343.3 1714.4h.01M1319.2 1762.1h.01M1297.1 1772.0h.01M1346.8 1745.1h.01M952.9 1571.5h.01M1341.0 1750.4h.01M1454.5 1413.5h.01M1033.1 1520.2h.01M1072.5 1435.1h.01M1020.4 1519.1h.01M1304.0 1753.6h.01M1338.9 1704.2h.01M1312.6 1727.9h.01M1342.9 1730.1h.01M1334.8 1758.7h.01M1318.4 1722.4h.01M1312.6 1743.9h.01M1372.8 1688.7h.01M1356.5 1693.8h.01M974.5 1581.8h.01M1324.1 1768.5h.01M1312.4 1733.6h.01M1303.2 1754.4h.01M1327.2 1762.0h.01M1314.9 1737.5h.01M1373.6 1694.1h.01M1385.5 1659.4h.01M935.0 1587.4h.01M1361.2 1694.3h.01M1339.1 1747.1h.01M1329.1 1761.9h.01M1378.2 1605.5h.01M1352.6 1724.2h.01M1293.3 1772.6h.01M1321.0 1747.4h.01M1327.1 1718.2h.01M1324.2 1757.5h.01M1286.3 1770.0h.01M1332.8 1737.1h.01M1306.0 1784.6h.01M1324.1 1767.2h.01M1302.9 1752.1h.01M975.7 1560.6h.01M1040.0 1407.9h.01M1363.7 1701.2h.01M1372.4 1653.8h.01M1301.1 1778.9h.01M1411.9 1564.1h.01M969.8 1561.9h.01M1288.3 1780.3h.01M1352.3 1688.8h.01M1368.3 1705.9h.01M1339.7 1738.3h.01M1323.6 1735.2h.01M1287.7 1762.7h.01M1282.9 1755.3h.01M1359.0 1698.9h.01M1352.0 1695.8h.01" stroke="#3E5480" stroke-width="11.6" stroke-linecap="round" fill="none"/>
<path d="M1389.4 1531.2h.01M1418.7 1532.7h.01M1320.1 1772.4h.01M1400.5 1598.0h.01M1327.8 1730.4h.01M1385.0 1630.5h.01M1394.2 1608.3h.01M1422.9 1549.8h.01M1397.9 1566.5h.01M1299.6 1740.5h.01M1323.5 1740.3h.01M1386.4 1665.2h.01M1316.9 1720.8h.01M1380.1 1675.5h.01M1389.6 1606.8h.01M1407.3 1604.1h.01M957.7 1571.5h.01M1456.2 1429.8h.01M1370.3 1652.2h.01M1459.4 1423.0h.01M1413.2 1538.9h.01M1460.6 1424.8h.01M1399.8 1529.4h.01M1357.2 1682.5h.01M1392.2 1516.3h.01M897.8 1587.9h.01M1406.9 1535.7h.01M1381.2 1608.4h.01M1416.3 1527.3h.01M1388.8 1605.9h.01M1449.9 1423.0h.01M1407.6 1494.0h.01M1377.9 1682.8h.01M1451.0 1420.1h.01M1369.6 1653.8h.01M897.2 1588.9h.01M1411.0 1505.7h.01M1410.3 1576.1h.01M1364.6 1687.5h.01M1413.5 1494.0h.01M1375.2 1663.1h.01M1405.5 1494.2h.01M1281.1 1770.8h.01M1413.3 1528.6h.01M1315.5 1742.5h.01M1368.7 1651.5h.01M1424.1 1529.2h.01M1025.7 1522.2h.01M1374.5 1649.7h.01M1416.5 1579.1h.01M1347.0 1697.8h.01M1377.0 1613.4h.01M1341.9 1748.9h.01M1337.6 1701.1h.01M1390.5 1658.7h.01M1389.3 1594.9h.01M1275.5 1767.5h.01M1407.5 1544.8h.01M1456.8 1409.0h.01M1456.8 1425.0h.01M1413.8 1523.5h.01M1462.0 1429.5h.01M919.9 1622.6h.01M1427.3 1434.0h.01M1410.9 1502.7h.01M1459.6 1417.6h.01M1325.7 1731.2h.01M1380.8 1622.3h.01M1414.9 1585.3h.01M1458.2 1428.3h.01M1450.9 1412.2h.01M1393.8 1591.4h.01M1337.0 1736.5h.01M1344.2 1732.3h.01M1082.0 1460.6h.01M1411.0 1566.2h.01M1084.2 1468.0h.01M1458.4 1426.3h.01M1418.0 1482.3h.01M1325.6 1755.5h.01M1374.1 1636.9h.01M1405.2 1590.6h.01M1400.0 1636.0h.01M1376.5 1680.9h.01M1453.9 1418.0h.01M1390.1 1526.8h.01M1395.5 1551.7h.01M1359.4 1703.4h.01M1396.2 1648.9h.01M1386.9 1612.7h.01M1354.8 1716.8h.01M1416.9 1475.6h.01M1381.9 1639.3h.01M1420.1 1542.2h.01M1400.4 1568.6h.01M1352.1 1699.7h.01M1451.4 1419.5h.01M1384.7 1660.3h.01M1382.9 1598.9h.01M1354.5 1671.2h.01M1401.1 1570.3h.01M1452.2 1422.7h.01M1348.5 1729.9h.01M1413.9 1561.6h.01M1402.7 1599.0h.01M1398.8 1622.0h.01M1397.1 1529.8h.01M1396.3 1548.0h.01M1368.2 1663.7h.01M1410.1 1606.8h.01M1402.6 1563.7h.01M1397.4 1573.1h.01M1402.5 1569.3h.01M1426.4 1522.1h.01M1412.0 1495.3h.01M1308.1 1778.0h.01M1459.2 1429.2h.01M1395.7 1640.8h.01M1407.2 1554.8h.01M1456.7 1429.0h.01M1405.6 1440.7h.01M1364.9 1700.5h.01M1381.5 1672.3h.01M1380.2 1657.7h.01M1026.0 1513.3h.01M1454.7 1419.3h.01M1401.0 1447.2h.01M985.4 1572.2h.01M1463.4 1412.8h.01M1397.3 1570.1h.01M1463.5 1425.5h.01M1385.1 1676.4h.01M1425.1 1438.3h.01M1408.8 1518.3h.01M1455.3 1411.9h.01M1424.7 1535.6h.01M1422.0 1552.6h.01M1369.5 1660.0h.01M1460.6 1419.2h.01M1419.2 1483.9h.01M1401.2 1575.4h.01M1418.8 1501.3h.01M1373.0 1628.3h.01M1424.6 1534.4h.01M1465.8 1419.9h.01M1402.6 1598.7h.01M1416.0 1508.9h.01M1335.6 1722.2h.01M1411.3 1487.4h.01M1391.1 1539.7h.01M1462.1 1410.7h.01M1410.0 1475.3h.01M1397.6 1542.1h.01M1405.9 1493.3h.01M1357.6 1725.4h.01M1467.3 1428.7h.01M1412.1 1469.4h.01M1462.9 1416.7h.01M1405.6 1516.5h.01M993.5 1562.7h.01M1348.3 1692.1h.01M1366.2 1668.3h.01M1460.8 1421.1h.01M1417.4 1523.4h.01M1408.5 1582.8h.01M1400.6 1582.1h.01M1407.2 1569.8h.01M1414.5 1574.2h.01M1423.7 1491.6h.01M1332.4 1731.6h.01M1400.4 1602.2h.01M1393.7 1530.2h.01M1376.8 1643.6h.01M1332.3 1738.9h.01M1369.3 1662.0h.01M1422.3 1542.3h.01M1456.3 1429.3h.01M1408.4 1472.0h.01M1427.6 1431.0h.01M1387.7 1601.0h.01M1456.0 1416.1h.01M1460.5 1420.0h.01M1417.0 1514.1h.01M1415.9 1478.5h.01M1363.0 1668.6h.01M1424.5 1511.1h.01M1376.7 1631.3h.01M1405.4 1531.4h.01M1376.9 1689.6h.01M1407.1 1594.4h.01M1342.4 1709.9h.01M1391.3 1513.3h.01M1378.3 1627.0h.01M1453.4 1414.3h.01M1461.6 1413.8h.01M1323.9 1722.5h.01M1394.2 1512.9h.01M1413.4 1582.7h.01M1387.9 1522.5h.01M1402.1 1596.6h.01M952.2 1552.7h.01M1394.0 1649.1h.01M1467.5 1424.5h.01M1353.9 1711.5h.01M1408.8 1583.5h.01M934.1 1594.3h.01M943.4 1554.4h.01M1372.1 1693.6h.01" stroke="#5E7697" stroke-width="11.6" stroke-linecap="round" fill="none"/>
<path d="M1369.5 1434.2h.01M1322.4 1450.0h.01M1436.0 1435.5h.01M1406.1 1449.5h.01M1345.8 1451.9h.01M1393.8 1524.1h.01M1375.6 1454.3h.01M1297.2 1429.6h.01M1423.5 1431.4h.01M1303.7 1444.2h.01M1300.8 1444.5h.01M1148.4 1443.2h.01M1216.6 1425.2h.01M1314.7 1435.4h.01M1359.0 1426.2h.01M1359.8 1455.5h.01M1336.0 1446.6h.01M1411.1 1442.2h.01M1275.3 1439.6h.01M1396.9 1498.2h.01M1124.8 1435.6h.01M1374.2 1446.6h.01M1141.6 1448.1h.01M1442.3 1432.8h.01M1313.6 1434.2h.01M1350.3 1452.3h.01M1146.3 1448.6h.01M1312.9 1450.5h.01M1165.4 1428.3h.01M1318.2 1446.3h.01M1382.3 1451.7h.01M1109.7 1441.3h.01M1096.7 1446.7h.01M1306.9 1449.6h.01M1357.8 1434.6h.01M1409.5 1439.7h.01M1405.6 1529.8h.01M1352.5 1445.1h.01M1094.7 1441.7h.01M1326.2 1446.4h.01M1406.7 1450.1h.01M1331.3 1435.0h.01M1104.9 1446.8h.01M1416.2 1441.2h.01M1217.6 1430.1h.01M1177.0 1428.0h.01M1367.8 1451.9h.01M1311.2 1432.7h.01M1369.9 1430.6h.01M1379.7 1443.3h.01M1337.7 1451.4h.01M1321.8 1448.4h.01M1370.4 1440.4h.01M1410.4 1441.4h.01M1410.6 1440.7h.01M1357.1 1444.7h.01M1245.4 1427.0h.01M1321.6 1436.4h.01M1226.3 1436.6h.01M1356.9 1449.8h.01M1112.0 1449.9h.01M1202.2 1431.5h.01M1381.1 1448.3h.01M1326.8 1449.2h.01M1344.8 1454.9h.01" stroke="#95BCD6" stroke-width="11.6" stroke-linecap="round" fill="none"/>
<path d="M1419.9 1431.3h.01M998.1 1394.7h.01M1065.7 1482.7h.01M1422.1 1515.9h.01M1270.3 1432.3h.01M990.2 1557.7h.01M1008.3 1544.3h.01M1053.3 1410.4h.01M1036.8 1520.0h.01M1022.1 1409.6h.01M1166.5 1428.7h.01M1075.8 1482.8h.01M1053.3 1498.4h.01M1418.2 1439.9h.01M1085.7 1461.0h.01M1372.5 1445.5h.01M1408.7 1438.5h.01M1065.4 1494.6h.01M1048.5 1421.1h.01M1137.5 1433.8h.01M1302.2 1444.3h.01M992.8 1392.3h.01" stroke="#27325E" stroke-width="11.6" stroke-linecap="round" fill="none"/>
<path d="M912.9 1575.2h.01M897.0 1585.6h.01M892.1 1348.1h.01M1351.3 1446.7h.01M1012.3 1539.6h.01M1331.3 1452.4h.01M963.3 1600.1h.01M1368.8 1426.6h.01M952.8 1342.0h.01M969.0 1566.0h.01M1413.1 1526.6h.01M917.9 1334.1h.01M946.3 1347.6h.01M899.1 1330.0h.01M1118.7 1425.0h.01M1042.6 1417.2h.01M896.6 1339.7h.01M1356.6 1443.0h.01M1048.0 1508.8h.01M889.8 1347.4h.01M1034.2 1509.4h.01M1244.1 1411.1h.01M952.3 1559.9h.01M891.3 1321.7h.01M949.3 1332.6h.01M924.9 1619.8h.01M971.8 1554.0h.01M891.5 1333.4h.01M1305.0 1439.6h.01M965.6 1543.5h.01M933.9 1589.5h.01M947.9 1363.9h.01M897.1 1579.7h.01M941.5 1556.0h.01M1422.4 1532.8h.01M1332.2 1430.1h.01M902.0 1600.1h.01M920.9 1628.3h.01M929.3 1379.1h.01" stroke="#DDB5DA" stroke-width="11.6" stroke-linecap="round" fill="none"/>
<path d="M1047.0 1489.7h.01M982.6 1580.4h.01M1110.9 1440.6h.01M913.8 1596.2h.01M1078.3 1450.1h.01M1070.1 1447.7h.01M917.1 1374.9h.01M927.7 1611.7h.01M922.5 1371.2h.01M893.4 1591.9h.01M976.2 1541.3h.01M1007.1 1514.0h.01M906.6 1604.0h.01M1098.4 1438.4h.01M1007.5 1521.0h.01M1002.0 1518.4h.01M901.3 1375.2h.01M938.9 1600.7h.01" stroke="#E8952A" stroke-width="11.6" stroke-linecap="round" fill="none"/>
<path d="M1114.6 1436.5h.01M890.4 1347.6h.01M883.7 1362.4h.01M961.0 1371.3h.01M889.1 1338.0h.01M884.6 1366.3h.01M890.2 1371.2h.01M1051.7 1468.4h.01M931.7 1347.8h.01M908.4 1577.7h.01M888.4 1337.4h.01M961.7 1548.9h.01M964.0 1553.5h.01M955.7 1375.1h.01M877.7 1354.9h.01M938.5 1595.5h.01M1099.7 1449.4h.01M1119.7 1445.5h.01M930.5 1569.8h.01M895.0 1583.4h.01M955.0 1334.6h.01M1104.6 1450.8h.01M888.5 1359.9h.01M1000.9 1521.5h.01" stroke="#3E9296" stroke-width="11.6" stroke-linecap="round" fill="none"/>
<path d="M940.6 1380.8h.01M984.6 1533.6h.01M1316.0 1727.0h.01M926.1 1573.9h.01M1063.1 1498.8h.01M942.1 1571.3h.01M1024.8 1522.4h.01M933.2 1580.8h.01M959.7 1549.7h.01M965.8 1549.2h.01M975.9 1577.3h.01M1311.9 1430.8h.01M963.2 1576.1h.01M957.8 1554.5h.01M973.4 1555.6h.01M938.2 1568.2h.01M1356.5 1452.8h.01M1030.4 1523.8h.01M1373.7 1629.0h.01M1352.8 1675.2h.01M925.6 1379.6h.01M1070.3 1481.6h.01M956.0 1596.2h.01M1430.2 1522.4h.01M1112.8 1436.7h.01M971.8 1550.4h.01M939.0 1375.9h.01M1030.6 1523.7h.01M917.3 1376.1h.01M1107.6 1443.5h.01M1345.4 1730.4h.01M943.1 1559.2h.01M1014.7 1533.8h.01M1296.3 1741.5h.01M1288.8 1755.4h.01M903.7 1601.2h.01M976.4 1537.8h.01M946.6 1555.6h.01M915.7 1580.8h.01M1379.0 1684.8h.01M915.8 1570.5h.01M965.4 1593.2h.01M969.4 1572.2h.01M943.3 1582.2h.01M934.8 1600.7h.01M1034.7 1514.9h.01M954.6 1580.2h.01M1074.2 1483.2h.01M909.3 1380.7h.01M917.9 1619.7h.01M1087.6 1459.4h.01M948.3 1562.2h.01M965.7 1577.5h.01M952.8 1577.2h.01M1023.6 1529.9h.01M963.9 1590.8h.01M933.1 1562.0h.01M945.9 1606.2h.01M1049.1 1510.4h.01M958.4 1605.3h.01M987.0 1557.5h.01M1400.6 1567.4h.01M1102.0 1439.6h.01M924.2 1607.4h.01M942.4 1616.2h.01M933.6 1381.2h.01M929.4 1377.6h.01M1378.8 1655.6h.01M1386.4 1651.7h.01M906.8 1612.2h.01M1214.7 1432.4h.01M945.5 1568.3h.01M1061.8 1497.2h.01M918.6 1583.1h.01M899.7 1599.4h.01M1350.3 1716.2h.01M924.1 1599.9h.01M1311.1 1731.0h.01M1373.3 1649.3h.01M944.3 1559.7h.01M1065.7 1483.1h.01M990.0 1566.5h.01M937.1 1618.7h.01M964.1 1376.0h.01M925.7 1624.6h.01M1012.0 1534.7h.01M954.8 1571.5h.01M1388.6 1594.9h.01M1042.3 1492.8h.01M933.3 1622.1h.01M1407.2 1490.3h.01M1023.0 1529.1h.01M925.1 1628.6h.01M1299.3 1429.7h.01M1057.6 1484.1h.01M1060.9 1455.7h.01M965.2 1546.7h.01M962.9 1589.1h.01M915.2 1373.3h.01M1277.5 1766.5h.01M1332.1 1708.6h.01M953.5 1566.5h.01" stroke="#B49FDB" stroke-width="11.6" stroke-linecap="round" fill="none"/>
<path d="M1043.8 1475.0h.01M988.1 1534.7h.01" stroke="#A52A2A" stroke-width="11.6" stroke-linecap="round" fill="none"/>
<path d="M967.0 1585.4h.01M925.3 1358.2h.01M1049.0 1420.3h.01M908.1 1613.9h.01M1076.2 1480.5h.01M1263.0 1436.5h.01M1156.9 1422.1h.01M1062.8 1497.9h.01M924.1 1621.4h.01M933.0 1583.3h.01M1102.4 1447.2h.01M929.6 1573.4h.01M1024.1 1516.5h.01M1122.0 1415.4h.01M939.3 1380.1h.01M1194.9 1428.4h.01M1223.5 1432.1h.01M894.8 1589.9h.01M912.1 1581.5h.01M1103.9 1440.3h.01M1430.6 1435.6h.01M919.5 1352.0h.01M961.3 1593.3h.01M960.2 1562.5h.01M1075.8 1465.2h.01M913.8 1615.0h.01M1132.1 1423.8h.01M1412.8 1436.0h.01M1069.2 1482.2h.01M1256.7 1438.7h.01M1296.8 1430.4h.01M1058.8 1415.9h.01M899.7 1337.9h.01M914.1 1349.4h.01M938.8 1578.0h.01M947.2 1355.2h.01M1002.3 1550.4h.01M965.8 1371.2h.01M995.6 1556.6h.01M1004.4 1400.1h.01M1076.5 1479.0h.01M935.3 1612.4h.01M1121.8 1444.8h.01M1073.2 1479.7h.01M1116.4 1430.6h.01M1068.7 1471.4h.01M1100.5 1444.4h.01M946.1 1586.7h.01M970.6 1574.0h.01M1057.6 1481.7h.01M1063.6 1462.6h.01M918.9 1581.0h.01M1050.2 1502.2h.01M1196.8 1422.6h.01M892.0 1591.9h.01M1082.3 1435.1h.01M1229.7 1434.4h.01M1292.6 1748.6h.01M1064.1 1475.2h.01M937.8 1372.2h.01M917.7 1592.3h.01M1367.1 1445.1h.01M955.9 1381.7h.01M1070.0 1454.3h.01M1239.5 1425.7h.01M1425.6 1435.9h.01M1040.8 1514.9h.01M1016.2 1503.3h.01M978.4 1537.8h.01M1270.7 1432.5h.01M927.5 1607.0h.01M965.4 1566.0h.01M1022.5 1523.9h.01M920.9 1578.9h.01M1249.4 1421.9h.01M1140.8 1442.6h.01M1055.8 1507.6h.01M997.8 1541.5h.01M933.3 1585.4h.01M937.7 1579.6h.01M962.8 1382.0h.01M916.9 1613.6h.01M915.1 1599.1h.01M983.7 1561.1h.01M1174.5 1431.7h.01M1411.9 1443.6h.01M1144.8 1433.0h.01M1009.8 1529.7h.01M919.5 1579.6h.01M937.1 1378.7h.01M1083.5 1465.0h.01M1042.4 1403.6h.01M985.9 1571.3h.01M1351.0 1439.6h.01M1049.8 1468.4h.01M1057.2 1501.0h.01M957.8 1566.7h.01M1072.4 1448.3h.01M1293.2 1430.4h.01M911.0 1589.5h.01M1081.5 1468.8h.01M1044.5 1485.3h.01M945.2 1555.9h.01" stroke="#D4A3E0" stroke-width="11.6" stroke-linecap="round" fill="none"/>
<path d="M1416.8 1557.8h.01M1381.5 1678.4h.01M1352.2 1674.7h.01M1395.5 1611.6h.01" stroke="#A88AD0" stroke-width="11.6" stroke-linecap="round" fill="none"/>
<path d="M977.2 1583.4h.01M1047.3 1407.6h.01M909.5 1313.5h.01M1073.6 1438.5h.01M1166.3 1418.1h.01M904.2 1374.2h.01M1208.2 1428.1h.01M1186.3 1422.3h.01M890.7 1334.6h.01M1263.0 1429.1h.01M910.2 1315.9h.01M1198.6 1415.1h.01M1037.7 1399.9h.01M914.3 1335.4h.01M1089.8 1431.9h.01M1079.5 1438.4h.01M1376.4 1434.0h.01M913.7 1363.8h.01M1139.8 1447.7h.01M1110.9 1432.8h.01M940.6 1361.2h.01M1270.7 1418.2h.01M1247.9 1435.6h.01M1132.1 1433.6h.01M1177.4 1415.7h.01M1184.6 1412.2h.01M1068.7 1430.7h.01M907.0 1320.1h.01M1162.1 1432.0h.01M1242.2 1419.6h.01M938.0 1355.9h.01M1320.8 1444.7h.01M936.2 1332.2h.01M918.8 1340.0h.01M1224.4 1416.6h.01M908.7 1326.2h.01M916.0 1628.1h.01M1037.0 1415.7h.01M904.3 1318.4h.01M1225.6 1405.0h.01M897.6 1365.5h.01M1129.6 1421.4h.01M1107.8 1423.3h.01M983.5 1385.6h.01M1227.6 1410.6h.01M997.6 1385.1h.01M904.4 1342.0h.01M1309.3 1442.1h.01M925.0 1322.5h.01M1182.1 1417.1h.01M1122.3 1444.6h.01M1113.8 1427.4h.01M1135.9 1417.0h.01M1249.5 1412.1h.01M1024.6 1393.1h.01M924.0 1334.1h.01M1197.5 1405.5h.01M940.1 1338.6h.01M1155.8 1443.7h.01M907.2 1354.1h.01M893.9 1342.0h.01M927.3 1366.5h.01M1231.6 1409.5h.01M1256.1 1425.0h.01M1110.5 1417.1h.01M949.6 1378.2h.01M913.3 1321.8h.01M890.4 1354.3h.01M1087.3 1425.4h.01M1188.3 1412.7h.01M1215.9 1422.0h.01M938.6 1361.6h.01M928.6 1333.7h.01M938.1 1382.8h.01M938.7 1331.9h.01M1102.1 1449.3h.01M937.5 1355.4h.01M1142.4 1431.7h.01M929.4 1339.0h.01M1203.0 1421.4h.01M1101.0 1437.7h.01M1202.5 1419.0h.01M984.6 1365.2h.01M892.2 1364.4h.01M1032.1 1401.8h.01M1227.3 1406.0h.01M1098.7 1424.7h.01M912.8 1318.2h.01M924.3 1333.4h.01M1287.6 1423.8h.01M1059.5 1432.1h.01M948.5 1353.8h.01M1226.2 1412.0h.01M1270.5 1416.8h.01M947.5 1368.3h.01M935.8 1357.6h.01M953.7 1340.6h.01M1104.6 1442.9h.01M913.3 1325.8h.01M1117.6 1436.1h.01M911.5 1358.0h.01M1015.8 1398.7h.01M890.8 1330.6h.01M1103.5 1418.7h.01M939.0 1360.5h.01M1270.7 1414.8h.01M957.5 1341.1h.01M1256.8 1418.8h.01M920.2 1345.5h.01M924.9 1374.9h.01M905.1 1334.7h.01M1174.2 1411.5h.01M1163.6 1423.9h.01M901.0 1328.8h.01M926.8 1374.9h.01M1157.4 1423.4h.01M897.7 1327.3h.01M894.4 1354.0h.01M907.4 1350.6h.01M930.6 1322.7h.01M934.7 1327.1h.01M1155.1 1423.9h.01M1108.6 1420.4h.01M914.1 1379.7h.01M1266.1 1418.0h.01M963.4 1369.6h.01M1187.7 1411.5h.01M1238.5 1422.8h.01M947.5 1328.8h.01M1279.8 1427.8h.01M894.1 1361.7h.01M907.1 1375.4h.01M915.7 1355.2h.01M922.5 1325.8h.01M1180.1 1416.6h.01M906.3 1368.7h.01M1214.1 1410.3h.01M954.9 1332.3h.01M1230.6 1411.8h.01M1097.3 1450.7h.01M990.2 1373.7h.01M905.8 1325.9h.01M1266.9 1417.9h.01M958.7 1338.9h.01M1181.2 1431.0h.01M1154.4 1437.3h.01M943.9 1337.1h.01M894.2 1329.7h.01M889.9 1343.5h.01M1199.2 1422.5h.01M1115.1 1416.6h.01M942.1 1344.6h.01M898.9 1343.0h.01M915.0 1337.8h.01M1277.5 1436.4h.01M910.7 1362.6h.01M913.5 1326.6h.01M909.0 1345.6h.01M1204.7 1413.9h.01M1153.0 1427.2h.01M1195.0 1411.4h.01M1062.7 1433.2h.01M902.6 1375.5h.01M978.7 1363.3h.01M875.2 1356.2h.01M1302.0 1445.5h.01M1176.4 1421.4h.01M1258.2 1432.4h.01M905.6 1367.2h.01M894.8 1372.5h.01M995.3 1385.0h.01M1032.1 1413.4h.01M1234.6 1416.2h.01M889.9 1330.5h.01M1270.5 1422.4h.01M931.9 1333.9h.01M911.3 1332.6h.01M919.1 1328.8h.01M960.4 1382.7h.01M1152.9 1443.8h.01M930.7 1358.4h.01M909.1 1367.7h.01M897.4 1359.0h.01M1133.3 1451.1h.01M1174.5 1421.8h.01M1223.4 1416.8h.01M1047.5 1422.7h.01M949.9 1382.9h.01M1032.9 1416.4h.01M930.6 1328.2h.01M938.9 1357.9h.01M1252.4 1435.3h.01M899.4 1360.1h.01M1054.6 1427.3h.01M928.5 1355.1h.01M1179.9 1418.3h.01M897.5 1333.6h.01M1181.3 1429.5h.01M1182.6 1419.4h.01M906.8 1331.5h.01M1236.1 1410.9h.01M1308.2 1435.3h.01M1008.1 1518.0h.01M956.6 1343.2h.01M910.4 1343.4h.01M1160.2 1445.1h.01M925.7 1368.1h.01M987.4 1383.6h.01M1134.1 1417.4h.01M902.0 1326.4h.01M886.5 1327.5h.01M941.1 1331.1h.01M947.1 1332.5h.01M1188.5 1430.6h.01M1089.8 1432.0h.01M992.9 1525.2h.01M1261.7 1418.5h.01M915.2 1354.4h.01M900.2 1371.4h.01M912.7 1595.7h.01M952.4 1375.7h.01M955.6 1343.6h.01M906.1 1325.1h.01M935.8 1382.6h.01M899.0 1339.2h.01M898.2 1366.3h.01M910.9 1344.3h.01M1121.3 1422.5h.01M955.0 1379.5h.01M932.1 1363.7h.01M1387.8 1434.0h.01M901.4 1322.6h.01M1119.7 1418.0h.01M1191.3 1410.5h.01M906.2 1366.6h.01M1132.6 1432.4h.01M1239.6 1436.0h.01M1225.7 1423.0h.01M1135.2 1440.1h.01M899.5 1377.1h.01M1136.3 1447.7h.01M898.3 1336.1h.01" stroke="#CDA0C0" stroke-width="11.6" stroke-linecap="round" fill="none"/>
<path d="M989.4 1373.7h.01M1259.3 1430.6h.01M1030.1 1505.9h.01M1217.3 1430.1h.01M1189.5 1432.0h.01M1126.7 1415.9h.01M1232.8 1425.4h.01M1040.7 1405.5h.01M981.0 1546.9h.01M1324.7 1728.5h.01M1044.7 1417.8h.01M1042.1 1477.0h.01M995.7 1382.9h.01M982.2 1531.6h.01M996.2 1388.1h.01M1021.5 1408.1h.01M923.5 1623.1h.01M987.1 1372.7h.01M1022.9 1499.4h.01M1010.4 1515.8h.01M1073.4 1442.4h.01M928.2 1569.2h.01M1027.8 1502.5h.01M934.8 1615.9h.01M1055.3 1415.2h.01M1353.1 1676.7h.01M1049.3 1470.8h.01M1010.9 1518.4h.01M1049.5 1408.3h.01M1119.6 1419.6h.01M982.7 1529.3h.01M1108.2 1414.6h.01M1028.2 1500.9h.01M994.0 1554.1h.01M1030.5 1411.0h.01M1336.9 1709.2h.01M918.2 1598.4h.01M1343.6 1692.4h.01M1055.7 1427.3h.01M1053.7 1462.7h.01M1140.2 1437.4h.01M1127.7 1420.5h.01M1344.4 1444.3h.01M1038.2 1495.6h.01M1043.1 1488.4h.01M1011.4 1518.2h.01M992.9 1524.2h.01M1428.4 1434.4h.01M1360.3 1427.4h.01M1060.4 1472.3h.01M1069.6 1492.1h.01M1076.5 1443.4h.01M988.1 1373.5h.01M1015.2 1384.6h.01M1045.2 1468.8h.01M1050.3 1469.0h.01M1172.0 1429.9h.01M1008.3 1383.1h.01M983.5 1570.4h.01M1068.7 1468.9h.01M1383.3 1432.6h.01M991.2 1379.4h.01M1064.7 1470.3h.01M1007.0 1399.7h.01M1023.4 1398.3h.01M917.3 1614.0h.01M1130.7 1439.7h.01M1077.4 1444.7h.01M1011.4 1504.9h.01M1041.5 1513.1h.01M1064.5 1470.5h.01M968.6 1539.0h.01M901.9 1596.2h.01M1343.6 1692.4h.01M1067.7 1427.4h.01M953.0 1586.2h.01M1157.7 1444.8h.01M1238.1 1425.3h.01M981.2 1380.9h.01M984.6 1380.0h.01M1040.9 1413.3h.01M971.1 1373.8h.01M1058.6 1460.6h.01M1032.2 1522.4h.01M1323.3 1432.4h.01M984.8 1529.6h.01M1007.3 1535.3h.01M1050.3 1469.2h.01M1045.2 1423.1h.01M1186.9 1428.9h.01M1063.9 1421.1h.01M1078.8 1453.2h.01M1046.0 1477.2h.01M1225.9 1425.3h.01M1055.9 1484.3h.01M913.6 1620.4h.01M1052.3 1472.2h.01M1077.3 1485.2h.01M1115.1 1423.4h.01M1047.2 1405.2h.01M1303.9 1446.3h.01M1041.4 1496.8h.01M1057.3 1484.6h.01M1059.3 1458.3h.01" stroke="#B04020" stroke-width="11.6" stroke-linecap="round" fill="none"/>
<path d="M1092.9 1445.3h.01M962.2 1601.2h.01M1122.7 1445.9h.01M908.6 1578.1h.01M1040.7 1480.1h.01M1081.5 1435.3h.01M1043.2 1419.3h.01M1065.4 1450.1h.01M913.4 1379.4h.01" stroke="#E8952A" stroke-width="11.6" stroke-linecap="round" fill="none"/>
<path d="M1024.2 1393.3h.01M882.3 1365.6h.01M891.7 1365.0h.01M960.4 1375.4h.01M1006.0 1511.6h.01M890.4 1351.6h.01M942.1 1371.5h.01M965.2 1573.4h.01M880.4 1358.4h.01M1048.2 1424.0h.01M949.1 1371.8h.01M888.0 1347.5h.01M1041.0 1477.1h.01M885.6 1359.2h.01M908.0 1370.7h.01M1011.7 1519.3h.01M944.3 1379.0h.01M882.9 1350.6h.01M929.9 1320.3h.01M888.7 1369.6h.01M952.8 1382.8h.01M886.3 1366.4h.01M915.3 1354.5h.01M890.6 1360.9h.01M955.7 1569.0h.01M1135.5 1439.8h.01M965.9 1592.0h.01M889.6 1371.2h.01" stroke="#3E9296" stroke-width="11.6" stroke-linecap="round" fill="none"/>
<path d="M1004.0 1384.0h.01M1263.8 1435.1h.01M1200.0 1414.0h.01M1157.8 1429.8h.01M1328.7 1427.6h.01M1116.5 1427.6h.01M1071.3 1440.6h.01M952.1 1376.4h.01M1033.5 1397.0h.01M1164.3 1418.0h.01M943.6 1327.3h.01M937.1 1371.4h.01M902.1 1376.5h.01M1181.5 1411.1h.01M894.6 1359.1h.01M912.9 1377.2h.01M1283.3 1435.6h.01M936.6 1361.7h.01M896.2 1377.1h.01M947.9 1340.5h.01M886.1 1337.3h.01M893.1 1359.5h.01M1278.3 1413.8h.01M1123.0 1437.8h.01M1260.0 1427.7h.01M1027.9 1402.2h.01M1275.8 1428.3h.01M946.6 1327.6h.01M947.7 1327.7h.01M953.5 1338.3h.01M1257.9 1436.9h.01M1162.8 1425.8h.01M911.6 1359.5h.01M961.9 1374.3h.01M898.9 1338.7h.01M1196.1 1427.3h.01M942.9 1347.1h.01M1003.5 1382.8h.01M1313.6 1426.6h.01M1264.8 1431.2h.01M930.2 1583.6h.01M952.9 1379.4h.01M947.5 1340.8h.01M1174.9 1411.7h.01M945.2 1369.9h.01M1041.4 1420.1h.01M952.4 1337.0h.01M1163.4 1417.8h.01M1148.3 1436.0h.01M873.0 1323.0h.01M925.9 1328.3h.01M958.5 1340.6h.01M917.3 1318.4h.01M977.3 1381.3h.01M1228.7 1423.9h.01M926.3 1349.8h.01M972.1 1376.4h.01M938.8 1350.6h.01M945.3 1383.2h.01M930.8 1380.6h.01M1215.1 1422.3h.01M954.6 1349.9h.01M1112.5 1412.7h.01M1171.2 1430.8h.01M1245.3 1410.8h.01M922.7 1320.9h.01M1220.0 1432.4h.01M1202.5 1427.3h.01M904.6 1364.1h.01M1179.7 1413.0h.01M1266.6 1416.7h.01M971.5 1376.6h.01M1160.4 1421.6h.01M919.4 1344.5h.01M928.0 1339.1h.01M1221.1 1406.1h.01M919.1 1318.8h.01M964.1 1553.2h.01M919.1 1359.6h.01M1040.1 1405.3h.01M923.1 1356.2h.01M927.7 1338.1h.01M937.7 1382.9h.01M1237.7 1419.6h.01M920.3 1365.8h.01M1264.7 1414.1h.01M889.6 1374.3h.01M1060.3 1432.4h.01M1119.2 1421.4h.01M1075.6 1434.4h.01M952.0 1333.6h.01M943.8 1368.0h.01M940.5 1330.4h.01M1294.6 1431.5h.01M1057.4 1415.4h.01M924.3 1326.1h.01M1102.1 1420.5h.01M948.3 1382.8h.01M1288.3 1419.6h.01M929.0 1346.0h.01M940.8 1363.9h.01M918.0 1371.2h.01M918.0 1349.1h.01M905.3 1348.0h.01M943.9 1331.6h.01M934.1 1353.8h.01M914.1 1348.6h.01M925.5 1580.3h.01M949.6 1557.4h.01M952.0 1339.8h.01M1212.8 1417.5h.01M942.3 1370.2h.01M1289.5 1435.1h.01M953.7 1383.4h.01M931.8 1341.2h.01M1114.5 1446.9h.01M984.5 1369.9h.01M888.5 1339.9h.01M1186.6 1422.5h.01M1255.2 1426.8h.01M898.6 1343.2h.01M936.5 1355.8h.01M916.1 1374.7h.01M945.9 1381.1h.01M918.6 1323.3h.01M1263.4 1439.4h.01M1234.8 1434.5h.01M897.7 1372.4h.01M1250.6 1435.6h.01M1230.9 1412.8h.01M1126.6 1431.7h.01M945.4 1338.1h.01M1089.5 1425.1h.01M952.4 1600.1h.01M946.6 1335.6h.01M899.2 1375.9h.01M892.7 1331.5h.01M1149.7 1430.9h.01M956.1 1340.7h.01M914.3 1378.4h.01M1278.0 1419.6h.01M1031.6 1408.6h.01M1237.7 1411.1h.01M938.7 1348.2h.01M1036.3 1407.5h.01M1376.6 1446.4h.01M937.0 1354.0h.01M879.9 1352.2h.01M909.3 1326.5h.01M1022.8 1406.9h.01M1241.0 1424.5h.01M921.2 1344.6h.01M1100.5 1431.6h.01M938.1 1376.0h.01M1176.6 1431.7h.01M929.6 1364.8h.01M1170.5 1426.2h.01M921.0 1325.6h.01M943.8 1379.7h.01M924.0 1357.9h.01M908.3 1317.9h.01M940.3 1357.2h.01M907.7 1364.5h.01M1146.9 1430.6h.01M959.9 1374.0h.01M916.8 1331.3h.01M1039.8 1402.4h.01M904.7 1361.5h.01M902.2 1328.9h.01M1034.8 1401.3h.01M1255.4 1428.0h.01M1198.0 1423.6h.01M936.1 1326.6h.01M904.8 1331.1h.01M1112.8 1447.0h.01M952.6 1337.8h.01M942.7 1368.1h.01M1229.0 1408.1h.01M1216.6 1412.6h.01M911.9 1355.4h.01M1289.1 1437.9h.01M957.3 1582.6h.01M1286.8 1424.8h.01M921.5 1381.3h.01M1063.3 1420.9h.01M1157.8 1428.9h.01M1002.4 1376.5h.01M922.4 1328.8h.01M1113.6 1432.9h.01M950.5 1344.4h.01M1114.0 1428.5h.01M914.2 1322.2h.01M928.2 1322.4h.01M900.6 1335.7h.01M941.0 1327.8h.01M948.1 1357.4h.01M955.2 1366.3h.01M1140.0 1426.9h.01M1188.7 1421.3h.01M952.8 1353.9h.01M1263.0 1427.4h.01M1111.4 1450.8h.01M1228.1 1422.7h.01M1118.8 1429.5h.01M918.4 1334.2h.01M940.4 1357.0h.01M919.2 1320.1h.01M1173.5 1428.7h.01M1031.0 1403.2h.01M1192.3 1418.6h.01M892.7 1338.3h.01M899.8 1330.2h.01M1100.8 1418.6h.01M918.1 1375.8h.01M1260.2 1422.9h.01M1268.4 1425.5h.01M897.8 1332.3h.01M1197.4 1408.2h.01M1153.2 1440.9h.01M1151.1 1439.8h.01M953.2 1383.8h.01M1036.4 1407.1h.01M931.2 1357.5h.01M995.8 1523.4h.01M1247.5 1425.4h.01M1055.6 1414.2h.01M1264.3 1418.1h.01M1278.8 1415.5h.01M918.3 1365.0h.01M902.9 1345.9h.01M917.0 1338.2h.01M1272.3 1429.0h.01" stroke="#CDA0C0" stroke-width="11.6" stroke-linecap="round" fill="none"/>
<path d="M1407.4 1444.4h.01M1360.7 1442.7h.01M1346.9 1448.5h.01M1273.8 1430.6h.01M1373.2 1438.7h.01M1386.6 1442.0h.01M1375.8 1445.3h.01M1252.9 1430.5h.01M1321.0 1441.2h.01M1373.5 1451.3h.01M1349.4 1454.8h.01M1436.8 1433.6h.01M1354.3 1431.1h.01M1128.5 1433.8h.01M1414.6 1441.1h.01M1407.6 1452.0h.01M1343.3 1443.5h.01M1316.1 1435.2h.01M1030.5 1510.4h.01M1315.4 1440.5h.01M1357.7 1427.2h.01M1340.4 1440.7h.01M1306.5 1441.0h.01M1377.8 1445.9h.01M1326.8 1445.0h.01M1103.1 1432.8h.01M1365.2 1447.2h.01M1012.8 1538.2h.01M1338.6 1447.4h.01M1416.8 1435.6h.01M1303.8 1442.7h.01M1422.5 1552.2h.01M1368.8 1451.7h.01M1332.2 1452.7h.01M1332.7 1441.4h.01M1381.0 1430.3h.01M1148.8 1448.8h.01M1324.1 1445.7h.01M1334.9 1439.1h.01M1305.1 1438.6h.01M1323.1 1446.4h.01M1380.3 1441.8h.01M1408.0 1545.8h.01M1360.1 1457.2h.01M1252.6 1413.7h.01M1368.5 1439.8h.01M1427.5 1438.2h.01M1335.9 1453.0h.01M1364.2 1448.8h.01M1307.5 1448.2h.01M1252.2 1435.9h.01M1253.8 1439.4h.01M1414.9 1438.0h.01M1312.6 1447.7h.01M1337.9 1452.8h.01M1353.6 1443.8h.01M1357.9 1455.2h.01M1325.5 1447.9h.01M1416.2 1514.9h.01M1318.0 1447.4h.01M1313.3 1451.7h.01M1014.3 1538.4h.01M1333.6 1445.6h.01M1377.1 1444.9h.01M1348.6 1432.2h.01M1331.9 1451.8h.01M1195.8 1429.1h.01M1375.3 1429.9h.01M1336.8 1451.5h.01M1297.2 1430.1h.01M1376.7 1429.4h.01M1371.8 1456.7h.01" stroke="#95BCD6" stroke-width="11.6" stroke-linecap="round" fill="none"/>
<path d="M1393.2 1646.0h.01M1416.5 1546.3h.01M1411.4 1494.3h.01M1356.4 1666.7h.01M1397.6 1638.2h.01M1384.1 1625.0h.01" stroke="#A88AD0" stroke-width="11.6" stroke-linecap="round" fill="none"/>
<path d="M1047.2 1471.6h.01M993.7 1523.4h.01M985.2 1530.7h.01M1046.0 1472.0h.01M1056.9 1456.9h.01" stroke="#A52A2A" stroke-width="11.6" stroke-linecap="round" fill="none"/>
<path d="M1372.5 1679.1h.01M1426.0 1540.4h.01M1458.6 1432.0h.01M1361.0 1710.9h.01M1397.5 1618.0h.01M1374.0 1620.9h.01M1403.7 1566.9h.01M1387.7 1525.9h.01M1330.1 1713.1h.01M1373.0 1652.5h.01M1367.4 1655.5h.01M1357.3 1726.5h.01M1460.9 1420.8h.01M1407.4 1596.1h.01M1376.5 1682.9h.01M1429.9 1517.4h.01M1382.8 1595.1h.01M1361.3 1718.2h.01M1407.0 1604.6h.01M1405.9 1495.3h.01M1401.9 1500.9h.01M1423.9 1553.5h.01M1408.8 1561.0h.01M1424.7 1515.8h.01M1461.0 1421.5h.01M1415.3 1478.4h.01M1367.4 1697.5h.01M1404.0 1609.6h.01M1424.2 1541.7h.01M1346.4 1726.4h.01M1335.2 1703.6h.01M1425.8 1502.7h.01M1379.3 1631.0h.01M1452.5 1411.9h.01M1457.5 1411.9h.01M1391.4 1646.7h.01M1439.9 1429.0h.01M1392.9 1541.1h.01M927.9 1569.2h.01M1412.3 1554.5h.01M1408.4 1510.3h.01M1422.7 1522.1h.01M1411.9 1536.5h.01M1412.6 1565.7h.01M1414.5 1601.0h.01M1392.8 1620.0h.01M1368.8 1677.3h.01M1466.1 1430.3h.01M1450.0 1411.8h.01M1415.6 1511.4h.01M1425.7 1514.7h.01M1354.7 1717.4h.01M1346.3 1733.9h.01M1426.6 1515.6h.01M1405.6 1527.7h.01M1377.5 1643.1h.01M1394.0 1610.2h.01M894.6 1582.5h.01M1421.5 1558.3h.01M1404.6 1598.8h.01M1357.3 1668.7h.01M1406.3 1576.0h.01M1365.7 1705.1h.01M1422.6 1566.1h.01M1003.9 1537.9h.01M1323.4 1734.1h.01M1365.3 1658.7h.01M1392.1 1651.7h.01M1456.8 1431.5h.01M1045.0 1508.1h.01M990.4 1562.0h.01M1457.0 1426.8h.01M1395.2 1537.8h.01M1359.1 1674.6h.01M1369.5 1690.9h.01M1389.0 1598.7h.01M1455.0 1413.9h.01M1396.1 1509.4h.01M1420.7 1528.5h.01M1320.3 1759.5h.01M1351.4 1729.4h.01M1396.7 1526.4h.01M1391.4 1522.5h.01M1463.5 1413.0h.01M1462.6 1414.3h.01M1422.9 1520.3h.01M955.9 1601.1h.01M1462.5 1414.9h.01M1417.5 1479.1h.01M1406.0 1574.6h.01M1358.5 1674.4h.01M1456.9 1418.7h.01M1395.4 1626.5h.01M1398.5 1629.4h.01M1392.6 1520.9h.01M1425.3 1522.4h.01M1401.0 1635.7h.01M1040.1 1514.1h.01M1350.1 1730.0h.01M1394.2 1543.6h.01M946.7 1610.3h.01M1414.7 1557.8h.01M1035.5 1518.9h.01M1425.3 1530.3h.01M1389.1 1531.7h.01M1043.4 1513.1h.01M1407.9 1478.9h.01M1361.1 1680.9h.01M1365.0 1692.8h.01M1366.6 1707.9h.01M1424.3 1542.6h.01M1413.8 1472.7h.01M1391.2 1596.8h.01M1396.2 1596.4h.01M1402.5 1531.0h.01M1339.6 1716.1h.01M1386.1 1520.6h.01M1397.9 1499.8h.01M1398.4 1637.6h.01M1042.3 1499.0h.01M1382.7 1612.0h.01M1406.1 1555.6h.01M1422.6 1513.2h.01M1383.2 1601.8h.01M1401.7 1561.7h.01M1396.4 1575.3h.01M1377.5 1678.3h.01M1371.0 1653.3h.01M1347.1 1740.7h.01M1362.4 1679.3h.01M1416.9 1505.0h.01M1374.7 1693.0h.01M1391.4 1641.4h.01M1347.6 1737.0h.01M1460.5 1414.7h.01M1425.4 1512.8h.01M1405.6 1562.3h.01M1391.1 1608.7h.01M1076.0 1463.8h.01M1000.7 1542.1h.01M1373.5 1649.2h.01M1383.8 1638.8h.01M895.0 1589.8h.01M1398.0 1570.4h.01M1458.1 1415.4h.01M1463.3 1416.3h.01M1391.8 1537.7h.01M1409.8 1610.9h.01M1387.9 1645.3h.01M1333.8 1703.7h.01M1080.1 1476.7h.01M1415.2 1578.5h.01M1411.3 1608.3h.01M1366.9 1654.0h.01M1457.6 1421.8h.01M1459.1 1419.3h.01M1411.6 1594.1h.01M1405.1 1524.7h.01M1426.3 1543.0h.01M1457.5 1408.3h.01M960.3 1577.5h.01M1383.2 1624.4h.01M1456.4 1410.7h.01M1408.7 1616.9h.01M1450.5 1424.5h.01M1378.5 1616.4h.01M1328.0 1738.4h.01M1389.5 1632.8h.01M1378.4 1681.7h.01M1392.4 1590.5h.01M947.9 1564.0h.01M1460.2 1420.6h.01M1408.8 1499.1h.01M1369.0 1691.0h.01M1335.1 1705.8h.01M1331.3 1715.7h.01M1422.1 1536.1h.01M1383.1 1613.7h.01M1452.2 1414.1h.01M1450.5 1420.2h.01M1463.5 1414.6h.01M1461.0 1423.5h.01M936.9 1576.1h.01M1468.3 1427.7h.01M1375.4 1637.4h.01M1414.2 1497.2h.01M1415.6 1555.3h.01M1341.3 1719.4h.01M1457.1 1418.6h.01M1291.7 1746.1h.01M1450.1 1420.7h.01M1068.3 1472.9h.01M1382.9 1631.6h.01M1422.9 1505.9h.01M1388.7 1661.4h.01M1351.1 1737.2h.01M1385.5 1605.8h.01M1396.6 1651.6h.01M1455.5 1421.4h.01M1383.0 1612.9h.01M1419.0 1541.3h.01M1452.1 1418.1h.01M1364.2 1696.6h.01M1417.4 1529.4h.01" stroke="#5E7697" stroke-width="11.6" stroke-linecap="round" fill="none"/>
<path d="M993.1 1521.7h.01M1082.7 1446.8h.01M1296.6 1742.4h.01M941.3 1567.9h.01M970.4 1587.9h.01M900.3 1374.6h.01M1102.7 1438.2h.01M1048.6 1507.2h.01M1059.5 1504.8h.01M945.2 1608.3h.01M1060.0 1472.2h.01M944.8 1612.7h.01M918.5 1604.7h.01M910.2 1372.2h.01M930.9 1600.4h.01M902.9 1607.0h.01M947.9 1383.2h.01M956.3 1574.3h.01M949.3 1384.1h.01M914.8 1606.3h.01M925.6 1571.1h.01M1076.9 1471.2h.01M921.9 1572.4h.01M912.1 1370.0h.01M1279.9 1764.4h.01M907.8 1609.2h.01M1379.0 1678.8h.01M968.4 1578.9h.01M910.7 1586.4h.01M922.0 1370.9h.01M921.0 1631.7h.01M892.8 1591.8h.01M963.3 1595.4h.01M947.1 1381.8h.01M916.3 1571.6h.01M938.6 1379.2h.01M937.6 1560.2h.01M939.4 1603.4h.01M1388.0 1599.7h.01M930.1 1377.2h.01M970.5 1589.1h.01M1020.0 1520.7h.01M939.9 1553.9h.01M960.5 1580.6h.01M935.6 1607.3h.01M1399.0 1586.2h.01M1044.8 1480.0h.01M959.6 1377.3h.01M1064.6 1487.7h.01M955.7 1552.2h.01M949.5 1604.2h.01M1236.8 1431.9h.01M1353.0 1711.7h.01M966.1 1551.9h.01M907.6 1586.0h.01M926.4 1612.9h.01M910.9 1612.5h.01M1373.8 1625.1h.01M1319.2 1726.5h.01M1074.3 1487.9h.01M944.0 1565.9h.01M1066.6 1470.7h.01M1384.8 1600.1h.01M992.0 1552.0h.01M916.3 1569.5h.01M1296.4 1741.5h.01M1334.3 1720.1h.01M920.3 1571.4h.01M965.4 1542.1h.01M1038.4 1509.0h.01M926.3 1578.0h.01M1027.0 1491.8h.01M1007.5 1534.0h.01M997.8 1553.7h.01M932.5 1597.2h.01M892.6 1596.0h.01M1376.5 1629.7h.01M925.0 1574.5h.01M1059.5 1484.2h.01M973.3 1576.8h.01M926.8 1567.1h.01M915.7 1573.1h.01M1056.7 1501.1h.01M1370.3 1647.3h.01M965.6 1574.1h.01M1397.8 1637.4h.01M1392.2 1552.6h.01M927.1 1570.0h.01M967.7 1586.9h.01M1361.3 1703.5h.01M889.2 1586.1h.01M1342.3 1727.9h.01M944.3 1563.5h.01M921.7 1370.5h.01M1390.1 1526.5h.01M908.7 1578.3h.01M931.0 1568.5h.01M1372.2 1637.6h.01M927.4 1561.1h.01" stroke="#B49FDB" stroke-width="11.6" stroke-linecap="round" fill="none"/>
<path d="M1023.0 1529.7h.01M1049.3 1473.4h.01M992.7 1541.5h.01M921.1 1620.2h.01M1423.7 1431.5h.01M1077.7 1478.3h.01M1109.1 1418.2h.01M917.7 1626.9h.01M910.7 1577.4h.01M948.2 1608.4h.01M1084.0 1454.5h.01M1002.0 1531.9h.01M1060.5 1493.1h.01M1407.8 1443.9h.01M1001.5 1545.6h.01M939.5 1590.9h.01M1071.8 1487.7h.01M1029.0 1500.8h.01M1208.7 1410.0h.01M934.7 1617.7h.01M952.7 1548.4h.01M971.9 1570.8h.01M1068.1 1466.7h.01M1005.3 1520.5h.01M937.2 1375.8h.01M896.3 1344.5h.01M1006.0 1546.8h.01M891.2 1343.8h.01M1311.2 1731.4h.01M944.5 1382.4h.01M929.6 1376.7h.01M1149.5 1426.1h.01M926.0 1580.1h.01M939.0 1566.6h.01M1248.2 1430.6h.01M988.5 1567.4h.01M1042.3 1483.9h.01M1254.7 1437.9h.01M913.2 1615.5h.01M938.1 1570.7h.01M1058.6 1496.9h.01M1356.0 1428.4h.01M1255.1 1410.8h.01M927.1 1594.9h.01M1104.6 1427.5h.01M999.2 1527.6h.01M1376.4 1448.1h.01M1029.8 1501.6h.01M981.4 1374.5h.01M1130.9 1435.9h.01M1136.1 1450.6h.01M946.8 1576.5h.01M1189.5 1430.8h.01M939.8 1569.7h.01M926.4 1569.1h.01M949.9 1384.5h.01M1403.5 1441.5h.01M914.0 1611.4h.01M1058.4 1501.5h.01M977.9 1579.8h.01M955.4 1592.0h.01M1396.8 1455.1h.01M1279.1 1758.4h.01M945.3 1609.3h.01M1010.1 1507.3h.01M1283.7 1759.2h.01M1319.5 1449.2h.01M1064.1 1454.3h.01M952.0 1371.4h.01M1072.9 1483.0h.01M977.4 1575.8h.01M1183.6 1415.1h.01M902.5 1590.7h.01M992.9 1380.5h.01M932.0 1591.0h.01M915.9 1628.5h.01M927.1 1611.3h.01M934.0 1373.1h.01M1018.1 1506.5h.01M1120.6 1453.0h.01M1417.9 1433.3h.01M1120.0 1447.2h.01M1009.6 1536.5h.01M1051.6 1480.5h.01M1024.1 1393.8h.01M1024.0 1523.6h.01M1346.0 1440.5h.01M943.4 1618.3h.01M965.8 1541.1h.01M924.1 1630.3h.01M916.3 1590.5h.01M1426.8 1436.0h.01M1000.7 1553.8h.01M978.0 1536.1h.01M945.2 1571.8h.01M1403.8 1452.9h.01M1187.5 1427.5h.01M1279.2 1767.3h.01M1081.0 1470.5h.01" stroke="#D4A3E0" stroke-width="11.6" stroke-linecap="round" fill="none"/>
<path d="M1284.5 1764.9h.01M1335.0 1724.0h.01M1287.2 1756.1h.01M903.0 1600.3h.01M1296.8 1752.7h.01M1293.0 1764.1h.01M1325.6 1761.8h.01M899.0 1600.5h.01M1012.2 1404.7h.01M1309.9 1775.4h.01M1361.1 1716.8h.01M1351.8 1675.8h.01M1371.5 1672.7h.01M1384.3 1599.5h.01M1352.8 1726.5h.01M1337.4 1717.2h.01M1322.0 1742.9h.01M1309.9 1729.0h.01M1297.7 1777.1h.01M1451.2 1417.1h.01M1366.4 1695.6h.01M1288.6 1764.9h.01M1348.2 1684.9h.01M1293.0 1783.9h.01M1306.2 1784.5h.01M1330.6 1761.3h.01M1314.0 1748.7h.01M900.6 1579.8h.01M1344.1 1688.2h.01M1309.3 1778.0h.01M1372.8 1687.0h.01M1301.6 1768.0h.01M1312.3 1757.6h.01M1309.5 1756.3h.01M919.5 1624.1h.01M1416.4 1577.2h.01M1350.2 1737.0h.01M1354.8 1670.9h.01M1294.8 1786.5h.01M1384.7 1619.2h.01M1377.0 1677.6h.01M1341.2 1696.7h.01M892.2 1593.9h.01M1316.2 1775.2h.01M1321.0 1732.1h.01M1296.7 1753.3h.01M1312.9 1777.6h.01M1284.2 1773.4h.01M1341.9 1736.9h.01M1284.7 1778.4h.01M1330.5 1756.0h.01M1309.8 1768.4h.01M1282.1 1762.7h.01M1352.4 1678.3h.01M1277.5 1770.0h.01M1281.0 1771.3h.01M1307.5 1785.0h.01M1308.7 1782.8h.01M1347.1 1726.4h.01M1316.7 1728.5h.01M1321.2 1772.7h.01M916.8 1596.4h.01M1016.1 1524.2h.01M1346.5 1715.0h.01M1292.9 1778.9h.01M1410.7 1594.0h.01M1361.2 1662.8h.01M1308.5 1760.4h.01M1358.0 1712.5h.01M1310.2 1736.7h.01M1457.4 1419.6h.01M1306.9 1764.4h.01M1328.2 1769.5h.01M978.5 1556.8h.01M1376.2 1687.9h.01M1405.7 1563.2h.01M1339.6 1698.4h.01M1315.0 1769.0h.01M1348.9 1694.9h.01M1325.4 1741.6h.01M1038.0 1416.6h.01M1389.2 1631.5h.01M1339.4 1727.4h.01M1316.6 1741.3h.01M1300.6 1762.3h.01M1367.1 1664.3h.01M1059.6 1488.4h.01M1052.6 1513.4h.01M984.7 1387.0h.01M1335.6 1763.0h.01M1287.6 1775.7h.01M1083.8 1455.4h.01M1054.1 1413.7h.01M1295.7 1742.1h.01M1326.5 1728.0h.01M1312.2 1731.2h.01M1312.8 1728.2h.01M1321.8 1771.6h.01M1342.1 1748.9h.01M1300.0 1773.4h.01M1312.8 1774.9h.01" stroke="#3E5480" stroke-width="11.6" stroke-linecap="round" fill="none"/>
<path d="M912.1 1316.5h.01M1363.6 1458.0h.01M907.9 1577.1h.01M962.6 1591.7h.01M1079.6 1472.8h.01M981.7 1561.8h.01M915.5 1612.0h.01M1387.3 1449.5h.01M1115.2 1425.8h.01M1376.0 1432.0h.01M931.8 1345.8h.01M1351.8 1447.2h.01M1306.2 1440.1h.01M998.7 1394.9h.01M1309.7 1435.7h.01M1334.3 1442.0h.01M1311.4 1433.9h.01M940.1 1364.8h.01M1125.4 1425.5h.01M973.1 1555.8h.01M1065.1 1421.6h.01M938.8 1369.2h.01M1066.9 1428.6h.01M1030.0 1410.1h.01M1360.2 1442.2h.01M971.7 1580.2h.01M1323.2 1445.9h.01M924.2 1603.3h.01M1318.2 1435.2h.01M957.4 1338.9h.01" stroke="#DDB5DA" stroke-width="11.6" stroke-linecap="round" fill="none"/>
<path d="M1046.2 1506.8h.01M1102.4 1438.0h.01M1405.7 1443.3h.01M1406.2 1539.8h.01M977.1 1373.5h.01M1139.6 1451.1h.01M1178.5 1430.8h.01M999.0 1376.5h.01M1393.0 1510.1h.01M1355.6 1432.1h.01M1072.3 1470.5h.01M992.6 1547.7h.01M1263.2 1429.1h.01M1068.4 1433.4h.01M1414.7 1435.8h.01M981.9 1365.9h.01" stroke="#27325E" stroke-width="11.6" stroke-linecap="round" fill="none"/>
<path d="M975.5 1579.5h.01M1050.5 1416.8h.01M1052.4 1478.0h.01M1352.4 1678.3h.01M1105.6 1448.7h.01M1008.8 1395.6h.01M910.3 1604.0h.01M1047.1 1421.7h.01M1010.4 1506.4h.01M1056.5 1472.4h.01M999.1 1522.0h.01M1002.6 1513.4h.01M1032.0 1411.0h.01M1023.0 1497.0h.01M927.9 1563.0h.01M986.7 1529.2h.01M920.7 1375.1h.01M1343.5 1694.0h.01M985.4 1543.0h.01M956.2 1558.1h.01M1025.1 1497.7h.01M974.7 1380.6h.01M1157.2 1428.9h.01M979.2 1541.2h.01M1051.1 1427.2h.01M1030.3 1505.9h.01M958.5 1594.1h.01M1024.5 1496.4h.01M1012.7 1507.0h.01M1439.6 1430.9h.01M1150.5 1447.9h.01M910.1 1602.7h.01M1122.1 1445.2h.01M1044.9 1477.9h.01M1006.9 1390.0h.01M1014.1 1395.4h.01M931.8 1603.7h.01M948.3 1582.8h.01M1017.1 1529.1h.01M1058.7 1470.9h.01M1017.0 1531.8h.01M1005.9 1383.9h.01M1044.2 1488.9h.01M1000.4 1560.0h.01M981.2 1365.5h.01M1113.3 1425.6h.01M1434.2 1433.3h.01M1029.6 1496.8h.01M1030.8 1492.4h.01M1061.4 1464.8h.01M993.7 1377.0h.01M974.1 1380.0h.01M1353.2 1684.8h.01M1283.7 1436.2h.01M1130.0 1447.6h.01M1417.5 1436.8h.01M1134.8 1432.5h.01M1058.4 1483.7h.01M1352.7 1444.6h.01M1043.1 1477.7h.01M947.4 1551.2h.01M1079.8 1438.8h.01M940.8 1624.0h.01M977.3 1366.3h.01M986.7 1544.2h.01M1056.3 1463.2h.01M1190.8 1432.3h.01M948.9 1377.3h.01M999.4 1375.2h.01M971.3 1539.5h.01M996.4 1385.1h.01M973.2 1541.8h.01M1060.2 1454.9h.01M1061.8 1426.0h.01M989.4 1562.6h.01M1052.3 1485.4h.01M1077.5 1446.0h.01M1030.2 1498.9h.01M1016.1 1525.2h.01M1100.7 1442.5h.01M1041.0 1406.6h.01M1043.6 1412.4h.01M942.6 1558.7h.01M1373.0 1442.9h.01M1060.9 1469.0h.01M1058.2 1474.1h.01M984.0 1385.5h.01M1072.1 1454.4h.01M1205.0 1435.6h.01M1056.7 1459.6h.01M1068.4 1423.8h.01M1079.0 1436.3h.01M1125.8 1437.9h.01M1081.1 1434.0h.01M992.0 1547.8h.01M976.9 1539.6h.01M1014.8 1386.7h.01M1048.1 1472.3h.01M993.9 1538.2h.01M1040.4 1491.2h.01M1021.8 1391.0h.01M984.8 1366.7h.01M970.6 1537.2h.01M1313.5 1725.1h.01M1082.5 1463.5h.01M1061.3 1425.2h.01M949.9 1576.6h.01M1336.3 1711.8h.01M1084.9 1457.0h.01M1031.7 1396.1h.01M942.7 1554.5h.01" stroke="#B04020" stroke-width="11.6" stroke-linecap="round" fill="none"/>
<circle cx="1054.0" cy="1478.5" r="13.3" fill="#0A0A05"/>
<text transform="translate(1054.0 1486.5)" font-size="22.5" fill="#fff" text-anchor="middle">1</text>
<circle cx="1083.0" cy="1447.0" r="13.3" fill="#0A0A05"/>
<text transform="translate(1083.0 1455.0)" font-size="22.5" fill="#fff" text-anchor="middle">2</text>
<circle cx="1383.2" cy="1460.3" r="13.3" fill="#0A0A05"/>
<text transform="translate(1383.2 1468.3)" font-size="22.5" fill="#fff" text-anchor="middle">3</text>
<text transform="translate(75.7 1947.0)" font-size="32.8" fill="#000" text-anchor="start">Pseudotime</text>
<text transform="translate(281.8 1947.0)" font-size="32.8" fill="#000" text-anchor="start">Cell Type</text>
<rect x="75.5" y="1982" width="51" height="255.6" fill="url(#gv)"/>
<line x1="75.5" y1="1986.6" x2="85.5" y2="1986.6" stroke="#fff" stroke-width="1" opacity="0.75"/>
<line x1="116.5" y1="1986.6" x2="126.5" y2="1986.6" stroke="#fff" stroke-width="1" opacity="0.75"/>
<line x1="75.5" y1="2033.5" x2="85.5" y2="2033.5" stroke="#fff" stroke-width="1" opacity="0.75"/>
<line x1="116.5" y1="2033.5" x2="126.5" y2="2033.5" stroke="#fff" stroke-width="1" opacity="0.75"/>
<line x1="75.5" y1="2080.9" x2="85.5" y2="2080.9" stroke="#fff" stroke-width="1" opacity="0.75"/>
<line x1="116.5" y1="2080.9" x2="126.5" y2="2080.9" stroke="#fff" stroke-width="1" opacity="0.75"/>
<line x1="75.5" y1="2128.3" x2="85.5" y2="2128.3" stroke="#fff" stroke-width="1" opacity="0.75"/>
<line x1="116.5" y1="2128.3" x2="126.5" y2="2128.3" stroke="#fff" stroke-width="1" opacity="0.75"/>
<line x1="75.5" y1="2175.4" x2="85.5" y2="2175.4" stroke="#fff" stroke-width="1" opacity="0.75"/>
<line x1="116.5" y1="2175.4" x2="126.5" y2="2175.4" stroke="#fff" stroke-width="1" opacity="0.75"/>
<line x1="75.5" y1="2223.0" x2="85.5" y2="2223.0" stroke="#fff" stroke-width="1" opacity="0.75"/>
<line x1="116.5" y1="2223.0" x2="126.5" y2="2223.0" stroke="#fff" stroke-width="1" opacity="0.75"/>
<text transform="translate(163.2 2000.6) rotate(-90)" font-size="26.4" fill="#000" text-anchor="middle">25</text>
<text transform="translate(163.2 2047.8) rotate(-90)" font-size="26.4" fill="#000" text-anchor="middle">20</text>
<text transform="translate(163.2 2095.0) rotate(-90)" font-size="26.4" fill="#000" text-anchor="middle">15</text>
<text transform="translate(163.2 2142.6) rotate(-90)" font-size="26.4" fill="#000" text-anchor="middle">10</text>
<text transform="translate(163.2 2190.2) rotate(-90)" font-size="26.4" fill="#000" text-anchor="middle">5</text>
<text transform="translate(163.2 2237.6) rotate(-90)" font-size="26.4" fill="#000" text-anchor="middle">0</text>
<circle cx="294.6" cy="1996.3" r="11.7" fill="#3E9296"/>
<text transform="translate(335.9 2005.7)" font-size="26.65" fill="#000" text-anchor="start">Fetal_DC_01_HLA−DPA1</text>
<circle cx="294.6" cy="2047.7" r="11.7" fill="#5E7697"/>
<text transform="translate(335.9 2057.1)" font-size="26.65" fill="#000" text-anchor="start">Fetal_Erythroid_01_GYPA</text>
<circle cx="294.6" cy="2098.7" r="11.7" fill="#3E5480"/>
<text transform="translate(335.9 2108.1)" font-size="26.65" fill="#000" text-anchor="start">Fetal_Erythroid_02_SYNGR1</text>
<circle cx="294.6" cy="2149.8" r="11.7" fill="#27325E"/>
<text transform="translate(335.9 2159.2)" font-size="26.65" fill="#000" text-anchor="start">Fetal_Erythroid_03_HBA1_MT1H</text>
<circle cx="294.6" cy="2201.0" r="11.7" fill="#95BCD6"/>
<text transform="translate(335.9 2210.4)" font-size="26.65" fill="#000" text-anchor="start">Fetal_Erythroid_04_HBE1</text>
<circle cx="294.6" cy="2252.4" r="11.7" fill="#A88AD0"/>
<text transform="translate(335.9 2261.8)" font-size="26.65" fill="#000" text-anchor="start">Fetal_HSC/MPP_01_SPINK2</text>
<circle cx="774.0" cy="1996.3" r="11.7" fill="#B49FDB"/>
<text transform="translate(816.0 2005.7)" font-size="26.65" fill="#000" text-anchor="start">Fetal_Megakaryocyte_01_GATA2</text>
<circle cx="774.0" cy="2047.7" r="11.7" fill="#D4A3E0"/>
<text transform="translate(816.0 2057.1)" font-size="26.65" fill="#000" text-anchor="start">Fetal_Megakaryocyte_02_PF4</text>
<circle cx="774.0" cy="2098.7" r="11.7" fill="#DDB5DA"/>
<text transform="translate(816.0 2108.1)" font-size="26.65" fill="#000" text-anchor="start">Fetal_Mo_01_S100A9</text>
<circle cx="774.0" cy="2149.8" r="11.7" fill="#CDA0C0"/>
<text transform="translate(816.0 2159.2)" font-size="26.65" fill="#000" text-anchor="start">Fetal_Mp_01_C1QB</text>
<circle cx="774.0" cy="2201.0" r="11.7" fill="#C290B0"/>
<text transform="translate(816.0 2210.4)" font-size="26.65" fill="#000" text-anchor="start">Fetal_Neut−Mye−Prog_01_MPO</text>
<circle cx="774.0" cy="2252.4" r="11.7" fill="#B87D9A"/>
<text transform="translate(816.0 2261.8)" font-size="26.65" fill="#000" text-anchor="start">Fetal_NK_01_CCL3</text>
<circle cx="1253.0" cy="1996.3" r="11.7" fill="#A52A2A"/>
<text transform="translate(1294.5 2005.7)" font-size="26.65" fill="#000" text-anchor="start">Fetal_NK_02_GNLY</text>
<circle cx="1253.0" cy="2047.7" r="11.7" fill="#B04020"/>
<text transform="translate(1294.5 2057.1)" font-size="26.65" fill="#000" text-anchor="start">Fetal_Pre−B_01_IGHM</text>
<circle cx="1253.0" cy="2098.7" r="11.7" fill="#C4601E"/>
<text transform="translate(1294.5 2108.1)" font-size="26.65" fill="#000" text-anchor="start">Fetal_Tcell_01_CD8A</text>
<circle cx="1253.0" cy="2149.8" r="11.7" fill="#E8952A"/>
<text transform="translate(1294.5 2159.2)" font-size="26.65" fill="#000" text-anchor="start">Fetal_Tcell_02_IL7R</text>
<circle cx="1253.0" cy="2201.0" r="11.7" fill="#E5D5A8"/>
<text transform="translate(1294.5 2210.4)" font-size="26.65" fill="#000" text-anchor="start">Fetal_Tcell_03_TIGIT</text>
<circle cx="1253.0" cy="2252.4" r="11.7" fill="#5E2323"/>
<text transform="translate(1294.5 2261.8)" font-size="26.65" fill="#000" text-anchor="start">Fetal_Tcell_04_GNLY</text>
</svg>
</body></html>
